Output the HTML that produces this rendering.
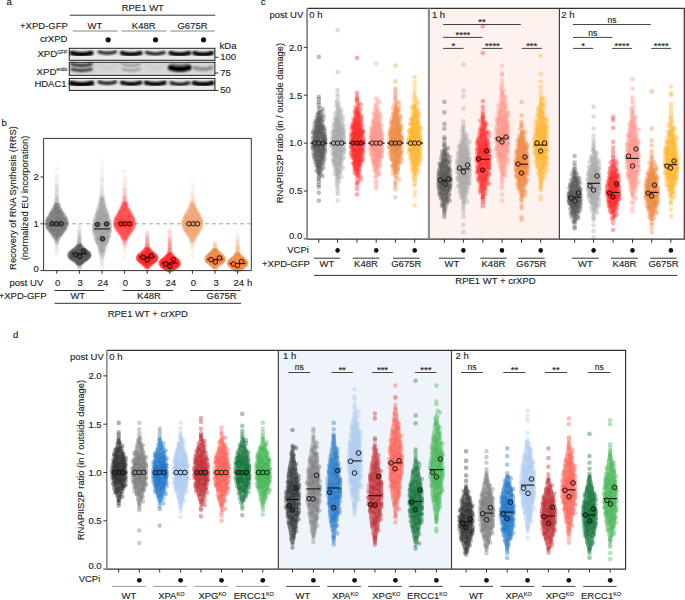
<!DOCTYPE html><html><head><meta charset="utf-8"><style>html,body{margin:0;padding:0;background:#fff}svg{display:block}text{font-family:"Liberation Sans",sans-serif;stroke:#333;stroke-width:0.15px}</style></head><body>
<svg width="685" height="600" viewBox="0 0 685 600">
<defs><filter id="bl" x="-20%" y="-50%" width="140%" height="200%"><feGaussianBlur stdDeviation="0.9"/></filter><filter id="bl2" x="-20%" y="-50%" width="140%" height="200%"><feGaussianBlur stdDeviation="0.6"/></filter></defs>
<text x="6.5" y="4.8" font-size="9.5" text-anchor="start" fill="#111" >a</text>
<text x="142.8" y="11.4" font-size="9.5" text-anchor="middle" fill="#222" >RPE1 WT</text>
<line x1="69.8" y1="15.2" x2="215.3" y2="15.2" stroke="#333" stroke-width="1"/>
<text x="67.8" y="28.5" font-size="9.5" text-anchor="end" fill="#222" >+XPD-GFP</text>
<text x="94.9" y="28.5" font-size="9.5" text-anchor="middle" fill="#222" >WT</text>
<line x1="72.7" y1="31.0" x2="117.7" y2="31.0" stroke="#888" stroke-width="1.2"/>
<text x="143.7" y="28.5" font-size="9.5" text-anchor="middle" fill="#222" >K48R</text>
<line x1="121.5" y1="31.0" x2="166.5" y2="31.0" stroke="#888" stroke-width="1.2"/>
<text x="192.5" y="28.5" font-size="9.5" text-anchor="middle" fill="#222" >G675R</text>
<line x1="170.3" y1="31.0" x2="214.9" y2="31.0" stroke="#888" stroke-width="1.2"/>
<text x="67.4" y="41.8" font-size="9.5" text-anchor="end" fill="#222" >crXPD</text>
<circle cx="108.2" cy="39.8" r="2.6" fill="#111"/>
<circle cx="155.5" cy="39.8" r="2.6" fill="#111"/>
<circle cx="203.5" cy="39.8" r="2.6" fill="#111"/>
<text x="67.2" y="57" font-size="9.7" text-anchor="end" fill="#222">XPD<tspan font-size="4.8" dy="-3.3">GFP</tspan></text>
<text x="67.2" y="74.6" font-size="9.7" text-anchor="end" fill="#222">XPD<tspan font-size="4.8" dy="-3.3">endo</tspan></text>
<text x="66.6" y="86.7" font-size="9.5" text-anchor="end" fill="#222" >HDAC1</text>
<rect x="69.3" y="48.3" width="145.6" height="12.0" fill="#e8e8e8" stroke="#222" stroke-width="1"/>
<g filter="url(#bl)">
<path d="M71.8 53.0 Q81.6 55.8 91.4 53.0" stroke="#000" stroke-width="4.6" fill="none" stroke-linecap="round"/>
<path d="M99.1 51.8 Q107.3 54.6 115.5 51.8" stroke="#111" stroke-width="3.0" fill="none" stroke-linecap="round"/>
<path d="M121.9 53.0 Q131.2 55.8 140.5 53.0" stroke="#000" stroke-width="4.2" fill="none" stroke-linecap="round"/>
<path d="M146.5 52.6 Q155.3 55.4 164.1 52.6" stroke="#111" stroke-width="3.2" fill="none" stroke-linecap="round"/>
<path d="M170.5 53.0 Q179.8 55.8 189.1 53.0" stroke="#000" stroke-width="4.3" fill="none" stroke-linecap="round"/>
<path d="M194.3 53.0 Q203.1 55.8 211.9 53.0" stroke="#000" stroke-width="4.2" fill="none" stroke-linecap="round"/>
</g>
<rect x="69.3" y="62.3" width="145.6" height="13.100000000000009" fill="#d6d6d6" stroke="#222" stroke-width="1"/>
<g filter="url(#bl)">
<path d="M71.8 64.1 Q81.6 66.9 91.4 64.1" stroke="#222" stroke-width="2.8" fill="none" stroke-linecap="round"/>
<path d="M71.8 69.1 Q81.6 71.9 91.4 69.1" stroke="#333" stroke-width="2.8" fill="none" stroke-linecap="round"/>
<path d="M99.3 66.3 Q107.3 69.1 115.3 66.3" stroke="#c8c8c8" stroke-width="2.0" fill="none" stroke-linecap="round"/>
<path d="M122.7 64.2 Q131.2 67.0 139.7 64.2" stroke="#8a8a8a" stroke-width="2.0" fill="none" stroke-linecap="round"/>
<path d="M122.7 69.1 Q131.2 71.9 139.7 69.1" stroke="#8a8a8a" stroke-width="2.0" fill="none" stroke-linecap="round"/>
<path d="M147.3 66.3 Q155.3 69.1 163.3 66.3" stroke="#c8c8c8" stroke-width="2.0" fill="none" stroke-linecap="round"/>
<path d="M170.8 67.6 Q179.8 70.4 188.8 67.6" stroke="#000" stroke-width="5.8" fill="none" stroke-linecap="round"/>
<path d="M171.8 63.6 Q179.8 66.4 187.8 63.6" stroke="#777" stroke-width="2.0" fill="none" stroke-linecap="round"/>
<path d="M194.8 67.7 Q203.1 70.5 211.4 67.7" stroke="#8a8a8a" stroke-width="3.8" fill="none" stroke-linecap="round"/>
</g>
<rect x="69.3" y="78.4" width="145.6" height="12.0" fill="#e8e8e8" stroke="#222" stroke-width="1"/>
<g filter="url(#bl)">
<path d="M71.4 83.1 Q81.6 85.9 91.8 83.1" stroke="#000" stroke-width="5.0" fill="none" stroke-linecap="round"/>
<path d="M99.1 82.0 Q107.3 84.8 115.5 82.0" stroke="#111" stroke-width="3.2" fill="none" stroke-linecap="round"/>
<path d="M121.9 82.7 Q131.2 85.5 140.5 82.7" stroke="#000" stroke-width="4.0" fill="none" stroke-linecap="round"/>
<path d="M146.0 82.7 Q155.3 85.5 164.6 82.7" stroke="#000" stroke-width="4.2" fill="none" stroke-linecap="round"/>
<path d="M170.8 82.9 Q179.8 85.7 188.8 82.9" stroke="#111" stroke-width="3.2" fill="none" stroke-linecap="round"/>
<path d="M193.8 82.9 Q203.1 85.7 212.4 82.9" stroke="#000" stroke-width="4.4" fill="none" stroke-linecap="round"/>
</g>
<text x="219.6" y="48.9" font-size="9.5" text-anchor="start" fill="#222" >kDa</text>
<line x1="215.0" y1="57.3" x2="218.5" y2="57.3" stroke="#333" stroke-width="1"/>
<text x="220.3" y="59.9" font-size="9.5" text-anchor="start" fill="#222" >100</text>
<line x1="215.0" y1="73.0" x2="218.5" y2="73.0" stroke="#333" stroke-width="1"/>
<text x="220.3" y="75.6" font-size="9.5" text-anchor="start" fill="#222" >75</text>
<line x1="215.0" y1="90.4" x2="218.5" y2="90.4" stroke="#333" stroke-width="1"/>
<text x="220.3" y="93.4" font-size="9.5" text-anchor="start" fill="#222" >50</text>
<text x="1.6" y="126.0" font-size="9.5" text-anchor="start" fill="#111" >b</text>
<text transform="translate(15.8,198) rotate(-90)" font-size="9.4" text-anchor="middle" fill="#222">Recovery of RNA Synthesis (RRS)</text>
<text transform="translate(27.8,198) rotate(-90)" font-size="9.4" text-anchor="middle" fill="#222">(normalized EU incorporation)</text>
<line x1="44" y1="223.8" x2="251" y2="223.8" stroke="#999" stroke-width="0.9" stroke-dasharray="4 3"/>
<path d="M57.3 205.4h0m.4 1.6h0m1.9 .9h0m-5.4 .4h0m4.1 1.4h0m-4.8 .9h0m5.4 1h0m-2.4 .1h0m3.1 .5h0m1.7 1h0m-2.8 .2h0m-7.1 .5h0m5.6 .5h0m2 .1h0m-1.2 .3h0m5.4 0h0m-13.5 .5h0m9.9 .3h0m-8.7 .4h0m11.9 .1h0m-13.4 .1h0m12.1 .1h0m-1.4 .2h0m2.4 .1h0m-3.8 .1h0m-1.5 .2h0m7.5 .4h0m-13.8 .4h0m3.5 .4h0m.3 .8h0m8.3 .3h0m-10.8 .3h0m-1.7 .2h0m-1.8 .2h0m2.8 .1h0m15 0h0m-6.4 .3h0m-4.7 0h0m8.8 .3h0m-9.1 .8h0m6 .2h0m-11.6 .3h0m-1.9 .1h0m15.8 .1h0m-16.6 .3h0m3.5 .8h0m-1.9 .1h0m7.3 .4h0m-5.7 .5h0m9.2 .3h0m-.8 .4h0m-1.8 .1h0m.8 1.3h0m.4 .7h0m-7.9 .4h0m-1.2 1.4h0m11.6 .3h0m-4 .1h0m-3.9 .1h0m11.1 .3h0m-11.9 1.4h0m-.1 .7h0m8.4 1.7h0m.3 .7h0m-2.8 1.4h0" stroke="#5a5a5a" stroke-opacity="0.14" stroke-width="4.6" stroke-linecap="round" fill="none"/>
<path d="M55.7 205.3h0m2.3 .8h0m-.7 1.7h0m2.3 2.2h0m1.3 .3h0m-6.2 .5h0m1.3 .3h0m-4.5 .9h0m1.9 .8h0m4 .8h0m.8 .5h0m5.1 .1h0m-8.8 .7h0m-2.8 .5h0m2.1 .1h0m.8 .4h0m.2 .9h0m-5.5 .3h0m2.4 .1h0m-1.6 .2h0m-1.7 .2h0m10.7 1.2h0m-2.3 .7h0m-2.1 1.3h0m-1.8 .1h0m7.7 0h0m-9.6 .2h0m10.7 .1h0m-9.6 .1h0m7.8 0h0m4.2 .4h0m1.2 .2h0m-13.1 1.1h0m9.1 .3h0m1.2 .2h0m-8.3 1h0m6.1 .2h0m1.2 .2h0m-3.8 .4h0m7.3 1.1h0m-1.8 .1h0m-2.6 .6h0m-11.9 .1h0m6.7 .4h0m7.3 .8h0m-7.9 1h0m1.4 1.2h0m-2.5 .6h0m4.1 3h0m-2.8 .7h0m-.6 .4h0m1.2 .4h0m3.7 .5h0m-4.5 .8h0m3 .7h0" stroke="#5a5a5a" stroke-opacity="0.14" stroke-width="4.6" stroke-linecap="round" fill="none"/>
<path d="M55.3 204.6h0m3.6 4.6h0m-1.8 .2h0m-2.7 .7h0m-.7 1.2h0m3.7 0h0m3.8 .1h0m-6.1 .1h0m-1 .4h0m-2.3 .7h0m8.7 .1h0m-2.7 .2h0m-5.1 .7h0m10.3 1.9h0m-9.8 .6h0m2.2 .2h0m8.5 .1h0m1.1 .4h0m-1.4 .2h0m-6 .8h0m-8.3 .1h0m.8 .3h0m5.3 .3h0m-6.1 .2h0m2.7 .1h0m12.6 .2h0m-7.2 0h0m3.9 .4h0m-3.4 .3h0m7.4 .1h0m-7 .6h0m-11.3 .3h0m2.9 .1h0m-.7 .4h0m-2.7 .6h0m15.1 .5h0m-.7 .4h0m-.7 .3h0m-13 .1h0m9.2 .2h0m-6.9 .3h0m15.3 .4h0m-9.9 .1h0m-5.1 1.1h0m4.9 0h0m1.2 .2h0m2.9 .1h0m1.2 .2h0m-10.2 .6h0m-1.7 .1h0m7.5 .1h0m-6.4 .2h0m12.2 0h0m2.8 .1h0m-13.8 .2h0m5.7 .2h0m7.4 .7h0m-12.9 .2h0m-2.7 0h0m1.5 2.1h0m5.5 .7h0m4.1 .3h0m-8.6 .1h0m11.5 .9h0m-2.9 .2h0m-2.9 .1h0m-1 .3h0m1.4 1.2h0m4.9 .3h0m-4.2 4.3h0" stroke="#5a5a5a" stroke-opacity="0.14" stroke-width="4.6" stroke-linecap="round" fill="none"/>
<path d="M54.3 207.1h0m-.9 1.8h0m2.7 .2h0m.3 .8h0m.5 .8h0m-6.6 4.9h0m7.9 .2h0m1 .4h0m1.5 1.2h0m4.8 .7h0m-3.2 .4h0m-1.6 1.3h0m2.2 1.6h0m-.8 1.5h0m-8 0h0m10 1.5h0m-17.3 .7h0m16.1 .7h0m-6.6 .3h0m-9.4 .1h0m12.7 .7h0m-.4 1.1h0m1.9 1.4h0m-8.1 .8h0m5.4 1.7h0m1.8 .2h0m-8.7 .4h0m6.7 2.4h0m-4.2 1h0m2.2 .8h0" stroke="#5a5a5a" stroke-opacity="0.14" stroke-width="4.6" stroke-linecap="round" fill="none"/>
<path d="M52.5 211.0h0m5.6 1h0m.7 .5h0m3.5 1.2h0m-6.5 .9h0m6.2 .5h0m-3.3 .1h0m1.8 .8h0m1.6 1.2h0m-.8 1h0m1.1 1.5h0m-1.2 .8h0m2.4 .5h0m-7.8 0h0m-8.5 .4h0m5.2 .6h0m-1.9 .1h0m9.1 .3h0m-.7 .4h0m-6.4 .8h0m14.1 .3h0m-18.6 .4h0m5 0h0m2.3 .5h0m9.1 .2h0m-1.9 .2h0m-5.6 .5h0m-2.5 .5h0m4 .4h0m-6.4 .2h0m9.5 .6h0m2.8 .1h0m-11.1 .8h0m6.1 .5h0m-9.6 .3h0m7.4 .4h0m2.4 .1h0m-1.5 .3h0m-7.4 .1h0m11.1 .7h0m-4.8 .4h0m-3.5 .7h0m4.9 1.4h0m2.9 .5h0m-7.1 .4h0m4.2 1.7h0" stroke="#5a5a5a" stroke-opacity="0.14" stroke-width="4.6" stroke-linecap="round" fill="none"/>
<path d="M56.7 204.9h0m.2 1.5h0m-.2 2h0m3 2.8h0m-4.1 .9h0m-4.6 1.3h0m13.1 2.5h0m-12.4 .5h0m.9 1.1h0m.9 .3h0m10.8 0h0m-12.5 .2h0m4.2 0h0m3.6 1.6h0m-2.4 .6h0m-8.3 .4h0m2.5 1.1h0m6 .2h0m-4.5 .7h0m-1.9 .2h0m2.3 .4h0m5.4 .6h0m5 0h0m-9.9 .1h0m9.1 .3h0m-13.6 .4h0m16.3 .7h0m-1.9 .1h0m-12.7 .1h0m1.2 .2h0m3 .1h0m2.9 .1h0m-6.5 .2h0m10.5 .2h0m-6.2 2.1h0m1 .3h0m.9 .3h0m-5.1 1.7h0m-2.2 1.3h0m2 .1h0m8.2 .4h0m-1.2 .4h0m-7.8 .4h0m5.7 .3h0m-2.4 .2h0" stroke="#5a5a5a" stroke-opacity="0.14" stroke-width="4.6" stroke-linecap="round" fill="none"/>
<path d="M57.5 204.3h0m.7 .8h0m.4 2.4h0m-3.5 1.2h0m5 .8h0m-7.1 2.7h0m9.3 .7h0m-2.8 .2h0m-6.3 1h0m7 .2h0m-7.7 .4h0m.6 .4h0m-.4 3.2h0m-4.3 .1h0m11.3 0h0m-8.7 .1h0m2 .6h0m7.2 0h0m-4.5 .1h0m-2.1 1.3h0m-.4 1.1h0m3.5 .7h0m10.3 .5h0m-16.5 2h0m-1.8 .2h0m16.1 .7h0m-3.7 .3h0m-1.9 .2h0m-8.2 .4h0m14.2 .4h0m-12.5 .5h0m12.6 .3h0m-3.5 .3h0m-10.1 .4h0m10.2 .4h0m-9.9 .9h0m6.3 1h0m-.6 .6h0m-5.2 0h0m9 .4h0m-3.6 .9h0m-5.4 .2h0m7.8 1.9h0m-6.6 1.8h0m4.8 .3h0m-1.9 1.1h0m1.8 .2h0m-2.8 .2h0m3.1 .5h0m-1 .5h0" stroke="#5a5a5a" stroke-opacity="0.14" stroke-width="4.6" stroke-linecap="round" fill="none"/>
<path d="M59.0 205.7h0m-2.6 1.6h0m-.3 5.3h0m-1.1 .4h0m4.3 .8h0m-3 .1h0m-1.2 .3h0m1.2 2.4h0m3.9 1.3h0m3.4 2h0m-7.1 .7h0m1.1 .2h0m-3.6 .4h0m-5.6 .4h0m7.8 .1h0m-1.8 .1h0m6 .2h0m-1.9 .2h0m-6.8 .2h0m13.4 .6h0m-5.6 .4h0m4.9 0h0m-7.6 .6h0m-.7 .4h0m-3.7 .3h0m-4.9 0h0m12.8 1.7h0m2.1 .5h0m-14.9 0h0m5.8 .2h0m-2.3 .6h0m9.9 .1h0m-8.7 .2h0m2.7 .1h0m2.6 .1h0m6.1 .5h0m-10.2 .9h0m-3.8 .1h0m7.1 .4h0m.8 .3h0m-5.8 0h0m2.3 .1h0m9.3 0h0m-3.6 .1h0m-4.3 1.4h0m6.9 .8h0m-9.6 1.1h0m4.3 .7h0m-3.4 0h0m2.6 .6h0m3.1 .1h0m-3.5 2.1h0m-1.1 .5h0" stroke="#5a5a5a" stroke-opacity="0.14" stroke-width="4.6" stroke-linecap="round" fill="none"/>
<path d="M55.0 207.6h0m-1.6 2.2h0m4.2 .4h0m-2 .2h0m-2.9 1.2h0m4.4 .7h0m4.2 .1h0m-9.1 .7h0m4.5 .1h0m-2.8 .1h0m.6 .5h0m7.3 1.9h0m-5.8 0h0m1.8 .7h0m-6.9 .5h0m3.2 .4h0m5.1 .3h0m-4.1 0h0m2.9 .9h0m2.7 .2h0m-10.4 .3h0m.9 .2h0m2.8 .2h0m1 .2h0m-7.3 0h0m17 .6h0m0 1.1h0m-.1 1h0m-1.8 .2h0m3 .1h0m-8 0h0m-1.9 .1h0m-9.4 .8h0m14.1 .2h0m-9.9 .1h0m-1.9 .2h0m18.3 .5h0m-1.9 .1h0m-7.9 0h0m9.1 .3h0m-6.8 .2h0m1.1 .2h0m1.1 .3h0m4 .3h0m-12.4 .1h0m-4.8 0h0m4.1 .4h0m1.2 .2h0m12.1 0h0m-14.4 .6h0m8.3 .4h0m-1.7 .1h0m-1.7 .2h0m2 .6h0m-4.2 .1h0m1 .3h0m9.8 .4h0m-14.2 .2h0m11 .3h0m-7.5 .1h0m8.2 .2h0m-3.7 .1h0m4.9 .6h0m-3.4 .2h0m.6 2.1h0m-7.9 1.9h0m3.6 1.1h0m.3 1h0" stroke="#5a5a5a" stroke-opacity="0.14" stroke-width="4.6" stroke-linecap="round" fill="none"/>
<path d="M56.2 205.8h0m-1.1 .4h0m.7 1.8h0m1.9 .8h0m2.8 3h0m-4.9 1.7h0m4.8 .1h0m1.8 .8h0m-8.4 .1h0m-3.3 .1h0m10.6 .1h0m-5.9 .6h0m1.7 .7h0m-6.8 .6h0m11 .2h0m-7.8 .2h0m6.4 .1h0m2 .6h0m-4.7 .6h0m6.5 .5h0m-5 .5h0m-9 .1h0m14.6 .1h0m-5.1 .5h0m-4.7 .1h0m7.5 0h0m-12.1 0h0m2.8 .1h0m10.5 .2h0m-3.6 .3h0m-11.3 .3h0m10.7 .1h0m-8.6 .4h0m7.9 0h0m7.8 0h0m-10.4 .6h0m-1.9 .1h0m12.9 0h0m-17.8 .1h0m-.7 .4h0m9.1 .2h0m-10.2 1.2h0m11.1 .1h0m4.2 .4h0m-8.7 .3h0m-5.5 .5h0m16 .7h0m-1.4 1.6h0m-8.8 .1h0m6.3 .5h0m-11.1 .1h0m12 .2h0m3.3 .4h0m-1.6 .2h0m1.5 .7h0m-3.8 .1h0m-9.9 .6h0m11.9 .5h0m-5.9 .6h0m-2.2 .6h0m-.1 .9h0m1.6 .2h0m-.7 2.9h0" stroke="#5a5a5a" stroke-opacity="0.14" stroke-width="4.6" stroke-linecap="round" fill="none"/>
<path d="M55.7 206.8h0m2.5 1.4h0m-2.9 1.4h0m3.6 .9h0m1.4 .2h0m1 3.3h0m-9.4 .3h0m4.6 .7h0m4.3 .3h0m-8.4 .5h0m3.3 1.3h0m.9 .4h0m6.2 .5h0m1.1 .3h0m-10.2 .3h0m2.7 .1h0m-7.9 .5h0m4.8 .6h0m2.8 .1h0m-8.3 .4h0m18.1 .1h0m-14.1 .3h0m5.1 .5h0m2.3 .5h0m-4 1.4h0m11.1 .1h0m-8 0h0m-3.8 .3h0m-6.9 .2h0m14.2 .2h0m-9.9 .1h0m8 .1h0m1.2 .2h0m2.2 .5h0m-11.6 .3h0m15 .4h0m-17.5 .1h0m4.8 0h0m1 1.3h0m3.9 .4h0m-9.5 .6h0m15 .3h0m-11.6 .6h0m1 .3h0m4.9 .2h0m-3.4 1h0m5.7 1h0m-6.4 .3h0m2.6 .6h0m-3.8 .4h0m0 .9h0m6.9 2.1h0m-2.6 .9h0m1.5 .8h0m-2.9 1.7h0" stroke="#5a5a5a" stroke-opacity="0.14" stroke-width="4.6" stroke-linecap="round" fill="none"/>
<path d="M58.9 206.7h0m.4 1.9h0m-5 .7h0m3.9 1.6h0m-3.7 1.6h0m5.4 2.4h0m-8.8 .1h0m6.3 .4h0m-3.4 1.1h0m-1.6 .2h0m5.8 .6h0m5 .2h0m-4.6 .6h0m6.5 .5h0m-3.3 .3h0m-14.2 0h0m18.2 .4h0m-15.1 1.1h0m11.7 .4h0m2.9 .1h0m1.2 .2h0m-4.2 .7h0m-7.5 .7h0m-4.9 0h0m14 .2h0m-14.8 .2h0m14.1 .2h0m-11.8 .3h0m6.2 .2h0m8 0h0m.4 .7h0m-14.8 .1h0m1.7 .9h0m-5.5 .5h0m3 .1h0m6.3 .9h0m6.7 .4h0m-9 .1h0m11.7 0h0m-9 .1h0m-8.8 .2h0m17 .9h0m-15.1 .1h0m1.1 .3h0m4.5 .8h0m5.3 .6h0m-5.4 1h0m7.2 .2h0m-3.2 .1h0m-2.9 1.4h0m2 .8h0m-3.1 .6h0m3.4 .1h0" stroke="#5a5a5a" stroke-opacity="0.14" stroke-width="4.6" stroke-linecap="round" fill="none"/>
<path d="M56.7 188.7h0m-.2 8.1h0m-.2 4.5h0m1.9 2.5h0m-1.3 40.2h0" stroke="#5a5a5a" stroke-opacity="0.07" stroke-width="4.6" stroke-linecap="round" fill="none"/>
<path d="M56.8 200.3h0m-.2 2.2h0m1.3 37.8h0" stroke="#5a5a5a" stroke-opacity="0.07" stroke-width="4.6" stroke-linecap="round" fill="none"/>
<path d="M56.8 187.6h0m.4 11.9h0m.4 1.5h0m-.6 2.4h0m-1.4 36.3h0m1.2 .3h0m-.2 1.9h0" stroke="#5a5a5a" stroke-opacity="0.07" stroke-width="4.6" stroke-linecap="round" fill="none"/>
<path d="M56.7 192.3h0m-.6 7.7h0m1.1 1.8h0m-1.4 1.3h0m.1 38.5h0" stroke="#5a5a5a" stroke-opacity="0.07" stroke-width="4.6" stroke-linecap="round" fill="none"/>
<path d="M56.8 169.0h0m0 10h0m-1.2 23.1h0m2 .8h0" stroke="#5a5a5a" stroke-opacity="0.07" stroke-width="4.6" stroke-linecap="round" fill="none"/>
<path d="M56.8 190.2h0m-.3 4.5h0m.6 1.3h0m-.2 1.4h0m.4 45h0" stroke="#5a5a5a" stroke-opacity="0.07" stroke-width="4.6" stroke-linecap="round" fill="none"/>
<path d="M56.8 186.0h0m0 9.4h0m-.2 3.7h0m-.4 41.6h0m.6 13.4h0" stroke="#5a5a5a" stroke-opacity="0.07" stroke-width="4.6" stroke-linecap="round" fill="none"/>
<path d="M56.8 184.4h0m0 63.9h0" stroke="#5a5a5a" stroke-opacity="0.07" stroke-width="4.6" stroke-linecap="round" fill="none"/>
<path d="M56.8 181.2h0m.4 59.7h0m-.4 9.5h0" stroke="#5a5a5a" stroke-opacity="0.07" stroke-width="4.6" stroke-linecap="round" fill="none"/>
<path d="M56.4 243.1h0" stroke="#5a5a5a" stroke-opacity="0.07" stroke-width="4.6" stroke-linecap="round" fill="none"/>
<path d="M56.8 175.2h0m.6 23h0m-1.2 5.8h0m.9 40.7h0m-.3 2.1h0" stroke="#5a5a5a" stroke-opacity="0.07" stroke-width="4.6" stroke-linecap="round" fill="none"/>
<path d="M57.0 191.8h0m-.1 1.6h0" stroke="#5a5a5a" stroke-opacity="0.07" stroke-width="4.6" stroke-linecap="round" fill="none"/>
<path d="M80.4 246.0h0m-3.3 .8h0m1.9 .1h0m2.8 .8h0m-4.2 .1h0m5.1 .5h0m-3.8 .2h0m2.7 .4h0m1.4 .1h0m.2 .6h0m-2.6 .1h0m-3.2 .5h0m-3 .1h0m1.8 0h0m5.7 .3h0m-8.3 .1h0m7.2 .1h0m-2.6 .2h0m-3.5 .6h0m7 .2h0m-7.8 .5h0m.9 .1h0m2.6 .1h0m-4.1 .4h0m14.4 0h0m-6.1 .2h0m-1.3 .4h0m-1.8 .1h0m7.6 0h0m-12.3 0h0m12.9 .3h0m-12.2 .4h0m.4 .3h0m10.3 .2h0m-3.1 0h0m-4.9 0h0m9.9 0h0m-8.7 .1h0m4.2 .2h0m-5.2 .5h0m1.1 .1h0m4.2 .2h0m6 .1h0m-12.7 0h0m3 .1h0m8.9 .1h0m-16.2 .2h0m11.8 .1h0m4.1 .6h0m1 .1h0m-15.2 .2h0m14.4 0h0m-6.9 .4h0m-3.7 .4h0m6.5 .5h0m-11 .1h0m5.1 .7h0m3.9 .2h0m3.6 .2h0m-3.3 .8h0m-3.4 .3h0m1.4 .2h0m3.6 0h0m-3 2.6h0m-2.4 .1h0" stroke="#3a3a3a" stroke-opacity="0.14" stroke-width="4.6" stroke-linecap="round" fill="none"/>
<path d="M81.0 247.0h0m-1.7 .7h0m-3.4 .3h0m2.2 .8h0m3.4 .7h0m-7.5 .5h0m4.6 0h0m5.5 .3h0m-6.6 .5h0m5.3 .1h0m-7.4 .4h0m10.4 .1h0m-7.4 .1h0m4.7 .2h0m2.1 .3h0m-6.1 .4h0m-8.5 .1h0m3.5 .2h0m6.9 .6h0m-6.4 .1h0m1 .1h0m7.6 0h0m-8.3 .2h0m1.8 0h0m-7.4 .3h0m4.1 .1h0m-1.9 .9h0m5 0h0m4.9 0h0m-6.8 .1h0m3.5 .3h0m-5 .1h0m-3.7 .1h0m15.2 .2h0m-13.5 .2h0m1.8 0h0m7.2 .2h0m8.9 .1h0m-19.1 .1h0m16.5 .2h0m-7.7 0h0m.5 .3h0m4.6 0h0m-1.2 .8h0m-2.9 .6h0m5.6 .3h0m.7 .2h0m-10 .3h0m-.3 .4h0m5.4 .6h0m1.4 1.4h0m-3.5 .7h0m2.3 .9h0m-4 .3h0m2.3 .7h0" stroke="#3a3a3a" stroke-opacity="0.14" stroke-width="4.6" stroke-linecap="round" fill="none"/>
<path d="M78.6 248.0h0m2.3 .4h0m-4 .3h0m3.9 .4h0m-5.8 .4h0m4.6 .4h0m.7 .2h0m2.9 0h0m1.9 .1h0m1 .6h0m-1.1 .1h0m-4.7 .2h0m1.9 .4h0m-1 .6h0m-1.5 .1h0m-6.5 .3h0m9 .3h0m-2.7 0h0m4.3 0h0m-3 1h0m-8.5 .2h0m12.6 0h0m-6.3 .4h0m-7.9 0h0m17.7 0h0m1.2 .1h0m-18.5 .2h0m13.4 .3h0m5.4 .3h0m-8 0h0m-5 0h0m-1.9 .1h0m11.5 .4h0m-14.2 .4h0m7.1 .2h0m5.9 .1h0m-7.7 0h0m-1.9 .6h0m9.4 .3h0m1.8 .3h0m-12.8 .1h0m6.2 .2h0m-8.5 .4h0m12.7 .5h0m-4.8 .7h0m-6.2 .1h0m1.1 .7h0m6.7 .9h0m-1.3 1.2h0m-1.8 .7h0" stroke="#3a3a3a" stroke-opacity="0.14" stroke-width="4.6" stroke-linecap="round" fill="none"/>
<path d="M81.2 245.7h0m0 .7h0m-3.4 2h0m4.4 .2h0m-2.8 .4h0m-4.6 .1h0m2.3 0h0m-.7 .5h0m-1.1 .2h0m7 0h0m-7.4 .7h0m9.1 .2h0m-4.5 .2h0m-5.6 .5h0m0 .5h0m8.3 .3h0m.5 .4h0m-2.2 .3h0m2.2 .3h0m-12 0h0m11.4 .2h0m-4.7 0h0m-6.5 .2h0m17 .4h0m-15.3 .3h0m.4 .3h0m4.9 0h0m11 .1h0m-3.2 .4h0m-5 .1h0m-1 .7h0m5.3 .2h0m-9.7 .1h0m-1.3 .4h0m3.4 .4h0m6.7 .2h0m-10.1 0h0m12.8 .1h0m-6.2 .1h0m-1.9 .7h0m-4 .1h0m13 0h0m-14.5 .1h0m1.1 .1h0m12.6 .1h0m-14 0h0m6.2 .1h0m.9 .1h0m-2.3 0h0m-.3 1.2h0m.8 .3h0m6.2 .1h0m-6.4 .4h0m2.7 1.4h0m.9 .2h0m-2.6 1.4h0" stroke="#3a3a3a" stroke-opacity="0.14" stroke-width="4.6" stroke-linecap="round" fill="none"/>
<path d="M75.9 248.9h0m2.6 .3h0m3.7 1h0m-9.1 .2h0m5.6 .3h0m5.1 .4h0m-4.8 .1h0m-7.2 .1h0m15.1 .3h0m-9.1 .2h0m-4.7 .3h0m11.7 .2h0m-12.5 .1h0m9.4 .1h0m2.6 0h0m-12.9 .1h0m6.7 .6h0m7.4 .6h0m-12.5 0h0m5.9 .1h0m1.2 .1h0m-4.9 .1h0m-3.7 .1h0m12 .2h0m-1.8 .1h0m1.1 .1h0m-3.7 .1h0m10.3 .3h0m-1.9 .1h0m-.7 .1h0m-8 0h0m4.2 .2h0m6.1 .1h0m-1.9 .1h0m-5.9 .7h0m-7.8 0h0m8.9 .1h0m6.9 .2h0m-8.4 .2h0m-4.7 .6h0m2.7 .1h0m-7.1 0h0m3.9 .8h0m1 .2h0m3.9 0h0m-6.6 .2h0m12.6 .3h0m-11.9 .2h0m5.6 .1h0m-6.7 .1h0m7.4 .1h0m2 .1h0m-3.7 .4h0m-.1 1.4h0m-2 .1h0m.3 .9h0m3.2 .4h0" stroke="#3a3a3a" stroke-opacity="0.14" stroke-width="4.6" stroke-linecap="round" fill="none"/>
<path d="M84.9 249.7h0m-.1 1.6h0m-1.3 .1h0m-2.7 .2h0m-4.5 .3h0m6.4 .1h0m1 .1h0m-12.3 .1h0m5.1 .1h0m4.2 0h0m-2.6 0h0m8.5 .5h0m-10.2 .5h0m12.7 .3h0m-4.8 .1h0m-8.3 .2h0m3.8 .6h0m1.2 .2h0m-7.6 .3h0m-2.1 .5h0m-.7 .2h0m1.2 .1h0m3.4 .9h0m9.3 0h0m3.9 .1h0m-16.7 .1h0m2.9 .1h0m7.7 .3h0m-2.7 0h0m-6.6 .3h0m4.3 0h0m-5.9 .1h0m16.4 .1h0m-10.1 .2h0m-6.7 0h0m11.8 .1h0m2.9 1.2h0m-.8 .3h0m-8.3 .1h0m-1.1 .1h0m0 .4h0m6.1 .2h0m-5.3 .1h0m4.1 1.1h0m-3.7 .2h0m5.5 .8h0m-3.7 .1h0m.9 .3h0" stroke="#3a3a3a" stroke-opacity="0.14" stroke-width="4.6" stroke-linecap="round" fill="none"/>
<path d="M80.2 246.7h0m-.4 .5h0m.9 .3h0m-.5 1.2h0m-7.5 2.3h0m11.8 .6h0m1 .1h0m-10.8 .3h0m3.7 .6h0m-2.6 0h0m3 .4h0m4.5 0h0m-9 0h0m12.4 .4h0m-16.8 0h0m9.7 .3h0m-1.8 .1h0m6.4 .4h0m-8.9 .7h0m-5 0h0m9.2 .1h0m-6.8 .2h0m3 0h0m13 0h0m-17.9 0h0m5.4 .3h0m9.1 .1h0m3.1 .1h0m-14.8 .1h0m4.2 .1h0m9 .2h0m-17.5 0h0m11.2 .4h0m-9.4 .1h0m5.8 .1h0m8.7 .1h0m-2.9 0h0m-2.5 .2h0m-9.5 .3h0m13.6 .3h0m-9.1 .3h0m3 .5h0m4.8 .1h0m0 .5h0m-3.5 .1h0m-7 .1h0m6.5 .2h0m7.2 .1h0m-3.1 1h0m-4.2 0h0m-2.5 .6h0m-.6 .3h0m6.7 .6h0" stroke="#3a3a3a" stroke-opacity="0.14" stroke-width="4.6" stroke-linecap="round" fill="none"/>
<path d="M77.9 246.1h0m-.4 3.3h0m.5 .3h0m-1.1 .2h0m2.3 .4h0m1.9 .1h0m2 .1h0m2 .1h0m-11 .3h0m11.9 .2h0m-3.5 .1h0m-6.3 .3h0m11.6 .6h0m-12.2 .1h0m4.5 .4h0m5.3 .1h0m2.8 0h0m-10.4 .2h0m-5.3 .2h0m14.8 .6h0m1.2 .1h0m-17.3 .1h0m2.9 0h0m3.4 .4h0m8.4 .3h0m2.4 .3h0m-.3 .5h0m-3.8 .1h0m-3.1 0h0m1.2 .1h0m-6.8 .1h0m8.4 .3h0m-13.4 .2h0m12.6 0h0m-6.6 .1h0m10.7 .1h0m-5.6 .2h0m5.8 .1h0m-11.1 .2h0m-3.5 .1h0m5.7 .1h0m4.6 0h0m-5.2 .3h0m-3.3 .1h0m11.4 0h0m-9.3 .3h0m9.4 .1h0m-12.5 .1h0m-1.5 .1h0m6.5 .8h0m-1.3 .1h0m7 .4h0m-9.8 .6h0m5.4 .3h0m-2.7 .1h0m7.4 .2h0m-1.2 .2h0m-2.4 .1h0m-1.3 1h0" stroke="#3a3a3a" stroke-opacity="0.14" stroke-width="4.6" stroke-linecap="round" fill="none"/>
<path d="M79.5 246.3h0m-1.1 .2h0m-.8 .6h0m3.8 1h0m-1.7 .2h0m3.9 .5h0m.5 1.1h0m-2.7 .1h0m-3.4 .5h0m3.6 .5h0m2.6 .8h0m-8.8 0h0m11.2 .1h0m-6.4 0h0m7.2 .4h0m-4.1 .1h0m-8.3 .4h0m9.9 .1h0m-11.4 .4h0m11.5 .2h0m-3.1 .5h0m-5.5 .2h0m4.8 0h0m4.2 .1h0m-8.6 .2h0m3.4 .4h0m-2.6 .2h0m-3.8 .2h0m5.5 .2h0m-6.9 .2h0m2.4 .2h0m2.3 .2h0m11.1 .4h0m-8.4 .2h0m5 .3h0m-8 .2h0m-1.7 .1h0m-4.9 .3h0m15 .2h0m-9 .3h0m8.3 .3h0m-3 .2h0m-6.2 0h0m7 .2h0m-1.5 .1h0m-7.1 .1h0m10 .2h0m-6.8 .1h0m7.1 .7h0m-7.6 .1h0m5.9 1h0m-3.8 .6h0" stroke="#3a3a3a" stroke-opacity="0.14" stroke-width="4.6" stroke-linecap="round" fill="none"/>
<path d="M82.1 247.3h0m-3.7 .1h0m-2.6 1.1h0m6.5 .8h0m-3.3 .3h0m1 .9h0m-3.9 .4h0m.7 .3h0m4.4 .1h0m-8.1 .4h0m-1.6 .1h0m.8 .2h0m14 .2h0m-.2 .8h0m-1.7 .1h0m4.5 0h0m-13.6 .1h0m8.5 .1h0m4.6 0h0m-9.2 .1h0m-6.5 .1h0m8.7 .1h0m-11.3 .2h0m7 .2h0m-6.7 .1h0m7.8 0h0m4.2 .2h0m2.3 .2h0m-11 0h0m14.1 .1h0m-3.8 .1h0m-8 0h0m-6.8 .1h0m16.9 .6h0m-16 0h0m13.4 .3h0m6 .1h0m-3.8 .1h0m-12.9 .6h0m-2.8 .5h0m12 0h0m-10.9 .1h0m4.6 .6h0m2.6 0h0m8.6 .4h0m-5.7 .1h0m2.5 .1h0m2.4 0h0m-14.5 .4h0m6.5 .5h0m-3.5 .4h0m8.9 .2h0m-9.9 .3h0m6.9 .5h0m-5.6 .4h0m6.6 .8h0m-3.6 .2h0m-.6 .9h0" stroke="#3a3a3a" stroke-opacity="0.14" stroke-width="4.6" stroke-linecap="round" fill="none"/>
<path d="M79.8 245.6h0m-3 2h0m3.5 .3h0m-3.5 .3h0m-.7 1.1h0m-.4 .8h0m-2.4 1.1h0m4.3 .2h0m-.6 .2h0m2.3 .1h0m-2.1 .4h0m-5.7 .9h0m4.5 0h0m9.5 .2h0m1.7 0h0m-15.5 .2h0m10.9 .4h0m3.5 .3h0m-3 0h0m-3.7 .1h0m9.7 0h0m-13.5 .2h0m4.9 0h0m-8.7 .1h0m.4 .3h0m1.9 0h0m-4.5 .3h0m14.2 .1h0m1.1 .1h0m-10.6 .3h0m6.1 .1h0m1.2 .1h0m-11.7 .1h0m12.1 .2h0m-3.7 .1h0m-3.7 .2h0m1.2 .1h0m-3.6 .2h0m5.9 .1h0m-4.7 0h0m7.9 .4h0m-9 0h0m7.7 .4h0m1.9 .3h0m-2.6 0h0m5.1 .1h0m-9.4 .9h0m6.6 .2h0m-3 .7h0m1.8 .1h0m-4.9 .8h0m4 .1h0m-1.6 .5h0m-2.5 .3h0m.9 .6h0m3.8 1.1h0" stroke="#3a3a3a" stroke-opacity="0.14" stroke-width="4.6" stroke-linecap="round" fill="none"/>
<path d="M78.9 245.8h0m1.1 3.5h0m3.9 .1h0m-7.1 1.2h0m-1.3 .1h0m-.8 .4h0m5.2 .3h0m-7.5 .1h0m6.3 .5h0m7.2 .4h0m1.1 .2h0m-5.9 .1h0m-4.3 0h0m-4.4 .1h0m-1.8 .1h0m6.5 .2h0m2.8 .1h0m8 .3h0m-15.9 .2h0m11.7 .2h0m3.5 .3h0m-17.6 .1h0m17 .1h0m-16.7 .2h0m13.4 .3h0m3.1 0h0m-14.4 .4h0m8 .1h0m-3.3 .4h0m10.9 .1h0m-6.8 .1h0m-6.7 .1h0m10.1 .2h0m1.9 0h0m-15.6 .5h0m16.1 .1h0m-.8 .2h0m-2.5 .4h0m-1.7 .1h0m1.9 .2h0m-11 .1h0m12.8 .3h0m-3.2 .2h0m-5.8 .4h0m8.8 .3h0m-2.8 .2h0m0 .6h0m.5 .3h0m-5.7 .7h0" stroke="#3a3a3a" stroke-opacity="0.14" stroke-width="4.6" stroke-linecap="round" fill="none"/>
<path d="M79.3 238.0h0m0 7h0m-.8 .4h0" stroke="#3a3a3a" stroke-opacity="0.07" stroke-width="4.6" stroke-linecap="round" fill="none"/>
<path d="M79.4 226.2h0m.3 12.9h0m-.3 2.1h0m.5 24.7h0" stroke="#3a3a3a" stroke-opacity="0.07" stroke-width="4.6" stroke-linecap="round" fill="none"/>
<path d="M79.4 232.1h0m.5 11.1h0m.4 .8h0" stroke="#3a3a3a" stroke-opacity="0.07" stroke-width="4.6" stroke-linecap="round" fill="none"/>
<path d="M79.4 238.7h0m.2 1.5h0m-.6 .4h0m-.3 1.9h0" stroke="#3a3a3a" stroke-opacity="0.07" stroke-width="4.6" stroke-linecap="round" fill="none"/>
<path d="M79.4 229.4h0m.4 12h0m-.6 1.5h0m-.2 1.4h0m1.8 20.1h0" stroke="#3a3a3a" stroke-opacity="0.07" stroke-width="4.6" stroke-linecap="round" fill="none"/>
<path d="M79.3 265.3h0" stroke="#3a3a3a" stroke-opacity="0.07" stroke-width="4.6" stroke-linecap="round" fill="none"/>
<path d="M79.4 234.6h0" stroke="#3a3a3a" stroke-opacity="0.07" stroke-width="4.6" stroke-linecap="round" fill="none"/>
<path d="M79.1 241.8h0m.8 2.7h0m-1.6 .2h0" stroke="#3a3a3a" stroke-opacity="0.07" stroke-width="4.6" stroke-linecap="round" fill="none"/>
<path d="M79.3 236.4h0m.1 .6h0m.1 .6h0m-.1 31.2h0" stroke="#3a3a3a" stroke-opacity="0.07" stroke-width="4.6" stroke-linecap="round" fill="none"/>
<path d="M79.4 235.5h0m1 9.6h0m-.5 19.7h0m-.8 1.4h0" stroke="#3a3a3a" stroke-opacity="0.07" stroke-width="4.6" stroke-linecap="round" fill="none"/>
<path d="M79.4 231.1h0m0 2.3h0m-.1 6.2h0m.3 2.5h0m-.1 1.6h0m-.6 20.8h0m.5 3.4h0" stroke="#3a3a3a" stroke-opacity="0.07" stroke-width="4.6" stroke-linecap="round" fill="none"/>
<path d="M78.8 243.5h0m-.4 21.5h0m1.1 1.8h0" stroke="#3a3a3a" stroke-opacity="0.07" stroke-width="4.6" stroke-linecap="round" fill="none"/>
<path d="M104.3 205.9h0m-5.4 .6h0m6.1 .7h0m-5 .9h0m5.7 .3h0m-.6 .6h0m-7.3 2.7h0m4.8 1.6h0m-3.6 .6h0m-.5 1.1h0m1.6 .2h0m6.3 .3h0m-10.3 .3h0m1.7 .2h0m3.6 .4h0m-1.1 .3h0m-3.8 1.1h0m-.6 .8h0m5.3 .1h0m1.6 1h0m4.2 .3h0m-7.5 1h0m1.7 .9h0m3.2 .6h0m-1.4 .3h0m7 .4h0m-8.4 2.6h0m-3.9 .1h0m-4 .1h0m12.8 .1h0m-10 1.2h0m3.4 .5h0m-3.1 .5h0m13.3 1.1h0m-3 .5h0m.9 .4h0m-4 .1h0m-9.9 1.1h0m4.8 .3h0m4.8 .3h0m-5.8 1.1h0m5.5 .7h0m-.5 .7h0m-7.5 1h0m-.3 .8h0m6.3 .5h0m-5.4 0h0m10 2.4h0m-8.6 .4h0m4.2 1.1h0m-.3 1.1h0m-3.3 .7h0m.8 .8h0m1.4 .3h0m3.5 .1h0m-.5 1.5h0m-1.4 1.4h0m-2.3 2h0m4.3 .4h0m-2.9 2h0m2.6 1.9h0" stroke="#8c8c8c" stroke-opacity="0.14" stroke-width="4.6" stroke-linecap="round" fill="none"/>
<path d="M100.9 199.3h0m1.9 1.3h0m-1.1 7.2h0m.4 1.1h0m2.4 .7h0m-6.3 2.9h0m9.1 3.6h0m-3.7 1.9h0m-4.4 .5h0m2.5 2.7h0m-3.6 .1h0m4.5 .3h0m-2 1h0m6.1 .1h0m-9.6 1.1h0m5.7 .7h0m.9 .5h0m5.3 1.3h0m-15 .8h0m13.9 .5h0m2.5 .1h0m-7.1 .6h0m5.9 .7h0m-.7 3.4h0m-6.2 0h0m4.7 .3h0m-1.5 .2h0m2.5 1.3h0m-2.1 1h0m-5.8 2h0m7.2 .3h0m-3.2 .1h0m-8.3 .1h0m2.8 .7h0m-1.1 .4h0m6.8 1.9h0m-2.1 .8h0m3 .5h0m-6.4 .1h0m4.7 4.3h0m-2.7 1.9h0" stroke="#8c8c8c" stroke-opacity="0.14" stroke-width="4.6" stroke-linecap="round" fill="none"/>
<path d="M100.9 203.7h0m3 3h0m-1.3 3.2h0m1.3 .3h0m.6 .9h0m-2.2 .2h0m2.8 1.8h0m1.6 .3h0m-5.1 .3h0m4.2 .1h0m-1.4 2.5h0m-1.1 .3h0m-1.6 1.2h0m5.1 .1h0m-4.4 .5h0m-.5 .8h0m6.4 .5h0m-4.7 .4h0m2.6 3.2h0m-10.6 .8h0m12.5 .1h0m-9.8 1.1h0m.9 .4h0m-3.1 .5h0m12.4 .7h0m-2.1 .9h0m-12.1 .3h0m4.4 .9h0m-3 .5h0m3.4 .6h0m7.3 .4h0m3.4 .6h0m-1.2 2.4h0m-6.6 .7h0m-1.8 1h0m7.8 .2h0m-8.7 1.3h0m7.4 .3h0m2 .2h0m-9.3 1.8h0m.5 1.6h0m6 .3h0m-1.1 .4h0m-7.5 .6h0m3.1 .5h0m5.2 .4h0m-4.6 .4h0m5.1 1.3h0m-3.6 1.4h0m-2.9 0h0m1.6 3.9h0" stroke="#8c8c8c" stroke-opacity="0.14" stroke-width="4.6" stroke-linecap="round" fill="none"/>
<path d="M100.6 198.4h0m2.9 3.2h0m-2.6 .2h0m3.1 1.7h0m.7 1.6h0m-2.4 2h0m-1.7 3h0m1.2 .3h0m4.9 1.8h0m-.8 .5h0m-3.6 1.7h0m.6 .6h0m-3.3 1.2h0m-1.8 1.2h0m.7 .6h0m9.2 .4h0m-1.2 .4h0m-1.2 .3h0m-7.3 1h0m10.9 .9h0m-13.6 .8h0m4.5 .4h0m9.2 .6h0m-1.8 1h0m-.5 .6h0m-6 1h0m1.9 .8h0m2.2 1.9h0m-6.7 1.6h0m-4 .1h0m9 .2h0m-5.5 .3h0m11.3 .4h0m-7 .6h0m-5.9 1h0m2.4 .2h0m8.8 1.3h0m-2.9 .5h0m-5 .4h0m-3.6 .2h0m2.7 1.3h0m9.6 .5h0m-3.3 .1h0m.1 2.8h0m-6.6 .8h0m5 .7h0m3.1 .5h0m-6.8 1.3h0m-1.4 1.1h0m2.7 .6h0m-2.5 .8h0m3 .2h0m-2.2 .9h0m2.5 5.4h0" stroke="#8c8c8c" stroke-opacity="0.14" stroke-width="4.6" stroke-linecap="round" fill="none"/>
<path d="M100.4 201.0h0m2.1 3.9h0m-1.8 2.4h0m.3 1.2h0m4.2 2h0m-5.1 1h0m1.4 .3h0m-2.9 1.4h0m1 1.4h0m6 .3h0m1.5 2.1h0m-6.2 .3h0m-2.3 2h0m1.5 .9h0m-1.4 .3h0m5.3 .8h0m3.1 .7h0m-11 .3h0m3.1 .6h0m8.4 .2h0m-3.7 .1h0m-2.9 .5h0m-.6 .7h0m-3.9 .1h0m2.4 .1h0m-1.5 .3h0m2.4 .1h0m-.3 1.7h0m4 0h0m-8 .1h0m6.5 .1h0m2.5 .2h0m4.3 .9h0m-8 .2h0m5 .3h0m-11.1 .7h0m7.4 .4h0m-6 1h0m10.6 1h0m-7.4 1.3h0m2.4 .2h0m-6.6 .6h0m13.6 1h0m-12.1 .6h0m4.3 2.5h0m-1.1 .3h0m-3.1 .1h0m5 .1h0m5 .1h0m-3.1 .1h0m.6 4h0m.9 2.6h0m.2 2.2h0m-3.1 .7h0m2.3 .1h0m-2.1 1.4h0" stroke="#8c8c8c" stroke-opacity="0.14" stroke-width="4.6" stroke-linecap="round" fill="none"/>
<path d="M101.4 200.3h0m1.5 3.6h0m-1.2 .3h0m-1.4 .5h0m2.5 3.5h0m3 1.8h0m-7 1.2h0m1.8 3h0m.6 .6h0m-3.9 .6h0m8.9 1h0m-9 .5h0m4.9 .1h0m2.8 2.8h0m-3.5 .2h0m-4.7 1.5h0m2.2 .2h0m-4.3 .8h0m7.8 1h0m6.2 0h0m-10.6 .7h0m8.1 .9h0m-1.5 .2h0m-1.5 .3h0m-3 .5h0m-1.5 .2h0m-4 .2h0m12.9 .1h0m-5.2 1.3h0m-1.7 1.9h0m-.2 1.7h0m-5.3 .4h0m14.9 .3h0m-3.9 .1h0m1.7 .8h0m-7.5 .2h0m6.2 1.2h0m-1.4 .3h0m-6.3 .7h0m6.5 .5h0m.7 .5h0m-7.9 .5h0m5 2.5h0m4.6 0h0m-4 .5h0m1.7 .3h0m-2.8 .1h0m-.2 3.1h0m2.5 .6h0m-4.8 1.1h0m4.2 .5h0m-.6 2h0m-3.9 .1h0m2.8 3.5h0" stroke="#8c8c8c" stroke-opacity="0.14" stroke-width="4.6" stroke-linecap="round" fill="none"/>
<path d="M101.7 198.8h0m-2 5.3h0m.8 2h0m2.8 3.2h0m2.1 6.6h0m-7 .6h0m6.7 .3h0m-6 .3h0m6.9 .3h0m1.9 .2h0m.7 1.3h0m-8.7 .1h0m-4 .9h0m11.7 1.3h0m-1.8 1h0m-11.5 3.2h0m2.5 .2h0m12.7 .1h0m-8.5 .8h0m-3.6 1.1h0m1.9 .8h0m-3.1 .5h0m9.9 .6h0m-1.5 .2h0m-8 .3h0m-2 .9h0m4.9 .2h0m6.3 .1h0m2.4 .1h0m-10.7 .7h0m3.3 .6h0m2.3 .2h0m.9 .4h0m-4.2 .8h0m.8 .5h0m8.1 1.4h0m-5.3 1.2h0m-5.6 .8h0m4.6 .9h0m-2.2 .8h0m6.8 .9h0m-7.3 1.2h0m4.9 1.6h0m-4.4 3.6h0" stroke="#8c8c8c" stroke-opacity="0.14" stroke-width="4.6" stroke-linecap="round" fill="none"/>
<path d="M102.2 199.8h0m-.3 1.4h0m-.4 1.4h0m-.5 8.4h0m4.2 .9h0m-5.6 .9h0m4.3 1.9h0m.8 .6h0m-2.8 .1h0m-2.2 2.2h0m.7 .6h0m-3.2 .1h0m-.7 .8h0m-1.3 .3h0m7.1 1h0m7.2 1.7h0m-8 .9h0m4.2 1h0m-3.8 .1h0m6.7 1.1h0m-13.4 .6h0m12.8 .1h0m2 .8h0m-14.1 1.2h0m-.6 .6h0m13 .1h0m-10.5 .1h0m3.4 .5h0m7.4 .5h0m-1.3 1.2h0m-10.8 .7h0m9.2 2.5h0m-4.2 .8h0m5.8 .1h0m-3.6 .1h0m.8 .5h0m-1.3 .2h0m-1.4 .3h0m-2.9 1.5h0m4 .3h0m4.3 1h0m-8.8 .5h0m2.5 .8h0m-.3 1.1h0m6 1h0m-4.8 .4h0m1 4.4h0m-1.2 1.7h0m1.5 1.3h0m-.9 2.5h0m-1.5 1.4h0" stroke="#8c8c8c" stroke-opacity="0.14" stroke-width="4.6" stroke-linecap="round" fill="none"/>
<path d="M103.2 202.8h0m-1.1 .4h0m.8 3.1h0m-1.5 .3h0m-2.4 1h0m.2 1.1h0m.5 2h0m2.3 1.9h0m1.5 .2h0m-2.4 .3h0m3.8 1.2h0m-6.9 .1h0m9.4 .7h0m-11.5 2.1h0m7 .3h0m1.9 .2h0m-9.6 .4h0m12.2 1.1h0m-3.4 .2h0m5.2 .8h0m-12.6 .2h0m3.8 1h0m5.8 .1h0m-1.3 .3h0m-1.4 .2h0m-6.6 .7h0m7.9 .9h0m-10 .1h0m9.4 .6h0m-2.9 .5h0m5.8 .7h0m-1.1 1.3h0m-3.1 .5h0m-8 .2h0m12.4 .7h0m2.5 .2h0m-16.1 .4h0m13 .1h0m1 .4h0m-4 0h0m-4 .1h0m1.8 .8h0m-7.9 .3h0m6.4 0h0m-1.5 .2h0m4.9 .3h0m-6.4 0h0m5.8 .7h0m-1.5 .2h0m6.3 .1h0m-1.3 1.4h0m-1.4 .2h0m-5.2 2.3h0m7.7 .3h0m-2 1.1h0m-.6 .9h0m-5.6 1.8h0m-1.9 .8h0m10.1 .4h0m-3.7 .6h0m-.4 1.2h0m.7 1.7h0m-5.1 .1h0m6.4 1.3h0m-4.6 .2h0m3.7 .6h0m-3.2 .6h0m1.8 1h0m.7 2.3h0m-2.9 1.7h0m1.8 1.3h0m-.7 .6h0" stroke="#8c8c8c" stroke-opacity="0.14" stroke-width="4.6" stroke-linecap="round" fill="none"/>
<path d="M101.4 197.5h0m2.2 2.7h0m.6 2.2h0m-.5 2.1h0m-2.6 .8h0m.9 .4h0m2.5 2.3h0m-.6 .6h0m-4.5 1.1h0m6.5 1.7h0m-5.3 .9h0m3.8 .1h0m-4.3 1.1h0m-3.3 1.2h0m6.8 1h0m-1.1 .3h0m-4.6 2.8h0m10 1.7h0m-7 .2h0m5.7 .1h0m-9.3 0h0m-1.4 .3h0m-1.4 .3h0m14 .3h0m-10.8 1.4h0m2.4 .2h0m-.6 .7h0m8.1 .8h0m-5.4 .4h0m2.8 1.2h0m-4.5 .7h0m-2.2 .9h0m5.9 .7h0m-4 .1h0m5.3 1.3h0m-4.5 .8h0m3.3 .5h0m-4.4 .8h0m-3.4 1.2h0m4.7 .3h0m-3.7 .2h0m.9 .4h0m8.2 1.4h0m-5.6 0h0m-4.7 .4h0m7.6 .2h0m-6.7 .3h0m-.3 .8h0m5.2 .1h0m-1.6 1.1h0m-4.9 0h0m5.7 .6h0m-4 3.9h0m8.6 .5h0m-4.3 .5h0m.4 .9h0m-1.6 4.3h0m4 .3h0m-4.4 1.9h0" stroke="#8c8c8c" stroke-opacity="0.14" stroke-width="4.6" stroke-linecap="round" fill="none"/>
<path d="M102.5 198.0h0m0 4.1h0m.9 3.4h0m-3.7 .2h0m.1 1.2h0m-2.2 4h0m5.3 1.2h0m1.3 1.5h0m-6.7 .1h0m9.1 .8h0m-7.6 1.1h0m1.8 .2h0m7.3 .9h0m-4.1 .5h0m1.6 1h0m-8.4 1.4h0m9 0h0m-6.9 .2h0m5.1 .8h0m-9.2 .1h0m2.3 1.3h0m4.6 .3h0m6 .1h0m-12.7 .6h0m.8 .4h0m2.4 .2h0m11 .3h0m-6.3 0h0m-9.2 .4h0m15 .3h0m-3.9 .1h0m4.8 .3h0m-14.1 .2h0m9.7 .5h0m-1.5 .3h0m2.8 1.2h0m2.5 .1h0m-10.5 .1h0m10.6 2.7h0m-14.4 .1h0m7.4 .5h0m2.4 .1h0m-9.3 .5h0m1.4 1.4h0m5.6 .8h0m-3.7 .1h0m-4.1 .8h0m2.2 .2h0m.6 1.2h0m10.3 2.2h0m-2.5 .7h0m-8.9 .4h0m2.5 1.9h0m-.9 .4h0m4.7 .9h0m-3.3 2h0m3.3 .1h0m.3 7.7h0" stroke="#8c8c8c" stroke-opacity="0.14" stroke-width="4.6" stroke-linecap="round" fill="none"/>
<path d="M103.0 199.2h0m-2.7 3.7h0m3.1 4.6h0m-3.2 1.6h0m-1.9 .3h0m3.1 .1h0m-2.9 .9h0m4.6 .4h0m.6 .8h0m-4.5 .4h0m-2.1 1h0m6.1 1h0m4.3 .1h0m-10.9 2.2h0m7.8 2.2h0m-1.2 .4h0m-2.6 .6h0m5.2 .8h0m-2.7 .6h0m2.2 .2h0m-7 1.4h0m7 .4h0m-10.3 1.8h0m2.1 1.9h0m.9 .4h0m7.4 .4h0m-4 .1h0m2.5 .2h0m-2.1 .9h0m.9 .4h0m2.5 .1h0m-8 .2h0m.8 2.1h0m11.1 .3h0m-3.9 .1h0m-.6 .7h0m-10 .1h0m14.7 .2h0m-13.7 .2h0m-1.4 .3h0m15.2 .6h0m-13.3 .2h0m1.9 .9h0m11.5 .1h0m-7.1 .3h0m-1.8 1h0m2 .2h0m3.4 1.2h0m-1.8 1.3h0m-2.2 .7h0m4.5 .1h0m-10.1 .2h0m3.7 10.2h0m1.9 .2h0m-.6 2.9h0m1.5 1.4h0" stroke="#8c8c8c" stroke-opacity="0.14" stroke-width="4.6" stroke-linecap="round" fill="none"/>
<path d="M101.9 177.2h0m0 15.2h0m-.6 63h0m.5 5.3h0" stroke="#8c8c8c" stroke-opacity="0.07" stroke-width="4.6" stroke-linecap="round" fill="none"/>
<path d="M102.0 164.0h0m-.3 26.2h0m.3 79.5h0" stroke="#8c8c8c" stroke-opacity="0.07" stroke-width="4.6" stroke-linecap="round" fill="none"/>
<path d="M102.6 189.7h0m-.3 1.5h0m.3 1.9h0m-1.2 .5h0" stroke="#8c8c8c" stroke-opacity="0.07" stroke-width="4.6" stroke-linecap="round" fill="none"/>
<path d="M102.0 179.0h0m-.1 6.4h0m-.2 71.7h0m.8 .5h0m-.5 6.6h0" stroke="#8c8c8c" stroke-opacity="0.07" stroke-width="4.6" stroke-linecap="round" fill="none"/>
<path d="M102.3 186.9h0m-.7 .7h0" stroke="#8c8c8c" stroke-opacity="0.07" stroke-width="4.6" stroke-linecap="round" fill="none"/>
<path d="M102.2 194.3h0m.9 .5h0m-.6 64.7h0m-.4 2.1h0" stroke="#8c8c8c" stroke-opacity="0.07" stroke-width="4.6" stroke-linecap="round" fill="none"/>
<path d="M102.2 179.9h0m-1.1 16.4h0m.3 61.7h0" stroke="#8c8c8c" stroke-opacity="0.07" stroke-width="4.6" stroke-linecap="round" fill="none"/>
<path d="M101.9 181.5h0m.1 6.9h0m1 8.7h0m-.8 58.7h0" stroke="#8c8c8c" stroke-opacity="0.07" stroke-width="4.6" stroke-linecap="round" fill="none"/>
<path d="M102.0 168.0h0m0 6h0m-.3 21.2h0" stroke="#8c8c8c" stroke-opacity="0.07" stroke-width="4.6" stroke-linecap="round" fill="none"/>
<path d="M102.0 171.0h0m0 87.9h0m0 7.4h0" stroke="#8c8c8c" stroke-opacity="0.07" stroke-width="4.6" stroke-linecap="round" fill="none"/>
<path d="M102.6 195.9h0m-.6 .9h0m1.1 59.6h0m-1.4 6.8h0" stroke="#8c8c8c" stroke-opacity="0.07" stroke-width="4.6" stroke-linecap="round" fill="none"/>
<path d="M102.0 160.4h0m.1 23h0m-.5 1.1h0m-.3 7.4h0" stroke="#8c8c8c" stroke-opacity="0.07" stroke-width="4.6" stroke-linecap="round" fill="none"/>
<path d="M122.6 205.0h0m4.2 .9h0m-3.1 .2h0m-2.1 2.1h0m5.3 .3h0m.6 .8h0m-1.8 .2h0m-5 .1h0m7 1.9h0m.8 1.4h0m-2.8 .1h0m-5.7 .3h0m.5 .5h0m6 1.5h0m4.4 .3h0m-.6 1.1h0m-13.7 1.8h0m13 .5h0m-10 1h0m13.9 .5h0m-11.8 .1h0m1 .2h0m3.9 .4h0m6.9 .4h0m-6.4 .2h0m-7.6 0h0m-.7 .4h0m4.7 0h0m10.5 .1h0m.5 .7h0m-1.4 .8h0m-17.1 .1h0m12.4 1.7h0m-6.9 .6h0m-4.5 .1h0m7.7 .7h0m3.6 .4h0m1.1 1.9h0m-8.8 .4h0m5.9 0h0m-7.2 .2h0m8 .2h0m-7 .1h0m6.3 .5h0m-1.8 .9h0m-2.1 .6h0m4.5 .1h0m-2.2 .6h0m1.9 .8h0m-2.2 .2h0m2.5 .5h0m-2.1 .2h0m-3.2 1.9h0m4.5 .3h0" stroke="#ff2020" stroke-opacity="0.14" stroke-width="4.6" stroke-linecap="round" fill="none"/>
<path d="M126.2 204.4h0m-3.7 4.1h0m3.1 2.2h0m-3.2 .5h0m1.4 .3h0m.6 .5h0m-5.2 .3h0m9.8 2.5h0m-.3 .6h0m1.9 .7h0m-9.3 1h0m-1.6 .2h0m4.9 .2h0m-.6 .5h0m1.9 .6h0m-5.3 1.7h0m3.9 .4h0m-8.1 .3h0m12 0h0m-.7 .4h0m4.6 0h0m-10.6 .9h0m7.6 .1h0m2.2 .5h0m-14.8 .6h0m7.6 0h0m-4.7 .1h0m10.6 .1h0m4 .3h0m-12.3 0h0m-3.6 .4h0m-.7 .4h0m8.7 .3h0m-9.3 .1h0m16 .3h0m-10.9 .3h0m6.7 .4h0m-9.6 .6h0m1.1 .3h0m5.7 .9h0m-6.7 0h0m6.1 .5h0m.3 .9h0m2.9 1.4h0m.2 1.7h0m-8.7 .7h0m3.1 1.5h0m1.2 .4h0m2.9 1h0" stroke="#ff2020" stroke-opacity="0.14" stroke-width="4.6" stroke-linecap="round" fill="none"/>
<path d="M123.2 203.9h0m2.5 2.4h0m-4.1 .9h0m2.6 3.2h0m4.3 1.7h0m-6.7 0h0m7.6 .5h0m-2.7 .2h0m-2.1 .6h0m3.7 .3h0m-4.1 .4h0m3.9 .3h0m-3.2 .1h0m-5.1 0h0m2.6 .5h0m8.7 0h0m-6.7 .2h0m-1.3 .2h0m-4.9 .3h0m11.4 .1h0m-7.1 .2h0m-2.6 2.1h0m-1.6 .2h0m.1 .7h0m1.9 .6h0m5.4 .2h0m-8.6 .8h0m2.8 .1h0m-1.8 .2h0m4.7 1.7h0m-.7 .4h0m7.6 0h0m-8.3 .4h0m1.1 .3h0m5.9 .1h0m-9.5 .1h0m5.2 .7h0m8.6 .2h0m-17.4 .5h0m10.7 .8h0m-6.2 1.4h0m2.6 .1h0m2.6 .1h0m4.2 0h0m-9.6 1.6h0m11.2 .7h0m-1.6 1.2h0m-5.1 0h0m1.9 .1h0m.6 1.8h0m-4.1 0h0m-.8 .3h0m3.8 2h0" stroke="#ff2020" stroke-opacity="0.14" stroke-width="4.6" stroke-linecap="round" fill="none"/>
<path d="M125.5 203.7h0m-.3 5h0m1.8 1.1h0m-7 1.6h0m11.6 5.1h0m.8 .9h0m-10.3 0h0m6.4 0h0m2.5 .1h0m-13.6 .5h0m5.3 1h0m5.3 .2h0m-.6 .4h0m-3.3 .4h0m7.1 1.1h0m-6.3 .3h0m-4.6 1.7h0m2.9 .1h0m-4.7 .1h0m7.6 0h0m-10.7 1h0m.5 .6h0m4 .4h0m-1.8 .1h0m2.8 1.2h0m6.4 .5h0m.3 .8h0m-3.2 .3h0m-4 .1h0m6.5 0h0m4.1 0h0m-3.1 1.2h0m-4.1 .7h0m7.2 1.2h0m-11 .2h0m-1 .2h0m6.5 .3h0m-3.6 2.4h0m6.4 .2h0m-7 .3h0m3.5 1h0m-2 2.9h0m1.5 .2h0" stroke="#ff2020" stroke-opacity="0.14" stroke-width="4.6" stroke-linecap="round" fill="none"/>
<path d="M126.0 205.4h0m-2.9 1.5h0m3.1 .6h0m-4.4 2.4h0m3.2 .1h0m-2 .2h0m3.9 1.7h0m.6 1.4h0m-2.2 .5h0m-2.3 .5h0m2.7 .6h0m-5.3 .9h0m3 .5h0m-6.8 .5h0m.8 .3h0m.8 .4h0m.8 .3h0m8.5 .6h0m-10 .4h0m14.8 .3h0m-11 .8h0m1 .2h0m3.9 .4h0m-2.4 .6h0m-4.6 .1h0m11.4 .3h0m-12.1 .1h0m14.2 1.5h0m-1.4 .8h0m-1.1 1.5h0m-9.8 .6h0m12.9 .2h0m-3.3 1h0m2.6 .1h0m-11.2 .1h0m12.1 .2h0m-16.8 .3h0m1.2 .3h0m13.9 .4h0m-14.3 .1h0m3.5 .4h0m7 1.3h0m-9 .7h0m2 .2h0m9.1 .8h0m-6.7 .6h0m5.7 .3h0m-3.5 6.4h0" stroke="#ff2020" stroke-opacity="0.14" stroke-width="4.6" stroke-linecap="round" fill="none"/>
<path d="M124.1 203.4h0m1.2 3.6h0m-2.6 2.4h0m5 1.1h0m-3 .6h0m3.8 0h0m-9 1.7h0m10.8 .3h0m-.1 .8h0m-7.9 0h0m6.9 .2h0m2.7 1.8h0m-13 .2h0m6.7 .3h0m-1.4 .3h0m5.7 .5h0m-9.3 .4h0m5.9 .5h0m-3.2 .4h0m3.6 .4h0m-6.8 0h0m.9 .2h0m-4.3 .1h0m12.3 .3h0m-2.2 .6h0m-1.7 .1h0m-4.1 .8h0m3.2 .8h0m-3.6 .3h0m6.9 .4h0m4.7 0h0m-14.1 .2h0m1.1 .2h0m-4.3 .7h0m10.6 .1h0m-1.8 .2h0m-.7 .4h0m-1.4 .8h0m5.8 .2h0m-3.6 .3h0m-7.4 0h0m6.8 .4h0m7.3 .1h0m1 .2h0m-4.5 .1h0m2.8 .1h0m.9 .3h0m-13.1 .2h0m9.1 .6h0m-3.8 .8h0m7.3 .4h0m-8.3 .6h0m2.3 .2h0m-.9 1.2h0m7.2 .2h0m-3.8 .8h0m1.7 .1h0m-7.5 .1h0m3.2 1.3h0m-.2 1h0m3.4 .8h0m-.9 .7h0m-2.6 1.6h0m1.9 .2h0" stroke="#ff2020" stroke-opacity="0.14" stroke-width="4.6" stroke-linecap="round" fill="none"/>
<path d="M126.2 203.2h0m-3.1 2.4h0m2.7 2.5h0m-3.7 2.5h0m1.3 .2h0m-2.3 .2h0m.3 .6h0m7.9 .2h0m-7.6 1.7h0m-3 .1h0m7.4 .6h0m-5 0h0m2.6 .5h0m-3.3 .1h0m1.5 1.7h0m6.1 .1h0m-7.6 .2h0m4.7 .2h0m1.9 .6h0m-1.5 .2h0m6.1 .6h0m-1.5 .1h0m-8.4 .2h0m10.1 .9h0m2.2 .5h0m-10.6 .3h0m7.3 0h0m-11.8 .1h0m12.9 .2h0m-16.5 .1h0m1.4 .9h0m-1.8 .2h0m13.7 .9h0m-8.5 1.4h0m11.6 .4h0m-9.4 .1h0m8.6 .3h0m-6.6 1.3h0m-6.2 .2h0m13.6 .5h0m-7.7 .5h0m-3.1 .3h0m11.7 .3h0m-8.7 .6h0m2.4 .1h0m-6.3 0h0m2.4 .1h0m2.4 .1h0m6.2 .1h0m-.8 .5h0m-13.2 .1h0m8.1 .2h0m4.3 .3h0m-9.3 .7h0m2.9 .6h0m-1.1 .2h0m6.1 1.7h0m-2.4 .1h0m-3.1 .5h0m.4 3h0m3.3 1.2h0" stroke="#ff2020" stroke-opacity="0.14" stroke-width="4.6" stroke-linecap="round" fill="none"/>
<path d="M122.4 207.6h0m5.6 1.2h0m-1.7 .2h0m-2.5 .7h0m2.2 2.5h0m-5.3 .3h0m4.3 .1h0m-2.7 .1h0m4.1 .8h0m3.7 1.1h0m-2.3 .4h0m-8.1 .5h0m7.7 .2h0m-10 .6h0m13.9 .7h0m-3.8 .1h0m2 .6h0m-8 .2h0m9 .1h0m-11.3 .6h0m12 .2h0m-4.8 .6h0m-4.4 0h0m-4.3 .1h0m-1.8 .1h0m12.6 .3h0m2.7 .1h0m-1.1 .9h0m2.7 1.1h0m-2.4 .6h0m-13 .4h0m11.7 .4h0m-1.8 .2h0m-10.1 .5h0m2.2 .5h0m10.5 .1h0m-9.4 .2h0m.5 .6h0m10.2 .2h0m-7.6 1h0m-7.1 0h0m11.5 0h0m-6 .2h0m-6 .3h0m2.3 .5h0m3.6 .4h0m-3 .4h0m2.5 .1h0m-2.8 .4h0m-.5 1.1h0m8 2.5h0m2.1 1.4h0m-7.8 .2h0m1.8 1.7h0m4.9 1.4h0" stroke="#ff2020" stroke-opacity="0.14" stroke-width="4.6" stroke-linecap="round" fill="none"/>
<path d="M124.6 204.1h0m-1.1 4.8h0m-1.9 .2h0m6.7 1h0m-7.5 .3h0m4.5 1.3h0m2.3 .7h0m-4.1 1.3h0m-4.3 .3h0m10.7 1.2h0m-6 .5h0m-4.2 .7h0m3.3 1.3h0m9 .2h0m-11.2 .5h0m3.5 .4h0m-.6 .4h0m-.7 .5h0m7.1 0h0m2.2 .6h0m-14.9 1h0m-1.5 .8h0m12.3 0h0m5.1 .6h0m-2.7 1.6h0m-4.7 .1h0m2.9 .1h0m-10 .5h0m15 .1h0m-1.8 .1h0m-6.4 .3h0m1.1 .2h0m-7.4 0h0m10.2 .1h0m4.5 0h0m-1.7 .1h0m-13.6 .2h0m-3.4 .3h0m11 .4h0m2.7 .1h0m-12.6 1.5h0m13 .1h0m-2.3 .7h0m-1.2 1.1h0m-1.3 .2h0m-5.5 0h0m8.2 .6h0m2.3 .6h0m-7.8 .8h0m-.8 1.3h0m3.6 4.2h0" stroke="#ff2020" stroke-opacity="0.14" stroke-width="4.6" stroke-linecap="round" fill="none"/>
<path d="M123.7 204.5h0m1.5 .2h0m-2.8 1.7h0m.8 1.6h0m1.4 1.2h0m-5.6 5.9h0m7.1 .8h0m.9 .3h0m2.3 .2h0m-.4 .5h0m-5.3 .3h0m4.4 .7h0m-5.6 .3h0m6.1 .5h0m-3.2 .4h0m-5.9 .2h0m-2.5 .6h0m1 .3h0m-1.8 .2h0m9.4 .5h0m7.4 .1h0m-3.4 .3h0m-3.5 .3h0m-3.6 .3h0m8.7 .3h0m-14.1 .2h0m4 .3h0m4 .4h0m5.9 .2h0m2.9 .1h0m-1.8 .1h0m-14.2 .2h0m2.9 .1h0m2 1.6h0m2.2 .5h0m-9 .1h0m16.6 .6h0m.9 .3h0m-10.4 .3h0m-4.3 0h0m13.1 .6h0m-3.3 .4h0m-11.3 1h0m6.1 .1h0m-5 .2h0m10.4 .4h0m-5 2h0m.7 .5h0m-1.2 1.3h0m-.6 1.6h0" stroke="#ff2020" stroke-opacity="0.14" stroke-width="4.6" stroke-linecap="round" fill="none"/>
<path d="M124.2 205.1h0m.7 .7h0m-1 1.5h0m.9 .4h0m-.6 .7h0m4.9 2.3h0m-8.8 1.3h0m2.6 1.2h0m4.3 .8h0m4 .3h0m-9.5 .3h0m-.7 .6h0m4.3 .3h0m-.5 .6h0m1.8 .7h0m-3.8 .1h0m-3.9 .1h0m-2.3 .7h0m16.5 .5h0m-4.1 0h0m4.4 1.2h0m-8.7 .1h0m-6.1 .3h0m11 .4h0m-1.7 .1h0m-.6 .5h0m6.8 .4h0m-12.1 0h0m1.1 .3h0m-1.8 .2h0m4 .3h0m-7.6 0h0m12.3 0h0m-5.4 .4h0m-4.7 .1h0m5.8 .2h0m-10.1 .5h0m13.9 .9h0m-1.8 .1h0m5.8 .2h0m-17 .1h0m4.7 0h0m5.8 .1h0m-3.6 .4h0m5.7 .1h0m-11.5 .7h0m2.2 .6h0m2.8 .1h0m5.2 2.1h0m.8 .4h0m3.1 .4h0m-10.1 .6h0m-.3 .6h0m-.4 2.2h0m6.7 0h0m1.7 .8h0m-3.3 .5h0m-2.2 1.5h0m-.5 .6h0m2.4 .2h0m-1.5 .3h0m-1.5 1h0m2.5 .8h0" stroke="#ff2020" stroke-opacity="0.14" stroke-width="4.6" stroke-linecap="round" fill="none"/>
<path d="M124.5 206.5h0m2.1 .2h0m.7 1.1h0m-1 2.4h0m.7 .8h0m-.8 .3h0m-3.3 .5h0m.5 .6h0m.6 .5h0m-2.8 .1h0m8.1 .4h0m-10.9 1.3h0m8.5 0h0m-9.3 .6h0m4.2 .3h0m6.6 .4h0m-7.3 .2h0m-2.9 .4h0m7.8 .7h0m-1.1 1h0m7.8 .3h0m-16.9 .3h0m14.9 .4h0m2.2 .5h0m-3.9 .8h0m-8.8 .8h0m-4.6 .1h0m13.2 .2h0m2.9 .1h0m-5.3 .5h0m-11.2 .2h0m8.7 .3h0m-7.6 0h0m10.5 .1h0m1.1 .3h0m-1.3 .8h0m-1.8 .1h0m7.6 .1h0m-17.7 .5h0m10.5 .1h0m2.9 .1h0m-3.6 .3h0m3.2 .8h0m-2.4 .6h0m.4 .7h0m-8.5 .1h0m13.7 .1h0m-7.4 .4h0m6.6 .1h0m2.4 .9h0m-9.6 .9h0m8.5 .5h0m-8.9 .1h0m7.5 .2h0m-12 .1h0m7.3 .2h0m-3.2 .1h0m5.8 .5h0m-7.9 .8h0m-.8 .3h0m7.1 2.3h0m1.9 .6h0m-3.1 1.6h0m-1.5 1.2h0" stroke="#ff2020" stroke-opacity="0.14" stroke-width="4.6" stroke-linecap="round" fill="none"/>
<path d="M124.6 171.6h0m-.1 20.9h0m0 49.4h0" stroke="#ff2020" stroke-opacity="0.07" stroke-width="4.6" stroke-linecap="round" fill="none"/>
<path d="M124.7 199.9h0m1.1 40.4h0" stroke="#ff2020" stroke-opacity="0.07" stroke-width="4.6" stroke-linecap="round" fill="none"/>
<path d="M124.6 186.0h0m0 2h0m-.2 10.5h0m.5 4.3h0m-.8 37.8h0" stroke="#ff2020" stroke-opacity="0.07" stroke-width="4.6" stroke-linecap="round" fill="none"/>
<path d="M125.0 196.2h0m-1.5 43.5h0m.8 3.6h0m.3 5.2h0" stroke="#ff2020" stroke-opacity="0.07" stroke-width="4.6" stroke-linecap="round" fill="none"/>
<path d="M124.0 199.4h0" stroke="#ff2020" stroke-opacity="0.07" stroke-width="4.6" stroke-linecap="round" fill="none"/>
<path d="M124.5 189.0h0m.3 4.5h0m-.9 4.3h0m.3 3h0m.8 .4h0m-.4 44.7h0m0 11.1h0" stroke="#ff2020" stroke-opacity="0.07" stroke-width="4.6" stroke-linecap="round" fill="none"/>
<path d="M124.3 196.5h0m.2 5.3h0m.5 39.2h0m-.3 3.3h0" stroke="#ff2020" stroke-opacity="0.07" stroke-width="4.6" stroke-linecap="round" fill="none"/>
<path d="M124.3 194.2h0m.3 .8h0m1 7.3h0m-.8 37.5h0m-1.1 1.7h0" stroke="#ff2020" stroke-opacity="0.07" stroke-width="4.6" stroke-linecap="round" fill="none"/>
<path d="M124.6 190.7h0m-.8 11.8h0" stroke="#ff2020" stroke-opacity="0.07" stroke-width="4.6" stroke-linecap="round" fill="none"/>
<path d="M124.6 176.8h0m0 2h0m0 3h0m.2 9.4h0m0 5.9h0m.3 45.4h0m-.5 8.9h0" stroke="#ff2020" stroke-opacity="0.07" stroke-width="4.6" stroke-linecap="round" fill="none"/>
<path d="M124.6 184.4h0m.9 16.1h0m-2 1.2h0m1.4 43h0" stroke="#ff2020" stroke-opacity="0.07" stroke-width="4.6" stroke-linecap="round" fill="none"/>
<path d="M125.1 198.9h0" stroke="#ff2020" stroke-opacity="0.07" stroke-width="4.6" stroke-linecap="round" fill="none"/>
<path d="M146.3 248.7h0m1.4 .2h0m-2 .5h0m4 1.4h0m.4 1.4h0m-5.8 0h0m2.7 .3h0m-.9 .1h0m-2.5 .1h0m4.7 .3h0m-6.7 .3h0m9.2 .1h0m-5.8 .1h0m-3.2 .6h0m10.3 .3h0m.7 .5h0m-1.8 .3h0m-11.5 .1h0m14.5 .4h0m-1.4 0h0m-5.6 .2h0m-1.6 0h0m7.7 .2h0m2.1 .3h0m-.5 .2h0m-3.2 .1h0m-7.7 .2h0m-1.7 .1h0m6.5 .2h0m-7.9 .2h0m6.6 .2h0m3.5 .6h0m5.6 .1h0m-12.4 .2h0m6.5 .2h0m-6.1 .1h0m5.5 .1h0m5.4 .1h0m-2.7 0h0m-8.8 0h0m-1.6 .1h0m7 0h0m2.7 .1h0m1.2 .4h0m-11 0h0m8.4 0h0m-7.9 .4h0m9.1 .1h0m1 .5h0m-8.1 .3h0m-3.6 0h0m6.2 .5h0m-1.3 .1h0m-4.5 .2h0m8 .3h0m3.7 .1h0m-3.1 .1h0m-.6 .4h0m-2.7 0h0m1.6 .1h0m-2.2 .8h0m-1.4 .5h0m5.4 .4h0m-1.9 .1h0m.2 .5h0m-1.8 .7h0m-.3 .6h0" stroke="#ff0000" stroke-opacity="0.14" stroke-width="4.6" stroke-linecap="round" fill="none"/>
<path d="M146.7 249.2h0m-1.1 1h0m.7 .3h0m-.7 .4h0m3.7 .2h0m-4.5 .1h0m5.6 .1h0m-4.6 0h0m2.7 1.3h0m-5.7 .6h0m7.8 .5h0m-4.8 .5h0m-1.3 .1h0m-1.4 .1h0m5.6 .1h0m-1.3 .1h0m.9 .1h0m-1.4 .1h0m-1.2 .5h0m-5.4 .2h0m15.2 .1h0m-13.5 .2h0m9 0h0m-6.2 .4h0m6.7 0h0m-12.6 .1h0m8.2 .4h0m8.7 0h0m-15.7 0h0m2.7 .1h0m12.4 .1h0m-6 .1h0m-4.4 0h0m10.3 .4h0m-5.1 .2h0m-10 0h0m2.8 0h0m-1.7 .1h0m12.8 .1h0m-10.7 .1h0m3.8 .2h0m-4.5 0h0m11.8 0h0m-5.2 .2h0m.4 .3h0m4.5 0h0m-16.1 0h0m14.3 .1h0m-12.2 .2h0m15.5 .4h0m-3.3 .2h0m-8.5 .1h0m2.6 0h0m2.6 .1h0m6 .2h0m-11.3 .2h0m1.5 .6h0m4.6 .1h0m.9 .1h0m2.9 .2h0m-4.2 .4h0m-5.8 .3h0m9.1 .1h0m-7.9 1h0m7.1 .3h0m-4.8 .1h0m-3 .3h0m6 1.3h0m-1.8 2h0" stroke="#ff0000" stroke-opacity="0.14" stroke-width="4.6" stroke-linecap="round" fill="none"/>
<path d="M150.0 250.4h0m0 1.2h0m-7.9 1h0m.3 .3h0m7.4 .6h0m-.3 .4h0m-8.2 0h0m1.9 .1h0m-2.1 .4h0m5.5 0h0m4.3 .1h0m.9 .2h0m-9.3 0h0m8.9 .3h0m-3.7 0h0m-1.4 .1h0m3.3 .2h0m-1.5 .1h0m-3.9 0h0m-3.8 .4h0m2.5 .1h0m-2.3 .3h0m7.1 .3h0m-4.3 .1h0m9.1 .2h0m3.8 .2h0m-10.5 .1h0m-6.8 .3h0m7.2 .1h0m3.2 .3h0m-3.4 .2h0m-2.4 .2h0m10 .1h0m-.7 .2h0m-5.1 .2h0m-4.4 0h0m3.8 .2h0m-8.8 0h0m17.8 .2h0m-17.3 .2h0m8 .1h0m-2.7 .5h0m2.5 .1h0m.4 .3h0m-1.5 .1h0m4.8 .1h0m-3.9 .1h0m8.6 0h0m-15.1 .2h0m6 0h0m.9 .2h0m4.4 .1h0m-7.1 .1h0m-2.5 .2h0m-1.2 .1h0m9.5 .2h0m-3.7 .3h0m5 .1h0m-4.2 .1h0m2.9 .6h0m-6.9 .5h0m7.6 .1h0m-6 0h0m5 .2h0m-2.2 .1h0m-2.8 1.5h0m3.1 1.2h0" stroke="#ff0000" stroke-opacity="0.14" stroke-width="4.6" stroke-linecap="round" fill="none"/>
<path d="M147.1 248.4h0m1.2 .9h0m-3.5 1.3h0m3.8 0h0m-4.7 .9h0m1.1 .1h0m4.4 .2h0m-.7 .3h0m-5.4 1.3h0m-.7 .3h0m11 0h0m-8.5 .3h0m5.2 .1h0m-7.8 .2h0m.7 .6h0m11.6 .3h0m-4.2 .3h0m-3 .1h0m-1.2 .5h0m-1.3 .4h0m5.3 .1h0m3.8 .2h0m-7.7 .1h0m-3.4 .2h0m6.5 .2h0m6.6 .2h0m-7.2 0h0m-10.7 .1h0m16.6 .3h0m-13.4 .1h0m-1.7 .1h0m15.5 .1h0m-2.8 0h0m-2.3 .2h0m-10 0h0m11.7 0h0m-11.3 .8h0m1 .1h0m11.3 0h0m2.8 .4h0m-5.8 .1h0m2.5 0h0m-10.8 .1h0m.6 .3h0m3.9 0h0m-6.8 .2h0m2.4 .1h0m-1.4 .1h0m8 .3h0m4.4 .5h0m1.2 .4h0m-3.2 0h0m-7.6 1h0m5.3 .6h0m.4 .4h0m-1.8 1.4h0m2.1 .1h0m-3.5 1.3h0" stroke="#ff0000" stroke-opacity="0.14" stroke-width="4.6" stroke-linecap="round" fill="none"/>
<path d="M145.0 249.9h0m-1.1 1.1h0m3 .5h0m4.9 1.7h0m-5 .4h0m-.5 .3h0m5.2 0h0m-7.6 .7h0m-2.2 0h0m8.4 .5h0m-6.7 .2h0m9.6 .2h0m-8.5 .3h0m5 .1h0m-8.2 .1h0m.5 .7h0m6.1 .7h0m-4.1 .3h0m4.5 0h0m-3.4 .1h0m.2 .8h0m6.5 .3h0m-1.4 .4h0m3.6 .1h0m-14.8 .4h0m11.8 .1h0m-3.1 .2h0m0 1h0m-2.6 .2h0m2.9 .3h0m4 .1h0m-3.3 .1h0m-4.3 .1h0m-2 0h0m9.9 .6h0m-6.3 1.7h0m-1.8 .1h0m1.5 1.1h0m2.1 .1h0" stroke="#ff0000" stroke-opacity="0.14" stroke-width="4.6" stroke-linecap="round" fill="none"/>
<path d="M148.1 249.8h0m.6 1.6h0m-.8 .9h0m-1.7 1h0m2.8 0h0m-4.6 .5h0m8.9 .5h0m-2.1 0h0m1.9 .3h0m-12.8 .1h0m4.3 .1h0m9.5 0h0m-15.3 1.1h0m8.5 .3h0m4.7 .3h0m-13.8 0h0m.9 .1h0m7 0h0m4.1 .5h0m-8.8 .1h0m11 .1h0m2.1 .3h0m-1.7 .1h0m-5.1 .2h0m3.8 .1h0m-13.5 .1h0m2.8 .1h0m10.4 .3h0m4.5 0h0m-7.2 0h0m-8.9 .1h0m15.4 .1h0m-13.3 .1h0m12.6 .1h0m-8.8 .1h0m-7.1 .5h0m11.2 0h0m6.2 .5h0m-6.3 .4h0m4.8 .5h0m-1.5 .1h0m-.7 .3h0m-7.4 .3h0m-1.4 .5h0m1.9 .1h0m-4 .2h0m9.9 .2h0m-.2 1.1h0m-7.1 .8h0m2.7 .1h0" stroke="#ff0000" stroke-opacity="0.14" stroke-width="4.6" stroke-linecap="round" fill="none"/>
<path d="M149.1 249.6h0m-3.9 2.4h0m-2.2 .1h0m7.9 .4h0m-6.3 .1h0m.5 .2h0m-3 .7h0m1.7 .1h0m3.7 .2h0m6 .2h0m-5.2 0h0m4.1 .1h0m-8.6 .1h0m6.7 .6h0m-10.3 .3h0m4.9 .5h0m4.9 .1h0m-1.1 .4h0m-7.4 .2h0m-.7 .2h0m12.3 .1h0m-3.3 .2h0m4.8 .3h0m-10.5 .1h0m11.6 0h0m-16 0h0m2.7 .1h0m8.3 .1h0m-4.1 .4h0m-7.2 0h0m17.2 0h0m-17.9 .1h0m11.7 0h0m-1.7 .1h0m4.6 .8h0m-5.1 .2h0m-3.5 .7h0m2.6 0h0m-1.6 .1h0m-6.1 .4h0m3.1 .4h0m-1.4 .1h0m1 .1h0m-1.6 .4h0m2.2 .1h0m.9 .2h0m3.9 1h0m-2.8 0h0m-1 .2h0m2.4 .3h0m-4 0h0m.2 .5h0m5.4 .6h0m3.1 0h0m-1.8 .6h0m.5 .9h0m-1.3 .2h0m-2.9 .1h0" stroke="#ff0000" stroke-opacity="0.14" stroke-width="4.6" stroke-linecap="round" fill="none"/>
<path d="M148.4 248.6h0m-.7 1.7h0m-.5 .4h0m-.7 1.4h0m2.9 .3h0m2.3 .4h0m-2.5 .1h0m-2.6 0h0m4.3 .1h0m-6.9 0h0m4.7 .6h0m0 1.6h0m-1.5 .1h0m4.8 .1h0m-10.9 .2h0m7.4 .2h0m-4.7 .2h0m4.1 0h0m2.6 0h0m2.1 .3h0m-4.3 0h0m-4.2 .1h0m4.7 .3h0m4.8 .3h0m-1.7 0h0m-13.2 .1h0m13 .4h0m-9.6 .3h0m2.1 .2h0m-2.3 .3h0m4.9 .3h0m9.2 .2h0m-13.2 .1h0m-1.7 .1h0m12.5 .1h0m1 .1h0m-13.5 .3h0m4.2 0h0m9.5 .1h0m-.8 .2h0m-4.8 .2h0m-4 0h0m8.1 0h0m1.7 .3h0m-11.3 .5h0m-4 .3h0m13.7 .5h0m-7.4 .8h0m-3.8 .2h0m10.5 .1h0m-1.2 .2h0m-4.2 0h0m1.6 .1h0m-5 .1h0m-.5 .8h0m2 .5h0m.6 .6h0" stroke="#ff0000" stroke-opacity="0.14" stroke-width="4.6" stroke-linecap="round" fill="none"/>
<path d="M146.2 249.7h0m.7 .4h0m-.4 .9h0m1.6 .7h0m2.6 .2h0m-5.1 .4h0m6 0h0m-7.1 .9h0m9.8 1.3h0m-11.6 1h0m-3.2 .2h0m15.6 .1h0m.6 .3h0m-10 .2h0m-1.3 .4h0m1 .1h0m5.5 .1h0m2.1 .3h0m-6.1 .1h0m-3.4 .1h0m8.6 .4h0m-2.3 .3h0m-1.7 .1h0m-6.8 .3h0m4.8 .3h0m.4 .3h0m-7 0h0m8.8 .8h0m-7.2 .2h0m10.8 .3h0m2.4 .1h0m-6.3 0h0m-4.7 .5h0m3.1 .2h0m3.5 0h0m-3.2 .5h0m1.5 .4h0m2.2 1h0m-5 .7h0m3.6 .4h0m-1.7 1.8h0m1.6 .1h0" stroke="#ff0000" stroke-opacity="0.14" stroke-width="4.6" stroke-linecap="round" fill="none"/>
<path d="M145.3 249.0h0m7.3 4.1h0m-4.7 .3h0m4.7 .4h0m-5.5 .3h0m-6.6 .1h0m9.5 .2h0m-.4 .2h0m-3.6 .1h0m-5 .1h0m-1.5 .1h0m9.6 0h0m-5.1 .2h0m-2.2 .3h0m7.3 .1h0m-2.5 0h0m-3 .2h0m10 .2h0m-11.4 .2h0m.9 .1h0m6.9 .1h0m1 .1h0m-1.6 .1h0m-1.3 .4h0m-7 0h0m-.7 .1h0m10.9 .2h0m-9.6 .3h0m11.7 0h0m-2.3 .2h0m4.9 .3h0m-2.8 0h0m1.4 .4h0m-14 .3h0m8.3 .1h0m2 .3h0m-6 .1h0m2.7 0h0m-4.9 .2h0m8.8 .3h0m-1.3 .4h0m-1.6 .1h0m4 0h0m-9.4 .2h0m.9 .1h0m4.4 .8h0m-1 .6h0m1.4 .4h0m2.9 0h0m-7.7 0h0m2.6 1.6h0m3.2 .1h0m-2.7 .3h0m.3 .5h0" stroke="#ff0000" stroke-opacity="0.14" stroke-width="4.6" stroke-linecap="round" fill="none"/>
<path d="M147.6 251.2h0m-.2 .7h0m-3.4 0h0m-.8 .5h0m6.9 .3h0m-2.5 .1h0m2.4 .3h0m-2.7 .1h0m5.4 .3h0m-1 .1h0m-2.6 .6h0m4.7 .8h0m-.4 .3h0m-1.9 .3h0m-5.5 .1h0m6.1 .3h0m2.1 .2h0m-7.5 .2h0m-4.2 0h0m-2.7 0h0m-1.4 .4h0m9.1 .3h0m-9.5 .2h0m7.2 0h0m-.7 .2h0m-4.1 .4h0m4.9 .2h0m-.6 .2h0m1 .2h0m-3.4 .1h0m.9 .6h0m2.7 .1h0m5.3 .1h0m-6.9 0h0m3.6 .1h0m-8.4 .1h0m5.1 .7h0m8.9 0h0m-12.8 0h0m10.4 0h0m-2.2 .3h0m-6.9 .5h0m3.5 0h0m-4.2 .9h0m9.3 .4h0m-4.9 .4h0m3.6 .5h0" stroke="#ff0000" stroke-opacity="0.14" stroke-width="4.6" stroke-linecap="round" fill="none"/>
<path d="M147.3 249.6h0m1.6 .5h0m-.7 .8h0m3.1 .8h0m-5.2 .1h0m-.5 1.3h0m.1 .6h0m2.2 .6h0m-2.7 .2h0m.3 .5h0m-3.8 0h0m10.7 .1h0m-9.9 0h0m2.3 .1h0m-3.8 0h0m13.4 .2h0m.2 .6h0m-15 .1h0m14 .3h0m-14.2 .5h0m14.6 .4h0m-8.4 .3h0m10 .1h0m-16.5 .5h0m7.3 .1h0m1 .1h0m-4.4 0h0m-4.5 0h0m.5 .3h0m9.6 .6h0m-8.6 .1h0m.6 .3h0m2.6 .1h0m-3.1 .1h0m14.1 .2h0m-.7 .6h0m-6.1 0h0m3.8 0h0m.8 .1h0m-2.9 .2h0m5.1 .3h0m-3.5 .1h0m.7 .1h0m-8.8 .1h0m2.9 .2h0m-3.3 .4h0m.9 .2h0m2.4 .8h0m2.4 0h0m-2.9 1.5h0m2 2h0" stroke="#ff0000" stroke-opacity="0.14" stroke-width="4.6" stroke-linecap="round" fill="none"/>
<path d="M147.2 235.3h0m0 4.2h0m.3 5.2h0m-.7 .1h0m1 2.2h0" stroke="#ff0000" stroke-opacity="0.07" stroke-width="4.6" stroke-linecap="round" fill="none"/>
<path d="M147.2 237.7h0m.1 3.4h0m-.1 .9h0m.1 1.4h0" stroke="#ff0000" stroke-opacity="0.07" stroke-width="4.6" stroke-linecap="round" fill="none"/>
<path d="M147.0 243.0h0m-.2 2.9h0m1.6 1.9h0m-1 19.5h0m-.5 .7h0m.6 .4h0" stroke="#ff0000" stroke-opacity="0.07" stroke-width="4.6" stroke-linecap="round" fill="none"/>
<path d="M147.1 238.7h0" stroke="#ff0000" stroke-opacity="0.07" stroke-width="4.6" stroke-linecap="round" fill="none"/>
<path d="M147.7 243.9h0m.1 4.2h0m-1.5 19.1h0m1.9 .4h0" stroke="#ff0000" stroke-opacity="0.07" stroke-width="4.6" stroke-linecap="round" fill="none"/>
<path d="M147.4 239.9h0m.4 5.6h0m-.4 1.9h0" stroke="#ff0000" stroke-opacity="0.07" stroke-width="4.6" stroke-linecap="round" fill="none"/>
<path d="M147.1 240.6h0m.1 4.6h0m-.7 2h0m.7 22h0" stroke="#ff0000" stroke-opacity="0.07" stroke-width="4.6" stroke-linecap="round" fill="none"/>
<path d="M147.2 233.4h0m-.8 13h0m.3 1.5h0m.6 22h0" stroke="#ff0000" stroke-opacity="0.07" stroke-width="4.6" stroke-linecap="round" fill="none"/>
<path d="M147.2 232.0h0m0 4.4h0m-.3 5.4h0m.6 .8h0m0 3.7h0m-.5 .5h0m-1 1.4h0m.8 20.6h0" stroke="#ff0000" stroke-opacity="0.07" stroke-width="4.6" stroke-linecap="round" fill="none"/>
<path d="M147.2 237.3h0m-.1 6.8h0" stroke="#ff0000" stroke-opacity="0.07" stroke-width="4.6" stroke-linecap="round" fill="none"/>
<path d="M169.0 255.0h0m1.8 1.3h0m-3.6 1.3h0m7 .1h0m-8.8 .6h0m9 .3h0m.9 .3h0m-2 .2h0m-4.1 .2h0m.7 .2h0m5.9 .5h0m.8 .4h0m-7.4 .1h0m-5.9 0h0m10.6 .1h0m-5.9 .4h0m-4.6 .2h0m4.9 .1h0m-6.5 0h0m11.1 .3h0m.9 .6h0m4.3 0h0m-3.9 .3h0m4.4 0h0m-5 .2h0m-10.2 .4h0m1.7 0h0m-3.4 .1h0m17.2 .1h0m-13.4 .1h0m4.9 .2h0m2.1 .2h0m-4.5 .1h0m10 0h0m-1.7 .1h0m-15 .1h0m16 0h0m-10.1 .4h0m1 .1h0m9.6 .1h0m-6.9 0h0m6.2 .2h0m-12.1 .4h0m2.9 .4h0m2.4 .1h0m1.8 .2h0m-5.1 .2h0m-1.3 .1h0m-2.6 .2h0m11.8 .6h0m-5 0h0m-2.6 1.1h0" stroke="#ff0000" stroke-opacity="0.14" stroke-width="4.6" stroke-linecap="round" fill="none"/>
<path d="M169.1 255.8h0m.8 .3h0m-1 1.1h0m-2 .1h0m6.5 .1h0m-2 .1h0m-2.9 .2h0m1.3 .2h0m-1.4 .6h0m.6 .2h0m-4 .2h0m9.4 .1h0m1.8 .4h0m-8.8 .3h0m-.6 .3h0m-3.5 0h0m11.3 .1h0m-8.4 .2h0m.8 .1h0m-3 .2h0m.1 .4h0m2.4 0h0m-1.5 .1h0m6.4 0h0m-2.7 .5h0m5.2 .1h0m1 .2h0m-11.1 0h0m5.2 .1h0m-4.2 0h0m10 .4h0m-13.8 .2h0m2.7 .1h0m1 .1h0m5.5 .1h0m-.2 .4h0m-.7 .2h0m-5.1 .2h0m10 .1h0m1.4 .4h0m-13.2 .1h0m9.8 0h0m1 .1h0m-7.6 .2h0m6.9 0h0m2.7 .1h0m-3.3 .1h0m-8.5 .1h0m3.7 .1h0m-5.7 .1h0m11.7 .2h0m-1.9 .6h0m3.1 .2h0m-2.8 .2h0m.8 .1h0m-4.8 .2h0m-1.3 .1h0m2.1 0h0m6 .2h0m-7.5 .3h0m5 0h0m3 .8h0m-6.6 0h0m1.1 1.2h0m-1.6 .2h0" stroke="#ff0000" stroke-opacity="0.14" stroke-width="4.6" stroke-linecap="round" fill="none"/>
<path d="M171.0 253.8h0m-2 .2h0m1.9 .5h0m-2.5 1.1h0m5.1 3.2h0m-6.7 .2h0m8.5 .2h0m-9.2 .2h0m4.6 .3h0m1.7 .3h0m1.9 .4h0m-8.8 .1h0m4.6 .1h0m-1.4 .1h0m2.3 .1h0m-8.5 .3h0m6.5 0h0m7 .4h0m-5.7 .1h0m-2.3 .2h0m6.4 .2h0m-13 .1h0m8 .2h0m-3.3 .1h0m2.7 .1h0m8.2 .1h0m-1.7 .1h0m-7.8 .1h0m8.9 0h0m-15.1 .1h0m10 .1h0m-9.2 .5h0m16.2 0h0m-5.2 .2h0m3.8 .1h0m-10.1 .4h0m-2.8 0h0m6.5 .2h0m5.4 .1h0m1 .1h0m-.8 .2h0m-.5 .5h0m-13.6 .2h0m1.1 .1h0m14.2 0h0m-4.4 .6h0m1.5 .3h0m1.2 .3h0m-10.8 .6h0m7.8 .9h0m.1 1.2h0" stroke="#ff0000" stroke-opacity="0.14" stroke-width="4.6" stroke-linecap="round" fill="none"/>
<path d="M172.2 256.2h0m-5.4 .6h0m4 .3h0m-5.7 .9h0m5.3 .2h0m-3.5 .2h0m4.9 .3h0m-4.4 0h0m2.3 .3h0m3.1 .8h0m-3.9 .3h0m6.7 .2h0m.6 .3h0m-3.3 .5h0m1 .1h0m.5 .3h0m4.1 0h0m-16.6 .1h0m15.1 0h0m-12.5 .1h0m2.9 .3h0m8.6 0h0m-10.3 .1h0m4.4 0h0m-7 0h0m12.3 .1h0m-10.3 .1h0m-1.7 .1h0m-1.4 .3h0m10.7 .7h0m-9.6 .2h0m15.6 .1h0m-12.8 0h0m12.4 .5h0m-1.7 .1h0m-8.8 0h0m1.7 0h0m-6.6 .3h0m5.7 .4h0m-4.7 .2h0m7 .3h0m-1.5 .1h0m.4 .4h0m-.5 .2h0m-5.4 1h0m7.9 .6h0m-5.3 .1h0m7.4 .5h0m-2.9 .7h0m1 .2h0" stroke="#ff0000" stroke-opacity="0.14" stroke-width="4.6" stroke-linecap="round" fill="none"/>
<path d="M170.0 254.8h0m1.7 .2h0m-.2 .5h0m-1.1 .1h0m2 .1h0m-5.5 .6h0m.8 .3h0m3.7 .2h0m.6 .4h0m-3.9 .2h0m-2.1 .1h0m.2 .3h0m3.3 .5h0m3.2 .2h0m-2.6 .1h0m.6 .2h0m-6.4 .5h0m9.7 .3h0m.9 .2h0m-12.2 .1h0m2.7 .2h0m9.4 .6h0m-7.6 .1h0m-3.9 .1h0m12.1 .2h0m-7.7 .4h0m7.8 .2h0m-3.8 .3h0m1 .1h0m3.8 .2h0m-12.1 .2h0m-1.7 .1h0m3.7 .1h0m-4.1 .3h0m11.1 .2h0m1.1 .1h0m-10.1 0h0m1.3 .8h0m5.5 .1h0m-6.1 .1h0m6.4 .2h0m-5.5 .4h0m9.4 .1h0m-6.4 .3h0m1 .1h0m-5.5 .1h0m12.1 .3h0m-9.2 .1h0m7.7 0h0m.7 .1h0m.8 .1h0m-6.5 .3h0m-5.7 0h0m5.2 .2h0m2.1 .1h0m-8.8 0h0m9.5 .7h0m-1.7 .5h0m2.6 0h0m-3.6 .2h0m-4 0h0m.9 .2h0m1.5 .2h0m4.7 .1h0m-4.7 .5h0m3.7 .8h0m-1.4 .2h0m-1.1 .1h0" stroke="#ff0000" stroke-opacity="0.14" stroke-width="4.6" stroke-linecap="round" fill="none"/>
<path d="M165.9 257.1h0m3 1h0m2.2 .3h0m-6.5 .3h0m1.6 .1h0m1.8 .6h0m-2.6 .3h0m-1.4 .5h0m11.2 .3h0m2.3 .9h0m-4.1 0h0m-9.8 .1h0m2.5 .1h0m5.2 .1h0m-1.6 .1h0m7.9 .1h0m-11.2 0h0m-2.3 .3h0m-3.4 .1h0m8.5 .5h0m6.5 .2h0m-11.7 0h0m2.1 .2h0m7.7 .3h0m-.3 .5h0m-12.8 .3h0m16.9 .1h0m-11.5 0h0m-1.1 .4h0m2.6 0h0m-5.8 .1h0m1.1 .2h0m3.6 .1h0m8.2 0h0m1.8 .2h0m-13 0h0m9 .1h0m3.3 .1h0m-6.9 .2h0m4.6 .1h0m-8.4 0h0m-2.7 .1h0m8.2 .1h0m-2.7 .2h0m-1.3 .1h0m5.8 .5h0m-5.3 0h0m.6 .5h0m-1.1 .1h0m-2.7 .1h0m9.7 .5h0m-4.7 .2h0m2.7 .2h0m-2.2 .1h0m.5 .4h0m-3.4 .2h0m1.8 1.2h0" stroke="#ff0000" stroke-opacity="0.14" stroke-width="4.6" stroke-linecap="round" fill="none"/>
<path d="M169.6 255.4h0m-1.9 .6h0m1.6 1.5h0m-1.4 1.4h0m3.6 .1h0m-6 .2h0m7.6 .2h0m2 .1h0m-3.6 .4h0m-9 .4h0m9.5 0h0m-9.5 .4h0m10.9 .1h0m3.8 0h0m-7.9 .6h0m3 .4h0m-6.9 0h0m5.1 .6h0m7.1 0h0m-15.9 0h0m6.4 .2h0m-2.7 0h0m4.4 0h0m8.2 .1h0m-.6 .2h0m-10.6 .1h0m8.3 .1h0m-7.2 0h0m8.7 .4h0m-11.3 .3h0m9.2 .3h0m-10 .4h0m5.4 .1h0m2.3 .5h0m-2.6 0h0m8.5 .2h0m-9.6 .2h0m4.9 .1h0m.8 .1h0m-10.1 0h0m1.4 0h0m-2.8 .1h0m5.7 .3h0m2.5 .4h0m5.5 .1h0m-12.5 .3h0m4.8 .3h0m1.9 .1h0m-4.8 0h0m5.4 .2h0m-6.4 .3h0m7.4 .2h0m-1.2 2.4h0m-1.1 .1h0" stroke="#ff0000" stroke-opacity="0.14" stroke-width="4.6" stroke-linecap="round" fill="none"/>
<path d="M168.1 254.3h0m2.6 .8h0m-2.9 .2h0m1.5 1.1h0m1.4 1.3h0m2.8 .2h0m1.8 .6h0m-1.6 1.4h0m3.1 .3h0m-4.8 .7h0m.4 .4h0m-1.5 .1h0m-8.2 0h0m4.4 .3h0m-5 .2h0m10 .4h0m1.1 .1h0m-1.7 .1h0m-4.4 0h0m-6.5 .6h0m15.6 .1h0m-4.5 .1h0m3.8 .1h0m-10.7 .1h0m6.6 .2h0m-8.9 .1h0m4.5 0h0m-.7 .1h0m4.5 0h0m-1.7 .1h0m-.7 .2h0m5.5 0h0m-7.3 .5h0m2.6 .1h0m1.1 .1h0m-5.8 .1h0m11.9 .1h0m.8 .1h0m-6.6 0h0m-8.2 .1h0m12.5 .2h0m-2.2 .3h0m2.4 .4h0m-4.7 .6h0m.7 .2h0m1.9 .1h0m-4.6 .5h0m1.7 .1h0m-4.1 .9h0m1.4 .1h0m-.6 .2h0m5.1 0h0m-3.5 1h0" stroke="#ff0000" stroke-opacity="0.14" stroke-width="4.6" stroke-linecap="round" fill="none"/>
<path d="M168.5 254.7h0m4.3 2.9h0m-.8 .7h0m-6.2 .2h0m4.6 .7h0m5.7 .5h0m-10 .1h0m4.2 .2h0m-2.7 .2h0m5.3 .2h0m-8.2 0h0m12.9 .2h0m-11.3 .1h0m-1.5 .1h0m.9 .1h0m11.2 .1h0m-.5 .2h0m-10.5 .1h0m5.9 .2h0m1.5 .4h0m-1.4 .9h0m-8.9 .1h0m2.8 0h0m7.2 0h0m-.7 .2h0m-5.1 .2h0m1.1 .1h0m3.5 .6h0m-9.9 0h0m2.7 0h0m13.9 .5h0m-14.6 .2h0m14.8 .1h0m-4.2 .1h0m-8.5 .5h0m-4.4 .3h0m4.9 .1h0m7.2 .5h0m2.1 .1h0m-2.1 .4h0m2.5 .2h0m-2.1 .5h0m-1.2 .1h0m-7.8 .6h0m3.6 .6h0m5.2 0h0m-5.2 .8h0" stroke="#ff0000" stroke-opacity="0.14" stroke-width="4.6" stroke-linecap="round" fill="none"/>
<path d="M169.4 254.5h0m3.6 2.2h0m-3.3 .2h0m2.9 0h0m-4.8 .1h0m3.5 1h0m1.5 .1h0m-6.3 0h0m1.4 .1h0m5.7 .2h0m-6.3 .8h0m3.8 .2h0m.8 .2h0m-2.4 .2h0m-4.8 .2h0m8.6 .2h0m-2.7 .2h0m.9 .1h0m-3.7 .1h0m1.7 .3h0m4.9 .1h0m-3.9 0h0m7.4 .2h0m-10.5 0h0m-3.1 .1h0m13.8 .4h0m-16.9 .1h0m9.5 .1h0m8 .1h0m-16.3 .2h0m8.7 0h0m-3.4 .1h0m8.2 .2h0m-3.4 .1h0m-1.6 .1h0m3.8 .1h0m4.4 0h0m-10.6 .1h0m5.5 .1h0m4.5 0h0m-8.9 0h0m-6.9 .3h0m8.3 .1h0m-4.5 .1h0m8.4 .1h0m2.7 0h0m-10 0h0m1.1 .1h0m-7.3 0h0m13.8 .2h0m-14.4 0h0m12 .2h0m-4 .4h0m5.4 0h0m3.8 .5h0m-4.2 0h0m-9.1 1.1h0m.6 .4h0m3.5 0h0m-4.7 .1h0m5 .3h0m6.2 .4h0m-9.6 .3h0m5.5 .6h0m1.7 .8h0m-3.2 .8h0" stroke="#ff0000" stroke-opacity="0.14" stroke-width="4.6" stroke-linecap="round" fill="none"/>
<path d="M170.3 254.1h0m1.6 2.4h0m-1.6 .1h0m1.8 1.2h0m-4.6 .1h0m6.9 .3h0m-1.9 .7h0m-4 .2h0m3.8 .1h0m1.9 .1h0m-9.4 .2h0m3.9 .1h0m1.1 .6h0m6 .7h0m-9 .5h0m-1.6 .1h0m-2.4 .2h0m5.6 .5h0m8.4 .9h0m-7.9 .1h0m1.7 0h0m-6.8 .2h0m13.4 0h0m-7.5 .4h0m-6.1 .1h0m15.4 .1h0m-15.6 .4h0m11.5 0h0m-12.6 .3h0m3.2 .4h0m6.1 .2h0m2.4 .1h0m-6.5 0h0m-1.4 .6h0m-2.4 0h0m-.3 .2h0m13.9 .1h0m-4.3 .3h0m2 .1h0m-9.9 .1h0m4.4 .6h0m-2.1 .3h0m1.7 .1h0m1.2 .6h0" stroke="#ff0000" stroke-opacity="0.14" stroke-width="4.6" stroke-linecap="round" fill="none"/>
<path d="M171.2 255.9h0m-2.8 .3h0m.2 .5h0m1.5 .6h0m-6.3 1.8h0m-.3 .5h0m3.2 0h0m-2.6 .2h0m4.1 .1h0m2.9 .2h0m-2.7 .2h0m4 .4h0m-10.7 .2h0m8.2 .3h0m5 .1h0m1.6 .5h0m.5 .3h0m-10.3 .1h0m11.2 1h0m-16.9 .2h0m11.1 .2h0m-11.7 0h0m15.5 .1h0m-5.8 .4h0m-7.1 0h0m4.4 0h0m-5.6 .3h0m-.5 .2h0m12.2 .1h0m-.6 .2h0m-1.7 .1h0m-3.1 .2h0m-1.1 .4h0m4.8 .1h0m5.6 .2h0m-9.4 1.1h0m-2 0h0m-1.1 .1h0m8.7 .2h0m.9 .4h0m-3.8 1h0m-.4 .7h0m.8 .2h0m-3.7 .1h0m0 .4h0" stroke="#ff0000" stroke-opacity="0.14" stroke-width="4.6" stroke-linecap="round" fill="none"/>
<path d="M169.8 237.3h0m0 8.8h0m.4 .6h0m-.4 4h0m0 3h0" stroke="#ff0000" stroke-opacity="0.07" stroke-width="4.6" stroke-linecap="round" fill="none"/>
<path d="M169.8 222.5h0m0 9.6h0m-.5 18.2h0m.1 2.7h0" stroke="#ff0000" stroke-opacity="0.07" stroke-width="4.6" stroke-linecap="round" fill="none"/>
<path d="M170.0 247.3h0" stroke="#ff0000" stroke-opacity="0.07" stroke-width="4.6" stroke-linecap="round" fill="none"/>
<path d="M169.7 249.8h0m.3 2.9h0" stroke="#ff0000" stroke-opacity="0.07" stroke-width="4.6" stroke-linecap="round" fill="none"/>
<path d="M169.8 232.7h0m0 7.7h0m-.1 3.1h0m0 3.6h0m-.3 .7h0m1 4.4h0m-1.2 .2h0" stroke="#ff0000" stroke-opacity="0.07" stroke-width="4.6" stroke-linecap="round" fill="none"/>
<path d="M169.9 240.9h0m-.1 1.6h0m-.3 1.9h0m.2 .5h0m.7 6h0" stroke="#ff0000" stroke-opacity="0.07" stroke-width="4.6" stroke-linecap="round" fill="none"/>
<path d="M169.8 234.9h0m0 1h0m.1 8h0m-.7 5.6h0" stroke="#ff0000" stroke-opacity="0.07" stroke-width="4.6" stroke-linecap="round" fill="none"/>
<path d="M169.8 229.7h0m-1.1 23.8h0" stroke="#ff0000" stroke-opacity="0.07" stroke-width="4.6" stroke-linecap="round" fill="none"/>
<path d="M169.8 239.9h0m.2 5.5h0m.1 4.6h0m-1.1 1.7h0m1.9 1.3h0m-.5 .3h0" stroke="#ff0000" stroke-opacity="0.07" stroke-width="4.6" stroke-linecap="round" fill="none"/>
<path d="M169.8 238.0h0m0 .8h0m.2 4h0" stroke="#ff0000" stroke-opacity="0.07" stroke-width="4.6" stroke-linecap="round" fill="none"/>
<path d="M169.6 245.6h0m.2 2.5h0m.1 1h0m-.4 2.1h0m.6 .4h0" stroke="#ff0000" stroke-opacity="0.07" stroke-width="4.6" stroke-linecap="round" fill="none"/>
<path d="M169.7 241.8h0m.5 6.6h0m-.7 .3h0m.2 3.3h0" stroke="#ff0000" stroke-opacity="0.07" stroke-width="4.6" stroke-linecap="round" fill="none"/>
<path d="M191.3 206.7h0m.8 .5h0m-1.1 2.2h0m.3 .8h0m2.5 .5h0m-5.2 .7h0m3.8 1.5h0m-5.3 .3h0m1.5 .2h0m2.3 .6h0m.6 .4h0m-1 1.3h0m-5.5 .9h0m2.1 .1h0m11.3 .7h0m-7.5 .1h0m-5.9 1.6h0m3.4 .4h0m-.7 .4h0m5.2 .2h0m7.4 .8h0m-5 .5h0m2.8 .1h0m-14.9 .3h0m13.6 .5h0m-11.6 .1h0m9.9 .1h0m.5 .6h0m-7.3 0h0m2.8 .1h0m-5.2 .5h0m14.6 0h0m-1.1 1.5h0m-14.3 0h0m13.6 .5h0m-3 1h0m-5.9 1.5h0m-2.3 1.1h0m3.7 0h0m4.5 .2h0m-8.8 1h0m8.8 .9h0m-3.8 1.6h0m-4.2 .8h0m7.9 .8h0m-4.2 3.3h0m2 1.7h0" stroke="#f0955c" stroke-opacity="0.14" stroke-width="4.6" stroke-linecap="round" fill="none"/>
<path d="M191.3 205.2h0m2.3 .9h0m-1.1 .2h0m-1 1.5h0m.2 1.1h0m4.6 1.2h0m-7.9 .6h0m2.5 .5h0m3.5 .1h0m-2.2 .2h0m-2.3 .1h0m-.6 1h0m8.2 .1h0m-8.3 1.1h0m-.7 .7h0m8.8 .4h0m-8.8 .7h0m5.3 0h0m2.1 .2h0m-6 .5h0m1.6 .7h0m4.5 .2h0m-.4 .6h0m-3.8 0h0m2.4 .2h0m-6.9 .4h0m3.6 1.2h0m-5.8 .2h0m5.2 .2h0m-5.9 .3h0m5.2 .2h0m-1.6 .1h0m7.9 .3h0m-10 1h0m13.7 .5h0m-3 1h0m-.6 .4h0m-5.2 .5h0m9.3 .5h0m-4.4 .1h0m-8.9 .1h0m9.9 .1h0m-7.1 0h0m10.8 .4h0m1 .3h0m-4.3 0h0m-8.7 .2h0m-1.7 .1h0m8.3 1h0m3.5 .4h0m-6.6 0h0m9.1 .1h0m-10.7 .1h0m2.5 .1h0m-8 .1h0m2.5 .1h0m10.4 0h0m-3.1 .4h0m3.2 .4h0m-12.6 .4h0m11.8 2h0m.6 .4h0m-9 .3h0m4.3 .8h0m-4.4 0h0m6 .2h0m1.5 .2h0m-2.6 .1h0m3.3 1.7h0m-2.6 2.4h0m-.3 2.9h0m-2.1 .3h0" stroke="#f0955c" stroke-opacity="0.14" stroke-width="4.6" stroke-linecap="round" fill="none"/>
<path d="M194.2 207.3h0m-4.3 .9h0m5.6 1h0m-6.3 .4h0m-.3 2.4h0m-1 .3h0m9.6 1.2h0m-5.5 .2h0m-5.3 .7h0m11.7 .2h0m-2.2 .6h0m.2 1.5h0m-1.3 .2h0m-7.3 .2h0m1.7 .6h0m-5.3 1.8h0m14.4 .4h0m2.7 .1h0m-15.3 .1h0m9.5 .1h0m-2.2 .6h0m1 .3h0m2.1 .5h0m-7.8 .4h0m-4.1 .8h0m2.8 .1h0m12.7 .2h0m-16.4 1.2h0m3.8 .3h0m4.9 .6h0m-8.8 .1h0m14.2 .1h0m-12 .5h0m14.2 .7h0m-1.6 .2h0m-4.2 .1h0m-2.4 1.9h0m-5.2 .2h0m8.6 2h0m-5.7 1.3h0m1.4 2h0m-1.4 2.7h0" stroke="#f0955c" stroke-opacity="0.14" stroke-width="4.6" stroke-linecap="round" fill="none"/>
<path d="M192.6 203.6h0m.5 .8h0m.7 3.6h0m-.6 2h0m1.3 .2h0m2.1 1h0m-9 .6h0m6.7 .5h0m4.1 1.6h0m-2.8 .1h0m-1.4 1h0m-1.2 .2h0m2 .2h0m-8.6 1h0m2.1 .1h0m5.2 .6h0m3.3 .5h0m.5 .8h0m-4.4 .5h0m6.5 .1h0m-1.5 .1h0m-5.6 .3h0m5.1 .2h0m3.2 .8h0m-4.3 .1h0m-10.2 .3h0m5.7 .9h0m2.7 .1h0m5.5 .2h0m1.5 .9h0m-8.5 .8h0m8.3 .3h0m-15.1 .3h0m12 .7h0m2.8 .1h0m-6.2 .2h0m-5.6 .9h0m2.7 .1h0m-7 0h0m14.2 1.5h0m-3 1.2h0m-1.4 .2h0m-8.7 .3h0m3.6 0h0m8.1 .1h0m-9.4 .1h0m-3.6 .1h0m4.5 .2h0m9.1 0h0m-6.3 2.2h0m-.6 1.7h0m1 1.3h0m1.2 .3h0m-4.9 .1h0m4 5.2h0" stroke="#f0955c" stroke-opacity="0.14" stroke-width="4.6" stroke-linecap="round" fill="none"/>
<path d="M190.8 208.5h0m2 .6h0m-3.5 1.2h0m.3 .7h0m5.5 .9h0m-3.3 .5h0m1.3 1h0m3.5 .4h0m.9 .4h0m-9.7 1h0m-.7 .6h0m7.1 .8h0m-7.1 1h0m3.2 .4h0m-.6 .5h0m4.9 .3h0m1 .2h0m5.1 .3h0m-5.7 .2h0m5.2 .2h0m-3.2 1.5h0m-5.7 .9h0m-1.7 .2h0m11.7 0h0m-10.6 .2h0m-5.8 .9h0m2.1 .5h0m5.5 .2h0m-7.2 0h0m12.8 .2h0m-3.4 .3h0m-6.2 .3h0m2.5 1.2h0m-.6 .4h0m2.7 .1h0m-5.9 .2h0m1.1 .3h0m2.6 .1h0m-6.8 0h0m1.7 1h0m9.2 1.9h0m-9.1 0h0m5.2 .6h0m-4.3 .4h0m12.1 .2h0m-11.2 .2h0m1.6 2.6h0m2.6 5.2h0" stroke="#f0955c" stroke-opacity="0.14" stroke-width="4.6" stroke-linecap="round" fill="none"/>
<path d="M192.3 204.9h0m.6 .5h0m3 6.1h0m-2.3 .2h0m1.7 3h0m-4.3 .4h0m6.7 1.4h0m2 .6h0m-13.3 .2h0m8.3 .1h0m-1.5 .2h0m-7.5 1h0m-1.6 .2h0m4.9 .2h0m2.5 .1h0m-5.7 .3h0m2.8 .8h0m2 .5h0m8 .3h0m-8.7 .2h0m-6 .2h0m2.7 .1h0m10.9 .4h0m.4 .7h0m2.8 .1h0m-2.4 .5h0m-11.7 .1h0m12.8 .2h0m-5.1 .5h0m-.3 1h0m-2.3 .6h0m8 .3h0m-6 .2h0m5.5 1h0m-1.6 .1h0m-10.9 .1h0m1.6 1h0m-1.4 .2h0m1 .3h0m6.1 .1h0m-1.4 .2h0m1.7 .6h0m3.5 .9h0m-7.9 .4h0m-3.2 .7h0m4.2 1.7h0m3 .4h0m2.7 .4h0m-2 .9h0m-5.2 0h0m.8 .8h0m-.5 .5h0m2.7 .2h0m-1.6 .2h0m3.2 1.7h0m-3 1.3h0" stroke="#f0955c" stroke-opacity="0.14" stroke-width="4.6" stroke-linecap="round" fill="none"/>
<path d="M193.8 205.1h0m-1.9 .8h0m3.3 1.8h0m-1.3 1.7h0m-1.4 1h0m.3 1.7h0m2.2 .7h0m-1.2 1.1h0m-4.1 .4h0m.7 .4h0m1.8 .2h0m5.8 1h0m-5.5 0h0m-6.8 .1h0m13 .8h0m-12.1 2.1h0m5.3 .9h0m6.2 .5h0m1.1 .3h0m-11.9 .5h0m5.3 .2h0m7.1 0h0m-9.4 .6h0m2.7 .1h0m-4 .7h0m8.3 .3h0m-13.5 .2h0m4.9 .6h0m5.7 1.9h0m-7.1 0h0m5.4 .2h0m-4.9 .5h0m-3.2 .3h0m5.3 .2h0m3.5 .4h0m-4.1 .1h0m10.8 0h0m-4.1 0h0m.9 .3h0m1.7 .6h0m-14.2 .1h0m12.7 .9h0m-5.1 .3h0m-4.8 .3h0m9.9 .3h0m.9 1.8h0m-2.9 .1h0m-3.9 .4h0m-1.1 1.2h0m5.2 .3h0m-6.7 .4h0m1.5 .3h0m1.3 .2h0m2.6 1.4h0m-.7 .6h0m1.5 .8h0" stroke="#f0955c" stroke-opacity="0.14" stroke-width="4.6" stroke-linecap="round" fill="none"/>
<path d="M194.4 209.0h0m-4.2 .9h0m1.5 .9h0m2.4 2.3h0m-2.7 .1h0m-2.3 1.7h0m9.1 .4h0m-11.7 .1h0m10.6 .1h0m2.1 .2h0m-4.6 .3h0m-3.4 .1h0m6.2 .9h0m-7.3 .2h0m2.2 .1h0m-3.7 .1h0m.2 .8h0m11.2 .3h0m-3.4 .8h0m-9.9 .4h0m7.2 .7h0m3.7 .4h0m3.7 .3h0m-2.2 .6h0m-3.3 .3h0m3.2 .8h0m-7.3 0h0m2.8 .1h0m-6.8 .6h0m2.7 .1h0m4.5 0h0m-11.7 0h0m1 .2h0m14.5 .1h0m-3.4 .3h0m-3.4 .3h0m-6.1 .3h0m3.1 .7h0m4.4 0h0m2.1 .5h0m5.3 .2h0m-3.4 .3h0m-8.5 .1h0m-1 .9h0m7.5 .4h0m.9 .3h0m.8 .3h0m-7.7 .1h0m7.1 1.2h0m-3.5 .1h0m.8 .4h0m2 .1h0m2.6 .5h0m-9.5 .3h0m3.8 .3h0m-3 .1h0m-.3 1.5h0m7.1 .5h0m-4.3 .9h0m-.8 1.7h0m-.8 1.3h0m2.9 .6h0" stroke="#f0955c" stroke-opacity="0.14" stroke-width="4.6" stroke-linecap="round" fill="none"/>
<path d="M190.9 204.6h0m-.2 1.6h0m3.8 .3h0m-3.8 .9h0m4.1 1h0m1 2.1h0m.9 1.6h0m-6.4 .1h0m.5 .5h0m-2.6 .2h0m2.1 .6h0m-2.8 .2h0m-.3 1.1h0m4.6 .7h0m5 .6h0m-9 .1h0m7.7 .2h0m3.5 1.8h0m-3.9 .1h0m-4.5 .5h0m6.5 .1h0m-9.7 .3h0m2.6 .1h0m9.1 .1h0m-13.8 1.1h0m-.7 .5h0m1 .2h0m3.7 .4h0m11.5 0h0m-13.2 .2h0m10.9 .4h0m-10.6 .2h0m-4.4 .1h0m9.9 .1h0m-7.2 0h0m10 .1h0m-6.2 .3h0m-.6 .4h0m.4 .6h0m-1.7 .2h0m11.7 0h0m-10.7 .2h0m7.3 .1h0m-13.4 .2h0m.5 1.8h0m2.7 .1h0m5.3 .2h0m1 .2h0m4.1 0h0m-2.2 .6h0m-8.1 .1h0m6.8 .8h0m-2.9 .4h0m3.2 .5h0m-1 1.1h0m-6.6 .2h0m10.6 .1h0m-.1 1h0m.5 .5h0m-2.9 .1h0m-3.7 .4h0m-1.7 .7h0m4 .1h0m.5 .6h0m1.3 .2h0m.5 1.4h0m-3 1.3h0m.9 .5h0m-.5 .8h0m2.3 .8h0" stroke="#f0955c" stroke-opacity="0.14" stroke-width="4.6" stroke-linecap="round" fill="none"/>
<path d="M193.9 203.8h0m-3.7 1.9h0m2.2 2.5h0m-2.4 .8h0m2.1 .7h0m3 .1h0m.8 2.7h0m-.1 .8h0m-3.1 .8h0m.7 .5h0m5.6 1.7h0m-8.3 .3h0m-5.1 .3h0m3.7 0h0m-2.9 1.2h0m10.2 0h0m-7.3 1.6h0m4.2 0h0m1 .3h0m5.2 .2h0m-7.5 .4h0m-3.9 .7h0m-3.4 .4h0m9.2 .5h0m-1.7 .2h0m-.3 1.1h0m-.6 .4h0m2.1 .5h0m-8.9 .1h0m-.1 1.1h0m11.4 0h0m-12 .4h0m1.7 1h0m3.1 .9h0m4.9 .2h0m-3 .3h0m-5.2 .3h0m13.1 .4h0m-7.9 .7h0m.9 .3h0m2.8 .6h0m-1.1 1.3h0m-5.7 .2h0m9.6 .6h0m-9.6 .1h0m8.1 2.4h0m-3.8 .4h0m3.9 .4h0" stroke="#f0955c" stroke-opacity="0.14" stroke-width="4.6" stroke-linecap="round" fill="none"/>
<path d="M190.0 207.0h0m3.3 1.6h0m-4.1 .1h0m1.3 1.9h0m6.2 2.4h0m-6.9 0h0m2.2 3.4h0m.9 .4h0m-7.3 1h0m2.4 .1h0m3.2 .4h0m-6.3 0h0m3.2 .4h0m10.5 0h0m-1.5 1.4h0m-2.2 .6h0m-11.3 0h0m5.3 .2h0m2.7 .1h0m2.1 .5h0m-.9 1.5h0m8.3 .3h0m-3.4 .4h0m-.7 .4h0m3.8 .3h0m-1.7 .2h0m-1.7 .1h0m-13.3 .2h0m3.8 .4h0m-1.7 .1h0m4.4 0h0m7.4 .7h0m-3.3 .3h0m4.3 0h0m-13.8 1h0m6.1 .5h0m.9 .3h0m3.3 .5h0m4.6 .2h0m-11.2 .2h0m10.4 .3h0m-11.2 .8h0m11.1 .1h0m-10.2 .3h0m4.1 .3h0m1.4 .8h0m1.1 .9h0m1.9 .7h0m-4.5 2.7h0m-2.8 2.2h0m.9 .6h0m1.8 .2h0m-.4 1h0" stroke="#f0955c" stroke-opacity="0.14" stroke-width="4.6" stroke-linecap="round" fill="none"/>
<path d="M191.8 204.2h0m1.5 2.6h0m-.4 .8h0m2.2 3.3h0m-2.1 .2h0m-1.7 .8h0m2.1 .7h0m1.4 1h0m-6.8 .5h0m6.5 .2h0m1.9 .2h0m-10.5 .6h0m3.9 .2h0m-.6 .6h0m4.2 .3h0m-8.5 1.3h0m14.5 .2h0m-1.4 .2h0m2.4 .1h0m-7.7 .1h0m.9 .3h0m2.5 .1h0m-4 .1h0m1.9 .6h0m2 .6h0m-4.8 .5h0m-4.2 .1h0m4 1h0m-6.8 .7h0m2.7 .1h0m-1.3 .8h0m8.3 .3h0m-3.7 1.4h0m2.7 .1h0m-1.6 .2h0m-1.3 .8h0m6.4 .5h0m4.5 .6h0m-.7 1.2h0m-.8 .5h0m-9.1 1.8h0m-2.4 .4h0m4 .3h0m1.9 .2h0m-3.1 .1h0m.8 .4h0m-1.1 .3h0m-3.7 .4h0m8.2 .9h0m-1.5 1.4h0m-2.7 .6h0m4.2 1.3h0" stroke="#f0955c" stroke-opacity="0.14" stroke-width="4.6" stroke-linecap="round" fill="none"/>
<path d="M192.2 194.0h0m1 7.1h0m-1.7 2.1h0" stroke="#f0955c" stroke-opacity="0.07" stroke-width="4.6" stroke-linecap="round" fill="none"/>
<path d="M192.4 245.6h0m.2 1.1h0m-.2 4.7h0" stroke="#f0955c" stroke-opacity="0.07" stroke-width="4.6" stroke-linecap="round" fill="none"/>
<path d="M192.4 187.5h0m.1 5.7h0m-.7 7h0m.5 46.9h0" stroke="#f0955c" stroke-opacity="0.07" stroke-width="4.6" stroke-linecap="round" fill="none"/>
<path d="M192.4 200.8h0m-.5 .7h0m-.8 39.7h0m1.3 7.8h0" stroke="#f0955c" stroke-opacity="0.07" stroke-width="4.6" stroke-linecap="round" fill="none"/>
<path d="M192.1 197.0h0m.4 .9h0m.3 2h0m0 2.2h0m-.6 39.4h0m.2 15.1h0" stroke="#f0955c" stroke-opacity="0.07" stroke-width="4.6" stroke-linecap="round" fill="none"/>
<path d="M192.4 191.9h0m-.2 10.8h0m.5 41.5h0" stroke="#f0955c" stroke-opacity="0.07" stroke-width="4.6" stroke-linecap="round" fill="none"/>
<path d="M193.0 198.6h0m.1 43.3h0m-.7 13h0" stroke="#f0955c" stroke-opacity="0.07" stroke-width="4.6" stroke-linecap="round" fill="none"/>
<path d="M192.4 189.2h0m-1.2 13.2h0" stroke="#f0955c" stroke-opacity="0.07" stroke-width="4.6" stroke-linecap="round" fill="none"/>
<path d="M192.4 180.8h0m0 3.9h0m0 10.7h0m.3 1.2h0m-.5 2.7h0m-.3 45.6h0" stroke="#f0955c" stroke-opacity="0.07" stroke-width="4.6" stroke-linecap="round" fill="none"/>
<path d="M193.3 203.0h0m-.8 39.7h0m-.4 1h0" stroke="#f0955c" stroke-opacity="0.07" stroke-width="4.6" stroke-linecap="round" fill="none"/>
<path d="M191.7 242.0h0m1.6 1h0" stroke="#f0955c" stroke-opacity="0.07" stroke-width="4.6" stroke-linecap="round" fill="none"/>
<path d="M216.0 251.7h0m.6 1.3h0m1.4 .7h0m.7 .3h0m-8.5 .1h0m10.1 .7h0m-.9 .2h0m-5.7 .1h0m5.5 .2h0m-9.1 .1h0m9.7 .3h0m-1.2 .1h0m-5.3 0h0m5.9 .4h0m-5.7 0h0m8.8 .2h0m-13 .1h0m3.1 .2h0m10.2 .3h0m-3.8 .1h0m1 .1h0m-10.2 0h0m3.9 0h0m-3 .1h0m7.3 .2h0m-3.1 .1h0m-.5 .2h0m5 .1h0m4.1 0h0m-2.1 .2h0m-5.7 .1h0m-6.1 .6h0m1 .1h0m2.6 0h0m-4.2 .1h0m6.2 .2h0m-3.8 .3h0m12.1 .1h0m-14.9 .3h0m15.2 0h0m-5.8 0h0m-5.8 .1h0m8.3 0h0m-4.1 0h0m2.5 .1h0m-1.6 0h0m-5.7 .1h0m2.6 .1h0m.9 .1h0m6.7 0h0m-12.3 .1h0m9.1 0h0m-8.1 .1h0m-1 .4h0m3.4 .1h0m-3.6 .6h0m5.3 .3h0m-2.6 .2h0m-.3 .2h0m-2.3 .2h0m7 .1h0m-6.1 .1h0m3 0h0m2.6 .2h0m-.5 .4h0m1.7 .1h0m-1.5 .5h0m1.7 .4h0m-5.8 .3h0m3 .1h0" stroke="#f07a2a" stroke-opacity="0.14" stroke-width="4.6" stroke-linecap="round" fill="none"/>
<path d="M213.5 250.6h0m3.5 1.4h0m1.4 .9h0m-.5 .2h0m-7.4 1.2h0m5.7 .1h0m3.3 .2h0m-7 0h0m4.1 .4h0m-2.8 .6h0m4.1 .7h0m-5.7 0h0m-1.3 .5h0m10.7 .1h0m-12.8 .2h0m13.9 .5h0m-7 .1h0m-5.3 .4h0m9.7 .4h0m-8.4 0h0m-1.7 .1h0m2.7 .1h0m-5.9 0h0m16.3 .1h0m-16.9 .1h0m13.5 .5h0m-7.5 .2h0m6.2 .2h0m2.9 .3h0m-11.4 .2h0m-1.6 .1h0m-.5 .2h0m6 .1h0m8 0h0m-14.5 0h0m11.4 .1h0m-1.3 .4h0m-3.8 .1h0m-4.2 .2h0m8.3 .1h0m4.4 .1h0m-4.2 .2h0m-7.9 0h0m9.3 .8h0m1.8 .1h0m-12 .1h0m10.7 0h0m-1.2 .1h0m-5.3 .7h0m4.5 .3h0m-4.7 .1h0m6 0h0m-4.5 .1h0m1.3 .1h0m3.4 .1h0m-5.6 .6h0m1.5 .7h0" stroke="#f07a2a" stroke-opacity="0.14" stroke-width="4.6" stroke-linecap="round" fill="none"/>
<path d="M214.1 249.9h0m2 2.7h0m-1.7 .1h0m1.1 .2h0m-3.5 .5h0m3 .5h0m2.9 .2h0m-.1 .4h0m-5.9 .5h0m3.1 .4h0m-6.2 .1h0m11.3 0h0m-7.5 .2h0m3.9 .7h0m3.2 .2h0m-3.3 .4h0m-2 .3h0m1.9 .2h0m4 0h0m-11.5 .7h0m.9 .1h0m11.4 .3h0m-2.6 0h0m-.6 .1h0m-5.9 .1h0m4.3 0h0m5.2 .1h0m-1.6 .1h0m-3.3 .1h0m3.7 .1h0m-9.5 0h0m2 .2h0m1.8 .7h0m-4.2 0h0m7.1 .3h0m-6.2 .3h0m9.8 .2h0m-14.2 0h0m8.7 .1h0m.1 .9h0m3.5 0h0m-1.8 .7h0m-2.4 .3h0m-.8 .6h0m4.2 .1h0m-6 .7h0m-.6 .2h0m.9 1.6h0" stroke="#f07a2a" stroke-opacity="0.14" stroke-width="4.6" stroke-linecap="round" fill="none"/>
<path d="M216.5 250.2h0m0 .6h0m-3.2 .6h0m1.4 .5h0m-2.1 .5h0m2.5 0h0m-.3 .7h0m-1.2 .7h0m.4 .3h0m1.5 .1h0m-1.4 .5h0m2.8 0h0m1.7 .1h0m-9.6 .2h0m7.2 .3h0m-4.9 0h0m4.5 .3h0m2 .1h0m-7 .7h0m2.2 .1h0m5.8 0h0m2.4 .6h0m-4.4 .2h0m-5.4 .1h0m7.9 0h0m-6.4 0h0m5.3 .4h0m-8.1 0h0m1.9 .3h0m6.6 0h0m2.1 .2h0m-3.8 .3h0m-9.1 .3h0m6.2 .1h0m8.5 0h0m-6.5 .3h0m-8.1 .3h0m1.1 .1h0m10.4 .2h0m-2.9 .4h0m6.2 .5h0m-8 .1h0m-4.4 .2h0m4.8 .1h0m.9 .1h0m2.3 .1h0m3 .2h0m-6.4 .2h0m-5.2 .3h0m.9 .2h0m9.7 .8h0m-5.7 .1h0m-2.9 .4h0" stroke="#f07a2a" stroke-opacity="0.14" stroke-width="4.6" stroke-linecap="round" fill="none"/>
<path d="M214.5 251.2h0m-1.9 .6h0m.7 .2h0m4.3 .5h0m-5.4 1.2h0m7.2 .1h0m-8.2 .1h0m1.4 .1h0m2.6 .6h0m.6 .2h0m4.4 .4h0m-9.5 .4h0m7.6 .5h0m2.7 .4h0m-5.8 0h0m-1.4 .1h0m3.6 0h0m2.8 .4h0m-5.2 .1h0m-7.8 0h0m2 .6h0m.2 .3h0m3.5 .2h0m2 .2h0m-2.6 0h0m10.4 .1h0m-.6 .2h0m-1.6 .1h0m-2.2 .2h0m2.6 .1h0m-14.4 .1h0m.4 .3h0m-.6 .2h0m3.7 .1h0m5.2 .1h0m-1.6 .1h0m7 .3h0m-13.8 .1h0m13.2 .1h0m-3.2 .1h0m3.4 .2h0m-7.9 0h0m-2.5 0h0m-1.9 .3h0m3.4 .7h0m5.8 0h0m-1.9 .3h0m2.1 .1h0m-3.8 .3h0m-1.2 .1h0m8.3 0h0m-7.8 .5h0m.7 .2h0m2.8 .6h0m-2.5 .5h0m2.5 .3h0m1.1 .6h0m-3.8 1h0" stroke="#f07a2a" stroke-opacity="0.14" stroke-width="4.6" stroke-linecap="round" fill="none"/>
<path d="M214.4 250.3h0m2.8 1.3h0m-4.3 1.6h0m4.3 .7h0m3.2 .6h0m-5.6 .4h0m-4.6 0h0m2.9 0h0m3.9 .6h0m-2.4 .2h0m1.6 .3h0m-2.1 0h0m-4.1 .3h0m4.6 .4h0m3.7 0h0m1 .1h0m-12.1 0h0m13.5 .5h0m-11.8 .1h0m12.8 0h0m-6.4 0h0m-1.5 .1h0m-5.5 .1h0m2.4 0h0m11 .3h0m-13.2 0h0m15.3 .3h0m-.1 .4h0m-9.1 .3h0m-6.4 .2h0m4.2 0h0m9.5 .1h0m-1.3 .3h0m-10 .1h0m4.2 0h0m5.2 .1h0m-6.8 0h0m2.6 0h0m-4.8 .2h0m2.4 .5h0m3.8 .5h0m3.4 .5h0m-5.2 .1h0m-4.5 .5h0m3 .2h0m-1.2 .1h0m6.6 0h0m-5.4 .7h0m2.4 .2h0m-.5 .4h0m-4.1 .4h0m1.4 .6h0m-.6 .3h0m3 0h0m.3 .5h0m-2.9 .2h0" stroke="#f07a2a" stroke-opacity="0.14" stroke-width="4.6" stroke-linecap="round" fill="none"/>
<path d="M214.9 250.7h0m1.4 .6h0m-4.6 1.4h0m2.3 .6h0m4.6 .2h0m-2 .1h0m-5.9 1.5h0m8.3 .5h0m1.4 .5h0m-9 .1h0m9.2 .6h0m-2.7 .1h0m-8.5 0h0m12.8 .3h0m-3.4 .4h0m-5.6 .1h0m-5.6 .1h0m8.9 .5h0m-2.6 0h0m-4.8 .2h0m8.2 .4h0m4 .4h0m-13.8 0h0m2.1 .2h0m12 .1h0m-2.6 0h0m3.6 .1h0m-15.2 .1h0m2 .2h0m-2.6 0h0m16 1.1h0m-1.5 .1h0m-9.1 .2h0m7.7 .2h0m-11.8 0h0m2.3 .1h0m3.1 .1h0m6.5 .2h0m-4 .3h0m5.3 0h0m-6.6 .1h0m5.2 0h0m-11.6 .1h0m2.6 1.2h0m6.4 0h0m1.5 .1h0m-2.3 1.3h0m-4.4 0h0m4.5 1.1h0m-1.2 .3h0m1.5 .1h0m-1.9 .6h0" stroke="#f07a2a" stroke-opacity="0.14" stroke-width="4.6" stroke-linecap="round" fill="none"/>
<path d="M213.9 250.9h0m-.5 1.6h0m3.8 .3h0m-3.5 .2h0m-1.9 .1h0m5.5 .3h0m-2.9 .3h0m2 .3h0m-5.5 .6h0m6.7 .3h0m-3.3 .4h0m-2.4 .2h0m-2.5 .2h0m-.8 .3h0m4.1 .1h0m-4.8 .1h0m.7 .2h0m13.4 .3h0m-5.1 .1h0m-3.7 0h0m2.9 1.2h0m1.4 .4h0m4.2 0h0m-2.2 .3h0m4 .4h0m-10.1 .1h0m9.5 .1h0m-7.5 .1h0m-5.2 0h0m10.8 .4h0m-9.2 .7h0m1 .1h0m2.5 .1h0m4.3 .3h0m-5.4 .1h0m2.3 0h0m2.4 .1h0m-10 0h0m-1.4 .1h0m14.6 0h0m-12.3 0h0m10.9 .5h0m-12 .2h0m13.3 .1h0m-1.3 .1h0m-12.2 0h0m9.5 .1h0m-7.7 .2h0m5.2 .1h0m2.5 .2h0m0 .5h0m-7 .9h0" stroke="#f07a2a" stroke-opacity="0.14" stroke-width="4.6" stroke-linecap="round" fill="none"/>
<path d="M214.0 251.7h0m.1 .5h0m2.5 .1h0m-3.9 .5h0m-1.7 .8h0m2.6 .9h0m8.3 1.3h0m-5.3 0h0m4.1 .1h0m-1.2 .1h0m-4.6 .1h0m6.5 .2h0m-5.7 0h0m4.4 .1h0m-12.2 .2h0m8.1 .1h0m-3.4 .3h0m4.8 .1h0m-6.3 0h0m4.8 .1h0m-6.1 .3h0m2.5 .1h0m4.9 .1h0m2.5 0h0m-13 0h0m14 .1h0m-9.1 0h0m8.6 .2h0m-4.3 .5h0m-.3 .5h0m3.1 .3h0m-9.5 0h0m7.6 .5h0m5.4 .4h0m-6.7 0h0m2.6 0h0m-7.3 .2h0m11.7 .1h0m-1.6 .1h0m2.5 0h0m-9.1 0h0m5 .1h0m-3.1 .1h0m1.8 .2h0m2.4 .1h0m-9.1 .1h0m8.5 .1h0m-3 .1h0m-3.7 .1h0m-3.7 .9h0m4.9 .3h0m-3.1 0h0m-.2 .3h0m3.9 .8h0m-4.8 .1h0m6.7 .2h0m-1.7 .4h0m1.5 1.1h0m.7 .2h0m-1.4 .2h0m-2.3 1h0m2.6 .3h0" stroke="#f07a2a" stroke-opacity="0.14" stroke-width="4.6" stroke-linecap="round" fill="none"/>
<path d="M215.9 249.8h0m-.3 2.3h0m.4 1.1h0m-.7 .2h0m.5 .3h0m-4.2 .5h0m.4 .2h0m-2.5 .8h0m11.6 .1h0m-9.8 .5h0m4 .1h0m-4.6 .1h0m.8 .6h0m-2.9 .1h0m3.1 .2h0m3.8 0h0m-1.4 .1h0m4.2 .3h0m4.9 .1h0m-.9 .3h0m-7.8 .4h0m8.3 0h0m-14.7 .3h0m2.6 0h0m8.4 0h0m-4.8 .2h0m-6.9 0h0m7.9 .1h0m-3.9 .3h0m6.3 .2h0m-.7 .2h0m6.9 0h0m-15.1 .8h0m10.2 .1h0m4.2 0h0m-7.3 .2h0m-7.1 .2h0m4.4 .2h0m-4.9 0h0m3.4 .1h0m2.8 .4h0m4 .3h0m2.9 .2h0m-4.6 1h0m.6 .2h0m-4.8 .3h0m7 0h0m-5.6 .5h0m4.1 .4h0m-3.3 .9h0m-3 .2h0m2.5 .1h0m1.6 1.4h0" stroke="#f07a2a" stroke-opacity="0.14" stroke-width="4.6" stroke-linecap="round" fill="none"/>
<path d="M215.2 250.0h0m.4 1h0m-2.8 .1h0m5.2 1.1h0m-7.2 1.1h0m2.4 .2h0m1.4 .9h0m3.8 .7h0m-1.1 .1h0m-4.1 .2h0m7.8 .2h0m-3.6 .3h0m-8.1 .2h0m7.7 .1h0m-2.7 .2h0m-4.2 .2h0m-2.2 .3h0m2.4 .1h0m-2.2 .3h0m-.7 .2h0m13.9 .1h0m-4.6 .2h0m-4.1 .1h0m.9 .1h0m-6.6 0h0m15.3 .2h0m-5.1 0h0m6.1 .1h0m-11.9 0h0m-4.8 .2h0m4.5 .2h0m-3.9 .3h0m2.7 .1h0m4.6 .2h0m-2.6 0h0m10.5 .2h0m-10.7 .3h0m11.3 .2h0m-16.6 .1h0m11.5 .6h0m4.2 .3h0m-9.4 .7h0m4.1 .7h0m-4.7 .5h0m8.7 .4h0m-8.3 .5h0m5 1h0m-3.5 1.1h0" stroke="#f07a2a" stroke-opacity="0.14" stroke-width="4.6" stroke-linecap="round" fill="none"/>
<path d="M215.8 250.4h0m-.6 1.1h0m4.3 2.7h0m-6.4 .1h0m4 0h0m1.6 .1h0m-8.9 .3h0m1.6 .1h0m4.1 .3h0m-3 .1h0m5.6 .2h0m-8.1 .5h0m2 0h0m9.7 .2h0m-9.7 1.1h0m3.1 .7h0m-4.1 0h0m6.7 .1h0m-9.9 .1h0m11.8 .1h0m-1.5 .1h0m-11 0h0m6.2 .2h0m-4.9 .2h0m5.2 .1h0m5.3 0h0m.4 .3h0m-10.8 .3h0m9.5 .1h0m-4.2 0h0m2.6 .1h0m1 .1h0m-3.2 .1h0m-1.6 .1h0m9.3 0h0m-14.1 .2h0m5.2 0h0m6.7 .1h0m-12.4 .1h0m5.1 0h0m-1.6 .6h0m-2.3 .5h0m2.3 0h0m12 .1h0m-3.7 0h0m-7.4 .1h0m2.3 0h0m2.3 .1h0m-8.5 .1h0m4.4 .1h0m4.3 .1h0m-3.4 .1h0m5.5 0h0m0 .4h0m-8.6 .6h0m9.1 .1h0m-7.3 0h0m-.9 .1h0m-.9 .2h0m9.9 .1h0m-1.6 1h0m0 .4h0m-5.1 .3h0m1.5 .9h0m-.3 .5h0" stroke="#f07a2a" stroke-opacity="0.14" stroke-width="4.6" stroke-linecap="round" fill="none"/>
<path d="M215.0 242.5h0m-.2 7.1h0" stroke="#f07a2a" stroke-opacity="0.07" stroke-width="4.6" stroke-linecap="round" fill="none"/>
<path d="M215.3 267.9h0" stroke="#f07a2a" stroke-opacity="0.07" stroke-width="4.6" stroke-linecap="round" fill="none"/>
<path d="M215.0 243.2h0m.3 3.1h0m-.6 .3h0m.7 1.4h0m0 20.8h0" stroke="#f07a2a" stroke-opacity="0.07" stroke-width="4.6" stroke-linecap="round" fill="none"/>
<path d="M214.8 245.3h0m1.1 3.5h0m-1.4 .3h0m-.2 18.5h0m.7 2.4h0" stroke="#f07a2a" stroke-opacity="0.07" stroke-width="4.6" stroke-linecap="round" fill="none"/>
<path d="M215.1 246.9h0m-.7 1.3h0m.6 .4h0m-.3 20.7h0" stroke="#f07a2a" stroke-opacity="0.07" stroke-width="4.6" stroke-linecap="round" fill="none"/>
<path d="M215.0 245.7h0m-.2 2h0" stroke="#f07a2a" stroke-opacity="0.07" stroke-width="4.6" stroke-linecap="round" fill="none"/>
<path d="M215.1 244.8h0m-1.2 4.6h0" stroke="#f07a2a" stroke-opacity="0.07" stroke-width="4.6" stroke-linecap="round" fill="none"/>
<path d="M215.6 247.4h0m-.2 1.8h0m-.6 19.1h0" stroke="#f07a2a" stroke-opacity="0.07" stroke-width="4.6" stroke-linecap="round" fill="none"/>
<path d="M215.0 244.1h0m-1 23.9h0" stroke="#f07a2a" stroke-opacity="0.07" stroke-width="4.6" stroke-linecap="round" fill="none"/>
<path d="M238.2 254.9h0m2.7 2.1h0m-2.3 .3h0m-5 0h0m.1 .4h0m8.3 .2h0m-8 .1h0m-.4 .7h0m3.2 .1h0m6.1 .2h0m-.1 .3h0m-10.6 .1h0m1.8 0h0m4.8 .1h0m-5.5 .2h0m10.3 .1h0m-10.9 .2h0m4.3 .5h0m4.4 .2h0m-9.4 0h0m.8 .1h0m2.2 .1h0m7.4 .5h0m3.5 .1h0m-4 .1h0m-2.2 .7h0m4.6 .3h0m2.1 .2h0m-4.2 .1h0m-10.8 .3h0m7.9 .1h0m-2.2 .2h0m-1.6 .1h0m6.2 .2h0m3.6 .1h0m-5.9 .1h0m-5.7 .1h0m-2.2 .3h0m8.3 .7h0m-8.8 0h0m11.2 .1h0m-8.3 .2h0m-1.8 .3h0m1 .2h0m.5 .3h0m-1.5 .4h0m8.5 0h0m-6.4 .1h0m8.9 .1h0m-7.3 .2h0m3 0h0m-4.1 .1h0m2.5 .3h0m3 .9h0m-5.5 .5h0m2.8 .8h0m-2.3 0h0" stroke="#f07a2a" stroke-opacity="0.14" stroke-width="4.6" stroke-linecap="round" fill="none"/>
<path d="M238.6 255.7h0m-.4 .4h0m-.8 1h0m.5 .4h0m-3 .3h0m6.4 .3h0m-4.1 .4h0m-2 .3h0m2.2 .3h0m.6 .9h0m3.3 0h0m1.8 .3h0m-11.8 .2h0m8.7 .8h0m2.9 .4h0m-5.5 .1h0m-5.3 .4h0m13.8 .3h0m-2.1 .3h0m-15 .3h0m17.4 .2h0m-14.6 .6h0m4.2 0h0m7.8 .1h0m-14.1 .2h0m10.3 .1h0m1.6 0h0m-5.9 .5h0m4 0h0m-1.5 .1h0m3.3 .1h0m-6.4 0h0m8 0h0m-9.4 .6h0m7.6 .3h0m3.6 0h0m-10.7 .1h0m7.2 .3h0m.6 .6h0m-.2 .5h0m-2.7 .1h0m-5.3 .1h0m3.3 .2h0m.6 .2h0m-2.3 .6h0m2.5 .3h0m-1.7 1.3h0" stroke="#f07a2a" stroke-opacity="0.14" stroke-width="4.6" stroke-linecap="round" fill="none"/>
<path d="M236.2 254.4h0m3.3 1.5h0m-.4 .4h0m-4.6 .4h0m5.6 3.4h0m-.5 .2h0m-3.2 .5h0m.3 .3h0m8.6 .1h0m-15.2 .5h0m1.7 .2h0m14.1 .1h0m-5 0h0m-5.3 .4h0m3.5 .1h0m-1.5 .1h0m.9 .1h0m-3.2 .1h0m4.2 0h0m.4 .3h0m-3.2 .1h0m5.2 .1h0m-9.1 .2h0m-2.6 0h0m12.1 .1h0m-2.6 0h0m6.5 .4h0m-8.4 .1h0m1 .1h0m-6.7 0h0m4 .4h0m5 .1h0m-2.5 0h0m.3 .3h0m-1.5 .1h0m-6.8 .2h0m7.1 .1h0m-6.9 .4h0m3.6 0h0m4 .3h0m2.1 .1h0m-3.5 0h0m-1.3 .1h0m-2.4 .2h0m6 .2h0m-6.3 .1h0m.7 .5h0m3.1 3.2h0" stroke="#f07a2a" stroke-opacity="0.14" stroke-width="4.6" stroke-linecap="round" fill="none"/>
<path d="M236.6 254.8h0m.6 .4h0m3.2 2h0m-1.2 .5h0m-2.1 0h0m.5 .3h0m4.5 .3h0m-8.8 .1h0m1.3 .7h0m-2.9 .1h0m8.2 .1h0m-6.5 0h0m8.2 .4h0m-3.2 .1h0m2.5 .5h0m.9 .1h0m-6.2 .2h0m-5 .5h0m9.8 .5h0m-3.9 .1h0m-6.3 .3h0m1 .1h0m-1.6 .1h0m4.4 .2h0m-4.2 .1h0m5.2 0h0m6.7 .1h0m3.7 .1h0m-14.9 .3h0m4.6 .3h0m-5.9 .1h0m2.6 0h0m6.3 .2h0m2.6 .1h0m1.3 .4h0m-5.8 .1h0m7.1 .3h0m-9.8 .1h0m6.9 .3h0m.3 .3h0m3.2 .2h0m-6.7 .2h0m-1.4 .1h0m3.1 .2h0m3.7 .3h0m-.7 .3h0m-6.6 .1h0m5.9 .1h0m-4.3 .2h0m-4.9 0h0m10.8 .4h0m-5.6 1.2h0m-1 1.3h0" stroke="#f07a2a" stroke-opacity="0.14" stroke-width="4.6" stroke-linecap="round" fill="none"/>
<path d="M236.0 255.3h0m3.7 .2h0m.8 .7h0m-5.1 .6h0m1.3 .6h0m1.7 .5h0m-4.1 .4h0m7.5 1.1h0m-6 .1h0m-3.7 .3h0m-1.4 .2h0m12.7 .1h0m-8.7 0h0m1.5 .3h0m-2 .3h0m6.8 .2h0m-8.1 .3h0m5.7 .2h0m6.2 0h0m-5.3 .1h0m-7.9 .1h0m12.3 .2h0m-5.5 .1h0m-1.6 .1h0m6.1 .2h0m-6.7 0h0m6.1 .2h0m1 .1h0m-9.9 .1h0m-2.3 .3h0m7.8 .1h0m4 .4h0m.4 .3h0m-10.1 .1h0m2 .3h0m2 .2h0m1 .1h0m1.9 .2h0m3.4 .2h0m-5.4 .9h0m-.6 .3h0m-.9 .5h0m.8 .1h0m-2.4 .2h0m-1.1 .1h0m2.3 .7h0m3.2 .1h0m-6.6 .1h0m3.2 .1h0m3.9 .1h0m-1 .1h0m-3.7 0h0m2.8 .2h0m-1 .8h0m3.5 .3h0m-5.4 .6h0m4.2 .4h0" stroke="#f07a2a" stroke-opacity="0.14" stroke-width="4.6" stroke-linecap="round" fill="none"/>
<path d="M237.7 256.4h0m-1.6 .2h0m3.6 .2h0m-3.5 1.1h0m5.8 1.2h0m-4.3 .5h0m2.7 .2h0m-3.7 .3h0m5.5 .1h0m-3.4 0h0m-4 .3h0m7.9 .1h0m1.9 .2h0m-12.5 .2h0m-2.2 0h0m14 .3h0m-6.3 0h0m-2.7 .4h0m6.5 .1h0m-6.1 .3h0m8.6 .2h0m-13.4 0h0m-1.6 0h0m11.8 .2h0m-6.4 .2h0m-1.6 .1h0m4.6 .3h0m-4.2 0h0m-3.3 .1h0m4.3 0h0m2 .2h0m4.2 0h0m4 .4h0m-7.5 .2h0m-6.8 0h0m14.6 .1h0m-11.5 .2h0m9.2 .1h0m-1.5 0h0m-6.7 0h0m5.1 .1h0m6.6 0h0m-16.2 .6h0m15.8 .2h0m-10 .1h0m4.7 .1h0m4.6 0h0m-12.2 0h0m-2.7 .2h0m1.7 .5h0m6.6 .6h0m-1.6 .4h0m2.9 0h0m.6 .2h0m.5 .2h0m1.9 .3h0m-4 0h0m-3.9 .4h0m4.4 1.2h0m-.6 .4h0" stroke="#f07a2a" stroke-opacity="0.14" stroke-width="4.6" stroke-linecap="round" fill="none"/>
<path d="M236.6 255.6h0m-.6 .4h0m-.7 .4h0m3.4 .2h0m4.2 2h0m-5.9 .8h0m-5.5 .3h0m7.7 .2h0m-5.1 .4h0m6 .4h0m-2.8 .2h0m7 .2h0m-3.3 .3h0m2.4 .1h0m1 .1h0m-15 .2h0m14 .2h0m-10.4 .3h0m11.9 .1h0m-8 .4h0m8.9 .2h0m-3.2 .1h0m1.3 .4h0m-12.7 .1h0m15.4 0h0m-17 .1h0m14.4 .6h0m-11.5 .2h0m4.1 0h0m-5.6 .1h0m1 .1h0m10 .1h0m-8.5 .3h0m9.6 .2h0m-1.5 .1h0m-10.4 .2h0m10.5 .1h0m.8 .2h0m-10.7 .1h0m12.2 .1h0m-11.3 0h0m11.2 .4h0m-5.3 0h0m1.4 .4h0m-8.1 .3h0m1.8 .8h0m7.9 .7h0" stroke="#f07a2a" stroke-opacity="0.14" stroke-width="4.6" stroke-linecap="round" fill="none"/>
<path d="M237.8 253.9h0m1.2 .1h0m0 .6h0m-1.9 2.1h0m-2.6 .4h0m5.3 .3h0m.7 .4h0m-.8 .6h0m1.6 .1h0m-3.5 .2h0m2.4 .3h0m-4.5 0h0m.6 .2h0m1.8 .1h0m-2.8 .5h0m1.9 .1h0m-1.2 .1h0m-4.7 .1h0m2.1 .1h0m-1.4 .1h0m12 .2h0m-4.8 .1h0m-5.8 0h0m9.9 .3h0m-12 0h0m10.6 .1h0m-6.3 .5h0m-1.6 .1h0m-1.5 .1h0m1.8 .2h0m10.6 0h0m-9 0h0m-5.1 .7h0m10.3 .1h0m3.5 .7h0m-11.2 0h0m11.5 .2h0m-12.7 .1h0m-1.6 .1h0m9.5 0h0m-11.1 .1h0m2.1 .2h0m4.5 .2h0m-5.6 .2h0m12.6 .2h0m.6 .9h0m-3.5 .4h0m-.6 .3h0m3.3 .8h0m-1.2 .1h0m-2.9 .1h0m-2.8 0h0m7.7 .2h0m-6.7 1.2h0m1.5 .6h0m-1.5 .2h0" stroke="#f07a2a" stroke-opacity="0.14" stroke-width="4.6" stroke-linecap="round" fill="none"/>
<path d="M237.1 254.2h0m.5 .3h0m-2.1 .5h0m1.9 .9h0m-2.7 1.6h0m5.7 1.2h0m.6 .5h0m-8.3 .4h0m1.9 0h0m5 0h0m-5.6 .3h0m3.5 .4h0m7.5 .3h0m-6.8 .4h0m1.4 0h0m-8.8 .5h0m8.5 .5h0m1 .1h0m-7.9 .4h0m-.7 .2h0m13.1 .2h0m.4 .3h0m-12.8 .1h0m-1.6 0h0m8.3 .4h0m-4.9 .2h0m6.2 .2h0m-5.7 .1h0m-4.2 .1h0m4.6 .2h0m-5.6 .1h0m14.7 0h0m-6.6 0h0m8.4 .2h0m-9 0h0m-5.5 .1h0m1 .1h0m5.8 .2h0m.9 .1h0m-.6 .2h0m-2.3 0h0m3.2 .2h0m4.5 .1h0m-3.7 0h0m3 .2h0m-7.1 .1h0m-1.7 .3h0m5.4 0h0m3.3 0h0m.4 .6h0m-10.7 .1h0m4.7 0h0m4.4 .6h0m-3.6 1h0m-2.5 .3h0m3.8 .2h0m-.1 .5h0m-.8 .4h0" stroke="#f07a2a" stroke-opacity="0.14" stroke-width="4.6" stroke-linecap="round" fill="none"/>
<path d="M238.4 254.3h0m-1.6 1.9h0m3.3 .3h0m-2 .4h0m1.1 .1h0m-2.8 0h0m4.8 .6h0m-4.5 .6h0m3.8 0h0m-2.3 .1h0m.6 .3h0m3.3 .1h0m-9.6 .1h0m6 .1h0m3.9 1h0m1.9 .3h0m-11.6 .2h0m7.8 .1h0m-2.7 .2h0m-3.4 .4h0m.3 .3h0m-1.6 .1h0m4.9 .1h0m7.4 .1h0m-12 .1h0m9 .1h0m-9.7 .1h0m1 .1h0m11.7 .1h0m-4.1 .1h0m-4.1 0h0m-5.8 .1h0m5.2 .1h0m3.5 .1h0m-10.9 0h0m8.7 .3h0m-8.4 0h0m13.7 .1h0m-1.6 0h0m-5.9 .1h0m9.9 .4h0m-11.1 0h0m-1.9 .5h0m13 .2h0m-.7 .2h0m.2 .3h0m-14.6 .1h0m3.5 .1h0m-4 0h0m6.4 .1h0m6 .5h0m-7.1 .4h0m-.4 .3h0m9.7 .1h0m-12.2 0h0m10.1 .3h0m-1.9 .4h0m-6.1 .5h0m3.4 .1h0m-2.6 .1h0m5.6 .1h0m-6.5 0h0m-1.4 .4h0m3.7 0h0m2.6 .3h0m1.3 .5h0m-6.3 .1h0m4.4 0h0m-1 1.3h0" stroke="#f07a2a" stroke-opacity="0.14" stroke-width="4.6" stroke-linecap="round" fill="none"/>
<path d="M238.9 255.2h0m-3.3 2h0m-2.7 1.8h0m6.3 .2h0m-4 .1h0m7.5 .3h0m-7.3 .6h0m8.3 .5h0m-5 .1h0m3.6 0h0m-8.7 .1h0m2.3 .1h0m4.6 .1h0m1 .1h0m-6.2 0h0m-5.4 .1h0m3.9 0h0m3.3 .2h0m2.8 .3h0m-2.1 .3h0m-3.2 .1h0m4.2 0h0m-2.5 .7h0m-1.6 .1h0m9.5 .1h0m-6.5 .2h0m3.6 .2h0m-4.8 .2h0m-2.7 0h0m3.7 .1h0m-2.7 0h0m-.3 .9h0m9.9 .2h0m-.7 .2h0m-9.3 .1h0m-1.4 .1h0m-2.8 .2h0m4.7 .1h0m7 .5h0m-10.7 .3h0m-.2 .3h0m10.3 1.4h0m.2 .3h0m-5.6 0h0m-2 .1h0m5.7 .3h0" stroke="#f07a2a" stroke-opacity="0.14" stroke-width="4.6" stroke-linecap="round" fill="none"/>
<path d="M237.8 255.4h0m-2.5 .4h0m.5 1.8h0m4 .4h0m-4.5 .1h0m3.7 0h0m-6.1 .1h0m2.8 .2h0m-1 .1h0m1.5 .1h0m3.3 .2h0m-5.4 .1h0m7.1 0h0m-.5 .6h0m3 0h0m-7.2 .2h0m-5.9 .7h0m7.7 .1h0m-7.7 .2h0m12.3 .4h0m-3.8 .1h0m-7.7 0h0m4.8 .1h0m-3.9 .1h0m6.6 .3h0m-8 .1h0m11 .3h0m2.5 0h0m-6.2 .3h0m4.5 .3h0m-6.8 0h0m-5.8 .1h0m3.6 .1h0m6.8 0h0m-8.4 .1h0m11.5 .2h0m-5.3 0h0m2.6 0h0m-2.2 .3h0m7.2 .3h0m-3.2 .1h0m-4.2 0h0m2.6 .1h0m1.9 .2h0m-14.1 .1h0m12.8 .2h0m-8.7 .3h0m12.3 .2h0m-9.4 .1h0m8.7 .1h0m-12.6 0h0m4.8 .1h0m-5.2 .1h0m9.3 .2h0m-4.2 .2h0m-6.2 .2h0m7.3 .4h0m-1.6 .3h0m-3.4 .7h0m7.7 1.2h0m-5 .7h0m1.6 .8h0" stroke="#f07a2a" stroke-opacity="0.14" stroke-width="4.6" stroke-linecap="round" fill="none"/>
<path d="M237.6 235.5h0m-.3 12.8h0" stroke="#f07a2a" stroke-opacity="0.07" stroke-width="4.6" stroke-linecap="round" fill="none"/>
<path d="M237.7 248.7h0m-.5 2.2h0m.5 1.5h0m-.6 .4h0" stroke="#f07a2a" stroke-opacity="0.07" stroke-width="4.6" stroke-linecap="round" fill="none"/>
<path d="M237.8 249.6h0m0 1.5h0m.3 .7h0m-.1 1.1h0m-.6 .4h0" stroke="#f07a2a" stroke-opacity="0.07" stroke-width="4.6" stroke-linecap="round" fill="none"/>
<path d="M237.4 251.6h0" stroke="#f07a2a" stroke-opacity="0.07" stroke-width="4.6" stroke-linecap="round" fill="none"/>
<path d="M237.6 238.1h0m.1 4.7h0m0 1.2h0m-.1 6.3h0" stroke="#f07a2a" stroke-opacity="0.07" stroke-width="4.6" stroke-linecap="round" fill="none"/>
<path d="M237.6 239.9h0m.2 7.8h0" stroke="#f07a2a" stroke-opacity="0.07" stroke-width="4.6" stroke-linecap="round" fill="none"/>
<path d="M237.6 239.1h0m0 4.4h0m.4 5.4h0m.4 2.5h0" stroke="#f07a2a" stroke-opacity="0.07" stroke-width="4.6" stroke-linecap="round" fill="none"/>
<path d="M237.8 245.7h0" stroke="#f07a2a" stroke-opacity="0.07" stroke-width="4.6" stroke-linecap="round" fill="none"/>
<path d="M237.6 231.9h0m0 13.2h0m-.1 1h0m-.2 .8h0m1.2 5.7h0" stroke="#f07a2a" stroke-opacity="0.07" stroke-width="4.6" stroke-linecap="round" fill="none"/>
<path d="M237.5 247.3h0m-.4 2.6h0m-.2 2.3h0" stroke="#f07a2a" stroke-opacity="0.07" stroke-width="4.6" stroke-linecap="round" fill="none"/>
<path d="M237.6 242.0h0m-.2 2.7h0m.3 1.8h0m.8 7h0" stroke="#f07a2a" stroke-opacity="0.07" stroke-width="4.6" stroke-linecap="round" fill="none"/>
<path d="M237.6 241.4h0m-.2 7.8h0m.7 1.3h0m-1.6 2.6h0m.2 .5h0" stroke="#f07a2a" stroke-opacity="0.07" stroke-width="4.6" stroke-linecap="round" fill="none"/>
<line x1="50.8" y1="223.8" x2="62.8" y2="223.8" stroke="#111" stroke-width="1.1"/>
<circle cx="52.0" cy="223.8" r="2.3" fill="#555" stroke="#111" stroke-width="0.9"/>
<circle cx="56.6" cy="223.8" r="2.3" fill="#555" stroke="#111" stroke-width="0.9"/>
<circle cx="61.0" cy="223.8" r="2.3" fill="#555" stroke="#111" stroke-width="0.9"/>
<line x1="71.4" y1="253.8" x2="87.4" y2="253.8" stroke="#111" stroke-width="1.1"/>
<circle cx="75.5" cy="254.5" r="2.3" fill="#444" stroke="#111" stroke-width="0.9"/>
<circle cx="79.7" cy="256.5" r="2.3" fill="#444" stroke="#111" stroke-width="0.9"/>
<circle cx="83.5" cy="251.0" r="2.3" fill="#444" stroke="#111" stroke-width="0.9"/>
<line x1="94.0" y1="228.9" x2="110.0" y2="228.9" stroke="#111" stroke-width="1.1"/>
<circle cx="97.5" cy="224.5" r="2.3" fill="#555" stroke="#111" stroke-width="0.9"/>
<circle cx="102.5" cy="238.8" r="2.3" fill="#555" stroke="#111" stroke-width="0.9"/>
<circle cx="106.5" cy="224.0" r="2.3" fill="#555" stroke="#111" stroke-width="0.9"/>
<line x1="118.6" y1="223.8" x2="130.6" y2="223.8" stroke="#111" stroke-width="1.1"/>
<circle cx="121.0" cy="223.8" r="2.3" fill="#ff1010" stroke="#111" stroke-width="0.9"/>
<circle cx="125.3" cy="223.8" r="2.3" fill="#ff1010" stroke="#111" stroke-width="0.9"/>
<circle cx="129.6" cy="223.8" r="2.3" fill="#ff1010" stroke="#111" stroke-width="0.9"/>
<line x1="139.2" y1="257.0" x2="155.2" y2="257.0" stroke="#111" stroke-width="1.1"/>
<circle cx="143.0" cy="257.3" r="2.3" fill="#ff1010" stroke="#111" stroke-width="0.9"/>
<circle cx="147.2" cy="260.0" r="2.3" fill="#ff1010" stroke="#111" stroke-width="0.9"/>
<circle cx="151.2" cy="256.0" r="2.3" fill="#ff1010" stroke="#111" stroke-width="0.9"/>
<line x1="161.8" y1="263.1" x2="177.8" y2="263.1" stroke="#111" stroke-width="1.1"/>
<circle cx="165.5" cy="264.0" r="2.3" fill="#ff1010" stroke="#111" stroke-width="0.9"/>
<circle cx="170.0" cy="266.5" r="2.3" fill="#ff1010" stroke="#111" stroke-width="0.9"/>
<circle cx="173.5" cy="259.5" r="2.3" fill="#ff1010" stroke="#111" stroke-width="0.9"/>
<line x1="186.4" y1="223.8" x2="198.4" y2="223.8" stroke="#111" stroke-width="1.1"/>
<circle cx="189.0" cy="223.8" r="2.3" fill="#f0935a" stroke="#111" stroke-width="0.9"/>
<circle cx="193.2" cy="223.8" r="2.3" fill="#f0935a" stroke="#111" stroke-width="0.9"/>
<circle cx="197.4" cy="223.8" r="2.3" fill="#f0935a" stroke="#111" stroke-width="0.9"/>
<line x1="207.0" y1="259.4" x2="223.0" y2="259.4" stroke="#111" stroke-width="1.1"/>
<circle cx="211.0" cy="259.5" r="2.3" fill="#f07a2a" stroke="#111" stroke-width="0.9"/>
<circle cx="215.4" cy="262.0" r="2.3" fill="#f07a2a" stroke="#111" stroke-width="0.9"/>
<circle cx="219.5" cy="258.0" r="2.3" fill="#f07a2a" stroke="#111" stroke-width="0.9"/>
<line x1="229.6" y1="263.6" x2="245.6" y2="263.6" stroke="#111" stroke-width="1.1"/>
<circle cx="233.5" cy="264.0" r="2.3" fill="#f07a2a" stroke="#111" stroke-width="0.9"/>
<circle cx="237.5" cy="265.5" r="2.3" fill="#f07a2a" stroke="#111" stroke-width="0.9"/>
<circle cx="241.5" cy="261.5" r="2.3" fill="#f07a2a" stroke="#111" stroke-width="0.9"/>
<path d="M43.6 138.4H251.3V270.6H43.6Z" fill="none" stroke="#333" stroke-width="1"/>
<line x1="40.5" y1="270.6" x2="43.6" y2="270.6" stroke="#333" stroke-width="1"/>
<text x="38.8" y="271.9" font-size="9.5" text-anchor="end" fill="#222" >0</text>
<line x1="40.5" y1="223.8" x2="43.6" y2="223.8" stroke="#333" stroke-width="1"/>
<text x="38.8" y="227.1" font-size="9.5" text-anchor="end" fill="#222" >1</text>
<line x1="40.5" y1="177.0" x2="43.6" y2="177.0" stroke="#333" stroke-width="1"/>
<text x="38.8" y="180.3" font-size="9.5" text-anchor="end" fill="#222" >2</text>
<line x1="56.8" y1="270.6" x2="56.8" y2="273.8" stroke="#333" stroke-width="1"/>
<line x1="79.4" y1="270.6" x2="79.4" y2="273.8" stroke="#333" stroke-width="1"/>
<line x1="102.0" y1="270.6" x2="102.0" y2="273.8" stroke="#333" stroke-width="1"/>
<line x1="124.6" y1="270.6" x2="124.6" y2="273.8" stroke="#333" stroke-width="1"/>
<line x1="147.2" y1="270.6" x2="147.2" y2="273.8" stroke="#333" stroke-width="1"/>
<line x1="169.8" y1="270.6" x2="169.8" y2="273.8" stroke="#333" stroke-width="1"/>
<line x1="192.4" y1="270.6" x2="192.4" y2="273.8" stroke="#333" stroke-width="1"/>
<line x1="215.0" y1="270.6" x2="215.0" y2="273.8" stroke="#333" stroke-width="1"/>
<line x1="237.6" y1="270.6" x2="237.6" y2="273.8" stroke="#333" stroke-width="1"/>
<text x="43.3" y="285.6" font-size="9.5" text-anchor="end" fill="#222" >post UV</text>
<text x="57.6" y="285.6" font-size="9.5" text-anchor="middle" fill="#222" >0</text>
<text x="80.2" y="285.6" font-size="9.5" text-anchor="middle" fill="#222" >3</text>
<text x="102.9" y="285.6" font-size="9.5" text-anchor="middle" fill="#222" >24</text>
<text x="125.5" y="285.6" font-size="9.5" text-anchor="middle" fill="#222" >0</text>
<text x="148.2" y="285.6" font-size="9.5" text-anchor="middle" fill="#222" >3</text>
<text x="170.8" y="285.6" font-size="9.5" text-anchor="middle" fill="#222" >24</text>
<text x="193.5" y="285.6" font-size="9.5" text-anchor="middle" fill="#222" >0</text>
<text x="216.1" y="285.6" font-size="9.5" text-anchor="middle" fill="#222" >3</text>
<text x="238.8" y="285.6" font-size="9.5" text-anchor="middle" fill="#222" >24</text>
<text x="247.0" y="285.6" font-size="9.5" text-anchor="start" fill="#222" >h</text>
<text x="46.5" y="298.9" font-size="9.5" text-anchor="end" fill="#222" >+XPD-GFP</text>
<line x1="54.5" y1="290.5" x2="104.4" y2="290.5" stroke="#333" stroke-width="1"/>
<text x="77.8" y="298.9" font-size="9.5" text-anchor="middle" fill="#222" >WT</text>
<line x1="122.5" y1="290.5" x2="173.1" y2="290.5" stroke="#333" stroke-width="1"/>
<text x="149.0" y="298.9" font-size="9.5" text-anchor="middle" fill="#222" >K48R</text>
<line x1="190.1" y1="290.5" x2="240.6" y2="290.5" stroke="#333" stroke-width="1"/>
<text x="221.6" y="298.9" font-size="9.5" text-anchor="middle" fill="#222" >G675R</text>
<line x1="54.5" y1="303.3" x2="241.0" y2="303.3" stroke="#333" stroke-width="1"/>
<text x="147.8" y="316.5" font-size="9.5" text-anchor="middle" fill="#222" >RPE1 WT + crXPD</text>
<text x="260.8" y="5.0" font-size="9.5" text-anchor="start" fill="#111" >c</text>
<rect x="429.2" y="8.6" width="130.1" height="230.5" fill="#fdf2ee"/>
<path d="M317.8 174.7L317.5 173.0L317.3 171.4L317.0 169.8L316.7 168.1L316.4 166.5L316.1 164.9L315.7 163.2L315.4 161.6L315.0 160.0L314.7 158.3L314.3 156.7L314.0 155.1L313.7 153.5L313.6 151.8L313.6 150.2L313.6 148.6L313.6 146.9L313.6 145.3L313.6 143.7L313.6 142.0L313.6 140.4L313.6 138.8L313.6 137.1L313.6 135.5L313.6 133.9L313.7 132.2L314.0 130.6L314.3 129.0L314.6 127.3L314.9 125.7L315.3 124.1L315.6 122.5L315.9 120.8L316.2 119.2L316.5 117.6L316.8 115.9L317.1 114.3L317.4 112.7L317.6 111.0L319.9 110.2L320.1 111.9L320.4 113.5L320.6 115.1L320.9 116.7L321.2 118.4L321.5 120.0L321.9 121.6L322.2 123.3L322.5 124.9L322.8 126.5L323.2 128.2L323.5 129.8L323.8 131.4L324.0 133.1L324.0 134.7L324.0 136.3L324.0 138.0L324.0 139.6L324.0 141.2L324.0 142.8L324.0 144.5L324.0 146.1L324.0 147.7L324.0 149.4L324.0 151.0L324.0 152.6L323.7 154.3L323.4 155.9L323.1 157.5L322.8 159.2L322.4 160.8L322.1 162.4L321.7 164.1L321.4 165.7L321.0 167.3L320.7 168.9L320.4 170.6L320.2 172.2L319.9 173.8Z" fill="#555555" fill-opacity="0.4"/>
<path d="M318.8 104.3h0m0 2h0m2.2 11h0m-5.7 4.1h0m1.8 3.2h0m1.7 7.2h0m-5.9 .3h0m9.7 2.7h0m2.6 4.7h0m-3.5 5.5h0m-1.4 2.6h0m-4.4 .7h0m1.4 1.5h0m5.3 1.3h0m-6.1 .3h0m-1.2 10.1h0m3.5 .2h0m4.7 1.4h0m-5.6 .3h0m1.8 2.1h0m-.9 7.3h0m0 27.8h0" stroke="#555555" stroke-opacity="0.38" stroke-width="4.7" stroke-linecap="round" fill="none"/>
<path d="M318.8 56.9h0m2.8 63.5h0m-2.8 2.6h0m.8 5h0m4.5 8.7h0m-9.7 .4h0m2.9 1.3h0m6.5 .7h0m-6.5 2.3h0m2.2 3.2h0m3.7 4.8h0m-4.4 1h0m-1.7 12.1h0m.8 4.4h0" stroke="#555555" stroke-opacity="0.38" stroke-width="4.7" stroke-linecap="round" fill="none"/>
<path d="M318.8 96.9h0m1.2 11.1h0m2.4 .8h0m-3.6 1.2h0m-1.2 4.2h0m2.1 2h0m.8 4.7h0m0 3.1h0m-3.3 4.9h0m-3.1 .1h0m4.7 1.3h0m-4.4 2h0m-.9 .9h0m2.4 3.7h0m7.3 .6h0m-8 2.2h0m-1.4 3.7h0m1.4 1h0m-2.3 1h0m5.9 3h0m2.9 .3h0m-1.4 1.8h0m1.4 .3h0m3.5 .9h0m-1.1 .8h0m-6.1 5.4h0m3.2 1.3h0m-1.6 1.4h0m2 8.1h0m-2.8 10.3h0m0 8h0" stroke="#555555" stroke-opacity="0.38" stroke-width="4.7" stroke-linecap="round" fill="none"/>
<path d="M320.0 112.3h0m1.2 16.2h0m-3.2 6.1h0m.1 4.3h0m-4.3 1.5h0m.6 .8h0m6.6 1.9h0m-5.1 2.6h0m7.3 .1h0m-4.4 .5h0m-4.4 .4h0m-1.5 2.5h0m6.7 2h0m-4.6 .8h0m0 1.4h0m6.2 4.2h0m-5.2 7.3h0m2.8 12.5h0" stroke="#555555" stroke-opacity="0.38" stroke-width="4.7" stroke-linecap="round" fill="none"/>
<path d="M318.8 118.5h0m-1.7 3.4h0m2.5 4.1h0m-3.2 1h0m3.9 5.8h0m-3.8 2.7h0m8.2 1.8h0m-8 3.2h0m8.5 3.1h0m-9.3 5.4h0m4.1 25.9h0" stroke="#555555" stroke-opacity="0.38" stroke-width="4.7" stroke-linecap="round" fill="none"/>
<path d="M318.8 99.0h0m-.9 15.9h0m5.6 .6h0m-3.8 3.9h0m2.6 3h0m0 1.9h0m-4.3 3h0m3.9 2.7h0m-6 1.4h0m5.8 .2h0m-2.9 7h0m5.9 2.3h0m-.9 2.8h0m.9 1.5h0m-8.2 9.3h0m3.1 .4h0m-2.4 .4h0m-3.1 1.4h0m8.8 .2h0m-3.3 1.7h0m-1.6 .9h0m-.1 6.2h0m3.7 .6h0m1.9 1.3h0m-1.1 8.4h0m-3.6 8.8h0m0 7.9h0" stroke="#555555" stroke-opacity="0.38" stroke-width="4.7" stroke-linecap="round" fill="none"/>
<path d="M315.3 123.4h0m-.6 1.5h0m8.2 2.7h0m.6 1.9h0m-7.8 1h0m7.5 2.1h0m-3.6 .8h0m1.5 2.5h0m-3.1 .5h0m3.7 1.7h0m-.7 1.8h0m1.4 .2h0m-2.9 .6h0m3.7 .9h0m-1.5 .7h0m-1.4 .2h0m-3.6 1.6h0m-3.8 2.9h0m4.4 .3h0m7.4 2.8h0m-6.7 2.1h0m3.1 .8h0m-3.1 .2h0m6.1 1h0m-9.4 4h0m6.9 6h0m-5 6.9h0m2.2 10.6h0" stroke="#555555" stroke-opacity="0.38" stroke-width="4.7" stroke-linecap="round" fill="none"/>
<path d="M317.9 119.9h0m5 5.9h0m-2.5 4h0m-3.9 3.7h0m-1.5 .9h0m4.6 1.4h0m-4.6 .4h0m-2.1 1.5h0m7.4 .3h0m-7.4 4.1h0m5.2 1.8h0m-.8 2.6h0m5.9 1.6h0m-9.7 5.6h0m6.9 2.1h0m1.9 5.2h0m-2.6 2.7h0m0 4.6h0m-.9 5.7h0" stroke="#555555" stroke-opacity="0.38" stroke-width="4.7" stroke-linecap="round" fill="none"/>
<path d="M318.8 102.3h0m3.6 9.1h0m-.8 5.2h0m1.9 2.5h0m-2.3 7.7h0m3.5 4.1h0m.5 4.3h0m-9.3 6.7h0m2.9 .8h0m6.4 .2h0m-2.8 1.9h0m-2.1 1.3h0m4.4 1.7h0m-2.1 6.1h0m-6.9 1.7h0m.7 1.8h0m8.1 1.5h0m-8.1 1h0m3.6 10.5h0" stroke="#555555" stroke-opacity="0.38" stroke-width="4.7" stroke-linecap="round" fill="none"/>
<path d="M320.0 113.1h0m-3.4 4.9h0m2.2 4.8h0m-.8 2.4h0m-1.6 1.2h0m8.1 1.8h0m-7.2 2.8h0m6.8 2.8h0m-3 .2h0m1.5 1h0m2.6 4.3h0m-10.8 7.9h0m0 2.4h0m6.7 3h0m-2.3 2.4h0m3.1 1.2h0m1.6 .2h0m-.6 3.8h0m-2.4 2.1h0m-2.9 6.9h0m3.4 2.6h0" stroke="#555555" stroke-opacity="0.38" stroke-width="4.7" stroke-linecap="round" fill="none"/>
<path d="M336.6 179.9L336.4 178.2L336.2 176.4L335.9 174.7L335.7 173.0L335.4 171.3L335.1 169.6L334.8 167.9L334.5 166.2L334.2 164.5L333.9 162.8L333.6 161.1L333.3 159.4L333.0 157.7L332.7 155.9L332.6 154.2L332.6 152.5L332.6 150.8L332.6 149.1L332.6 147.4L332.6 145.7L332.6 144.0L332.6 142.3L332.6 140.6L332.6 138.9L332.6 137.2L332.6 135.5L332.6 133.7L332.6 132.0L332.7 130.3L333.0 128.6L333.3 126.9L333.6 125.2L333.9 123.5L334.2 121.8L334.5 120.1L334.8 118.4L335.1 116.7L335.4 115.0L335.7 113.2L335.9 111.5L336.2 109.8L336.4 108.1L336.6 106.4L338.8 107.8L339.0 109.5L339.2 111.3L339.5 113.0L339.7 114.7L340.0 116.4L340.3 118.1L340.6 119.8L341.0 121.5L341.3 123.2L341.6 124.9L341.9 126.6L342.2 128.3L342.4 130.0L342.6 131.8L342.6 133.5L342.6 135.2L342.6 136.9L342.6 138.6L342.6 140.3L342.6 142.0L342.6 143.7L342.6 145.4L342.6 147.1L342.6 148.8L342.6 150.5L342.6 152.2L342.6 154.0L342.5 155.7L342.2 157.4L342.0 159.1L341.7 160.8L341.4 162.5L341.0 164.2L340.7 165.9L340.4 167.6L340.1 169.3L339.9 171.0L339.6 172.7L339.3 174.5L339.1 176.2L338.9 177.9L338.6 179.6Z" fill="#a6a6a6" fill-opacity="0.4"/>
<path d="M337.6 72.2h0m-1.2 29.9h0m0 4h0m2.1 20h0m1.7 2.4h0m1.8 .9h0m-9.4 6.3h0m9 4.6h0m-4.8 2.1h0m4.8 1.1h0m-.8 1.4h0m-2.4 1.7h0m-5.8 4.3h0m10 .8h0m.7 .5h0m-8.1 .8h0m5 4.6h0m-2.6 3.9h0m-3.7 .2h0m6 10h0m-2.3 9.4h0" stroke="#a6a6a6" stroke-opacity="0.38" stroke-width="4.7" stroke-linecap="round" fill="none"/>
<path d="M336.6 117.8h0m5.4 6.5h0m-7 .3h0m8.7 5.1h0m-6.1 4.5h0m.8 5.2h0m5.5 4.8h0m-1.6 .1h0m-11 .9h0m10.3 .9h0m-7.7 16.4h0m4.9 12.1h0m2.4 2.3h0m-4.8 2.5h0" stroke="#a6a6a6" stroke-opacity="0.38" stroke-width="4.7" stroke-linecap="round" fill="none"/>
<path d="M338.8 103.8h0m-3.5 10.2h0m2.3 1.3h0m-.9 9.9h0m-.8 5.1h0m.9 5.7h0m3.2 .9h0m-4.8 .2h0m8.1 2.5h0m-9.7 2.4h0m9.7 .7h0m-1.7 10.1h0m-4.8 .8h0m4.1 1.1h0m-1.6 .5h0m-4.3 1.6h0m6.3 6.1h0m-1.4 3.5h0m-2.3 .6h0m3 2.6h0m-1.8 12.6h0m-1.2 3.5h0" stroke="#a6a6a6" stroke-opacity="0.38" stroke-width="4.7" stroke-linecap="round" fill="none"/>
<path d="M337.6 30.1h0m5.1 86.5h0m-6.1 3.2h0m6 10.2h0m-3.3 1.5h0m-6.7 .4h0m11.3 1.3h0m-5.5 3.3h0m5.5 .9h0m-10.3 .2h0m8 .2h0m1.7 2.3h0m-11.4 3.1h0m6.5 .5h0m-.8 1h0m-2.4 3.6h0m4.8 .3h0m3.3 .4h0m-1.7 .8h0m-3.2 2.7h0m1.6 1.2h0m-4.1 .7h0m6.7 4.2h0m-10 1.3h0" stroke="#a6a6a6" stroke-opacity="0.38" stroke-width="4.7" stroke-linecap="round" fill="none"/>
<path d="M337.6 96.7h0m0 3.8h0m-3 17.8h0m6 2.8h0m.7 1.3h0m-1.1 3.3h0m-3.5 .8h0m5.3 .8h0m-5.3 1.5h0m4.2 2.5h0m2.4 1.4h0m-8.1 5.5h0m4.8 3.2h0m-4 4h0m7.9 4.1h0m-9.6 1h0m-1.7 4.5h0m3.1 10.4h0m.9 3.5h0m3.3 3.8h0m-4.6 1.2h0m3.5 2.3h0" stroke="#a6a6a6" stroke-opacity="0.38" stroke-width="4.7" stroke-linecap="round" fill="none"/>
<path d="M338.8 107.5h0m1.1 7.2h0m-1.3 5.9h0m-.1 3.5h0m-.9 6.8h0m4 2.7h0m-4.8 7.9h0m1.6 .3h0m-3.9 3.9h0m-1.6 .1h0m-1 .6h0m1.7 1.1h0m3.2 .3h0m2.5 3.3h0m0 7.8h0m-5 .8h0m3.3 5.1h0m1 3.8h0m.2 9.4h0m-1.2 22.6h0" stroke="#a6a6a6" stroke-opacity="0.38" stroke-width="4.7" stroke-linecap="round" fill="none"/>
<path d="M337.6 90.2h0m0 3.7h0m3.6 18.5h0m-.6 6.1h0m-2 .7h0m-2.9 4h0m3.8 .5h0m-5.9 8.7h0m1.6 1h0m.7 1.4h0m6.7 .7h0m-9 2.9h0m8 1.4h0m-6.4 .7h0m-1.6 .3h0m6.4 2.2h0m-.8 1h0m-4.9 10.1h0m3.3 1.6h0m.9 .7h0m-2.8 7h0m-1.8 1.6h0m3.7 5.3h0m-1.2 5h0m1.2 13h0m0 5.7h0" stroke="#a6a6a6" stroke-opacity="0.38" stroke-width="4.7" stroke-linecap="round" fill="none"/>
<path d="M338.8 113.1h0m1.8 2.8h0m-2 1h0m4.1 3.3h0m-5.1 1.8h0m6.1 3.4h0m-5.2 3.7h0m-4.2 1.6h0m5.7 3.2h0m.9 .7h0m2.4 1.7h0m-3.3 2.3h0m-4.8 3.7h0m8.1 4.6h0m-3.3 .1h0m-1.6 2.4h0m-2.5 1.9h0m8 .7h0m-1.3 3.6h0m-5.9 .6h0m5.3 .8h0m1.7 .4h0m-4.2 2.9h0m-3.8 .5h0m1.9 1.4h0m5.1 5.9h0m-5.1 4.2h0m0 18.9h0" stroke="#a6a6a6" stroke-opacity="0.38" stroke-width="4.7" stroke-linecap="round" fill="none"/>
<path d="M337.6 105.4h0m1.2 3.5h0m2.4 .7h0m-4.6 12h0m-2.7 1.1h0m4.5 10.3h0m.9 2h0m-7.4 3.8h0m9 11.2h0m-3.3 .4h0m-4 2.9h0m7.7 7.7h0m-1.8 2.9h0m1.8 1.9h0m-6 5.2h0m1.1 12.6h0" stroke="#a6a6a6" stroke-opacity="0.38" stroke-width="4.7" stroke-linecap="round" fill="none"/>
<path d="M338.8 110.5h0m-2.4 .8h0m-3.2 15.5h0m7 .8h0m-5.2 .2h0m0 .4h0m1.8 3.9h0m-2.5 3.2h0m2.5 3.8h0m7.1 2h0m-8.7 6.2h0m-1.6 .8h0m3.2 .7h0m-.9 9.2h0m1.7 .4h0m3.3 .9h0m-1.4 4.8h0m-4.2 3.3h0" stroke="#a6a6a6" stroke-opacity="0.38" stroke-width="4.7" stroke-linecap="round" fill="none"/>
<path d="M356.0 176.4L355.7 174.7L355.5 173.0L355.2 171.4L354.9 169.7L354.6 168.1L354.3 166.4L354.0 164.7L353.6 163.1L353.3 161.4L353.0 159.8L352.7 158.1L352.3 156.4L352.1 154.8L351.8 153.1L351.8 151.5L351.8 149.8L351.8 148.1L351.8 146.5L351.8 144.8L351.8 143.2L351.8 141.5L351.8 139.8L351.8 138.2L351.8 136.5L351.8 134.9L351.8 133.2L351.8 131.5L352.1 129.9L352.3 128.2L352.6 126.6L352.9 124.9L353.2 123.2L353.5 121.6L353.8 119.9L354.1 118.3L354.4 116.6L354.7 114.9L355.0 113.3L355.3 111.6L355.5 110.0L355.8 108.3L356.0 106.6L358.1 107.5L358.4 109.1L358.6 110.8L358.9 112.5L359.1 114.1L359.4 115.8L359.7 117.4L360.0 119.1L360.3 120.8L360.6 122.4L360.9 124.1L361.2 125.7L361.5 127.4L361.8 129.1L362.1 130.7L362.2 132.4L362.2 134.0L362.2 135.7L362.2 137.4L362.2 139.0L362.2 140.7L362.2 142.3L362.2 144.0L362.2 145.7L362.2 147.3L362.2 149.0L362.2 150.6L362.2 152.3L362.1 154.0L361.8 155.6L361.5 157.3L361.2 158.9L360.9 160.6L360.5 162.3L360.2 163.9L359.8 165.6L359.5 167.2L359.2 168.9L358.9 170.6L358.6 172.2L358.4 173.9L358.1 175.5Z" fill="#ff2626" fill-opacity="0.4"/>
<path d="M357.0 96.0h0m-2.2 18.4h0m4.4 .5h0m2.5 4.9h0m-6.3 8.5h0m1.6 .3h0m6.4 3h0m-11.4 8.9h0m.6 2.7h0m7.3 4.6h0m-5.8 1.4h0m-1.8 8.1h0m4.7 .3h0m.8 1.8h0m2.7 2.6h0m-7 1.4h0m1.3 6.4h0m5.8 6.6h0m-3.6 12.5h0" stroke="#ff2626" stroke-opacity="0.38" stroke-width="4.7" stroke-linecap="round" fill="none"/>
<path d="M357.0 99.6h0m2.4 22.1h0m1.7 .7h0m-7.6 2.1h0m3.5 2.3h0m-3.8 8.1h0m.9 2.2h0m7.9 6.7h0m-9.4 4.3h0m10.3 .9h0m-11.2 .9h0m4.5 .6h0m-1.6 6.4h0m4.8 3.4h0m-.2 7.6h0m-2.2 26.7h0" stroke="#ff2626" stroke-opacity="0.38" stroke-width="4.7" stroke-linecap="round" fill="none"/>
<path d="M355.8 110.1h0m3.4 2.8h0m-.5 5.6h0m1.1 2.2h0m.7 3.6h0m-3.5 .6h0m3.8 6h0m-7.6 2h0m9.1 1.3h0m-3 .8h0m-6.7 3.6h0m10.3 .5h0m.5 .9h0m-1.4 .9h0m-10.9 1h0m0 5.7h0m11.2 2.8h0m-9.7 2.6h0m9.7 .5h0m-9.1 .5h0m7.9 6.9h0m-7.6 2h0m5.2 1.3h0m-1.7 7.1h0m-2.2 1.3h0" stroke="#ff2626" stroke-opacity="0.38" stroke-width="4.7" stroke-linecap="round" fill="none"/>
<path d="M357.0 57.8h0m0 40.9h0m1.7 24.8h0m-4.8 1.8h0m8.4 5.9h0m-1.5 .3h0m-4.6 2.9h0m3.7 1.5h0m3 .7h0m-4.4 1.4h0m-3.7 2.2h0m-1.4 .2h0m9.5 1h0m-7.4 .8h0m3.7 2.7h0m2.2 2.3h0m-6.7 2.9h0m6.7 1.6h0m-2.9 1h0m.8 .9h0m-7.6 1.6h0m3.7 3.3h0m5.1 6.1h0m-2.6 1.8h0m-1.8 .7h0m-.3 6.6h0m1.2 9h0" stroke="#ff2626" stroke-opacity="0.38" stroke-width="4.7" stroke-linecap="round" fill="none"/>
<path d="M357.0 92.8h0m0 8.6h0m-1.2 5.4h0m4.8 2.3h0m-3.6 4.4h0m-3.5 5.4h0m2.7 4.1h0m2.4 3.3h0m-4.7 2.5h0m6.2 .2h0m2.2 2.9h0m-7.6 .5h0m6.7 2.9h0m-5.9 .4h0m2.2 3.8h0m3.7 2.2h0m-.8 2.3h0m-4.3 .3h0m7.1 .3h0m-10 .5h0m.7 1.5h0m1.4 .2h0m1.5 2h0m3.8 2.3h0m-6.7 .4h0m5.8 1h0m-3.7 3.5h0m0 4.7h0m-2 5.2h0m2.8 3.5h0m1.2 4.9h0m-1.2 10.5h0" stroke="#ff2626" stroke-opacity="0.38" stroke-width="4.7" stroke-linecap="round" fill="none"/>
<path d="M358.2 105.9h0m-1.2 6.6h0m-4.1 10.7h0m2.5 2.8h0m3.2 2h0m-5.4 1.3h0m-1.5 .3h0m7.6 2.6h0m-4.6 1.7h0m-3.6 1.6h0m10.3 2.1h0m-10.3 1.3h0m8.1 .4h0m-2.2 6.1h0m1.5 .5h0m-3 5.4h0m-4.4 1.9h0m6.7 2.4h0m.8 3.6h0m-3.3 6h0m1.7 2.2h0m2.2 3.1h0m1.4 8.9h0" stroke="#ff2626" stroke-opacity="0.38" stroke-width="4.7" stroke-linecap="round" fill="none"/>
<path d="M360.6 104.7h0m-2.4 6.3h0m-.3 4.4h0m-3.2 15h0m-2.1 5.7h0m1.5 2.1h0m4.4 4.5h0m-.8 2.5h0m.8 2.2h0m-3 .9h0m2.3 1.3h0m2.3 8.3h0m1.6 .9h0m-7.1 1h0m2.4 3.9h0m0 14.1h0m1.2 3.4h0" stroke="#ff2626" stroke-opacity="0.38" stroke-width="4.7" stroke-linecap="round" fill="none"/>
<path d="M356.1 117.1h0m4.4 .4h0m-3.5 .4h0m-2.4 3.5h0m.7 2.6h0m-3 3.4h0m7 3.2h0m-3.1 2.6h0m4.6 .3h0m-9.1 .1h0m5.3 2.9h0m2.9 1.3h0m-4.4 .6h0m5.1 2.8h0m-.7 1.3h0m3.5 .9h0m-10.8 2.9h0m.6 3.1h0m3.8 2.9h0m4.1 4.3h0m-7.2 1.5h0m1.4 3.4h0m3.4 .9h0m.5 9.5h0m-1 3.9h0" stroke="#ff2626" stroke-opacity="0.38" stroke-width="4.7" stroke-linecap="round" fill="none"/>
<path d="M358.2 103.3h0m0 5.2h0m-3.4 2.8h0m5 4.5h0m1.9 .5h0m-5.6 4h0m5.6 7.4h0m-3.9 2.1h0m0 2.9h0m-.8 4.6h0m-.7 2.4h0m-2.2 2.3h0m2.9 1h0m5.9 3.2h0m-3 .7h0m1.5 1.6h0m-2.1 2.3h0m-1.5 4.2h0m1.6 1.4h0m-2.4 5.5h0m-2.2 6.7h0" stroke="#ff2626" stroke-opacity="0.38" stroke-width="4.7" stroke-linecap="round" fill="none"/>
<path d="M355.3 119.2h0m2.6 1.8h0m-.1 1.1h0m3.9 3.4h0m-9.4 1h0m7.8 .7h0m-3.9 2.9h0m1.6 4.4h0m.7 2.4h0m4.9 4.1h0m-8.6 2.5h0m-2.8 .7h0m-.9 1.5h0m11.8 6.3h0m-8.2 2.3h0m1.5 .2h0m4.6 .3h0m1.9 1.1h0m0 4.1h0m-2.9 5.5h0" stroke="#ff2626" stroke-opacity="0.38" stroke-width="4.7" stroke-linecap="round" fill="none"/>
<path d="M375.2 174.3L374.9 172.7L374.7 171.2L374.4 169.6L374.1 168.1L373.9 166.6L373.5 165.0L373.2 163.5L372.9 161.9L372.6 160.4L372.3 158.8L371.9 157.3L371.6 155.7L371.4 154.2L371.2 152.6L371.2 151.1L371.2 149.6L371.2 148.0L371.2 146.5L371.2 144.9L371.2 143.4L371.2 141.8L371.2 140.3L371.2 138.7L371.2 137.2L371.2 135.7L371.2 134.1L371.2 132.6L371.3 131.0L371.5 129.5L371.8 127.9L372.1 126.4L372.4 124.8L372.7 123.3L373.0 121.7L373.3 120.2L373.6 118.7L373.9 117.1L374.1 115.6L374.4 114.0L374.6 112.5L374.8 110.9L375.0 109.4L377.2 108.1L377.4 109.6L377.6 111.2L377.8 112.7L378.1 114.3L378.3 115.8L378.6 117.4L378.9 118.9L379.2 120.5L379.5 122.0L379.8 123.6L380.1 125.1L380.4 126.6L380.6 128.2L380.9 129.7L381.2 131.3L381.2 132.8L381.2 134.4L381.2 135.9L381.2 137.5L381.2 139.0L381.2 140.5L381.2 142.1L381.2 143.6L381.2 145.2L381.2 146.7L381.2 148.3L381.2 149.8L381.2 151.4L381.2 152.9L381.0 154.5L380.7 156.0L380.4 157.5L380.1 159.1L379.8 160.6L379.4 162.2L379.1 163.7L378.8 165.3L378.5 166.8L378.2 168.4L377.9 169.9L377.7 171.4L377.4 173.0Z" fill="#ff928a" fill-opacity="0.4"/>
<path d="M376.2 104.5h0m1.2 8.3h0m-4 1.8h0m4.5 9.5h0m-4.1 2.3h0m7 4.1h0m-9.8 4.9h0m3 .6h0m3.6 3.3h0m4.3 6.2h0m-8.6 .7h0m7.2 .5h0m-.6 2.2h0m-3 1.1h0m-1.4 4.6h0m-1.5 2h0m1.4 1.5h0m-.1 7.7h0m3.7 .8h0m-.7 2.1h0" stroke="#ff928a" stroke-opacity="0.38" stroke-width="4.7" stroke-linecap="round" fill="none"/>
<path d="M377.4 100.8h0m-2.1 14.2h0m3.7 2.9h0m-1.9 .7h0m-3.7 .9h0m3.7 1h0m2.5 .4h0m.6 4.2h0m-2.5 2.9h0m-3.7 4.5h0m-1.5 1.4h0m4.4 1.8h0m4.5 .5h0m-8.1 1.9h0m6.4 5.8h0m-9.2 1.9h0m7.1 2.5h0m-2.1 1.4h0m2.2 3.5h0m4.1 3.8h0m-4.7 6h0m1.9 1.4h0m1.8 .3h0" stroke="#ff928a" stroke-opacity="0.38" stroke-width="4.7" stroke-linecap="round" fill="none"/>
<path d="M376.2 98.7h0m2.8 21.1h0m.2 7.3h0m-6 1.5h0m4.5 1.3h0m-3 .3h0m-3.7 2.1h0m6.6 5.5h0m1.5 1.1h0m-5.8 1h0m7.8 3.5h0m-2 1.8h0m1.4 5.6h0m-3.6 5.1h0m-1.5 3.6h0m1.7 5.7h0" stroke="#ff928a" stroke-opacity="0.38" stroke-width="4.7" stroke-linecap="round" fill="none"/>
<path d="M376.2 105.4h0m5.6 20.7h0m-1 1.5h0m-4.6 1.2h0m3 .4h0m-6.7 2.3h0m4.4 .3h0m1.5 3.2h0m-7.9 1.6h0m4.3 3.6h0m7.1 .9h0m-7.1 .4h0m-.7 2.9h0m6.4 1.6h0m1.4 1.2h0m-8.6 .1h0m2.9 .7h0m-3.7 .8h0m.8 1.8h0m5.9 2.5h0m-3 17.4h0m-1.2 .8h0m2.4 .4h0" stroke="#ff928a" stroke-opacity="0.38" stroke-width="4.7" stroke-linecap="round" fill="none"/>
<path d="M376.2 109.6h0m0 1h0m2.8 4.9h0m-3.7 3.4h0m.9 7.9h0m-4.6 2.6h0m8.3 3.9h0m-8 7.5h0m5.7 1.1h0m-.7 1.2h0m-1.4 1h0m5.9 11.3h0m-1.8 6.8h0m-3.4 23.3h0" stroke="#ff928a" stroke-opacity="0.38" stroke-width="4.7" stroke-linecap="round" fill="none"/>
<path d="M379.8 102.2h0m-7 20.8h0m6.8 .2h0m-8 4.2h0m9.8 3.6h0m-5.9 .2h0m-3 5.2h0m9.4 1.5h0m-11.4 2.5h0m2.8 .3h0m-2.8 1.7h0m7.1 2.6h0m-2.8 6.1h0m4.3 1.3h0m-4.4 1.2h0m5.5 3.8h0m0 2.4h0m-6.4 .3h0m-.4 3.7h0m4 11.2h0" stroke="#ff928a" stroke-opacity="0.38" stroke-width="4.7" stroke-linecap="round" fill="none"/>
<path d="M375.0 107.6h0m2.4 .4h0m-.3 8.1h0m-4.3 6h0m1.9 6.2h0m-1.5 1.4h0m.8 3.2h0m5.1 5.6h0m1.4 1h0m2 3.1h0m-12.6 1h0m6.3 1.2h0m5.2 5.5h0m-10.9 1h0m6.5 7.3h0m-4.2 2.3h0m7 13.1h0m-3.6 8.8h0" stroke="#ff928a" stroke-opacity="0.38" stroke-width="4.7" stroke-linecap="round" fill="none"/>
<path d="M378.3 111.1h0m-3.8 13.3h0m.9 .3h0m3.2 .8h0m-3.1 7.6h0m5.9 1.2h0m-5.9 .4h0m4.4 .5h0m.6 2.2h0m-8.6 1.2h0m7.2 3.5h0m-7.2 4.4h0m2.1 2.7h0m4.4 .1h0m-.8 2.3h0m3.2 2.3h0m-.9 2.4h0m-6.1 1.6h0m-1.6 .9h0m4 2.7h0m-.9 1.8h0m3 3.7h0m-4.2 .4h0m0 2h0m3.3 3.4h0m-1.2 5.4h0m0 2h0m0 8.3h0" stroke="#ff928a" stroke-opacity="0.38" stroke-width="4.7" stroke-linecap="round" fill="none"/>
<path d="M376.2 63.6h0m3.6 49.9h0m-1.9 7.9h0m-3.4 .4h0m1.7 .7h0m-1.4 14.6h0m1.4 .5h0m5.7 2.2h0m-10.6 3.5h0m7 1.2h0m-3.5 .9h0m4.3 2.4h0m-8.6 .7h0m12 1.4h0m-10.9 4.4h0m.9 .6h0m5.9 .8h0m-1.4 3.4h0m.9 2.5h0m-3.4 1h0m1.7 5.7h0m-1.2 7.8h0" stroke="#ff928a" stroke-opacity="0.38" stroke-width="4.7" stroke-linecap="round" fill="none"/>
<path d="M374.1 111.9h0m6.7 5.1h0m-5.5 .5h0m.9 6.3h0m.8 1.9h0m2.9 5h0m-1.5 1.3h0m-1.5 1.6h0m1.5 .4h0m4.1 .5h0m-10.6 2.3h0m4.3 2.3h0m0 2.1h0m4.3 .5h0m-7.8 1.1h0m2.1 4h0m-2.9 .8h0m0 4.1h0m10 .3h0m-5.7 .5h0m-3 .3h0m3 1.4h0m-5.2 .9h0m7.6 2h0m0 3.4h0" stroke="#ff928a" stroke-opacity="0.38" stroke-width="4.7" stroke-linecap="round" fill="none"/>
<path d="M394.4 176.3L394.1 174.5L393.9 172.7L393.6 170.8L393.2 169.0L392.9 167.2L392.5 165.3L392.2 163.5L391.8 161.7L391.4 159.8L391.1 158.0L390.7 156.2L390.4 154.3L390.2 152.5L390.2 150.7L390.2 148.8L390.2 147.0L390.2 145.2L390.2 143.3L390.2 141.5L390.2 139.7L390.2 137.8L390.2 136.0L390.2 134.2L390.2 132.3L390.2 130.5L390.5 128.7L390.7 126.8L391.0 125.0L391.3 123.2L391.6 121.3L391.9 119.5L392.3 117.7L392.6 115.9L392.8 114.0L393.1 112.2L393.4 110.4L393.7 108.5L393.9 106.7L394.2 104.9L396.4 103.3L396.7 105.2L396.9 107.0L397.2 108.8L397.4 110.7L397.7 112.5L398.0 114.3L398.3 116.2L398.6 118.0L398.9 119.8L399.2 121.7L399.5 123.5L399.8 125.3L400.1 127.2L400.4 129.0L400.6 130.8L400.6 132.7L400.6 134.5L400.6 136.3L400.6 138.2L400.6 140.0L400.6 141.8L400.6 143.6L400.6 145.5L400.6 147.3L400.6 149.1L400.6 151.0L400.6 152.8L400.4 154.6L400.0 156.5L399.7 158.3L399.3 160.1L398.9 162.0L398.6 163.8L398.2 165.6L397.8 167.5L397.5 169.3L397.2 171.1L396.9 173.0L396.6 174.8Z" fill="#f0853c" fill-opacity="0.4"/>
<path d="M394.2 104.5h0m2.2 10h0m-1 5.6h0m0 2.1h0m.9 1.8h0m-6 4.4h0m8.5 4.9h0m-3.4 .7h0m-.8 4.7h0m-5.6 2.1h0m4.8 .3h0m6.4 5.4h0m-8.2 1.3h0m-1.7 .4h0m3.4 .2h0m6.2 10.1h0m-4.5 7.3h0m-2.4 .7h0m4.8 3.2h0m-2.4 4.8h0m0 1.8h0" stroke="#f0853c" stroke-opacity="0.38" stroke-width="4.7" stroke-linecap="round" fill="none"/>
<path d="M393.0 108.4h0m2.4 4.2h0m-1 3.5h0m-3.5 7.7h0m9 2.4h0m-4.5 7.3h0m-5.1 1.1h0m9.2 2.3h0m2.3 1.4h0m-4.7 10.5h0m-6.8 6.2h0m2.4 1.5h0m3.6 1.6h0m-3.6 .8h0m1.8 .6h0m.9 10.9h0m1.2 7.5h0m2.4 1.5h0m-3.6 4.2h0" stroke="#f0853c" stroke-opacity="0.38" stroke-width="4.7" stroke-linecap="round" fill="none"/>
<path d="M396.6 102.8h0m2.4 7.6h0m-.5 6.1h0m.7 4.3h0m-.4 9.7h0m-5.1 .8h0m-1.7 1.1h0m1.7 2.5h0m2.5 1.5h0m-4.9 1h0m8.2 .4h0m2.3 2.5h0m-4.8 .9h0m-4.1 8.5h0m.8 3.2h0m-2.8 4.7h0m2.6 2.8h0m2.9 2h0m2.1 .5h0m-3.1 18.7h0m0 15.7h0" stroke="#f0853c" stroke-opacity="0.38" stroke-width="4.7" stroke-linecap="round" fill="none"/>
<path d="M395.4 93.6h0m-1.9 28h0m1 2.8h0m3.6 .5h0m1.8 .3h0m-5.4 .7h0m-.8 3.7h0m6.8 .5h0m-10.2 2.5h0m5.9 5.5h0m-5.6 1.7h0m5.6 2.3h0m-2.4 3.6h0m3.2 1.9h0m3.5 1.6h0m1.3 1.4h0m-9.8 1.5h0m-.4 7.9h0m.7 5.3h0m3.1 2.4h0" stroke="#f0853c" stroke-opacity="0.38" stroke-width="4.7" stroke-linecap="round" fill="none"/>
<path d="M395.4 98.2h0m1.2 12.9h0m-3.1 12.2h0m4.6 3.3h0m3.6 .5h0m-2.9 2.3h0m-3.4 1.3h0m-5.8 5h0m3.3 1.3h0m0 5.7h0m1.7 .6h0m.8 3.8h0m0 2.3h0m1.7 6.1h0m-2.7 9.2h0" stroke="#f0853c" stroke-opacity="0.38" stroke-width="4.7" stroke-linecap="round" fill="none"/>
<path d="M395.4 81.4h0m0 7.1h0m0 7.7h0m0 4.2h0m1.2 5.2h0m2.4 1.1h0m-.5 8.3h0m2.1 .6h0m-3.3 7.5h0m-.2 5h0m0 1.7h0m-5.1 1.3h0m.2 8.5h0m9 2.2h0m-3.3 .4h0m-1.7 2.2h0m-4.9 .4h0m3.3 .6h0m-2.4 .8h0m6.4 1.1h0m-8.3 5.1h0m3.4 1.4h0m-1.7 1.4h0m2.5 1.9h0m-.1 6.1h0m3.4 3.7h0m-4.8 1.3h0m2.4 4h0" stroke="#f0853c" stroke-opacity="0.38" stroke-width="4.7" stroke-linecap="round" fill="none"/>
<path d="M395.4 109.3h0m2.4 2.7h0m-4.8 1.4h0m-.7 3.8h0m4.1 .4h0m-4.8 2.3h0m7.6 2.9h0m-7.2 4.9h0m8.5 4.1h0m0 3.3h0m-1 9.8h0m-1.6 .3h0m-3.3 5h0m.8 2.4h0m.9 3.2h0m3.6 .4h0m-1.8 .6h0m1.1 4.7h0m-2.8 2.7h0m1.4 4.8h0m-2.4 16.8h0" stroke="#f0853c" stroke-opacity="0.38" stroke-width="4.7" stroke-linecap="round" fill="none"/>
<path d="M395.4 65.5h0m5.2 52.9h0m-4.2 1h0m-.1 8.1h0m4.2 1.5h0m-10.2 2.6h0m3.4 1.3h0m3.4 .9h0m-5.1 1.6h0m9.2 2.3h0m-9.9 1.4h0m1.6 .3h0m-3.3 4.6h0m3.3 .2h0m5.9 4.4h0m-2.6 1.9h0m3.3 .8h0m-2.4 .5h0m-1.7 2.2h0m5.1 .6h0m-5.1 6h0" stroke="#f0853c" stroke-opacity="0.38" stroke-width="4.7" stroke-linecap="round" fill="none"/>
<path d="M395.4 91.1h0m3.6 11.1h0m-1.2 7.4h0m-6.2 12.4h0m1.1 3.4h0m0 1.4h0m2.7 2h0m1.7 3.4h0m4.1 3.9h0m-6.6 .4h0m5.6 4h0m-8.9 3h0m-2.3 3.2h0m8.9 3.3h0m-6.6 .9h0m9.2 2.6h0m-1.7 .9h0m-.7 3.5h0m-.8 3.3h0m1.2 2.6h0" stroke="#f0853c" stroke-opacity="0.38" stroke-width="4.7" stroke-linecap="round" fill="none"/>
<path d="M396.6 107.5h0m-2.2 6.2h0m0 4.2h0m4.1 1h0m-1.2 2.1h0m1.5 13.2h0m-.9 1.6h0m0 3h0m-2.5 1.4h0m3.2 1.4h0m.9 .9h0m2.3 .5h0m-.6 .7h0m.6 2.2h0m-11.2 .9h0m10.6 4.7h0m-2.4 1.7h0m2.9 6h0m-1.1 2.8h0m-7.6 9.3h0m4.8 1.6h0m-4.8 .7h0m2.4 15.6h0" stroke="#f0853c" stroke-opacity="0.38" stroke-width="4.7" stroke-linecap="round" fill="none"/>
<path d="M413.7 175.8L413.4 173.9L413.1 172.1L412.8 170.2L412.5 168.3L412.1 166.5L411.7 164.6L411.4 162.7L411.0 160.9L410.7 159.0L410.3 157.2L410.0 155.3L409.7 153.4L409.7 151.6L409.7 149.7L409.7 147.9L409.7 146.0L409.7 144.1L409.7 142.3L409.7 140.4L409.7 138.5L409.7 136.7L409.7 134.8L409.7 133.0L409.7 131.1L409.8 129.2L410.1 127.4L410.3 125.5L410.6 123.7L411.0 121.8L411.3 119.9L411.6 118.1L411.9 116.2L412.2 114.3L412.5 112.5L412.7 110.6L413.0 108.8L413.2 106.9L413.4 105.0L413.7 103.2L415.8 104.1L416.1 106.0L416.3 107.8L416.5 109.7L416.8 111.6L417.1 113.4L417.4 115.3L417.7 117.1L418.0 119.0L418.3 120.9L418.6 122.7L418.9 124.6L419.2 126.4L419.5 128.3L419.7 130.2L419.7 132.0L419.7 133.9L419.7 135.8L419.7 137.6L419.7 139.5L419.7 141.3L419.7 143.2L419.7 145.1L419.7 146.9L419.7 148.8L419.7 150.6L419.7 152.5L419.6 154.4L419.3 156.2L418.9 158.1L418.6 160.0L418.2 161.8L417.8 163.7L417.5 165.5L417.1 167.4L416.8 169.3L416.4 171.1L416.1 173.0L415.9 174.8Z" fill="#ffb428" fill-opacity="0.4"/>
<path d="M414.7 105.3h0m0 7.9h0m-1.9 10.2h0m-2.5 1.1h0m7 .4h0m-.9 8.1h0m3.3 1.3h0m0 1.8h0m-1 .3h0m-6.4 .7h0m3.2 3.8h0m4.9 2.6h0m-1 1.7h0m-2.3 3.7h0m-7.4 2.7h0m9 .8h0m-9.7 .5h0m7.6 9.4h0m-1.9 7.1h0m0 16h0" stroke="#ffb428" stroke-opacity="0.38" stroke-width="4.7" stroke-linecap="round" fill="none"/>
<path d="M414.7 106.4h0m3 9.5h0m-1.1 2.6h0m-1.9 1.4h0m-1.9 1.1h0m3.8 1.6h0m-2.8 4.6h0m1.7 2.4h0m-2.5 1.4h0m5 .3h0m1.7 .2h0m-10 3.5h0m8.1 3.4h0m-1.5 .7h0m4.7 .5h0m-12 1.7h0m9.7 .4h0m-8 .9h0m8 .2h0m-4 18.9h0m-1 1.5h0m6.1 .5h0m-8.1 1.1h0m4 .5h0m.2 8.2h0" stroke="#ffb428" stroke-opacity="0.38" stroke-width="4.7" stroke-linecap="round" fill="none"/>
<path d="M414.7 82.6h0m0 4.3h0m-1.2 9.9h0m4.8 14.9h0m.1 7.6h0m-4.6 5.8h0m1.8 1.4h0m-1.7 1.9h0m-4.9 1.9h0m5.7 3.2h0m-3.3 .2h0m3.3 4.9h0m2.4 3.7h0m-8.7 3h0m7.9 .3h0m.1 1h0m1.6 .7h0m1.7 .6h0m0 2.9h0m-3.3 1.2h0m-2.5 2.2h0m-.1 .9h0m-1.7 1.3h0m2.6 11.3h0m-1.2 4.9h0m1.2 19h0" stroke="#ffb428" stroke-opacity="0.38" stroke-width="4.7" stroke-linecap="round" fill="none"/>
<path d="M412.4 106.9h0m-.3 18.5h0m3.5 .4h0m3.5 1.6h0m-7 .4h0m8.3 1.2h0m-9 3.3h0m5.7 10.7h0m-5.7 4.6h0m-.7 2h0m10.1 6.4h0m-10.5 1.8h0m5.3 .5h0m2.1 6h0m-4 1.7h0m-1.3 2.2h0" stroke="#ffb428" stroke-opacity="0.38" stroke-width="4.7" stroke-linecap="round" fill="none"/>
<path d="M417.0 108.0h0m-1.3 9.5h0m-4 .6h0m1.1 2.1h0m3.8 1.7h0m.7 5h0m-6.6 3.2h0m-1 .5h0m3.3 2.7h0m2.5 4.1h0m-4.8 .8h0m-.7 .6h0m-1.6 1.1h0m12 1.1h0m-11.4 9h0m6.6 4.6h0m2.8 6.6h0m-5.6 .8h0" stroke="#ffb428" stroke-opacity="0.38" stroke-width="4.7" stroke-linecap="round" fill="none"/>
<path d="M414.7 77.0h0m1.2 23.4h0m0 10.7h0m3.9 3.4h0m-8.8 4.4h0m8.1 7.3h0m-.4 3.6h0m-9 2.8h0m3.3 2h0m1.7 .1h0m-4 5.9h0m3.2 3.1h0m1.6 .3h0m-3.2 .1h0m.7 3h0m-.9 9.1h0m3.5 2.3h0m-3.5 .4h0m-1.1 2h0m6 7.8h0m-2.3 6.3h0m0 30.4h0" stroke="#ffb428" stroke-opacity="0.38" stroke-width="4.7" stroke-linecap="round" fill="none"/>
<path d="M415.9 104.2h0m-3.5 4.5h0m4.6 1.5h0m-1.3 4.8h0m2 1.7h0m3.1 11.4h0m-3.7 .4h0m-2.4 3.5h0m-1.6 7.4h0m6.3 .7h0m-5.5 1.5h0m3.9 4.3h0m-6.4 5h0m6.6 .4h0m1.1 3.7h0m-1.8 2.3h0m3.5 1.9h0m-5.1 3.7h0m-1 16.6h0m0 15.9h0" stroke="#ffb428" stroke-opacity="0.38" stroke-width="4.7" stroke-linecap="round" fill="none"/>
<path d="M414.7 94.5h0m3.6 8.4h0m-4.6 12.7h0m-2.7 5.8h0m3.7 2.3h0m3.3 11.8h0m-4.1 1.4h0m-2.3 3.4h0m.7 1.8h0m8.7 1.1h0m-6.3 1.8h0m0 1.9h0m0 3.5h0m-1.7 1.3h0m6.1 5.2h0m-1.8 3h0m.4 6.3h0m-.7 .7h0" stroke="#ffb428" stroke-opacity="0.38" stroke-width="4.7" stroke-linecap="round" fill="none"/>
<path d="M415.9 98.1h0m-2.4 2.9h0m3.5 12.8h0m-2.3 6.9h0m3.7 1.5h0m-6.1 7.1h0m4.1 2.6h0m-5 3.4h0m9 2.3h0m-11.4 .3h0m4.9 11.6h0m6.5 .7h0m0 3h0m-8.1 .3h0m-1.6 .5h0m3.1 3.4h0m0 2.2h0m4.5 12.3h0m-3.6 9.2h0m0 2.7h0" stroke="#ffb428" stroke-opacity="0.38" stroke-width="4.7" stroke-linecap="round" fill="none"/>
<path d="M414.7 91.5h0m0 18.3h0m-2.3 2.6h0m1.3 4.4h0m4.7 6.3h0m-7.4 .9h0m7 10h0m-1.6 1.8h0m.7 .8h0m3.9 7.9h0m-9.4 .2h0m-1.6 1.4h0m3.1 .3h0m-3.4 1.8h0m9 .3h0m-3.2 .1h0m-3.2 .5h0m4.8 3.5h0m-1.6 1.2h0m1.8 1.7h0m1.8 4.8h0m-6.7 9.8h0m3.5 1h0m0 5.4h0m-2.4 1h0" stroke="#ffb428" stroke-opacity="0.38" stroke-width="4.7" stroke-linecap="round" fill="none"/>
<path d="M443.4 209.8L443.1 208.3L442.9 206.8L442.6 205.2L442.3 203.7L442.0 202.2L441.7 200.6L441.4 199.1L441.0 197.6L440.7 196.0L440.4 194.5L440.1 193.0L439.9 191.4L439.7 189.9L439.6 188.3L439.6 186.8L439.6 185.3L439.6 183.7L439.6 182.2L439.6 180.7L439.6 179.1L439.6 177.6L439.6 176.1L439.6 174.5L439.6 173.0L439.6 171.5L439.8 169.9L440.0 168.4L440.2 166.9L440.5 165.3L440.7 163.8L441.0 162.2L441.2 160.7L441.5 159.2L441.8 157.6L442.0 156.1L442.3 154.6L442.5 153.0L442.8 151.5L443.0 150.0L443.2 148.4L445.5 147.7L445.7 149.2L445.9 150.7L446.2 152.3L446.4 153.8L446.7 155.3L446.9 156.9L447.2 158.4L447.4 159.9L447.7 161.5L447.9 163.0L448.2 164.5L448.4 166.1L448.7 167.6L448.9 169.2L449.1 170.7L449.2 172.2L449.2 173.8L449.2 175.3L449.2 176.8L449.2 178.4L449.2 179.9L449.2 181.4L449.2 183.0L449.2 184.5L449.2 186.0L449.2 187.6L449.2 189.1L449.0 190.6L448.8 192.2L448.5 193.7L448.2 195.3L447.9 196.8L447.6 198.3L447.3 199.9L447.0 201.4L446.7 202.9L446.4 204.5L446.1 206.0L445.8 207.5L445.5 209.1Z" fill="#555555" fill-opacity="0.4"/>
<path d="M444.4 143.2h0m0 9.3h0m3.2 4.1h0m0 2.1h0m-4.3 1.8h0m-2 7.3h0m6.2 1.7h0m-1.7 4h0m-5.6 2.3h0m.9 2.3h0m0 3.3h0m-1.4 1.7h0m7.5 2.6h0m-7 .1h0m9.5 14.9h0m-6.5 5.8h0" stroke="#555555" stroke-opacity="0.38" stroke-width="4.7" stroke-linecap="round" fill="none"/>
<path d="M444.4 128.5h0m-2.4 23.2h0m4.8 3.1h0m2.9 2.2h0m-4.2 3.1h0m4.2 1h0m-5.3 .9h0m.8 5h0m3.9 1.5h0m-.5 4.7h0m-9.8 .6h0m8.4 .9h0m-5.6 .9h0m6.1 3.3h0m2.7 .8h0m-1.3 2.1h0m-8 .9h0m9.3 .9h0m-10.2 .8h0m-1.4 .2h0m8.4 .2h0m1.4 2.9h0m-7 1.8h0m-.9 1.2h0m5.9 .6h0m-3.8 .8h0m1.6 .2h0m-3.1 .3h0m3.1 1.5h0m-1.1 6.3h0m1.1 1.9h0m1.2 5.2h0m-1.2 1.7h0" stroke="#555555" stroke-opacity="0.38" stroke-width="4.7" stroke-linecap="round" fill="none"/>
<path d="M444.4 154.1h0m3.7 8.3h0m-3.7 1.3h0m1.6 1.4h0m4 6.6h0m-6.3 7h0m5.4 2.2h0m-6.1 2.9h0m5.6 1.7h0m-4.9 5h0m-.9 3.3h0m6.3 1.8h0m-3.6 2.9h0m-2.2 .8h0" stroke="#555555" stroke-opacity="0.38" stroke-width="4.7" stroke-linecap="round" fill="none"/>
<path d="M444.4 123.9h0m0 13.5h0m-3.7 25.5h0m-.5 9.1h0m2.8 .9h0m1.4 1.6h0m4.2 2.6h0m.5 .8h0m-1.4 2.7h0m-1.3 2h0m3.6 3.5h0m-11.2 2.2h0m7 .2h0m1.4 .4h0m-5 2.1h0m3.8 1.9h0m-6.3 .4h0m7.1 8.4h0m-2.4 10.3h0m0 4.8h0" stroke="#555555" stroke-opacity="0.38" stroke-width="4.7" stroke-linecap="round" fill="none"/>
<path d="M445.6 149.5h0m1.2 3.7h0m-4.8 2h0m3.5 4.4h0m-4.2 5.7h0m2.3 .8h0m5.9 3.8h0m-7.3 1.4h0m-.6 1.2h0m5.6 .2h0m-8.4 3.2h0m5.6 .2h0m-2.8 1.4h0m-1.4 10.4h0m8.9 5.6h0m-1.6 1h0m.6 1.5h0m-.5 1.9h0m-5.6 5.4h0m2.4 6.7h0" stroke="#555555" stroke-opacity="0.38" stroke-width="4.7" stroke-linecap="round" fill="none"/>
<path d="M445.5 157.6h0m-5.8 11.4h0m5.4 2h0m-4.9 3.1h0m8.4 .8h0m1.4 .4h0m-7 1.6h0m2.1 .8h0m5.3 1.4h0m-6.7 1.6h0m2.7 .9h0m-4.8 2.5h0m-2.8 2.9h0m4.2 .4h0m-1.7 7.9h0m-.1 3.4h0" stroke="#555555" stroke-opacity="0.38" stroke-width="4.7" stroke-linecap="round" fill="none"/>
<path d="M444.4 101.9h0m0 37.2h0m-4.7 25h0m8.9 3.5h0m-2.8 6.6h0m-.7 5.7h0m-2.7 2.2h0m2 2.2h0m5.6 3.8h0m-7 .6h0m1.4 25.1h0" stroke="#555555" stroke-opacity="0.38" stroke-width="4.7" stroke-linecap="round" fill="none"/>
<path d="M444.4 145.2h0m3.6 3h0m1.1 16.3h0m-6.3 .2h0m4.7 .9h0m-7.3 .8h0m6.7 .2h0m-4.1 2h0m1.6 .5h0m-5.1 1.4h0m1.4 .2h0m-1.9 1.4h0m4.2 3h0m2.8 1.4h0m1.4 .7h0m-4.8 3h0m8 .1h0m-6.7 3.1h0m2.1 1.8h0m-4.2 1.1h0m2.8 .2h0m0 2.8h0m5.1 .7h0m-10.2 1.6h0m8.3 8.1h0m-5.6 5.9h0" stroke="#555555" stroke-opacity="0.38" stroke-width="4.7" stroke-linecap="round" fill="none"/>
<path d="M444.4 112.4h0m0 38.1h0m-3.2 7.8h0m6.4 3.3h0m-5 1h0m3.6 .7h0m-.2 4.8h0m2.1 1.6h0m-1.5 .6h0m-2.9 1.1h0m.7 2h0m-2 6.2h0m-4 3.6h0m7.4 4.1h0m2.3 2.5h0m-3 .5h0m-.7 6.2h0m-1.8 1.1h0" stroke="#555555" stroke-opacity="0.38" stroke-width="4.7" stroke-linecap="round" fill="none"/>
<path d="M444.4 146.7h0m-1.1 9.1h0m0 3.3h0m-1.4 8.1h0m8.1 9.5h0m-11.6 1.6h0m1.3 .2h0m6.7 .8h0m-6.7 1.8h0m8 .9h0m-2.6 .4h0m4.9 2.7h0m-1.4 1.7h0m-1.1 4.9h0m-1.5 3.1h0m-6.3 .2h0m1 1.7h0m5.5 .6h0m-.7 3.9h0m1.3 2.6h0m-2.4 .7h0" stroke="#555555" stroke-opacity="0.38" stroke-width="4.7" stroke-linecap="round" fill="none"/>
<path d="M462.4 204.6L462.1 202.9L461.9 201.2L461.6 199.4L461.4 197.7L461.1 196.0L460.9 194.3L460.6 192.6L460.3 190.9L460.0 189.2L459.7 187.5L459.5 185.8L459.2 184.1L459.0 182.4L458.7 180.7L458.6 178.9L458.6 177.2L458.6 175.5L458.6 173.8L458.6 172.1L458.6 170.4L458.6 168.7L458.6 167.0L458.6 165.3L458.6 163.6L458.6 161.9L458.6 160.2L458.6 158.4L458.7 156.7L458.9 155.0L459.1 153.3L459.3 151.6L459.5 149.9L459.8 148.2L460.0 146.5L460.3 144.8L460.5 143.1L460.8 141.4L461.0 139.7L461.3 138.0L461.5 136.2L461.7 134.5L462.0 132.8L462.2 131.1L462.4 129.4L464.6 130.8L464.8 132.5L465.0 134.3L465.2 136.0L465.5 137.7L465.7 139.4L466.0 141.1L466.2 142.8L466.5 144.5L466.7 146.2L467.0 147.9L467.2 149.6L467.5 151.3L467.7 153.0L467.9 154.7L468.1 156.5L468.2 158.2L468.2 159.9L468.2 161.6L468.2 163.3L468.2 165.0L468.2 166.7L468.2 168.4L468.2 170.1L468.2 171.8L468.2 173.5L468.2 175.2L468.2 177.0L468.2 178.7L468.1 180.4L467.9 182.1L467.6 183.8L467.4 185.5L467.1 187.2L466.8 188.9L466.5 190.6L466.3 192.3L466.0 194.0L465.7 195.7L465.5 197.5L465.2 199.2L465.0 200.9L464.7 202.6L464.5 204.3Z" fill="#a6a6a6" fill-opacity="0.4"/>
<path d="M464.6 137.4h0m-1.2 11.6h0m-2.2 3.2h0m.4 2h0m-1.8 1.1h0m1.8 3.5h0m1.8 4.5h0m6 1.4h0m-5.1 3.8h0m-5.2 2.6h0m10.3 2h0m0 .5h0m-9.6 4.5h0m.7 4.6h0m-2 2.8h0m2.7 1.6h0m5.8 14.7h0m-2.4 1h0" stroke="#a6a6a6" stroke-opacity="0.38" stroke-width="4.7" stroke-linecap="round" fill="none"/>
<path d="M463.4 121.0h0m0 9.6h0m3.6 12.4h0m.7 2.7h0m0 5.1h0m0 2.4h0m-7.2 3.3h0m-.7 2h0m9.1 .6h0m-9.8 1.3h0m8.6 1.1h0m-2.5 1.3h0m2.5 2.9h0m-1.7 2.5h0m0 6.7h0m-8.1 2.5h0m0 2.4h0m5.5 1.6h0m-2.9 3.1h0m1.7 4.6h0m3.6 5.6h0m-2.4 22.3h0m0 15.2h0" stroke="#a6a6a6" stroke-opacity="0.38" stroke-width="4.7" stroke-linecap="round" fill="none"/>
<path d="M462.2 131.7h0m2.4 6.3h0m-1.2 2.1h0m1.8 14.7h0m-1.8 .7h0m0 2.1h0m-.9 2.6h0m-.9 1.6h0m-3.7 .8h0m6.4 3.3h0m-5.2 .3h0m6.9 .7h0m-1.7 7.8h0m4.6 2.3h0m0 3.2h0m-.6 3.5h0m-3.9 1h0m.2 3.5h0m-1.2 11.3h0m0 7.5h0m0 5.8h0" stroke="#a6a6a6" stroke-opacity="0.38" stroke-width="4.7" stroke-linecap="round" fill="none"/>
<path d="M462.2 136.1h0m3.6 3.5h0m1.9 9.8h0m-6.9 15.9h0m0 1.8h0m1.7 .2h0m-3.4 .3h0m7.9 12h0m-1.8 1.5h0m1.1 3h0m-1.7 8.9h0m-1.2 8h0" stroke="#a6a6a6" stroke-opacity="0.38" stroke-width="4.7" stroke-linecap="round" fill="none"/>
<path d="M463.4 90.4h0m6 51.2h0m-8.2 4.5h0m0 4.9h0m2.2 .9h0m-5.5 1.9h0m.6 3h0m-.6 1.3h0m11 4h0m-2.9 1.7h0m0 6.7h0m1.7 1.3h0m-3.4 1.6h0m5.1 1.8h0m-2.4 14.2h0" stroke="#a6a6a6" stroke-opacity="0.38" stroke-width="4.7" stroke-linecap="round" fill="none"/>
<path d="M463.4 96.2h0m0 31.8h0m1.2 5.3h0m0 1.1h0m2.4 4.6h0m-5.8 9.8h0m4.4 1.2h0m-6.5 2.9h0m3.3 3h0m3.9 1.5h0m-.3 2.2h0m-5.2 1.1h0m8.6 5.7h0m-1.7 3.7h0m-6.9 4.2h0m1.7 1.1h0m2.7 1h0m-3.6 2.9h0m0 1.3h0m.8 4.6h0m3.2 1.7h0m-5.8 1.5h0m6 1.6h0m-4.8 .4h0m1.2 1.5h0m-1.2 5.9h0m2.4 6.4h0" stroke="#a6a6a6" stroke-opacity="0.38" stroke-width="4.7" stroke-linecap="round" fill="none"/>
<path d="M463.4 108.6h0m0 16.3h0m3.6 10.1h0m-1.4 12h0m-2.2 .4h0m3.6 7.1h0m-2.6 1.7h0m2.6 6.1h0m-7.2 .9h0m-.7 1.2h0m8.6 .4h0m1.7 1.8h0m-8.6 1.2h0m8.6 1.6h0m-6.9 .2h0m6.9 .8h0m-5.1 .9h0m-5.2 2.5h0m7.9 2.5h0m1.9 2.5h0m-1.9 .1h0m2.4 4.2h0m-6 12.2h0" stroke="#a6a6a6" stroke-opacity="0.38" stroke-width="4.7" stroke-linecap="round" fill="none"/>
<path d="M461.0 141.2h0m1.2 2.1h0m-3.1 3.1h0m6.5 2h0m0 4.1h0m2.7 4.6h0m-4 4.1h0m-1.8 7.5h0m0 3h0m-5.1 .6h0m10.3 1.8h0m-2.5 3.8h0m-7.3 .6h0m1.9 2.4h0m6.5 .9h0m-3.9 .6h0m-.2 13.5h0m1.2 12.9h0m0 16h0" stroke="#a6a6a6" stroke-opacity="0.38" stroke-width="4.7" stroke-linecap="round" fill="none"/>
<path d="M464.6 142.4h0m1.2 2h0m-4.8 .6h0m-1.9 2.9h0m0 2.4h0m7.9 9h0m-9.6 1.6h0m0 3.3h0m0 4.7h0m3.4 2h0m-1.7 1.9h0m.7 2.9h0m1.8 1h0m1.8 .9h0m1 4.4h0m3.9 1.5h0m-9.2 2.4h0m4.3 .4h0m4.3 1.2h0m-7.9 4.1h0" stroke="#a6a6a6" stroke-opacity="0.38" stroke-width="4.7" stroke-linecap="round" fill="none"/>
<path d="M463.4 64.5h0m0 62.5h0m0 16.9h0m0 7.5h0m5.5 2.3h0m-3.7 4.2h0m4.2 2h0m-6.9 3.7h0m1.8 1.5h0m3.4 4h0m1.7 .8h0m-3.4 2.3h0m-5.2 .3h0m2.6 3.5h0m0 15h0m3.6 1.4h0m-6 1.3h0m3.6 3.1h0m1.2 1.6h0" stroke="#a6a6a6" stroke-opacity="0.38" stroke-width="4.7" stroke-linecap="round" fill="none"/>
<path d="M481.8 198.8L481.6 197.1L481.3 195.5L481.1 193.8L480.9 192.2L480.6 190.5L480.4 188.8L480.1 187.2L479.9 185.5L479.6 183.9L479.4 182.2L479.1 180.5L478.9 178.9L478.7 177.2L478.5 175.6L478.2 173.9L478.0 172.2L477.9 170.6L477.9 168.9L477.9 167.3L477.9 165.6L477.9 163.9L477.9 162.3L477.9 160.6L477.9 159.0L477.9 157.3L477.9 155.6L477.9 154.0L477.9 152.3L477.9 150.7L477.9 149.0L477.9 147.3L478.0 145.7L478.2 144.0L478.3 142.4L478.6 140.7L478.8 139.0L479.0 137.4L479.2 135.7L479.4 134.1L479.7 132.4L479.9 130.7L480.1 129.1L480.4 127.4L480.6 125.8L480.8 124.1L481.0 122.4L481.2 120.8L481.4 119.1L481.6 117.5L481.8 115.8L484.0 117.2L484.2 118.8L484.3 120.5L484.5 122.2L484.8 123.8L485.0 125.5L485.2 127.1L485.4 128.8L485.7 130.5L485.9 132.1L486.1 133.8L486.3 135.4L486.6 137.1L486.8 138.8L487.0 140.4L487.2 142.1L487.4 143.7L487.6 145.4L487.7 147.1L487.7 148.7L487.7 150.4L487.7 152.0L487.7 153.7L487.7 155.4L487.7 157.0L487.7 158.7L487.7 160.3L487.7 162.0L487.7 163.7L487.7 165.3L487.7 167.0L487.7 168.6L487.7 170.3L487.6 172.0L487.4 173.6L487.2 175.3L487.0 176.9L486.7 178.6L486.5 180.3L486.3 181.9L486.0 183.6L485.8 185.2L485.5 186.9L485.2 188.6L485.0 190.2L484.8 191.9L484.5 193.5L484.3 195.2L484.1 196.9L483.9 198.5Z" fill="#ff2626" fill-opacity="0.4"/>
<path d="M482.8 53.0h0m0 63.5h0m6 16h0m-7.2 2.5h0m-3.2 3.4h0m8.8 2.2h0m-10 2.3h0m4.6 3.5h0m6.6 2.1h0m-3.7 .8h0m4.3 1.8h0m-10.6 4.5h0m10.6 .6h0m-8.8 1.1h0m8.8 2.4h0m-8.8 2.8h0m8.8 5.7h0m-9.2 2h0m4.2 12.9h0m2.4 1.1h0" stroke="#ff2626" stroke-opacity="0.38" stroke-width="4.7" stroke-linecap="round" fill="none"/>
<path d="M480.4 120.8h0m8.6 30.1h0m-7.1 1.3h0m5.3 .6h0m-.7 1.8h0m2.5 1.8h0m0 3h0m-8.8 3.8h0m8.8 1.2h0m-4.3 .8h0m1.8 .4h0m-3.7 .7h0m4.4 .7h0m-3.5 .6h0m-5.9 1.8h0m6 6.2h0m-2 1.2h0m3.2 1.8h0m-4.4 1.7h0m-1.4 1.4h0m1.2 4h0m0 7.3h0m2.4 1.6h0m0 4.4h0" stroke="#ff2626" stroke-opacity="0.38" stroke-width="4.7" stroke-linecap="round" fill="none"/>
<path d="M482.8 106.8h0m0 10.6h0m2.4 9.7h0m1.2 6.1h0m-2.4 3.3h0m-3.4 1.1h0m-1.5 12.3h0m2.8 7h0m5.3 3h0m1.8 1.8h0m-3.6 5.2h0m-.7 4.7h0m-7.5 .4h0m9.3 .2h0m-4.7 1.9h0m7.2 .7h0m-8.4 2.3h0m2.2 .3h0m4.4 .8h0m-2 8.3h0m-2.4 .5h0" stroke="#ff2626" stroke-opacity="0.38" stroke-width="4.7" stroke-linecap="round" fill="none"/>
<path d="M482.8 101.2h0m0 13.4h0m1.2 9.1h0m0 7.8h0m-4.8 2.7h0m3.6 9.4h0m0 6.4h0m3.7 .4h0m-7.4 2.6h0m6.3 5.4h0m-3.5 9.4h0m3.9 6.1h0m-2 .6h0m-4 1.9h0m-1.4 3.3h0m2 11h0" stroke="#ff2626" stroke-opacity="0.38" stroke-width="4.7" stroke-linecap="round" fill="none"/>
<path d="M482.8 121.8h0m1.2 4.3h0m-1.2 1.7h0m-2.4 .7h0m2.4 8.3h0m2.2 .5h0m2.8 4.9h0m-1.3 2.6h0m-7.4 2.2h0m7.4 .3h0m-5.6 .2h0m-3.7 3.1h0m1.2 .8h0m10 2.2h0m.6 3.6h0m-10.6 3.4h0m8.8 1.6h0m-7 5.2h0m1.6 3.1h0m6.6 2h0m-5.6 7h0m2.4 10.3h0" stroke="#ff2626" stroke-opacity="0.38" stroke-width="4.7" stroke-linecap="round" fill="none"/>
<path d="M482.8 26.2h0m2.4 96.5h0m-3.6 8.3h0m0 3.6h0m.2 7.2h0m1 6.4h0m2.6 3.5h0m-5.2 .2h0m1.7 3.2h0m1.8 5.1h0m1.7 .1h0m-3.5 1.1h0m7.1 2.6h0m-8.1 .9h0m-1.8 .9h0m-1.9 .8h0m.6 6.3h0m7.2 6.1h0m1.4 3.7h0m-3.6 15.4h0m0 3.2h0" stroke="#ff2626" stroke-opacity="0.38" stroke-width="4.7" stroke-linecap="round" fill="none"/>
<path d="M482.8 118.8h0m-2.2 20.3h0m-2.2 .6h0m1.4 1.2h0m-2 4.6h0m8 .3h0m-3 7.5h0m4.4 1.6h0m-7 1.7h0m3.5 1.5h0m-3.5 1h0m-3.6 2h0m8.8 .8h0m1.8 2.3h0m1.8 4.2h0m-1.2 5.1h0m0 1.8h0m-.6 5.5h0m-5.6 1.4h0m7.2 1.5h0m-6 1.6h0m2.4 8.4h0" stroke="#ff2626" stroke-opacity="0.38" stroke-width="4.7" stroke-linecap="round" fill="none"/>
<path d="M482.8 139.3h0m1 3.2h0m-4.7 .8h0m5.6 1h0m-1 8.2h0m-6.5 1.6h0m7.5 .2h0m2.5 4.3h0m-3.5 5.1h0m-2.8 7.2h0m3.1 10.2h0m-2.4 3.4h0m1.2 19.4h0m0 2.4h0" stroke="#ff2626" stroke-opacity="0.38" stroke-width="4.7" stroke-linecap="round" fill="none"/>
<path d="M482.8 110.6h0m0 1.8h0m3.6 12h0m-4.8 1h0m1.2 3.7h0m1.2 4.6h0m1.8 7.6h0m-8 .2h0m3.1 3h0m2.9 .6h0m4 1h0m-6.9 3.5h0m-4.3 8.2h0m5.3 1.2h0m-3.5 3.7h0m0 2.1h0m10 1.2h0m-.6 3.1h0m-4 .5h0m2 .3h0m-6.7 1.4h0m.7 2h0m6 2.7h0m-7.4 1.9h0m6.8 10.1h0m-4.8 .5h0m2.4 3.2h0m0 4.9h0" stroke="#ff2626" stroke-opacity="0.38" stroke-width="4.7" stroke-linecap="round" fill="none"/>
<path d="M485.2 129.7h0m-4.8 .8h0m6 1.4h0m0 3.7h0m2.4 .6h0m-1.6 1.9h0m-2.2 2.1h0m3.4 3.7h0m-8.6 2.8h0m4.9 1.1h0m-7.5 1h0m11.2 .2h0m-7.5 4.9h0m4.5 1.5h0m-1.7 .5h0m-5.3 1.7h0m5.3 3.3h0m1.7 1.9h0m-3.5 .7h0m-3.5 5.2h0m4.4 2.4h0m0 18.1h0" stroke="#ff2626" stroke-opacity="0.38" stroke-width="4.7" stroke-linecap="round" fill="none"/>
<path d="M501.0 177.9L500.7 176.0L500.5 174.1L500.3 172.2L500.0 170.4L499.7 168.5L499.5 166.6L499.2 164.8L498.9 162.9L498.6 161.0L498.3 159.1L498.0 157.3L497.8 155.4L497.5 153.5L497.3 151.7L497.1 149.8L497.1 147.9L497.1 146.1L497.1 144.2L497.1 142.3L497.1 140.4L497.1 138.6L497.1 136.7L497.1 134.8L497.1 133.0L497.1 131.1L497.1 129.2L497.1 127.3L497.1 125.5L497.2 123.6L497.3 121.7L497.5 119.9L497.7 118.0L498.0 116.1L498.2 114.2L498.4 112.4L498.7 110.5L498.9 108.6L499.2 106.8L499.4 104.9L499.6 103.0L499.9 101.1L500.1 99.3L500.3 97.4L500.5 95.5L500.7 93.7L500.9 91.8L503.0 90.8L503.2 92.7L503.4 94.6L503.6 96.5L503.8 98.3L504.0 100.2L504.2 102.1L504.5 103.9L504.7 105.8L505.0 107.7L505.2 109.6L505.4 111.4L505.7 113.3L505.9 115.2L506.1 117.0L506.4 118.9L506.6 120.8L506.8 122.7L506.9 124.5L506.9 126.4L506.9 128.3L506.9 130.1L506.9 132.0L506.9 133.9L506.9 135.8L506.9 137.6L506.9 139.5L506.9 141.4L506.9 143.2L506.9 145.1L506.9 147.0L506.9 148.9L506.8 150.7L506.6 152.6L506.4 154.5L506.1 156.3L505.8 158.2L505.6 160.1L505.3 162.0L505.0 163.8L504.7 165.7L504.4 167.6L504.1 169.4L503.9 171.3L503.6 173.2L503.4 175.1L503.2 176.9Z" fill="#ff928a" fill-opacity="0.4"/>
<path d="M503.2 104.6h0m0 3.2h0m-2.4 2.5h0m5.6 9.7h0m-8.1 4.6h0m9.9 2.2h0m-7.2 1.2h0m2.9 .9h0m3.7 .2h0m-7.5 .3h0m6.3 1.7h0m-10 1.7h0m-.6 4.9h0m3.6 5h0m1.6 3.3h0m6.6 1.8h0m-1.2 8.1h0m-6.6 1.9h0m8.2 1.5h0m-9.6 1.6h0m1.2 5.6h0m2.4 7h0m0 20.9h0" stroke="#ff928a" stroke-opacity="0.38" stroke-width="4.7" stroke-linecap="round" fill="none"/>
<path d="M503.2 108.7h0m-4.8 1h0m4.8 2h0m-5.6 1.9h0m4.4 .5h0m1.2 1.6h0m3.8 1h0m-2 10.5h0m-3 2.9h0m.9 4.6h0m-3.5 .6h0m-1.1 3.7h0m8.1 5.1h0m1.8 8.3h0m-1.8 .6h0m-6.6 1.8h0m4.4 2.3h0m-1 17.9h0" stroke="#ff928a" stroke-opacity="0.38" stroke-width="4.7" stroke-linecap="round" fill="none"/>
<path d="M502.0 92.6h0m-3.6 12.7h0m8.6 16.1h0m-2 2.7h0m-8.6 1.6h0m3 12.8h0m-3 1.1h0m11.8 4.7h0m-4.3 2.9h0" stroke="#ff928a" stroke-opacity="0.38" stroke-width="4.7" stroke-linecap="round" fill="none"/>
<path d="M502.0 75.2h0m-1.2 13.5h0m2.4 6.3h0m2.4 4.4h0m-2.4 1.2h0m-2.4 .7h0m4.2 15.8h0m-2 3.7h0m-6.6 8.9h0m8.2 2.1h0m1.8 4.2h0m1.8 .6h0m-2.5 2.7h0m-3.7 .7h0m-1.9 2.2h0m6.9 3.4h0m-10 .8h0m8.7 .4h0m-.1 12.9h0" stroke="#ff928a" stroke-opacity="0.38" stroke-width="4.7" stroke-linecap="round" fill="none"/>
<path d="M502.0 65.5h0m1.2 24.7h0m2.4 13.2h0m0 3.8h0m-4.8 4.1h0m3.4 1.7h0m3.4 13.3h0m-5.6 .2h0m6.2 4.9h0m-8.8 .6h0m3.5 .3h0m4.7 .7h0m-6.5 2.8h0m-3.5 2.3h0m2.5 1.6h0m2.8 3.6h0m-3.9 2.5h0m3 .8h0m-5.6 1.8h0m5.6 2.1h0m3 1h0m-.8 2.1h0m-3.4 5.3h0" stroke="#ff928a" stroke-opacity="0.38" stroke-width="4.7" stroke-linecap="round" fill="none"/>
<path d="M502.0 86.6h0m3.6 19.4h0m-5.8 13h0m-.8 3.1h0m4 5.6h0m2.7 1h0m-1.8 5.7h0m-6.3 1.1h0m10.6 2.5h0m-7.1 .6h0m1.9 6.5h0m4 6.7h0m-8 .8h0m1.8 10.9h0m2.4 1.1h0m-1.2 .9h0m1.2 4.4h0m-1.2 7.4h0m0 4.8h0" stroke="#ff928a" stroke-opacity="0.38" stroke-width="4.7" stroke-linecap="round" fill="none"/>
<path d="M502.0 93.4h0m-1 24h0m-2 7.1h0m1.1 .5h0m3.8 1h0m-4.9 1.5h0m8 .8h0m1.2 8.1h0m-5.3 .4h0m-.9 4.3h0m1.9 .8h0m-2.8 2.7h0m3.9 .3h0m-5.2 9.6h0m2.2 3h0m-1.2 5h0m3.6 3.6h0m1.2 2.3h0m0 2.4h0m-3.6 8.9h0m0 8.5h0" stroke="#ff928a" stroke-opacity="0.38" stroke-width="4.7" stroke-linecap="round" fill="none"/>
<path d="M502.0 80.0h0m3.6 16.5h0m-2.4 7.2h0m4.8 8.5h0m-2.4 3.3h0m-8.6 3h0m5 .7h0m-1 3.3h0m2 .2h0m5.2 .3h0m-10.6 7.8h0m4.4 2.7h0m-3.7 .7h0m-.7 8.9h0m8.1 5.6h0m-1.8 .6h0m-1.9 4.7h0m2.2 2.2h0m-1 4h0m4.8 2.5h0m-2.4 1.2h0m-2.4 3.8h0m2.4 8h0m-3.6 24.9h0" stroke="#ff928a" stroke-opacity="0.38" stroke-width="4.7" stroke-linecap="round" fill="none"/>
<path d="M500.8 97.2h0m2.4 1.1h0m-2.4 8.3h0m-1 7.8h0m8.2 .5h0m-5 3h0m-4 .3h0m5.2 2.2h0m-7.2 .8h0m4 2.3h0m4.7 1.8h0m-7.4 5.1h0m9.9 2.2h0m-8.1 .8h0m4.5 1.6h0m1.8 2.1h0m-2.5 3.2h0m3.7 1.1h0m-9.3 1h0m0 5.1h0m1.8 .6h0m7.5 .9h0m-11.2 .9h0m1.2 3.3h0m3.2 16.1h0" stroke="#ff928a" stroke-opacity="0.38" stroke-width="4.7" stroke-linecap="round" fill="none"/>
<path d="M502.0 73.2h0m0 10.6h0m1.2 18.6h0m2.4 6.6h0m0 1.9h0m.8 1.9h0m-5.6 3.3h0m-3.2 3.6h0m7.4 2h0m2 2h0m-5.9 6.9h0m4.6 3.3h0m-1.1 3.5h0m3 3.2h0m-1.9 .2h0m-9.3 .9h0m8.2 1.8h0m3.6 .4h0m-9.9 5.7h0m1.8 .7h0m.9 .6h0m2 .4h0m-1 3.7h0m-4.4 .4h0m0 1.3h0m8.8 1.8h0m-3.2 2.6h0m2.4 .5h0m-2.4 10.9h0m-1.2 12.6h0" stroke="#ff928a" stroke-opacity="0.38" stroke-width="4.7" stroke-linecap="round" fill="none"/>
<path d="M520.5 197.9L520.2 196.3L520.0 194.6L519.7 193.0L519.5 191.4L519.2 189.8L518.9 188.1L518.6 186.5L518.4 184.9L518.1 183.2L517.8 181.6L517.5 180.0L517.3 178.3L517.0 176.7L516.8 175.1L516.7 173.4L516.7 171.8L516.7 170.2L516.7 168.5L516.7 166.9L516.7 165.3L516.7 163.7L516.7 162.0L516.7 160.4L516.7 158.8L516.7 157.1L516.7 155.5L516.7 153.9L516.9 152.2L517.1 150.6L517.3 149.0L517.6 147.3L517.8 145.7L518.1 144.1L518.3 142.4L518.6 140.8L518.9 139.2L519.2 137.6L519.4 135.9L519.7 134.3L519.9 132.7L520.1 131.0L520.3 129.4L522.5 128.0L522.7 129.7L522.9 131.3L523.1 132.9L523.4 134.6L523.6 136.2L523.9 137.8L524.2 139.5L524.4 141.1L524.7 142.7L525.0 144.3L525.2 146.0L525.5 147.6L525.7 149.2L526.0 150.9L526.2 152.5L526.3 154.1L526.3 155.8L526.3 157.4L526.3 159.0L526.3 160.7L526.3 162.3L526.3 163.9L526.3 165.6L526.3 167.2L526.3 168.8L526.3 170.4L526.3 172.1L526.3 173.7L526.1 175.3L525.9 177.0L525.7 178.6L525.4 180.2L525.1 181.9L524.9 183.5L524.6 185.1L524.3 186.8L524.0 188.4L523.8 190.0L523.5 191.7L523.2 193.3L523.0 194.9L522.7 196.5Z" fill="#f0853c" fill-opacity="0.4"/>
<path d="M519.1 138.8h0m6.4 4h0m-6 2.4h0m2 .7h0m-2.7 3.5h0m-2.3 2.7h0m1.6 1.7h0m3.4 .8h0m2.4 .6h0m1.5 .2h0m1.6 2.3h0m-9.4 .9h0m4.7 3.1h0m5.2 1.6h0m-4.5 3.2h0m-6 2.9h0m2.8 3.1h0m7.2 .9h0m-7.9 .6h0m-3.1 .7h0m7.5 8.6h0m1.4 1.6h0" stroke="#f0853c" stroke-opacity="0.38" stroke-width="4.7" stroke-linecap="round" fill="none"/>
<path d="M523.9 135.0h0m-3.5 8.5h0m1.9 12.4h0m-4.7 .4h0m-1.6 .7h0m1 2.3h0m-1 2.2h0m4 3.4h0m-1.5 .8h0m5.4 2.2h0m-8.4 2.1h0m9.9 3.1h0m-8.4 4.3h0m7.2 .3h0m-5.4 .6h0m6.7 4.6h0m-6 .6h0m4.4 3.7h0m-2.4 1.1h0m0 1.3h0m1.2 4.5h0m-1.2 14.2h0" stroke="#f0853c" stroke-opacity="0.38" stroke-width="4.7" stroke-linecap="round" fill="none"/>
<path d="M521.5 115.4h0m2 25.9h0m-6.5 9h0m1.5 8.9h0m-1.5 6.2h0m7.5 3.5h0m-1.5 1.9h0m-1.5 .7h0m-3.4 .3h0m8.4 .3h0m-10 4.3h0m2.3 3.9h0m1.6 5.2h0m4.7 10h0m-3.6 9.8h0m0 14.4h0" stroke="#f0853c" stroke-opacity="0.38" stroke-width="4.7" stroke-linecap="round" fill="none"/>
<path d="M521.5 122.2h0m0 11.6h0m0 3.5h0m-2.4 3.2h0m5.8 4.1h0m1.1 4.4h0m-1.1 2.8h0m-6.8 .6h0m9.4 2.5h0m-3.6 2.5h0m1.5 1h0m-.9 1.5h0m3 .4h0m-3 4.5h0m-3.8 3.5h0m-2.2 1.6h0m-2 1.2h0m8.6 20.8h0m-2.4 4.1h0" stroke="#f0853c" stroke-opacity="0.38" stroke-width="4.7" stroke-linecap="round" fill="none"/>
<path d="M521.5 127.6h0m-1.2 1.9h0m2.4 1.1h0m-1.2 8.8h0m-4 1.6h0m10 6h0m-5.1 1.1h0m-.1 9.8h0m-3.8 5h0m9 2.9h0m-8.4 2.8h0m5.8 3.8h0m-4.3 7.1h0m1.8 .1h0m5.1 .5h0m-4.9 5.9h0m-4.5 .5h0m1 2.5h0" stroke="#f0853c" stroke-opacity="0.38" stroke-width="4.7" stroke-linecap="round" fill="none"/>
<path d="M521.5 124.4h0m-2.4 11.5h0m.4 6.5h0m6 4.4h0m-4.9 3.8h0m2.6 .3h0m3.3 .3h0m-5.8 4.4h0m-1.6 .8h0m-1.5 5.6h0m2.4 1.8h0m1.5 1.4h0m-3.9 1.8h0m9.9 .7h0m-5.2 6h0m-4.7 .7h0m2.2 1.8h0m-1.7 .6h0m4.3 .3h0m1.8 1.9h0m-1.5 12.4h0m-1.2 6.1h0m0 3.5h0" stroke="#f0853c" stroke-opacity="0.38" stroke-width="4.7" stroke-linecap="round" fill="none"/>
<path d="M521.5 126.0h0m3.6 6.1h0m-3.6 4.3h0m5.7 7.9h0m-6.6 3h0m1.8 2.8h0m-.9 2.6h0m-.8 5.4h0m2.3 2h0m3 3h0m-10.5 .4h0m1.5 .4h0m6 .6h0m-7.5 1.9h0m10.5 .4h0m-4.5 2.4h0m6 1.1h0m-7.5 .3h0m3.2 .7h0m1.7 3.8h0m-6.8 6.3h0" stroke="#f0853c" stroke-opacity="0.38" stroke-width="4.7" stroke-linecap="round" fill="none"/>
<path d="M521.5 101.9h0m0 40h0m2.7 6.9h0m0 1h0m2.8 6.8h0m-7 3h0m-.9 1.4h0m6.3 .3h0m1.6 .8h0m-6.3 .5h0m.8 1.7h0m.8 3.2h0m3.1 .7h0m.6 1.5h0m.5 5.5h0m-.5 2.9h0m0 2.6h0m-3.4 .4h0m-2.2 .9h0m1.1 2.5h0m2.4 5.7h0m-3.6 2.7h0m1.2 24.1h0" stroke="#f0853c" stroke-opacity="0.38" stroke-width="4.7" stroke-linecap="round" fill="none"/>
<path d="M522.7 132.7h0m1.2 5.4h0m-1.3 5.8h0m-5.1 1.5h0m8.5 3.1h0m-9.5 4.8h0m8.4 1h0m1.1 4.6h0m-2.1 3.4h0m0 11.8h0m-.7 1.8h0m-2.6 2.9h0m4.3 3.4h0m-3.4 17.4h0" stroke="#f0853c" stroke-opacity="0.38" stroke-width="4.7" stroke-linecap="round" fill="none"/>
<path d="M523.9 139.8h0m-.4 6.5h0m-4.7 1.6h0m1 3.8h0m0 1.3h0m6.7 .7h0m-3.3 .4h0m-4.1 3.1h0m-3.6 3.4h0m6 .2h0m3 5.2h0m2.5 1.2h0m-6.3 5.7h0m.8 2.8h0m-4 8.4h0m1.6 3.8h0" stroke="#f0853c" stroke-opacity="0.38" stroke-width="4.7" stroke-linecap="round" fill="none"/>
<path d="M539.7 185.2L539.5 183.3L539.2 181.4L539.0 179.5L538.7 177.5L538.4 175.6L538.1 173.7L537.8 171.7L537.5 169.8L537.2 167.9L536.9 166.0L536.7 164.0L536.4 162.1L536.1 160.2L535.9 158.2L535.7 156.3L535.7 154.4L535.7 152.5L535.7 150.5L535.7 148.6L535.7 146.7L535.7 144.7L535.7 142.8L535.7 140.9L535.7 138.9L535.7 137.0L535.7 135.1L535.7 133.2L535.7 131.2L535.8 129.3L536.0 127.4L536.3 125.4L536.5 123.5L536.7 121.6L537.0 119.7L537.2 117.7L537.5 115.8L537.7 113.9L538.0 111.9L538.2 110.0L538.5 108.1L538.7 106.2L538.9 104.2L539.1 102.3L539.3 100.4L539.5 98.4L541.8 97.5L542.0 99.4L542.2 101.3L542.4 103.3L542.6 105.2L542.8 107.1L543.0 109.1L543.3 111.0L543.5 112.9L543.8 114.8L544.0 116.8L544.3 118.7L544.5 120.6L544.8 122.6L545.0 124.5L545.3 126.4L545.5 128.3L545.7 130.3L545.7 132.2L545.7 134.1L545.7 136.1L545.7 138.0L545.7 139.9L545.7 141.8L545.7 143.8L545.7 145.7L545.7 147.6L545.7 149.6L545.7 151.5L545.7 153.4L545.7 155.3L545.6 157.3L545.4 159.2L545.2 161.1L544.9 163.1L544.6 165.0L544.3 166.9L544.0 168.8L543.7 170.8L543.4 172.7L543.1 174.6L542.8 176.6L542.6 178.5L542.3 180.4L542.1 182.3L541.8 184.3Z" fill="#ffb428" fill-opacity="0.4"/>
<path d="M540.7 91.5h0m0 2.5h0m0 2h0m0 8.5h0m-2.4 3.2h0m2.4 11.9h0m1 6.6h0m5.3 .5h0m-11.5 1.2h0m8.3 .4h0m-6.9 7.1h0m-1.9 1.4h0m9.5 1.5h0m1.9 7.9h0m-6.6 1.4h0m-1.8 .5h0m7.2 1.3h0m-6.4 4.4h0" stroke="#ffb428" stroke-opacity="0.38" stroke-width="4.7" stroke-linecap="round" fill="none"/>
<path d="M536.2 120.4h0m2.2 .5h0m3.5 1.8h0m1.9 3.2h0m-2.1 4.8h0m.9 5.1h0m-1.9 3.3h0m-4.5 8.4h0m7.2 1h0m-8.4 4.1h0m8.8 4h0m0 4.8h0m-.8 3.2h0m-5.9 2.9h0m3.6 5h0m1.2 2.4h0m0 6.2h0m-1.2 9.1h0" stroke="#ffb428" stroke-opacity="0.38" stroke-width="4.7" stroke-linecap="round" fill="none"/>
<path d="M540.7 73.9h0m3.6 29.3h0m-6 6.9h0m2.4 4.6h0m1.2 1.9h0m2.4 .4h0m.9 4.3h0m1.5 .5h0m-3.7 2.9h0m-3.3 4h0m2 3.1h0m-5.5 9.2h0m1.8 3.2h0m-1.8 .6h0m10.8 .2h0m-6.3 .5h0m5.7 9.5h0m-4.5 7.8h0m-1.2 .6h0m-1.2 2.2h0m4.8 4.1h0m-6 3.6h0m6 .6h0m-2.4 5h0m-2.4 .7h0m1.2 17.2h0m0 2.4h0" stroke="#ffb428" stroke-opacity="0.38" stroke-width="4.7" stroke-linecap="round" fill="none"/>
<path d="M540.7 108.3h0m2.4 .8h0m0 2.3h0m-4.7 12.6h0m1.3 1.5h0m6.2 1.8h0m-6.2 2.7h0m6.2 .9h0m-7.1 2.6h0m5.7 2.6h0m1.9 .5h0m-5.7 .7h0m-5.7 4.6h0m5.7 .6h0m.9 1.3h0m1.8 .2h0m1.8 .5h0m-10.2 1.2h0m12 3.4h0m-12 1.9h0m5.7 3.8h0m-3.1 1.2h0m8.3 2.6h0m.8 12.1h0m-2.4 7.1h0" stroke="#ffb428" stroke-opacity="0.38" stroke-width="4.7" stroke-linecap="round" fill="none"/>
<path d="M543.1 113.6h0m-6 1.9h0m2.4 .4h0m3.5 4.1h0m3.4 15.1h0m-3 4.7h0m3.6 1.5h0m-10.1 5.1h0m5.7 .6h0m1.9 .2h0m-10.1 1h0m12 3.3h0m-4.7 8h0m4.2 .4h0m-6.2 .8h0m-4.2 .3h0m8.8 1.2h0m2.4 3.7h0m-2.4 2.7h0m-2.4 1.4h0m1.2 2.2h0m-2.4 10.4h0m0 3.5h0" stroke="#ffb428" stroke-opacity="0.38" stroke-width="4.7" stroke-linecap="round" fill="none"/>
<path d="M540.7 55.9h0m3.6 50.7h0m-2.4 5.8h0m0 6.1h0m2.4 4.7h0m-6.7 6.1h0m3.1 4.9h0m-1.9 2.1h0m1 3.7h0m-1 2.1h0m-1.9 .8h0m0 9.2h0m4.8 5.8h0m3.5 5.9h0m-3.3 4.2h0m-2.4 3.2h0" stroke="#ffb428" stroke-opacity="0.38" stroke-width="4.7" stroke-linecap="round" fill="none"/>
<path d="M544.3 99.0h0m-6 15.4h0m1.2 3.1h0m6.4 10.1h0m-2.1 5.5h0m-1.2 4.9h0m-3.8 .6h0m-4.4 1.8h0m3.6 .4h0m6.5 13.3h0m-1.9 .4h0m-.9 1.1h0m2.1 3.2h0m-6.2 .4h0m6.7 7.3h0" stroke="#ffb428" stroke-opacity="0.38" stroke-width="4.7" stroke-linecap="round" fill="none"/>
<path d="M541.9 98.0h0m0 7.4h0m-1.2 19.7h0m1 4h0m-4.1 1.3h0m9.4 .8h0m-4.4 2.5h0m2.6 6.5h0m-2.6 1.4h0m1.9 1.1h0m1.9 7.8h0m-5.7 2.4h0m-5.7 .6h0m.5 2.8h0m11.5 1.3h0m-9.4 2.6h0m1.9 1.5h0m-1.1 3.2h0m3.5 2h0m0 10h0" stroke="#ffb428" stroke-opacity="0.38" stroke-width="4.7" stroke-linecap="round" fill="none"/>
<path d="M540.7 81.5h0m0 19.2h0m1.2 1.6h0m-1.2 8.8h0m3.6 7h0m-8.1 5.5h0m9.7 9.3h0m-9 1h0m9.5 5h0m-6.6 4.6h0m-5.4 1.8h0m2.5 4.5h0m3.8 1h0m1.9 1.5h0m-2.9 4.5h0m6.2 .4h0m-6.2 1.1h0m-.2 10.7h0m0 7h0m1.2 11.8h0" stroke="#ffb428" stroke-opacity="0.38" stroke-width="4.7" stroke-linecap="round" fill="none"/>
<path d="M540.7 87.0h0m-1.2 25.8h0m7.2 6.3h0m-7.2 3.3h0m5.7 2h0m-7.6 2.5h0m6.2 2.6h0m-8.3 2.1h0m2.1 .5h0m2.1 .4h0m-4.7 2h0m9.5 .3h0m-7.6 2.6h0m-1.9 .3h0m6.6 1.7h0m4.8 3.7h0m-7.6 3.5h0m2.8 2.2h0m-2.8 .8h0m3.8 .5h0m1.9 1.2h0m0 .5h0m-5.7 1.4h0m-1.9 2.1h0m9.8 7.3h0m-10.5 1.5h0m4.5 20.7h0" stroke="#ffb428" stroke-opacity="0.38" stroke-width="4.7" stroke-linecap="round" fill="none"/>
<path d="M573.6 221.8L573.3 220.5L573.0 219.1L572.7 217.7L572.4 216.3L572.1 215.0L571.8 213.6L571.5 212.2L571.2 210.8L570.9 209.5L570.6 208.1L570.3 206.7L570.1 205.4L569.9 204.0L569.9 202.6L569.9 201.2L569.9 199.9L569.9 198.5L569.9 197.1L569.9 195.8L569.9 194.4L569.9 193.0L569.9 191.6L569.9 190.3L570.0 188.9L570.2 187.5L570.5 186.1L570.7 184.8L571.0 183.4L571.3 182.0L571.6 180.7L571.9 179.3L572.2 177.9L572.5 176.5L572.7 175.2L573.0 173.8L573.3 172.4L573.5 171.1L575.8 171.7L576.1 173.1L576.3 174.5L576.6 175.9L576.9 177.2L577.2 178.6L577.5 180.0L577.8 181.3L578.0 182.7L578.3 184.1L578.6 185.5L578.9 186.8L579.1 188.2L579.3 189.6L579.3 191.0L579.3 192.3L579.3 193.7L579.3 195.1L579.3 196.4L579.3 197.8L579.3 199.2L579.3 200.6L579.3 201.9L579.3 203.3L579.2 204.7L579.0 206.0L578.7 207.4L578.5 208.8L578.2 210.2L577.8 211.5L577.5 212.9L577.2 214.3L576.9 215.7L576.6 217.0L576.3 218.4L576.0 219.8L575.8 221.1Z" fill="#555555" fill-opacity="0.4"/>
<path d="M574.6 173.9h0m1.4 12.1h0m-1.4 .6h0m2.5 2.3h0m1.8 .7h0m-1.3 1h0m-7.3 1.5h0m6.6 1.7h0m-7 1.6h0m8.2 .3h0m-5.8 1.3h0m-1.2 .8h0m9.3 1.2h0m-7 .3h0m2.4 .9h0m-1.9 5.6h0m-1.3 1.4h0m-.3 5.4h0m3.3 2.9h0m-3.9 1.6h0" stroke="#555555" stroke-opacity="0.38" stroke-width="4.7" stroke-linecap="round" fill="none"/>
<path d="M575.4 181.7h0m-2.2 3.3h0m2.8 .2h0m2.4 3.9h0m-5.6 .9h0m1.2 .8h0m-3.7 .5h0m-1.2 1.6h0m3.2 1h0m8.1 .7h0m-4.6 2.2h0m3.5 .5h0m-3.5 .4h0m-4.7 2h0m7 .2h0m2.3 3.2h0m-8.3 2.1h0m4.5 .3h0m-.6 3.3h0m4 1.2h0m-4.6 2.1h0m-2 9h0m1.2 7.3h0" stroke="#555555" stroke-opacity="0.38" stroke-width="4.7" stroke-linecap="round" fill="none"/>
<path d="M574.6 169.1h0m-2.4 5.5h0m1.2 1.3h0m4.1 1.9h0m-1.2 2.4h0m-1.7 4.5h0m-4.3 .9h0m1.3 4.2h0m7.3 2.4h0m.4 2.1h0m0 1.2h0m-10.5 1.2h0m4.6 5.2h0m-.1 3h0m.5 4.7h0m.8 13.8h0m0 3.4h0" stroke="#555555" stroke-opacity="0.38" stroke-width="4.7" stroke-linecap="round" fill="none"/>
<path d="M574.6 162.7h0m0 16.7h0m-3.8 8.1h0m6.8 5h0m-1.2 .2h0m-3 1.8h0m2.4 .7h0m4.6 1.1h0m-3.5 4.9h0m-8.1 .1h0m2.3 .4h0m4.8 2.3h0m-4.1 3.7h0m.5 2.9h0m-.1 3.1h0m1.4 2.3h0" stroke="#555555" stroke-opacity="0.38" stroke-width="4.7" stroke-linecap="round" fill="none"/>
<path d="M574.6 166.0h0m1.2 6.6h0m-.2 6.1h0m2.8 3.4h0m-6.6 1.3h0m-1.5 .7h0m2.9 2.2h0m5.7 .7h0m-.8 7.2h0m-9.3 .6h0m5.8 1.3h0m-2.3 4h0m-2.4 .4h0m4.7 .3h0m4.7 .2h0m-4 5.6h0m1.6 2.8h0m-1.5 .9h0m3 2.5h0m-1.4 1.9h0m1.2 3.1h0" stroke="#555555" stroke-opacity="0.38" stroke-width="4.7" stroke-linecap="round" fill="none"/>
<path d="M574.6 156.2h0m5.8 33.2h0m-9.3 6.5h0m-2.3 3.2h0m0 .4h0m9.3 2.8h0m-8.6 1.2h0m7.6 1h0m-3.9 3.8h0m.6 3.3h0m2 8h0" stroke="#555555" stroke-opacity="0.38" stroke-width="4.7" stroke-linecap="round" fill="none"/>
<path d="M574.6 169.9h0m-4.7 23.6h0m7 2.9h0m-1.1 5.1h0m2.1 5.5h0m-1 4.4h0" stroke="#555555" stroke-opacity="0.38" stroke-width="4.7" stroke-linecap="round" fill="none"/>
<path d="M573.4 171.7h0m.2 5.7h0m-.7 3.7h0m4 1.3h0m-1 5.9h0m-.7 2h0m-2.4 1.1h0m-1.2 .4h0m-1.7 5.7h0m2.4 .8h0m4.6 .1h0m1.2 .2h0m-4.7 .2h0m-1.1 3.7h0m-1 3.7h0m8 .2h0m-4.7 2.1h0m-4.3 .6h0m.5 4.2h0" stroke="#555555" stroke-opacity="0.38" stroke-width="4.7" stroke-linecap="round" fill="none"/>
<path d="M577.0 175.0h0m-1.2 1.7h0m-4.6 3.1h0m6.8 .8h0m-4.2 .8h0m-1.5 1.5h0m5.1 3h0m-5.6 .9h0m1.5 .5h0m1.3 .5h0m-5.1 .2h0m10.2 .5h0m-7.6 .2h0m8 1.7h0m-3.7 .7h0m3.7 .6h0m-6.1 1.5h0m.6 4.9h0m5.8 2.5h0m-3.5 1.6h0m-7 .7h0m8.5 .8h0m-3.8 .6h0m5.1 .8h0m.7 .9h0m-5.8 8.4h0m2.9 2.3h0m-1.7 2.1h0m-1.2 3.1h0" stroke="#555555" stroke-opacity="0.38" stroke-width="4.7" stroke-linecap="round" fill="none"/>
<path d="M579.4 178.5h0m.6 4.7h0m-1.1 .5h0m-1.5 .7h0m-2.2 8.3h0m-4.1 .7h0m3.5 1.6h0m-1.2 2.2h0m5.9 5.6h0m-4.7 .5h0m-3.8 .8h0m6.6 3.3h0m1.5 .6h0m-.5 3.1h0" stroke="#555555" stroke-opacity="0.38" stroke-width="4.7" stroke-linecap="round" fill="none"/>
<path d="M592.6 215.3L592.3 213.6L592.1 211.9L591.8 210.2L591.5 208.5L591.2 206.8L590.9 205.1L590.6 203.4L590.3 201.7L590.0 200.0L589.7 198.3L589.5 196.5L589.2 194.8L589.0 193.1L588.9 191.4L588.9 189.7L588.9 188.0L588.9 186.3L588.9 184.6L588.9 182.9L588.9 181.2L588.9 179.5L588.9 177.8L588.9 176.0L588.9 174.3L588.9 172.6L589.1 170.9L589.4 169.2L589.6 167.5L589.9 165.8L590.1 164.1L590.4 162.4L590.7 160.7L590.9 159.0L591.2 157.3L591.5 155.6L591.7 153.8L592.0 152.1L592.2 150.4L592.5 148.7L594.7 148.4L594.9 150.1L595.2 151.9L595.4 153.6L595.7 155.3L595.9 157.0L596.2 158.7L596.5 160.4L596.8 162.1L597.0 163.8L597.3 165.5L597.6 167.2L597.8 168.9L598.0 170.6L598.2 172.3L598.3 174.1L598.3 175.8L598.3 177.5L598.3 179.2L598.3 180.9L598.3 182.6L598.3 184.3L598.3 186.0L598.3 187.7L598.3 189.4L598.3 191.1L598.3 192.8L598.0 194.6L597.8 196.3L597.5 198.0L597.2 199.7L596.9 201.4L596.6 203.1L596.3 204.8L596.0 206.5L595.7 208.2L595.4 209.9L595.2 211.6L594.9 213.3L594.7 215.1Z" fill="#a6a6a6" fill-opacity="0.4"/>
<path d="M593.6 146.9h0m0 12.4h0m1.1 .6h0m-5 2.1h0m2 .7h0m.3 9.5h0m-3.3 .5h0m4.1 3h0m3.1 .3h0m1.5 .4h0m-.9 4.5h0m-5.2 2.4h0m7.7 .3h0m-1 1.8h0m-6.7 1h0m6.1 2.2h0m-2.2 3.3h0m1.7 1.2h0m-8.2 3.7h0m1.6 5.3h0" stroke="#a6a6a6" stroke-opacity="0.38" stroke-width="4.7" stroke-linecap="round" fill="none"/>
<path d="M593.6 136.0h0m-1.1 24.4h0m5 1.8h0m-5.5 4.2h0m-1.7 1.4h0m.7 .5h0m7 1h0m-3.5 2h0m4.5 2.8h0m-9.2 2.5h0m3 .5h0m-3 2.1h0m2.3 1.8h0m1.5 .7h0m1.5 2.8h0m-5.3 4.8h0m3.8 2.9h0m0 5.5h0m1.9 2h0m1.4 1h0m-.9 5.4h0m-1.2 3h0m2.4 3.1h0m-3.6 5.7h0m0 19.1h0" stroke="#a6a6a6" stroke-opacity="0.38" stroke-width="4.7" stroke-linecap="round" fill="none"/>
<path d="M599.1 160.7h0m-8.1 9.4h0m1.7 .3h0m-2.4 1.6h0m7.1 2.6h0m-7.6 .3h0m9.6 2h0m-6.6 1.9h0m-3.6 1h0m-1.4 .2h0m10.2 .4h0m-2.9 1.1h0m-5.3 1.5h0m-.6 2.7h0m3.6 1.5h0m1.6 .2h0m1.5 .5h0m3.1 1.6h0m-3.1 .9h0m-7.2 3h0m9.8 .3h0m-1.6 3.5h0m-4.4 5.9h0m6.6 1.3h0m-5.5 15.5h0" stroke="#a6a6a6" stroke-opacity="0.38" stroke-width="4.7" stroke-linecap="round" fill="none"/>
<path d="M593.6 116.3h0m-2.4 42.4h0m1.3 6.7h0m.2 3.1h0m3.5 1.2h0m-7 1h0m9.3 2.3h0m-4.9 .6h0m2.3 4.5h0m3.5 2.5h0m-9.6 5.7h0m9.2 .4h0m-4.6 1.4h0m-6.2 1.8h0m9.2 .8h0m1.6 .7h0m-8.7 4.6h0m8.2 .4h0m-3.8 8.6h0m-1.1 1.8h0m1.2 3h0m-1.2 21.4h0" stroke="#a6a6a6" stroke-opacity="0.38" stroke-width="4.7" stroke-linecap="round" fill="none"/>
<path d="M593.6 106.7h0m0 36.1h0m3.6 10.5h0m-6 4.2h0m5.7 3.7h0m-1.7 5.9h0m-.8 9h0m-3.1 2.6h0m7.7 .7h0m-8.3 1.9h0m-2.5 6.4h0m3.8 8.1h0m3.2 1.6h0m-5.5 1.9h0m2.8 4.5h0m4.4 1.6h0m-5.7 2.1h0" stroke="#a6a6a6" stroke-opacity="0.38" stroke-width="4.7" stroke-linecap="round" fill="none"/>
<path d="M593.6 145.3h0m-1.2 4.6h0m2.4 1.8h0m-1.2 14.1h0m4.9 1.6h0m-2.3 3.7h0m-1 2.2h0m-3.9 1.9h0m0 14h0m.7 3.4h0m-1.7 .3h0m-1.1 2h0m2.5 3.2h0" stroke="#a6a6a6" stroke-opacity="0.38" stroke-width="4.7" stroke-linecap="round" fill="none"/>
<path d="M593.6 140.2h0m1.2 12h0m1.2 5.7h0m-7.3 8.9h0m10.7 2.1h0m-1.4 2.6h0m-2.1 3.9h0m-1.5 3h0m3 4.7h0m-3.8 .8h0m2.9 .8h0m.9 1.2h0m-6.1 5.2h0m2.3 7.3h0m1.1 2h0m0 2.2h0m-2.3 8.5h0m2.4 2.2h0m-1.2 .8h0" stroke="#a6a6a6" stroke-opacity="0.38" stroke-width="4.7" stroke-linecap="round" fill="none"/>
<path d="M593.6 128.5h0m1.9 35h0m-1.1 10.4h0m4.6 3.5h0m-1.6 2.2h0m-1.5 2.6h0m-3.1 .4h0m0 6.2h0m0 1.4h0m1.7 4h0m3 4.6h0m-3.9 17.6h0m0 8.9h0" stroke="#a6a6a6" stroke-opacity="0.38" stroke-width="4.7" stroke-linecap="round" fill="none"/>
<path d="M594.8 154.5h0m-2.4 .7h0m1.2 .7h0m0 7.3h0m1.1 .9h0m2.2 8.4h0m-8.7 1.8h0m3.1 3.3h0m3.1 4.4h0m-6.2 .5h0m3.9 1.5h0m-4.3 .3h0m8.1 2.6h0m3.5 1.4h0m-5 2.5h0m-4.6 .9h0m2.9 3.7h0m6.4 4.7h0m-6.6 1.2h0m4.4 .5h0m.3 6.2h0" stroke="#a6a6a6" stroke-opacity="0.38" stroke-width="4.7" stroke-linecap="round" fill="none"/>
<path d="M593.6 149.1h0m2.4 7.5h0m.9 7.9h0m2.2 .3h0m-2.2 1.3h0m-2.4 3.4h0m-6.3 8.4h0m11.2 7.1h0m-8.7 .3h0m7.3 8.5h0m-1.8 .7h0m-5.2 .5h0" stroke="#a6a6a6" stroke-opacity="0.38" stroke-width="4.7" stroke-linecap="round" fill="none"/>
<path d="M612.1 217.3L611.8 215.8L611.5 214.2L611.1 212.6L610.8 211.0L610.4 209.4L610.1 207.8L609.7 206.2L609.3 204.6L609.0 203.0L608.7 201.4L608.4 199.8L608.3 198.2L608.3 196.6L608.3 195.0L608.3 193.5L608.3 191.9L608.3 190.3L608.3 188.7L608.3 187.1L608.3 185.5L608.3 183.9L608.3 182.3L608.6 180.7L608.8 179.1L609.1 177.5L609.4 175.9L609.7 174.3L610.0 172.7L610.3 171.2L610.5 169.6L610.8 168.0L611.1 166.4L611.4 164.8L611.6 163.2L611.9 161.6L612.1 160.0L614.3 161.3L614.5 162.9L614.8 164.5L615.1 166.1L615.3 167.7L615.6 169.3L615.9 170.9L616.2 172.5L616.5 174.1L616.8 175.7L617.1 177.3L617.3 178.9L617.6 180.4L617.8 182.0L617.9 183.6L617.9 185.2L617.9 186.8L617.9 188.4L617.9 190.0L617.9 191.6L617.9 193.2L617.9 194.8L617.9 196.4L617.9 198.0L617.9 199.6L617.6 201.2L617.3 202.7L616.9 204.3L616.6 205.9L616.2 207.5L615.8 209.1L615.5 210.7L615.1 212.3L614.8 213.9L614.5 215.5L614.2 217.1Z" fill="#ff2626" fill-opacity="0.4"/>
<path d="M613.1 151.4h0m3.6 12.1h0m-4.3 15.9h0m-1.9 4.7h0m6.5 .1h0m-2.7 3.9h0m2.4 5.8h0m-5.5 6h0m5 .2h0m-2.4 1.1h0m-3.6 2.7h0m4.6 4.3h0m1.3 .5h0m-2 1.1h0m-1 10.4h0m0 2.9h0m0 6.9h0" stroke="#ff2626" stroke-opacity="0.38" stroke-width="4.7" stroke-linecap="round" fill="none"/>
<path d="M613.1 166.7h0m-2.4 1.1h0m1.4 .9h0m4.5 1.9h0m-7 1.8h0m1.8 .4h0m1.7 .3h0m3.9 3.8h0m-9.1 4.5h0m5.2 .2h0m-5.2 2.3h0m0 1.5h0m5.2 2.9h0m-4.8 3.2h0m6 1.4h0m-7.2 1.2h0m7.9 .9h0m3.7 .1h0m-2.5 .6h0m-6.2 3.3h0m1 2.5h0m4.2 .5h0m-.9 11.6h0m0 2.4h0" stroke="#ff2626" stroke-opacity="0.38" stroke-width="4.7" stroke-linecap="round" fill="none"/>
<path d="M618.3 182.7h0m-11.2 3.7h0m3.6 .9h0m-2.4 .4h0m1.2 .8h0m8.4 .5h0m-10.8 .6h0m8.4 .9h0m-2.4 .6h0m1.2 .2h0m-5.6 4.7h0m9.6 1.7h0m.8 1h0m-1.2 2.4h0m-1.9 1.4h0m1.5 1.8h0m-2 1.3h0" stroke="#ff2626" stroke-opacity="0.38" stroke-width="4.7" stroke-linecap="round" fill="none"/>
<path d="M613.1 127.8h0m-2.4 34.5h0m5.9 12h0m-1.1 .3h0m-1.6 1.5h0m2.6 2.3h0m1.4 .4h0m1.2 1.2h0m-7.3 .6h0m6.5 .6h0m-9.1 3.7h0m6.5 .2h0m-2.6 .4h0m-1.9 9.3h0m-2 3.4h0m-.5 2.1h0m2.7 6.6h0m-1.3 3.4h0m1.8 2.5h0" stroke="#ff2626" stroke-opacity="0.38" stroke-width="4.7" stroke-linecap="round" fill="none"/>
<path d="M613.1 155.4h0m-1.2 10.7h0m-2.3 7.6h0m7.4 12.2h0m.9 1h0m0 5.1h0m1.2 .2h0m-1.2 .4h0m1.2 .9h0m-3.6 .2h0m-4.8 .5h0m6.3 3.4h0m1.7 .8h0m-10.4 2.2h0m3.3 2.2h0m1.5 .3h0m1.5 .6h0m-5 3.6h0" stroke="#ff2626" stroke-opacity="0.38" stroke-width="4.7" stroke-linecap="round" fill="none"/>
<path d="M615.5 160.5h0m-6.3 16.8h0m6.3 .6h0m-5 3.1h0m6.5 .8h0m-3.9 11h0m-3.1 2.5h0m2.5 .3h0m5 .5h0m-3.8 2.5h0m-5 4.8h0m5.6 13.2h0" stroke="#ff2626" stroke-opacity="0.38" stroke-width="4.7" stroke-linecap="round" fill="none"/>
<path d="M613.1 120.1h0m0 21.8h0m1.2 22.4h0m0 1.1h0m-4.2 3.6h0m6 .5h0m-4.7 2h0m3.4 2.4h0m-.9 2.8h0m-2.9 2h0m-1.8 4.6h0m2.7 6.5h0m0 1h0m-1.2 1.6h0m-2.4 .8h0m1.2 1.2h0m1 2.7h0m2.6 .8h0m1.9 1.3h0m-2.5 .2h0m4 1.5h0m-4.1 1h0m-2.7 .3h0m-.5 3.6h0m2.7 12.3h0" stroke="#ff2626" stroke-opacity="0.38" stroke-width="4.7" stroke-linecap="round" fill="none"/>
<path d="M613.1 117.2h0m0 44.1h0m1 9h0m.7 .9h0m-2.5 4.1h0m6.3 .5h0m-6.3 1.7h0m-2.6 2.2h0m-.5 .8h0m5.2 1.7h0m-1.3 1.2h0m-1.3 .3h0m-1.3 .8h0m7.8 1.2h0m-3.9 .4h0m2.3 .5h0m-7.2 .9h0m-1.2 1.4h0m10.8 1.4h0m-2.4 .7h0m-7.2 .7h0m2.4 1.6h0m-.1 3.3h0m5.2 7.9h0m-3.1 .3h0m-1.6 .5h0m4.3 2.6h0" stroke="#ff2626" stroke-opacity="0.38" stroke-width="4.7" stroke-linecap="round" fill="none"/>
<path d="M613.1 147.3h0m-2.4 29h0m3.1 2.9h0m1.4 1h0m.5 2.1h0m-3.9 2.5h0m7.3 2h0m-3.6 .3h0m-4.8 1.6h0m4.8 .7h0m-2.4 17.1h0m0 4.5h0m2.4 .5h0" stroke="#ff2626" stroke-opacity="0.38" stroke-width="4.7" stroke-linecap="round" fill="none"/>
<path d="M613.1 157.6h0m0 1.3h0m2.4 8.4h0m-2.4 4.8h0m3.9 3h0m-6.3 3h0m3.7 4.5h0m1.3 .4h0m-3.8 4.9h0m4.8 1.4h0m-2.4 .6h0m-1.2 .3h0m-6 1.6h0m12 2.9h0m-5.4 1.6h0m-5.8 .5h0m7.8 .1h0m-1.3 .5h0m3.1 2.3h0m-6.8 6.5h0m1.4 3h0m-1.4 2.9h0m6 2.5h0" stroke="#ff2626" stroke-opacity="0.38" stroke-width="4.7" stroke-linecap="round" fill="none"/>
<path d="M631.5 198.2L631.3 196.4L631.0 194.5L630.8 192.7L630.6 190.9L630.3 189.1L630.0 187.3L629.8 185.5L629.5 183.7L629.2 181.9L628.9 180.1L628.7 178.3L628.4 176.5L628.2 174.7L627.9 172.9L627.7 171.1L627.6 169.3L627.6 167.5L627.6 165.7L627.6 163.9L627.6 162.1L627.6 160.3L627.6 158.5L627.6 156.7L627.6 154.9L627.6 153.1L627.6 151.3L627.6 149.4L627.6 147.6L627.6 145.8L627.6 144.0L627.7 142.2L627.9 140.4L628.1 138.6L628.3 136.8L628.5 135.0L628.7 133.2L629.0 131.4L629.2 129.6L629.4 127.8L629.6 126.0L629.8 124.2L630.1 122.4L630.3 120.6L630.5 118.8L630.7 117.0L630.9 115.2L631.1 113.4L631.3 111.6L631.5 109.8L633.6 110.7L633.8 112.5L634.0 114.3L634.2 116.1L634.4 117.9L634.6 119.7L634.8 121.5L635.1 123.3L635.3 125.1L635.5 126.9L635.7 128.7L635.9 130.5L636.2 132.3L636.4 134.1L636.6 135.9L636.8 137.7L637.0 139.5L637.2 141.3L637.3 143.1L637.4 144.9L637.4 146.7L637.4 148.5L637.4 150.3L637.4 152.2L637.4 154.0L637.4 155.8L637.4 157.6L637.4 159.4L637.4 161.2L637.4 163.0L637.4 164.8L637.4 166.6L637.4 168.4L637.4 170.2L637.2 172.0L636.9 173.8L636.7 175.6L636.4 177.4L636.2 179.2L635.9 181.0L635.7 182.8L635.4 184.6L635.1 186.4L634.8 188.2L634.6 190.0L634.3 191.8L634.1 193.6L633.8 195.4L633.6 197.3Z" fill="#ff928a" fill-opacity="0.4"/>
<path d="M632.5 78.9h0m0 34.4h0m-1.2 6.2h0m1.2 8.3h0m3.6 1.1h0m-3.6 10h0m-3 14.8h0m3 8.8h0m3 2.5h0m2 5.4h0m-9.4 3.3h0m8.8 2.5h0m-4.4 7.9h0m2.4 .5h0m-4.8 3.6h0m3.6 .9h0m2.4 1.6h0" stroke="#ff928a" stroke-opacity="0.38" stroke-width="4.7" stroke-linecap="round" fill="none"/>
<path d="M634.9 124.9h0m-6.8 9.8h0m3.2 1.1h0m5.6 4.6h0m-5.4 1.2h0m4 .3h0m3.1 .3h0m-7.1 4.9h0m-2.7 4.6h0m9.3 1h0m-8.2 3.7h0m4.5 5.4h0m-3.8 2.3h0m7.5 .7h0m-8.6 4.5h0m.8 4.7h0m2.2 1.4h0m-3.6 4.5h0m7.2 .8h0m-4.8 1.1h0m3.6 5.8h0m-2.4 7.8h0m0 7.9h0m0 4.5h0" stroke="#ff928a" stroke-opacity="0.38" stroke-width="4.7" stroke-linecap="round" fill="none"/>
<path d="M633.7 136.5h0m-5.6 .8h0m6.6 1.2h0m-6.6 1.2h0m9.4 7.8h0m-10 .6h0m2 .7h0m-2.6 .2h0m3.7 9.7h0m-1.8 1.8h0m9.3 .2h0m-3.7 6.5h0m-.9 1.8h0m2 1.8h0m-7.4 4.2h0m8.8 3.5h0m-3.2 2.8h0m-1.2 20h0" stroke="#ff928a" stroke-opacity="0.38" stroke-width="4.7" stroke-linecap="round" fill="none"/>
<path d="M632.5 112.3h0m-1.2 3.1h0m2.4 1.1h0m0 7.1h0m-3.4 10.7h0m0 2.5h0m0 2.6h0m7.2 3.5h0m-10.6 2.1h0m1.9 5.2h0m9.3 .3h0m-3.7 .2h0m-6.3 6.1h0m8.1 .5h0m-9.3 1.1h0m6.6 7h0m5.1 1.2h0m-8.3 4.5h0m3.4 8.5h0m2.4 3.1h0" stroke="#ff928a" stroke-opacity="0.38" stroke-width="4.7" stroke-linecap="round" fill="none"/>
<path d="M633.7 118.1h0m-2.4 6.2h0m7.2 5.5h0m-7.2 2.2h0m4.8 .6h0m.8 1.4h0m-1.4 10h0m-4 .2h0m-2.7 2.3h0m7.4 3.1h0m-3.7 2.5h0m5.6 6h0m-7.5 1.4h0m1.9 .4h0m2.2 13h0m-2.2 .4h0m2.2 1.5h0m-1 22.4h0" stroke="#ff928a" stroke-opacity="0.38" stroke-width="4.7" stroke-linecap="round" fill="none"/>
<path d="M634.9 121.1h0m-2.4 .7h0m-1.2 8.8h0m2.4 1h0m3.2 6.7h0m-2.2 1.9h0m-5.2 2.5h0m0 .6h0m4.9 2.5h0m-1.9 3.5h0m-1.9 .6h0m8 6.4h0m-2.4 2.9h0m-1.8 5.3h0m-7.5 2.9h0m4.6 2.7h0m-3.4 6.8h0m4.4 .9h0m2.2 .3h0" stroke="#ff928a" stroke-opacity="0.38" stroke-width="4.7" stroke-linecap="round" fill="none"/>
<path d="M633.7 120.3h0m1.2 6.5h0m-1.4 14.4h0m4.6 5.1h0m-7.5 .4h0m4.9 1.6h0m-2.1 7.5h0m1 4.4h0m-7.5 1.1h0m11.2 .2h0m-7.5 .5h0m5.6 1.6h0m-7.4 4.6h0m3.7 3.2h0m-4.4 .2h0m2.2 4.5h0m8.2 6.3h0m-6 11.3h0" stroke="#ff928a" stroke-opacity="0.38" stroke-width="4.7" stroke-linecap="round" fill="none"/>
<path d="M632.5 88.5h0m0 12.4h0m-1.2 7.6h0m-1.2 19.6h0m2.4 9.6h0m1 6.9h0m0 3.1h0m.9 3.3h0m1.8 1h0m-5.6 .5h0m2.9 .6h0m-1 9.9h0m-3.7 .2h0m2.7 2.4h0m6 .4h0m-8 .1h0m7.4 6.3h0m-5.6 6.5h0m2.4 6.3h0m2.4 13.2h0" stroke="#ff928a" stroke-opacity="0.38" stroke-width="4.7" stroke-linecap="round" fill="none"/>
<path d="M632.5 103.6h0m1.2 3.3h0m-1.2 3.3h0m3.6 6.8h0m-6 5.7h0m-1.2 8.2h0m5.8 2.1h0m-2.2 .4h0m-3.6 1.8h0m7.2 .8h0m1.4 4.9h0m-1.3 4.8h0m-9.3 5.6h0m4.6 2.1h0m4 .6h0m2 .3h0m1.1 .2h0m-7 .4h0m-2.8 2.1h0m3.7 .7h0m3.7 9.2h0m1.9 1.8h0m.5 1h0m-3.9 2.4h0m-2.2 14.8h0m-1.2 4.3h0m2.4 1.5h0m-1.2 18.7h0" stroke="#ff928a" stroke-opacity="0.38" stroke-width="4.7" stroke-linecap="round" fill="none"/>
<path d="M632.5 97.5h0m-2.4 28.1h0m2.4 .8h0m1.2 2.8h0m-6.2 14.4h0m5 1.7h0m2.6 9.8h0m-8.7 .4h0m10.5 .2h0m-2.5 2.2h0m-7.5 1.1h0m9.3 1.9h0m-7.4 1.8h0m-1.9 1.1h0m3.7 3.9h0m1.9 .8h0m4.4 5.7h0m-6.6 3h0m-.2 6.4h0m6 2.7h0" stroke="#ff928a" stroke-opacity="0.38" stroke-width="4.7" stroke-linecap="round" fill="none"/>
<path d="M650.7 220.7L650.4 219.0L650.1 217.3L649.8 215.6L649.4 213.9L649.1 212.2L648.7 210.5L648.4 208.8L648.0 207.1L647.7 205.4L647.4 203.7L647.1 202.0L646.9 200.2L646.9 198.5L646.9 196.8L646.9 195.1L646.9 193.4L646.9 191.7L646.9 190.0L646.9 188.3L646.9 186.6L646.9 184.9L646.9 183.2L647.1 181.5L647.4 179.8L647.6 178.0L647.9 176.3L648.2 174.6L648.5 172.9L648.8 171.2L649.2 169.5L649.5 167.8L649.8 166.1L650.0 164.4L650.3 162.7L650.6 161.0L652.9 161.2L653.1 163.0L653.4 164.7L653.7 166.4L654.0 168.1L654.3 169.8L654.6 171.5L654.9 173.2L655.2 174.9L655.5 176.6L655.8 178.3L656.1 180.0L656.3 181.7L656.5 183.5L656.5 185.2L656.5 186.9L656.5 188.6L656.5 190.3L656.5 192.0L656.5 193.7L656.5 195.4L656.5 197.1L656.5 198.8L656.5 200.5L656.3 202.2L656.0 203.9L655.7 205.7L655.3 207.4L655.0 209.1L654.6 210.8L654.3 212.5L653.9 214.2L653.6 215.9L653.3 217.6L653.0 219.3Z" fill="#f0853c" fill-opacity="0.4"/>
<path d="M651.7 155.0h0m1.1 14.5h0m-1.1 5.5h0m-3.7 3h0m6.8 2.7h0m-4.5 4.1h0m4.7 4.6h0m2.7 5h0m-6 2.2h0m1.4 .4h0m-.7 2.2h0m-4 .3h0m4 2h0m1.5 1.9h0m-3 4h0m.8 1.3h0m-1.2 6.4h0m1.2 .8h0m1.2 3.7h0" stroke="#f0853c" stroke-opacity="0.38" stroke-width="4.7" stroke-linecap="round" fill="none"/>
<path d="M651.7 91.4h0m-2.4 71.5h0m4.2 12.7h0m.7 .7h0m-4.1 3.9h0m-1.2 4.4h0m4.2 .9h0m-3.4 8.5h0m.6 3.2h0m7 .3h0m-6.3 1.3h0m6.7 .1h0m-.9 2.2h0m-5.9 4.2h0m4 5.2h0" stroke="#f0853c" stroke-opacity="0.38" stroke-width="4.7" stroke-linecap="round" fill="none"/>
<path d="M652.8 171.6h0m-1.9 5.1h0m-2.3 4.6h0m.3 6.3h0m2.1 .4h0m1.4 .8h0m2.6 2h0m-4 .4h0m-2.6 1.2h0m0 2.2h0m-2.7 3.5h0m8 .5h0m-4 1.3h0m-.2 2.1h0m4.7 5.5h0m1.2 .9h0m-3.7 12.4h0m0 2.5h0" stroke="#f0853c" stroke-opacity="0.38" stroke-width="4.7" stroke-linecap="round" fill="none"/>
<path d="M651.7 145.4h0m0 18.5h0m3.2 6.3h0m-1 8h0m-6.4 4h0m-1.4 3.5h0m9.8 1.7h0m-6.2 1.6h0m4 2h0m-1.3 .4h0m-2.7 .2h0m8 1.6h0m-10.7 1.8h0m8.9 1.8h0m.9 5.7h0m-6.9 7h0m2.9 3.1h0m4.2 .4h0m-7.7 3.7h0" stroke="#f0853c" stroke-opacity="0.38" stroke-width="4.7" stroke-linecap="round" fill="none"/>
<path d="M654.1 162.1h0m-1.2 3.6h0m0 .8h0m2 1.4h0m-5 5.5h0m5.5 1.8h0m-4.4 4.5h0m-4 1.8h0m-.9 .9h0m8.4 .3h0m-7 4.5h0m7.5 5.8h0m-1.3 1.2h0m-1.3 .6h0m-3.5 1.3h0m3.5 7.5h0m5.2 .5h0m-8.4 .7h0m6.7 1.4h0m-7.9 1.8h0" stroke="#f0853c" stroke-opacity="0.38" stroke-width="4.7" stroke-linecap="round" fill="none"/>
<path d="M651.7 140.4h0m-1.2 26.6h0m1.2 5.6h0m3.7 6.4h0m1.9 4.4h0m-4.2 .4h0m-1.4 .3h0m5.6 .9h0m-11.2 1.1h0m11.2 .1h0m-.9 2.4h0m1.3 4h0m-1.3 5.7h0m-1 1.8h0m-2.9 4.9h0m-5 1.5h0m3.1 7.2h0" stroke="#f0853c" stroke-opacity="0.38" stroke-width="4.7" stroke-linecap="round" fill="none"/>
<path d="M653.5 172.0h0m-4.3 5.5h0m-2.6 1.2h0m10.2 .6h0m-7.9 2.7h0m5.6 4.6h0m3.2 1.5h0m-5.3 4h0m4 3.3h0m-1.4 .2h0m-1.1 6.1h0m.3 2.8h0m-1.7 1.4h0m-4 5.4h0m5.6 5.9h0m-2.4 15.4h0" stroke="#f0853c" stroke-opacity="0.38" stroke-width="4.7" stroke-linecap="round" fill="none"/>
<path d="M655.3 165.1h0m-4.7 3.8h0m4.8 4h0m.5 4.3h0m-5.6 5.8h0m7.4 6.3h0m-12 .7h0m10.7 .6h0m0 2.2h0m-1.9 4.9h0m.5 .2h0m2.7 2.4h0m-1.8 5.3h0m-6.7 1.4h0m4.3 2.1h0m-2.9 .9h0m4.3 2.1h0" stroke="#f0853c" stroke-opacity="0.38" stroke-width="4.7" stroke-linecap="round" fill="none"/>
<path d="M651.7 158.7h0m5.3 9.8h0m-6.4 2.3h0m-2.1 .2h0m-.5 2.7h0m4.4 4.7h0m-2.1 9.4h0m-1.9 2.6h0m9.3 1.4h0m-4 .4h0m-2.7 1.5h0m-5.3 1.5h0m1.8 1.1h0m-.5 3.3h0m8.4 3.1h0m-7.4 .3h0m-1.4 .8h0m6.3 10.3h0m-2.4 4.6h0" stroke="#f0853c" stroke-opacity="0.38" stroke-width="4.7" stroke-linecap="round" fill="none"/>
<path d="M651.7 128.7h0m0 22.7h0m0 6.3h0m0 2.5h0m-3.7 13.9h0m1.9 .6h0m2.6 1.3h0m5.1 1.1h0m-8.1 2.8h0m3.8 .6h0m-1.6 .4h0m4.7 .8h0m-4.7 1.4h0m4.2 .5h0m0 .8h0m-1.4 .8h0m-7 .6h0m5.6 .9h0m-1.4 .2h0m-4.7 1.5h0m6.7 1.2h0m-5.3 .2h0m-1.4 .4h0m2.7 3.2h0m-2.7 .2h0m4 2.3h0m-4.9 .5h0m3.4 4.1h0m1.5 .3h0m-3 .5h0m3 .9h0m1.8 8.6h0m-1.1 13.9h0m0 3.8h0" stroke="#f0853c" stroke-opacity="0.38" stroke-width="4.7" stroke-linecap="round" fill="none"/>
<path d="M669.9 198.8L669.6 196.9L669.3 194.9L669.0 192.9L668.7 191.0L668.3 189.0L668.0 187.0L667.7 185.0L667.3 183.1L667.0 181.1L666.6 179.1L666.3 177.2L666.1 175.2L666.0 173.2L666.0 171.3L666.0 169.3L666.0 167.3L666.0 165.4L666.0 163.4L666.0 161.4L666.0 159.5L666.0 157.5L666.0 155.5L666.0 153.6L666.0 151.6L666.1 149.6L666.3 147.7L666.6 145.7L666.8 143.7L667.1 141.8L667.3 139.8L667.6 137.8L667.8 135.9L668.1 133.9L668.3 131.9L668.6 130.0L668.9 128.0L669.1 126.0L669.4 124.1L669.6 122.1L669.8 120.1L672.0 120.5L672.2 122.4L672.5 124.4L672.7 126.4L673.0 128.3L673.2 130.3L673.5 132.3L673.8 134.2L674.0 136.2L674.3 138.2L674.5 140.1L674.8 142.1L675.0 144.1L675.3 146.0L675.5 148.0L675.7 150.0L675.8 151.9L675.8 153.9L675.8 155.9L675.8 157.8L675.8 159.8L675.8 161.8L675.8 163.7L675.8 165.7L675.8 167.7L675.8 169.6L675.8 171.6L675.8 173.6L675.7 175.5L675.4 177.5L675.1 179.5L674.8 181.4L674.4 183.4L674.1 185.4L673.7 187.3L673.4 189.3L673.1 191.3L672.7 193.2L672.4 195.2L672.2 197.2Z" fill="#ffb428" fill-opacity="0.4"/>
<path d="M670.9 113.7h0m-2.4 12h0m4.8 4.3h0m-4.8 1h0m3.6 12h0m-1.2 1.8h0m5 1.6h0m.6 2h0m-7.5 4.2h0m1.9 .8h0m3.7 3.2h0m-1.1 1.9h0m-7 .4h0m7 1.1h0m-1.7 7.6h0m-3.9 8.4h0m8 1.1h0m-.6 6.6h0m-8.8 1.3h0m5.6 7.6h0m-2.4 2.3h0m1.2 8.8h0" stroke="#ffb428" stroke-opacity="0.38" stroke-width="4.7" stroke-linecap="round" fill="none"/>
<path d="M670.9 86.6h0m0 8.2h0m0 22.1h0m1.2 5.1h0m0 15h0m1 7.2h0m.8 2.4h0m-6.7 2.5h0m5.6 3.2h0m-7.5 1.6h0m1.9 3.4h0m8.1 .4h0m1.7 2h0m-4.2 4.8h0m-1 1.3h0m-1.8 1h0m7 1.5h0m-4.2 1.7h0m1.8 2.8h0m-3.7 .5h0m-5.6 .3h0m11.2 .6h0m-8.6 3.7h0m7.4 1.8h0m-2.2 5.8h0m-2.2 14h0" stroke="#ffb428" stroke-opacity="0.38" stroke-width="4.7" stroke-linecap="round" fill="none"/>
<path d="M670.9 107.0h0m3.6 29.4h0m0 7h0m-5.5 6.1h0m3.8 7.3h0m-1 4.5h0m5.2 .2h0m-5.2 .3h0m1.7 .3h0m1.8 .2h0m-4.4 1.6h0m6.1 3.2h0m-1.7 1.6h0m1.7 8.5h0m-3.1 .5h0m-7.4 3.8h0m.8 .3h0" stroke="#ffb428" stroke-opacity="0.38" stroke-width="4.7" stroke-linecap="round" fill="none"/>
<path d="M670.9 93.3h0m3.6 35.3h0m-3.6 5.6h0m2.4 1.3h0m-6 2.5h0m4.8 .6h0m-2.4 .8h0m-3.2 .5h0m8.8 .4h0m1.2 11.5h0m-5.6 3.4h0m5.6 2h0m-10 6.4h0m-1.7 2h0m8.7 .5h0m-8.2 4.5h0m0 2.4h0m9.3 1.6h0m1.3 4.4h0m-1.4 3.8h0m-6 3.2h0m3.6 8h0m2.4 2.5h0m-3.6 12.9h0" stroke="#ffb428" stroke-opacity="0.38" stroke-width="4.7" stroke-linecap="round" fill="none"/>
<path d="M669.7 135.9h0m-1 5.7h0m-1.4 .4h0m2.6 8h0m4 .5h0m.7 3.8h0m-3.7 1.4h0m-5.6 .6h0m6.5 1.6h0m-3.5 .2h0m8.7 5h0m-7 .2h0m-2.8 6.4h0m2.7 9.8h0m2.2 3.6h0m1.2 3.5h0m-4.8 2.8h0m3.6 1.9h0" stroke="#ffb428" stroke-opacity="0.38" stroke-width="4.7" stroke-linecap="round" fill="none"/>
<path d="M670.9 103.7h0m0 16h0m0 11.8h0m2.2 9.2h0m-7.8 8h0m1.9 5.5h0m9.3 1.3h0m.5 3.6h0m-8.7 1.1h0m7 .2h0m-7 2.4h0m-1.8 6.5h0m10 2.1h0m-7.5 .4h0m4.9 4.9h0m-3 7.2h0" stroke="#ffb428" stroke-opacity="0.38" stroke-width="4.7" stroke-linecap="round" fill="none"/>
<path d="M672.1 129.4h0m2.4 9.6h0m-4.8 3.5h0m4.9 5.6h0m-3.7 1.2h0m-3 .9h0m4 .6h0m.9 4.1h0m-3.8 1.2h0m1 2.5h0m-1 5.8h0m-1.8 .5h0m7.4 .2h0m-9.3 .2h0m3 1.3h0m0 1.4h0m5.2 .8h0m-.7 2.8h0m0 3.8h0m-.9 .3h0m.2 21.7h0m-1.2 18.9h0" stroke="#ffb428" stroke-opacity="0.38" stroke-width="4.7" stroke-linecap="round" fill="none"/>
<path d="M670.9 110.7h0m-1.2 12.7h0m1.2 .9h0m0 2.1h0m2.4 .6h0m3.6 10.4h0m-8.2 7.9h0m1.2 .7h0m-4 1h0m6 .3h0m-6.6 4.7h0m-.5 7.4h0m5.2 1.6h0m7 7.2h0m-7 1.3h0m4.6 1.3h0m-7.4 3h0m1.8 1h0m.9 1.5h0m1 4.2h0m0 6.7h0m-1.2 3.1h0" stroke="#ffb428" stroke-opacity="0.38" stroke-width="4.7" stroke-linecap="round" fill="none"/>
<path d="M670.9 117.8h0m-2.4 15h0m4.8 .6h0m-4.8 1.5h0m6.8 9.5h0m-2.5 3.2h0m3.1 3.9h0m-8.7 1.5h0m-.7 7.7h0m-1.7 1.8h0m6.1 7.7h0m1 8.4h0m-3.2 1.5h0m4.4 .9h0m-3.4 1.2h0m-1 2.6h0m4.6 3.3h0m1.2 3.8h0" stroke="#ffb428" stroke-opacity="0.38" stroke-width="4.7" stroke-linecap="round" fill="none"/>
<path d="M670.9 132.1h0m0 9.2h0m-4.4 2.3h0m1.4 2.1h0m-2 5.5h0m8.7 2.1h0m-5.6 1.4h0m7.5 9.3h0m-10 2.4h0m8.8 .9h0m-6.3 3.7h0m7.5 1.1h0m-9.3 .4h0m3.7 2.6h0m-5 3.2h0m5 10.4h0m0 13.7h0" stroke="#ffb428" stroke-opacity="0.38" stroke-width="4.7" stroke-linecap="round" fill="none"/>
<line x1="310.5" y1="143.1" x2="327.1" y2="143.1" stroke="#111" stroke-width="1.1"/>
<circle cx="314.8" cy="143.1" r="2.25" fill="#666" stroke="#111" stroke-width="0.9"/>
<circle cx="318.8" cy="143.1" r="2.25" fill="#666" stroke="#111" stroke-width="0.9"/>
<circle cx="322.8" cy="143.1" r="2.25" fill="#666" stroke="#111" stroke-width="0.9"/>
<line x1="329.3" y1="143.1" x2="345.9" y2="143.1" stroke="#111" stroke-width="1.1"/>
<circle cx="333.6" cy="143.1" r="2.25" fill="#aaa" stroke="#111" stroke-width="0.9"/>
<circle cx="337.6" cy="143.1" r="2.25" fill="#aaa" stroke="#111" stroke-width="0.9"/>
<circle cx="341.6" cy="143.1" r="2.25" fill="#aaa" stroke="#111" stroke-width="0.9"/>
<line x1="348.7" y1="143.1" x2="365.3" y2="143.1" stroke="#111" stroke-width="1.1"/>
<circle cx="353.0" cy="143.1" r="2.25" fill="#ff1010" stroke="#111" stroke-width="0.9"/>
<circle cx="357.0" cy="143.1" r="2.25" fill="#ff1010" stroke="#111" stroke-width="0.9"/>
<circle cx="361.0" cy="143.1" r="2.25" fill="#ff1010" stroke="#111" stroke-width="0.9"/>
<line x1="367.9" y1="143.1" x2="384.5" y2="143.1" stroke="#111" stroke-width="1.1"/>
<circle cx="372.2" cy="143.1" r="2.25" fill="#ff8a80" stroke="#111" stroke-width="0.9"/>
<circle cx="376.2" cy="143.1" r="2.25" fill="#ff8a80" stroke="#111" stroke-width="0.9"/>
<circle cx="380.2" cy="143.1" r="2.25" fill="#ff8a80" stroke="#111" stroke-width="0.9"/>
<line x1="387.1" y1="143.1" x2="403.7" y2="143.1" stroke="#111" stroke-width="1.1"/>
<circle cx="391.4" cy="143.1" r="2.25" fill="#ee7a36" stroke="#111" stroke-width="0.9"/>
<circle cx="395.4" cy="143.1" r="2.25" fill="#ee7a36" stroke="#111" stroke-width="0.9"/>
<circle cx="399.4" cy="143.1" r="2.25" fill="#ee7a36" stroke="#111" stroke-width="0.9"/>
<line x1="406.4" y1="143.1" x2="423.0" y2="143.1" stroke="#111" stroke-width="1.1"/>
<circle cx="410.7" cy="143.1" r="2.25" fill="#ffb020" stroke="#111" stroke-width="0.9"/>
<circle cx="414.7" cy="143.1" r="2.25" fill="#ffb020" stroke="#111" stroke-width="0.9"/>
<circle cx="418.7" cy="143.1" r="2.25" fill="#ffb020" stroke="#111" stroke-width="0.9"/>
<line x1="437.9" y1="180.5" x2="450.9" y2="180.5" stroke="#111" stroke-width="1.1"/>
<circle cx="440.0" cy="180.0" r="2.25" fill="#666" stroke="#111" stroke-width="0.9"/>
<circle cx="445.0" cy="184.0" r="2.25" fill="#666" stroke="#111" stroke-width="0.9"/>
<circle cx="448.5" cy="179.0" r="2.25" fill="#666" stroke="#111" stroke-width="0.9"/>
<line x1="456.9" y1="169.0" x2="469.9" y2="169.0" stroke="#111" stroke-width="1.1"/>
<circle cx="459.5" cy="168.0" r="2.25" fill="#aaa" stroke="#111" stroke-width="0.9"/>
<circle cx="463.4" cy="172.0" r="2.25" fill="#aaa" stroke="#111" stroke-width="0.9"/>
<circle cx="467.5" cy="165.0" r="2.25" fill="#aaa" stroke="#111" stroke-width="0.9"/>
<line x1="476.3" y1="159.4" x2="489.3" y2="159.4" stroke="#111" stroke-width="1.1"/>
<circle cx="478.5" cy="159.0" r="2.25" fill="#ff1010" stroke="#111" stroke-width="0.9"/>
<circle cx="482.8" cy="170.0" r="2.25" fill="#ff1010" stroke="#111" stroke-width="0.9"/>
<circle cx="486.5" cy="151.0" r="2.25" fill="#ff1010" stroke="#111" stroke-width="0.9"/>
<line x1="495.5" y1="138.3" x2="508.5" y2="138.3" stroke="#111" stroke-width="1.1"/>
<circle cx="498.5" cy="139.0" r="2.25" fill="#ff8a80" stroke="#111" stroke-width="0.9"/>
<circle cx="502.0" cy="142.0" r="2.25" fill="#ff8a80" stroke="#111" stroke-width="0.9"/>
<circle cx="506.0" cy="137.0" r="2.25" fill="#ff8a80" stroke="#111" stroke-width="0.9"/>
<line x1="515.0" y1="164.2" x2="528.0" y2="164.2" stroke="#111" stroke-width="1.1"/>
<circle cx="518.0" cy="164.0" r="2.25" fill="#ee7a36" stroke="#111" stroke-width="0.9"/>
<circle cx="521.5" cy="173.0" r="2.25" fill="#ee7a36" stroke="#111" stroke-width="0.9"/>
<circle cx="525.0" cy="157.0" r="2.25" fill="#ee7a36" stroke="#111" stroke-width="0.9"/>
<line x1="534.2" y1="145.0" x2="547.2" y2="145.0" stroke="#111" stroke-width="1.1"/>
<circle cx="537.0" cy="143.0" r="2.25" fill="#ffb020" stroke="#111" stroke-width="0.9"/>
<circle cx="540.7" cy="151.0" r="2.25" fill="#ffb020" stroke="#111" stroke-width="0.9"/>
<circle cx="544.5" cy="143.0" r="2.25" fill="#ffb020" stroke="#111" stroke-width="0.9"/>
<line x1="568.1" y1="197.2" x2="581.1" y2="197.2" stroke="#111" stroke-width="1.1"/>
<circle cx="571.0" cy="198.0" r="2.25" fill="#666" stroke="#111" stroke-width="0.9"/>
<circle cx="575.0" cy="201.0" r="2.25" fill="#666" stroke="#111" stroke-width="0.9"/>
<circle cx="578.5" cy="193.0" r="2.25" fill="#666" stroke="#111" stroke-width="0.9"/>
<line x1="587.1" y1="183.3" x2="600.1" y2="183.3" stroke="#111" stroke-width="1.1"/>
<circle cx="590.0" cy="186.0" r="2.25" fill="#aaa" stroke="#111" stroke-width="0.9"/>
<circle cx="593.6" cy="190.0" r="2.25" fill="#aaa" stroke="#111" stroke-width="0.9"/>
<circle cx="597.0" cy="176.0" r="2.25" fill="#aaa" stroke="#111" stroke-width="0.9"/>
<line x1="606.6" y1="192.4" x2="619.6" y2="192.4" stroke="#111" stroke-width="1.1"/>
<circle cx="609.5" cy="193.0" r="2.25" fill="#ff1010" stroke="#111" stroke-width="0.9"/>
<circle cx="613.0" cy="197.0" r="2.25" fill="#ff1010" stroke="#111" stroke-width="0.9"/>
<circle cx="616.5" cy="184.0" r="2.25" fill="#ff1010" stroke="#111" stroke-width="0.9"/>
<line x1="626.0" y1="158.4" x2="639.0" y2="158.4" stroke="#111" stroke-width="1.1"/>
<circle cx="628.5" cy="156.0" r="2.25" fill="#ff8a80" stroke="#111" stroke-width="0.9"/>
<circle cx="632.5" cy="166.0" r="2.25" fill="#ff8a80" stroke="#111" stroke-width="0.9"/>
<circle cx="636.0" cy="149.0" r="2.25" fill="#ff8a80" stroke="#111" stroke-width="0.9"/>
<line x1="645.2" y1="192.4" x2="658.2" y2="192.4" stroke="#111" stroke-width="1.1"/>
<circle cx="648.0" cy="193.0" r="2.25" fill="#ee7a36" stroke="#111" stroke-width="0.9"/>
<circle cx="651.7" cy="196.0" r="2.25" fill="#ee7a36" stroke="#111" stroke-width="0.9"/>
<circle cx="654.5" cy="185.0" r="2.25" fill="#ee7a36" stroke="#111" stroke-width="0.9"/>
<line x1="664.4" y1="164.7" x2="677.4" y2="164.7" stroke="#111" stroke-width="1.1"/>
<circle cx="667.0" cy="166.0" r="2.25" fill="#ffb020" stroke="#111" stroke-width="0.9"/>
<circle cx="670.5" cy="168.0" r="2.25" fill="#ffb020" stroke="#111" stroke-width="0.9"/>
<circle cx="674.0" cy="161.0" r="2.25" fill="#ffb020" stroke="#111" stroke-width="0.9"/>
<path d="M307.2 8.4H684.3V239.1H307.2" fill="none" stroke="#333" stroke-width="1.2"/>
<line x1="307.1" y1="8.4" x2="307.1" y2="239.1" stroke="#8a8a8a" stroke-width="1.8"/>
<line x1="428.9" y1="8.4" x2="428.9" y2="239.1" stroke="#8a8a8a" stroke-width="2.1"/>
<line x1="559.4" y1="8.4" x2="559.4" y2="239.1" stroke="#444" stroke-width="1.2"/>
<text x="303.3" y="17.5" font-size="9.5" text-anchor="end" fill="#222" >post UV</text>
<text x="309.3" y="17.5" font-size="9.5" text-anchor="start" fill="#222" >0 h</text>
<text x="431.9" y="17.5" font-size="9.5" text-anchor="start" fill="#222" >1 h</text>
<text x="561.3" y="17.5" font-size="9.5" text-anchor="start" fill="#222" >2 h</text>
<line x1="303.8" y1="238.9" x2="307.2" y2="238.9" stroke="#333" stroke-width="1"/>
<text x="302.3" y="239.1" font-size="9.5" text-anchor="end" fill="#222" >0.0</text>
<line x1="303.8" y1="191.0" x2="307.2" y2="191.0" stroke="#333" stroke-width="1"/>
<text x="302.3" y="194.3" font-size="9.5" text-anchor="end" fill="#222" >0.5</text>
<line x1="303.8" y1="143.1" x2="307.2" y2="143.1" stroke="#333" stroke-width="1"/>
<text x="302.3" y="146.4" font-size="9.5" text-anchor="end" fill="#222" >1.0</text>
<line x1="303.8" y1="95.2" x2="307.2" y2="95.2" stroke="#333" stroke-width="1"/>
<text x="302.3" y="98.5" font-size="9.5" text-anchor="end" fill="#222" >1.5</text>
<line x1="303.8" y1="47.3" x2="307.2" y2="47.3" stroke="#333" stroke-width="1"/>
<text x="302.3" y="50.6" font-size="9.5" text-anchor="end" fill="#222" >2.0</text>
<text transform="translate(283.3,123) rotate(-90)" font-size="9.4" text-anchor="middle" fill="#222">RNAPIIS2P ratio (in / outside damage)</text>
<line x1="318.8" y1="239.1" x2="318.8" y2="242.8" stroke="#333" stroke-width="1"/>
<line x1="337.6" y1="239.1" x2="337.6" y2="242.8" stroke="#333" stroke-width="1"/>
<circle cx="337.6" cy="250.4" r="2.3" fill="#111"/>
<line x1="357.0" y1="239.1" x2="357.0" y2="242.8" stroke="#333" stroke-width="1"/>
<line x1="376.2" y1="239.1" x2="376.2" y2="242.8" stroke="#333" stroke-width="1"/>
<circle cx="376.2" cy="250.4" r="2.3" fill="#111"/>
<line x1="395.4" y1="239.1" x2="395.4" y2="242.8" stroke="#333" stroke-width="1"/>
<line x1="414.7" y1="239.1" x2="414.7" y2="242.8" stroke="#333" stroke-width="1"/>
<circle cx="414.7" cy="250.4" r="2.3" fill="#111"/>
<line x1="444.4" y1="239.1" x2="444.4" y2="242.8" stroke="#333" stroke-width="1"/>
<line x1="463.4" y1="239.1" x2="463.4" y2="242.8" stroke="#333" stroke-width="1"/>
<circle cx="463.4" cy="250.4" r="2.3" fill="#111"/>
<line x1="482.8" y1="239.1" x2="482.8" y2="242.8" stroke="#333" stroke-width="1"/>
<line x1="502.0" y1="239.1" x2="502.0" y2="242.8" stroke="#333" stroke-width="1"/>
<circle cx="502.0" cy="250.4" r="2.3" fill="#111"/>
<line x1="521.5" y1="239.1" x2="521.5" y2="242.8" stroke="#333" stroke-width="1"/>
<line x1="540.7" y1="239.1" x2="540.7" y2="242.8" stroke="#333" stroke-width="1"/>
<circle cx="540.7" cy="250.4" r="2.3" fill="#111"/>
<line x1="574.6" y1="239.1" x2="574.6" y2="242.8" stroke="#333" stroke-width="1"/>
<line x1="593.6" y1="239.1" x2="593.6" y2="242.8" stroke="#333" stroke-width="1"/>
<circle cx="593.6" cy="250.4" r="2.3" fill="#111"/>
<line x1="613.1" y1="239.1" x2="613.1" y2="242.8" stroke="#333" stroke-width="1"/>
<line x1="632.5" y1="239.1" x2="632.5" y2="242.8" stroke="#333" stroke-width="1"/>
<circle cx="632.5" cy="250.4" r="2.3" fill="#111"/>
<line x1="651.7" y1="239.1" x2="651.7" y2="242.8" stroke="#333" stroke-width="1"/>
<line x1="670.9" y1="239.1" x2="670.9" y2="242.8" stroke="#333" stroke-width="1"/>
<circle cx="670.9" cy="250.4" r="2.3" fill="#111"/>
<text x="308.9" y="252.6" font-size="9.5" text-anchor="end" fill="#222" >VCPi</text>
<text x="309.8" y="266.6" font-size="9.5" text-anchor="end" fill="#222" >+XPD-GFP</text>
<line x1="313.9" y1="258.2" x2="339.9" y2="258.2" stroke="#333" stroke-width="1"/>
<text x="326.9" y="266.8" font-size="9.5" text-anchor="middle" fill="#222" >WT</text>
<line x1="352.7" y1="258.2" x2="379.3" y2="258.2" stroke="#333" stroke-width="1"/>
<text x="366.0" y="266.8" font-size="9.5" text-anchor="middle" fill="#222" >K48R</text>
<line x1="393.0" y1="258.2" x2="419.6" y2="258.2" stroke="#333" stroke-width="1"/>
<text x="406.3" y="266.8" font-size="9.5" text-anchor="middle" fill="#222" >G675R</text>
<line x1="438.9" y1="258.2" x2="464.9" y2="258.2" stroke="#333" stroke-width="1"/>
<text x="451.9" y="266.8" font-size="9.5" text-anchor="middle" fill="#222" >WT</text>
<line x1="480.2" y1="258.2" x2="506.7" y2="258.2" stroke="#333" stroke-width="1"/>
<text x="493.4" y="266.8" font-size="9.5" text-anchor="middle" fill="#222" >K48R</text>
<line x1="518.2" y1="258.2" x2="544.6" y2="258.2" stroke="#333" stroke-width="1"/>
<text x="531.4" y="266.8" font-size="9.5" text-anchor="middle" fill="#222" >G675R</text>
<line x1="572.2" y1="258.2" x2="598.8" y2="258.2" stroke="#333" stroke-width="1"/>
<text x="585.5" y="266.8" font-size="9.5" text-anchor="middle" fill="#222" >WT</text>
<line x1="611.0" y1="258.2" x2="638.0" y2="258.2" stroke="#333" stroke-width="1"/>
<text x="624.5" y="266.8" font-size="9.5" text-anchor="middle" fill="#222" >K48R</text>
<line x1="650.3" y1="258.2" x2="676.8" y2="258.2" stroke="#333" stroke-width="1"/>
<text x="663.5" y="266.8" font-size="9.5" text-anchor="middle" fill="#222" >G675R</text>
<line x1="313.9" y1="275.4" x2="677.4" y2="275.4" stroke="#333" stroke-width="1"/>
<text x="495.5" y="284.3" font-size="9.5" text-anchor="middle" fill="#222" >RPE1 WT + crXPD</text>
<line x1="443.1" y1="24.5" x2="520.8" y2="24.5" stroke="#444" stroke-width="1"/>
<text x="481.9" y="25.1" font-size="9.5" text-anchor="middle" fill="#222" >**</text>
<line x1="443.1" y1="37.4" x2="482.7" y2="37.4" stroke="#444" stroke-width="1"/>
<text x="462.9" y="38.0" font-size="9.5" text-anchor="middle" fill="#222" >****</text>
<line x1="443.1" y1="48.4" x2="463.5" y2="48.4" stroke="#444" stroke-width="1"/>
<text x="453.3" y="49.0" font-size="9.5" text-anchor="middle" fill="#222" >*</text>
<line x1="482.3" y1="48.4" x2="502.4" y2="48.4" stroke="#444" stroke-width="1"/>
<text x="492.4" y="49.0" font-size="9.5" text-anchor="middle" fill="#222" >****</text>
<line x1="521.6" y1="48.4" x2="541.8" y2="48.4" stroke="#444" stroke-width="1"/>
<text x="531.7" y="49.0" font-size="9.5" text-anchor="middle" fill="#222" >***</text>
<line x1="573.0" y1="24.5" x2="650.9" y2="24.5" stroke="#444" stroke-width="1"/>
<text x="612.0" y="23.0" font-size="8.5" text-anchor="middle" fill="#222" >ns</text>
<line x1="573.0" y1="37.4" x2="612.4" y2="37.4" stroke="#444" stroke-width="1"/>
<text x="592.7" y="35.9" font-size="8.5" text-anchor="middle" fill="#222" >ns</text>
<line x1="573.0" y1="48.4" x2="593.2" y2="48.4" stroke="#444" stroke-width="1"/>
<text x="583.1" y="49.0" font-size="9.5" text-anchor="middle" fill="#222" >*</text>
<line x1="612.0" y1="48.4" x2="631.9" y2="48.4" stroke="#444" stroke-width="1"/>
<text x="622.0" y="49.0" font-size="9.5" text-anchor="middle" fill="#222" >****</text>
<line x1="651.3" y1="48.4" x2="671.1" y2="48.4" stroke="#444" stroke-width="1"/>
<text x="661.2" y="49.0" font-size="9.5" text-anchor="middle" fill="#222" >****</text>
<text x="13.0" y="338.4" font-size="9.5" text-anchor="start" fill="#111" >d</text>
<rect x="278.3" y="350.4" width="173.3" height="218.7" fill="#eef4fa"/>
<path d="M117.6 502.5L117.2 501.0L116.8 499.5L116.4 498.0L116.0 496.5L115.6 495.0L115.2 493.5L114.8 492.0L114.3 490.5L114.0 489.0L113.6 487.5L113.2 486.0L112.8 484.5L112.5 483.0L112.5 481.5L112.5 480.0L112.5 478.5L112.5 477.0L112.5 475.5L112.5 474.0L112.5 472.5L112.5 471.0L112.5 469.5L112.5 468.0L112.5 466.5L112.5 465.0L112.5 463.5L112.5 462.0L112.5 460.5L112.8 459.0L113.1 457.5L113.4 456.0L113.8 454.5L114.1 453.0L114.5 451.5L114.8 450.0L115.2 448.5L115.5 447.0L115.9 445.5L116.3 444.0L116.6 442.5L116.9 441.0L117.3 439.5L117.6 438.0L120.0 438.7L120.3 440.2L120.6 441.7L121.0 443.2L121.3 444.7L121.7 446.2L122.0 447.7L122.4 449.2L122.8 450.7L123.1 452.2L123.5 453.7L123.8 455.2L124.1 456.7L124.5 458.2L124.8 459.7L124.9 461.2L124.9 462.7L124.9 464.2L124.9 465.7L124.9 467.2L124.9 468.7L124.9 470.2L124.9 471.7L124.9 473.2L124.9 474.7L124.9 476.2L124.9 477.7L124.9 479.2L124.9 480.7L124.9 482.2L124.7 483.7L124.4 485.2L124.0 486.7L123.6 488.2L123.3 489.7L122.9 491.2L122.4 492.7L122.0 494.2L121.6 495.7L121.2 497.2L120.8 498.7L120.4 500.2L120.0 501.7Z" fill="#2a2a2a" fill-opacity="0.4"/>
<path d="M118.7 422.9h0m2.4 25.5h0m2.1 6h0m-.4 7.8h0m-6.6 1h0m7.6 3h0m1.1 2.7h0m-.7 2.1h0m-1.4 .3h0m-1.9 3.2h0m4.3 .2h0m-11.6 1h0m7.3 1.2h0m4.3 .6h0m-1.4 .5h0m-1 2.7h0m-8.2 1.6h0m11 3h0m-6.9 8.1h0m1.2 1.4h0m-1.2 10.8h0" stroke="#2a2a2a" stroke-opacity="0.38" stroke-width="4.6" stroke-linecap="round" fill="none"/>
<path d="M119.9 447.2h0m-4.8 3.2h0m2.8 9.9h0m1.6 .8h0m-3 5.5h0m2.2 3.2h0m-4.1 1.6h0m9.2 2.3h0m1.8 3.7h0m-7.6 .8h0m5.3 1h0m-4.6 .4h0m.8 3h0m-6.6 1.2h0m8 5.4h0m-1 1.4h0" stroke="#2a2a2a" stroke-opacity="0.38" stroke-width="4.6" stroke-linecap="round" fill="none"/>
<path d="M118.7 449.7h0m3.6 1.5h0m-8.1 2.6h0m-.9 6.2h0m11.2 .8h0m-6.5 3.7h0m2.9 .1h0m4.7 .5h0m-9.1 .4h0m5.8 .3h0m-9.1 5.9h0m12.4 1.1h0m-1.8 2.1h0m-4.4 .5h0m-2.9 1.1h0m1.4 6.4h0m5.3 3.5h0m-4.5 1.1h0m-1.2 3.4h0" stroke="#2a2a2a" stroke-opacity="0.38" stroke-width="4.6" stroke-linecap="round" fill="none"/>
<path d="M117.5 447.8h0m-3.3 7.8h0m6.7 .5h0m3.2 3h0m-9.5 3.3h0m6.6 .5h0m1.1 4.3h0m-4.3 1h0m1.4 4.2h0m2.9 .7h0m-6.7 5.3h0m6.2 1.1h0m2.7 2.6h0m-1.7 1.6h0m1.7 .4h0" stroke="#2a2a2a" stroke-opacity="0.38" stroke-width="4.6" stroke-linecap="round" fill="none"/>
<path d="M118.7 432.3h0m1.2 10.4h0m3.3 11.4h0m-6.7 .9h0m1.4 8.6h0m6.6 .2h0m-5.1 4.1h0m3.9 1.8h0m-3.1 .4h0m5.4 2h0m-13.4 3.1h0m4.3 .9h0m2.9 1.6h0m-3.7 7h0m2 .3h0m2 .8h0m-4.6 6.4h0m3.6 7.3h0" stroke="#2a2a2a" stroke-opacity="0.38" stroke-width="4.6" stroke-linecap="round" fill="none"/>
<path d="M118.7 437.5h0m-1.2 6.3h0m2.4 1.2h0m2.4 1.1h0m-4.8 5.7h0m2.2 5.8h0m2.6 1h0m-6.1 2.8h0m-1.1 4.6h0m10.1 2.1h0m-13.4 3.5h0m8.3 .4h0m-5 1h0m1.4 .4h0m1.5 1.6h0m-2.9 .9h0m-1.5 1.3h0m3.6 2.9h0m2.3 1.7h0m1.7 1.3h0m-5 .2h0m-2 3.6h0m0 1.9h0m4.5 .7h0m3.6 1.9h0m-3.6 11.5h0" stroke="#2a2a2a" stroke-opacity="0.38" stroke-width="4.6" stroke-linecap="round" fill="none"/>
<path d="M116.3 449.1h0m2.4 3.2h0m0 3h0m4.9 2.1h0m-6.7 .8h0m-2.3 3.4h0m1 6.9h0m1.7 1.9h0m.7 3.5h0m-4.4 .2h0m8.7 2.2h0m-2.1 3.6h0m3.4 6.2h0" stroke="#2a2a2a" stroke-opacity="0.38" stroke-width="4.6" stroke-linecap="round" fill="none"/>
<path d="M118.7 434.8h0m-2.2 18.1h0m4.4 .5h0m.8 3.3h0m-6.6 2.3h0m-2.2 5h0m12.3 .2h0m-5.8 .7h0m-4.3 1.5h0m-1.5 .5h0m5.1 3.4h0m2.8 .3h0m.8 3.8h0m-7.2 2.3h0m9.8 1.9h0m-7 2.1h0m5.3 7.6h0m-6.7 1.7h0" stroke="#2a2a2a" stroke-opacity="0.38" stroke-width="4.6" stroke-linecap="round" fill="none"/>
<path d="M118.7 441.4h0m1.2 9.3h0m-4.2 5.6h0m4.8 3.3h0m-1.8 .2h0m2.2 7.6h0m-8.7 .3h0m.3 1.3h0m9.3 .2h0m-7.7 9.6h0m2.1 1.6h0m9.4 .7h0m-4.4 .3h0m-.3 6.4h0m-1 9.9h0" stroke="#2a2a2a" stroke-opacity="0.38" stroke-width="4.6" stroke-linecap="round" fill="none"/>
<path d="M118.7 439.7h0m-1 17.3h0m7.9 .9h0m0 2.7h0m-4.4 1.3h0m1.6 .7h0m-3.3 .8h0m-5.9 1.9h0m10.2 1.7h0m-9.7 1.7h0m3.1 .7h0m-1.3 1.4h0m9.3 1.7h0m-4.3 1h0m-8.4 5.6h0m2.1 2.5h0m7.1 2.8h0m-5.2 2.6h0m-.2 5.9h0m4.8 1.3h0m-3.6 1.6h0m4.8 .8h0m-3.6 4.5h0" stroke="#2a2a2a" stroke-opacity="0.38" stroke-width="4.6" stroke-linecap="round" fill="none"/>
<path d="M138.3 506.6L137.8 505.0L137.4 503.4L137.1 501.9L136.7 500.3L136.3 498.8L136.0 497.2L135.6 495.6L135.2 494.1L134.9 492.5L134.5 491.0L134.1 489.4L133.8 487.9L133.5 486.3L133.2 484.7L133.1 483.2L133.1 481.6L133.1 480.1L133.1 478.5L133.1 477.0L133.1 475.4L133.1 473.8L133.1 472.3L133.1 470.7L133.1 469.2L133.1 467.6L133.1 466.0L133.1 464.5L133.1 462.9L133.1 461.4L133.1 459.8L133.4 458.3L133.7 456.7L134.0 455.1L134.3 453.6L134.7 452.0L135.0 450.5L135.4 448.9L135.7 447.4L136.0 445.8L136.4 444.2L136.7 442.7L137.1 441.1L137.4 439.6L137.8 438.0L138.2 436.4L140.5 436.7L140.9 438.3L141.2 439.8L141.6 441.4L141.9 442.9L142.3 444.5L142.6 446.1L142.9 447.6L143.3 449.2L143.6 450.7L144.0 452.3L144.3 453.8L144.6 455.4L145.0 457.0L145.3 458.5L145.5 460.1L145.5 461.6L145.5 463.2L145.5 464.8L145.5 466.3L145.5 467.9L145.5 469.4L145.5 471.0L145.5 472.5L145.5 474.1L145.5 475.7L145.5 477.2L145.5 478.8L145.5 480.3L145.5 481.9L145.5 483.4L145.4 485.0L145.1 486.6L144.7 488.1L144.4 489.7L144.0 491.2L143.7 492.8L143.3 494.4L142.9 495.9L142.6 497.5L142.2 499.0L141.8 500.6L141.5 502.1L141.1 503.7L140.7 505.3Z" fill="#7a7a7a" fill-opacity="0.4"/>
<path d="M139.3 433.4h0m-1.2 6.6h0m5.9 13.3h0m-7 1.6h0m7 1.2h0m-7.3 8.4h0m9.1 1.8h0m-6.5 .7h0m-3.2 .3h0m6.4 .3h0m3.7 3.5h0m-11.8 2h0m11.4 4.8h0m-4.6 4.2h0m-8 .2h0m3.5 1.5h0m9.5 .8h0m-7.9 1.5h0m1 6.1h0m0 50.8h0" stroke="#7a7a7a" stroke-opacity="0.38" stroke-width="4.6" stroke-linecap="round" fill="none"/>
<path d="M141.6 455.4h0m-.4 4.3h0m-1.9 1.2h0m5.7 1.3h0m-6.6 .5h0m3.5 3.4h0m.6 2.5h0m-8.1 .7h0m3.3 .4h0m1.6 .4h0m2.3 .5h0m1.5 .1h0m-8.7 5.8h0m3.3 2.5h0m-3.6 7.7h0m7.5 3.8h0m-1.1 7.3h0m-1.2 9.8h0m0 22.9h0" stroke="#7a7a7a" stroke-opacity="0.38" stroke-width="4.6" stroke-linecap="round" fill="none"/>
<path d="M143.1 458.8h0m-1.9 1.8h0m-7.6 .5h0m3.1 2.1h0m4.2 4.3h0m-8.1 .6h0m3.3 7.2h0m-1.7 .1h0m3.3 2h0m6.5 2h0m-1.7 .3h0m-7.5 3.4h0m7.4 2.1h0m-6.2 1.1h0m4.1 1.1h0m-2 .3h0m4.6 13.7h0m-3.6 8.9h0" stroke="#7a7a7a" stroke-opacity="0.38" stroke-width="4.6" stroke-linecap="round" fill="none"/>
<path d="M145.8 468.4h0m-13 .3h0m4.2 2.9h0m8.8 3h0m-6.5 2.2h0m4.9 .4h0m-8.1 1.6h0m9.3 5.3h0" stroke="#7a7a7a" stroke-opacity="0.38" stroke-width="4.6" stroke-linecap="round" fill="none"/>
<path d="M142.9 445.0h0m-6 1.3h0m-2.3 8.4h0m1.6 2.8h0m5.7 6.2h0m-1 6.2h0m-.8 2.3h0m.8 1.7h0m4.9 4.7h0m-6.5 1.4h0m3.8 1.8h0m-1.2 1.8h0m-4.9 4.9h0" stroke="#7a7a7a" stroke-opacity="0.38" stroke-width="4.6" stroke-linecap="round" fill="none"/>
<path d="M138.1 443.4h0m1.2 9.1h0m0 3.2h0m-3.8 3.4h0m4.7 4.4h0m6 1.4h0m-10.1 4.1h0m-2.2 1.3h0m4.6 .6h0m.8 3.3h0m-6.5 .2h0m8.1 3.3h0m-5.4 3.3h0m9 6h0m-7.6 7.4h0m2.4 8.3h0" stroke="#7a7a7a" stroke-opacity="0.38" stroke-width="4.6" stroke-linecap="round" fill="none"/>
<path d="M141.7 446.9h0m-7.1 6h0m9.9 4.8h0m-5.2 .8h0m3.8 3.2h0m-8.1 3.5h0m3.4 .6h0m6.3 6.1h0m-7 .6h0m-4.9 1h0m.8 7.3h0m6.6 2h0m-5.6 6.8h0m9.4 1.4h0m-9.4 .5h0m7.1 4.6h0" stroke="#7a7a7a" stroke-opacity="0.38" stroke-width="4.6" stroke-linecap="round" fill="none"/>
<path d="M139.3 436.8h0m1.2 6.2h0m1.2 6.2h0m-6 2.8h0m1.3 1.6h0m1.3 4.5h0m7.1 5.8h0m-10.4 .3h0m10.4 .5h0m-5.2 .7h0m4 4h0m-11.8 2.6h0m13.4 1.3h0m-3.3 .4h0m0 2h0m1.7 .2h0m-1.7 2.2h0m-1.6 2.1h0m-1.6 .2h0m5.2 4.4h0m-.5 4.4h0m-4.7 4.8h0m3.6 2.7h0m-3.6 8.4h0" stroke="#7a7a7a" stroke-opacity="0.38" stroke-width="4.6" stroke-linecap="round" fill="none"/>
<path d="M139.3 441.4h0m0 6.6h0m0 .5h0m-2.4 1.2h0m3.6 .6h0m-2.4 1.2h0m3.5 2.5h0m4.6 3.2h0m-1.2 2.3h0m-7.6 .4h0m-1.9 2h0m8.1 1.1h0m0 2.6h0m.6 1.3h0m-8.7 4.4h0m.6 1.5h0m4.8 2h0m-1.6 .3h0m-1.6 1h0m-1.6 .2h0m-3.3 .8h0m0 1.3h0m1.6 .9h0m3 2.2h0m6.2 1h0m-5.2 .9h0m1.9 1.9h0m1.3 3.5h0m-4.6 3.1h0m-.1 1.1h0m1.2 6.7h0" stroke="#7a7a7a" stroke-opacity="0.38" stroke-width="4.6" stroke-linecap="round" fill="none"/>
<path d="M139.3 422.7h0m0 6.5h0m1.2 9.1h0m0 7.2h0m2.4 5.2h0m-.5 5.7h0m-2.1 .5h0m-6.7 3.3h0m3.8 1.1h0m-4.2 1h0m1.2 4.2h0m3.3 1.4h0m6.5 4.8h0m.8 8.5h0m-8.8 4.6h0m6.2 2.4h0m-3.1 2h0m2.4 3.2h0m-2.4 1.9h0m1.2 3.4h0m0 1.6h0" stroke="#7a7a7a" stroke-opacity="0.38" stroke-width="4.6" stroke-linecap="round" fill="none"/>
<path d="M158.7 504.8L158.2 503.3L157.9 501.9L157.5 500.4L157.1 498.9L156.8 497.5L156.4 496.0L156.1 494.5L155.7 493.0L155.3 491.6L155.0 490.1L154.6 488.6L154.3 487.2L153.9 485.7L153.6 484.2L153.5 482.7L153.5 481.3L153.5 479.8L153.5 478.3L153.5 476.9L153.5 475.4L153.5 473.9L153.5 472.5L153.5 471.0L153.5 469.5L153.5 468.0L153.5 466.6L153.5 465.1L153.5 463.6L153.5 462.2L153.5 460.7L153.8 459.2L154.1 457.7L154.4 456.3L154.7 454.8L155.1 453.3L155.4 451.9L155.7 450.4L156.1 448.9L156.4 447.4L156.8 446.0L157.1 444.5L157.5 443.0L157.8 441.6L158.1 440.1L158.5 438.6L160.9 438.9L161.3 440.3L161.7 441.8L162.0 443.3L162.3 444.8L162.7 446.2L163.0 447.7L163.4 449.2L163.7 450.6L164.1 452.1L164.4 453.6L164.7 455.0L165.1 456.5L165.4 458.0L165.7 459.5L165.9 460.9L165.9 462.4L165.9 463.9L165.9 465.3L165.9 466.8L165.9 468.3L165.9 469.8L165.9 471.2L165.9 472.7L165.9 474.2L165.9 475.6L165.9 477.1L165.9 478.6L165.9 480.0L165.9 481.5L165.9 483.0L165.7 484.5L165.4 485.9L165.1 487.4L164.7 488.9L164.4 490.3L164.0 491.8L163.7 493.3L163.3 494.8L162.9 496.2L162.6 497.7L162.2 499.2L161.8 500.6L161.5 502.1L161.1 503.6Z" fill="#1a72c4" fill-opacity="0.4"/>
<path d="M159.7 432.9h0m2.2 22.9h0m-3.2 2h0m5.9 1.8h0m-.8 .3h0m-9.9 1.6h0m-.4 .4h0m2.6 7h0m5.8 .5h0m4.7 2.2h0m-13.8 1.5h0m4.1 .2h0m2.8 .2h0m-3.6 3h0m3.6 2.9h0m4.1 3.3h0m-7.7 2.4h0m8.1 6h0" stroke="#1a72c4" stroke-opacity="0.38" stroke-width="4.6" stroke-linecap="round" fill="none"/>
<path d="M158.5 444.2h0m2.4 5.9h0m1 1.9h0m-6.7 2.7h0m10.3 5.3h0m-1.2 5.4h0m-3.9 3.5h0m-5.8 2.9h0m6.5 .5h0m1.4 .6h0m-8.3 .9h0m10.6 .6h0m-5.8 1.3h0m7.2 1.4h0m-9.5 9.8h0m5.2 1h0" stroke="#1a72c4" stroke-opacity="0.38" stroke-width="4.6" stroke-linecap="round" fill="none"/>
<path d="M159.7 436.9h0m-4.5 16.1h0m2.3 .4h0m2.2 .9h0m4.9 1.8h0m-2.4 4.8h0m-1.7 .2h0m-.8 1.3h0m5.1 4.9h0m-7.3 1.8h0m-4.3 .4h0m7.2 .7h0m-1.4 .5h0m7.2 .6h0m-5.8 2.7h0m-5.8 .7h0m8.7 1.6h0m-5.1 2.1h0m7.7 1.5h0m-3.7 3.7h0m-2.5 6.6h0m3.6 8h0m-3.6 10.7h0" stroke="#1a72c4" stroke-opacity="0.38" stroke-width="4.6" stroke-linecap="round" fill="none"/>
<path d="M160.9 445.8h0m-1.2 2.2h0m-.8 13.6h0m3 4.5h0m-4.4 1h0m-2.9 1.3h0m11.6 6.8h0m-7.2 2.4h0m3.8 1.5h0m1.5 1.2h0m-1.5 .7h0m-9.3 .7h0m5.4 .8h0m4.4 2.3h0m-9 .5h0m6.4 2.1h0m1.4 5.3h0m-4.8 .6h0m1.2 4h0" stroke="#1a72c4" stroke-opacity="0.38" stroke-width="4.6" stroke-linecap="round" fill="none"/>
<path d="M159.7 439.3h0m1.2 3.1h0m0 3.7h0m1.2 2.3h0m1.2 2.6h0m-4.8 .4h0m1.2 2.4h0m3 3.5h0m-6 .9h0m2 .7h0m-5.2 6.2h0m5.5 1.2h0m7.2 1.7h0m-10.6 4.6h0m5.6 7.1h0m-5.6 2.5h0m4.9 .7h0m-1.8 3.2h0m5.9 .2h0m2 .2h0m-6.9 1.8h0m-2.2 .4h0m-2.3 3h0" stroke="#1a72c4" stroke-opacity="0.38" stroke-width="4.6" stroke-linecap="round" fill="none"/>
<path d="M164.2 452.5h0m-6.7 2.6h0m-.8 1.7h0m4 .4h0m2.1 5.9h0m-8.2 3.6h0m10.2 1.9h0m-1 3.9h0m2.8 10.6h0m-8.7 2.5h0m4.8 1.9h0m3 6.4h0m-7.2 1.4h0m1.2 10.6h0" stroke="#1a72c4" stroke-opacity="0.38" stroke-width="4.6" stroke-linecap="round" fill="none"/>
<path d="M163.3 447.2h0m-8.5 9.4h0m.8 3.8h0m1.6 .3h0m1 2.8h0m7.7 .3h0m-6.2 .2h0m-1.5 .2h0m2.2 2.3h0m2.9 1.3h0m1.5 3.3h0m1.8 2.6h0m-4.7 .5h0m1.4 .4h0m-5.8 .3h0m4.4 2h0m-1.5 .5h0m5.5 .6h0m-9.3 2.6h0m-1.5 .9h0m2.1 2h0m7.9 1h0m-.9 4.9h0m-2.3 .5h0" stroke="#1a72c4" stroke-opacity="0.38" stroke-width="4.6" stroke-linecap="round" fill="none"/>
<path d="M159.7 440.6h0m4.5 14.7h0m-7.6 6.9h0m10 3.7h0m-.4 1.6h0m-2.9 .6h0m0 2.3h0m-7.2 .2h0m1.4 .3h0m.8 1.2h0m8.3 3.5h0m-9.1 .3h0m-2.9 1.8h0m6.9 6.2h0m-1.8 .4h0m0 7.9h0m1.2 4.2h0m0 3.2h0" stroke="#1a72c4" stroke-opacity="0.38" stroke-width="4.6" stroke-linecap="round" fill="none"/>
<path d="M159.7 429.0h0m3.6 14.6h0m2.4 6.9h0m-5 8.2h0m2 .6h0m1.6 4h0m1.6 1.3h0m-4.7 .3h0m-4.6 .7h0m2.4 4.2h0m2.9 .1h0m3.3 2h0m-.4 4.2h0m-9.7 2h0m-1.6 .5h0m4.7 2.7h0m-3 7.8h0m8.1 5.1h0m-3.6 6.8h0m1.2 1.1h0m2.4 1.1h0m-3.6 22.4h0" stroke="#1a72c4" stroke-opacity="0.38" stroke-width="4.6" stroke-linecap="round" fill="none"/>
<path d="M157.3 449.3h0m9.3 9.1h0m-11.5 4.1h0m6.1 .3h0m-6.1 1.6h0m7.7 1.4h0m-6.7 1.6h0m0 7.9h0m-2.9 1.4h0m11.1 2h0m-7.7 .6h0m4.6 .8h0m-1.5 .6h0m5.8 1.3h0m-8 8.6h0m3.4 4.9h0" stroke="#1a72c4" stroke-opacity="0.38" stroke-width="4.6" stroke-linecap="round" fill="none"/>
<path d="M179.6 508.8L179.2 507.2L178.8 505.6L178.4 504.0L178.1 502.3L177.7 500.7L177.3 499.1L177.0 497.5L176.6 495.8L176.3 494.2L175.9 492.6L175.5 491.0L175.2 489.3L174.9 487.7L174.6 486.1L174.4 484.5L174.4 482.8L174.4 481.2L174.4 479.6L174.4 477.9L174.4 476.3L174.4 474.7L174.4 473.1L174.4 471.4L174.4 469.8L174.4 468.2L174.4 466.6L174.4 464.9L174.4 463.3L174.4 461.7L174.4 460.1L174.5 458.4L174.8 456.8L175.1 455.2L175.4 453.6L175.8 451.9L176.1 450.3L176.4 448.7L176.8 447.1L177.1 445.4L177.5 443.8L177.8 442.2L178.1 440.6L178.4 438.9L178.7 437.3L179.1 435.7L179.5 434.1L181.8 434.3L182.2 436.0L182.5 437.6L182.8 439.2L183.1 440.8L183.5 442.5L183.8 444.1L184.1 445.7L184.5 447.3L184.8 449.0L185.2 450.6L185.5 452.2L185.8 453.8L186.1 455.5L186.4 457.1L186.7 458.7L186.8 460.3L186.8 462.0L186.8 463.6L186.8 465.2L186.8 466.8L186.8 468.5L186.8 470.1L186.8 471.7L186.8 473.3L186.8 475.0L186.8 476.6L186.8 478.2L186.8 479.8L186.8 481.5L186.8 483.1L186.8 484.7L186.6 486.3L186.3 488.0L185.9 489.6L185.6 491.2L185.2 492.8L184.9 494.5L184.5 496.1L184.2 497.7L183.8 499.4L183.4 501.0L183.1 502.6L182.7 504.2L182.4 505.9L182.0 507.5Z" fill="#a8c8ee" fill-opacity="0.4"/>
<path d="M178.2 444.4h0m4.8 8.8h0m-4.8 3h0m8.4 1.5h0m-2 2.6h0m-4 2.4h0m-5.2 5h0m3.5 1.9h0m-5.2 9.1h0m12.9 1.2h0m-12 1.1h0m10 .8h0m-4 2.1h0m6 .5h0m-4.9 2.5h0m-5.9 1.3h0m3.6 4.4h0m-1.2 2h0" stroke="#a8c8ee" stroke-opacity="0.38" stroke-width="4.6" stroke-linecap="round" fill="none"/>
<path d="M180.6 449.2h0m-3.6 .5h0m6 5h0m1.6 7.1h0m-10 .7h0m9.4 9.4h0m-1.7 3h0m-3.4 .4h0m6.9 .3h0m-2.4 .2h0m2.4 2.1h0m-5.2 4.7h0m0 5.3h0m-2.4 .8h0m-2.4 2.8h0m6 7.5h0" stroke="#a8c8ee" stroke-opacity="0.38" stroke-width="4.6" stroke-linecap="round" fill="none"/>
<path d="M180.6 438.1h0m1.2 1.6h0m-3.6 8.8h0m9.3 17.1h0m-2.3 .5h0m-5.5 1.4h0m-3.7 2.8h0m7.4 .5h0m2.4 1.5h0m-12.1 1.4h0m2.3 2.6h0m2.9 1.4h0m-4.3 5.4h0m4 2.4h0m6.8 4.3h0m-4.8 .9h0m1.2 9.3h0" stroke="#a8c8ee" stroke-opacity="0.38" stroke-width="4.6" stroke-linecap="round" fill="none"/>
<path d="M180.6 428.0h0m0 17.5h0m0 8.6h0m-2.4 1.4h0m2.4 .4h0m4 2h0m-6 4.4h0m-2.6 3h0m5.5 .5h0m4.3 3.7h0m1.2 1.9h0m-9.8 1.6h0m6.8 2h0m-4.3 2.2h0m-1.1 4.9h0" stroke="#a8c8ee" stroke-opacity="0.38" stroke-width="4.6" stroke-linecap="round" fill="none"/>
<path d="M180.6 422.5h0m0 10.1h0m0 4.4h0m4.8 18.1h0m0 2.3h0m-10.8 3.7h0m8 2.2h0m-4.8 .4h0m0 2.9h0m-4.1 2.4h0m6.9 3.8h0m1.7 .5h0m-3.4 .2h0m-1.7 .9h0m10.3 3h0m-6.9 .7h0m1.7 .2h0m-5.1 1h0m7.4 1.9h0m-2 1.1h0m-3.1 3.4h0m5.9 3.3h0m-2.4 .5h0m-4.8 .8h0m8.4 1.9h0m-2.4 .6h0m-1.2 2.3h0m-4.8 2.4h0" stroke="#a8c8ee" stroke-opacity="0.38" stroke-width="4.6" stroke-linecap="round" fill="none"/>
<path d="M183.0 444.9h0m-1.2 2.2h0m-2.4 3.2h0m2.4 .5h0m3.6 2.8h0m-10.8 4.7h0m8 .8h0m-4 .3h0m2 .2h0m-6.4 7.7h0m0 2.5h0m3.6 .3h0m3.7 1.1h0m-6.1 .6h0m-1.7 .3h0m11.5 4.4h0m-3.7 .2h0m2.5 2.9h0m-7.4 1.1h0m0 2.6h0m8 1.8h0m1.5 1h0m-4.3 7.5h0m-2.4 4.6h0m1.2 9.8h0m0 8.8h0" stroke="#a8c8ee" stroke-opacity="0.38" stroke-width="4.6" stroke-linecap="round" fill="none"/>
<path d="M180.6 434.5h0m2.4 13.6h0m-2.4 3.6h0m2.4 5.3h0m-2.4 2.9h0m-2 .6h0m2.9 4.3h0m5.5 .3h0m.5 7.5h0m-6.9 2.1h0m6.4 1.4h0m-9.2 .9h0m-2.4 2h0m5.2 1.5h0m0 13.7h0m0 1.7h0m-1.2 6.1h0" stroke="#a8c8ee" stroke-opacity="0.38" stroke-width="4.6" stroke-linecap="round" fill="none"/>
<path d="M181.8 441.9h0m-2.4 4.7h0m-3.6 10.1h0m.8 2h0m0 3h0m3.1 2.8h0m4.3 3.5h0m-6.8 .3h0m2.5 2.2h0m5.5 .5h0m2.3 8.2h0m-4.9 .9h0m-8 4.5h0m9.3 2.5h0m-8.8 .4h0m7.9 8.9h0m-2.4 7.9h0" stroke="#a8c8ee" stroke-opacity="0.38" stroke-width="4.6" stroke-linecap="round" fill="none"/>
<path d="M184.2 451.2h0m-8.4 1.5h0m6.8 8h0m4 .7h0m-1.4 2.6h0m-1.8 .3h0m-7.4 2.8h0m11.5 2.1h0m0 4.8h0m-12.1 .2h0m7.2 9.5h0m-2 27.9h0" stroke="#a8c8ee" stroke-opacity="0.38" stroke-width="4.6" stroke-linecap="round" fill="none"/>
<path d="M184.2 440.9h0m-4.8 2.2h0m-1.2 9.1h0m-2.4 2.3h0m10.8 8.6h0m-10 .4h0m10.4 2.7h0m-3.6 .6h0m-1.1 1.6h0m-1.7 .2h0m-2 12.9h0m8 1.4h0m-10 1.9h0m.7 1.6h0m5.7 4.7h0m1.2 9.5h0m-2.4 3h0m-1.2 3.1h0" stroke="#a8c8ee" stroke-opacity="0.38" stroke-width="4.6" stroke-linecap="round" fill="none"/>
<path d="M199.9 507.1L199.5 505.3L199.1 503.6L198.7 501.8L198.3 500.0L197.9 498.2L197.5 496.4L197.1 494.7L196.7 492.9L196.2 491.1L195.8 489.3L195.4 487.5L195.1 485.8L194.8 484.0L194.8 482.2L194.8 480.4L194.8 478.6L194.8 476.9L194.8 475.1L194.8 473.3L194.8 471.5L194.8 469.7L194.8 468.0L194.8 466.2L194.8 464.4L194.8 462.6L194.8 460.8L194.8 459.1L195.1 457.3L195.4 455.5L195.8 453.7L196.1 451.9L196.5 450.2L196.9 448.4L197.3 446.6L197.6 444.8L198.0 443.0L198.4 441.3L198.7 439.5L199.1 437.7L199.5 435.9L199.9 434.1L202.4 435.6L202.8 437.4L203.2 439.2L203.6 441.0L203.9 442.7L204.3 444.5L204.7 446.3L205.0 448.1L205.4 449.9L205.8 451.6L206.2 453.4L206.5 455.2L206.8 457.0L207.1 458.8L207.2 460.5L207.2 462.3L207.2 464.1L207.2 465.9L207.2 467.7L207.2 469.4L207.2 471.2L207.2 473.0L207.2 474.8L207.2 476.6L207.2 478.3L207.2 480.1L207.2 481.9L207.2 483.7L207.0 485.5L206.6 487.2L206.2 489.0L205.8 490.8L205.4 492.6L205.0 494.4L204.6 496.1L204.2 497.9L203.8 499.7L203.4 501.5L203.0 503.3L202.6 505.0L202.2 506.8Z" fill="#c0262c" fill-opacity="0.4"/>
<path d="M204.6 445.5h0m-4.8 4.8h0m-3.1 9.4h0m10 .8h0m-5.7 .4h0m4.3 1.8h0m-10.8 4.4h0m9.7 .6h0m-6.4 1h0m8.1 .7h0m-8.1 5.1h0m-3.3 3.8h0m3.3 .6h0m5.8 1.4h0m1.7 .3h0m-2.4 4h0m-1.9 6.2h0m3.6 6.3h0m-2.4 6.8h0" stroke="#c0262c" stroke-opacity="0.38" stroke-width="4.6" stroke-linecap="round" fill="none"/>
<path d="M205.7 453.1h0m-1.6 1.1h0m2.1 .8h0m-5.2 1h0m4.3 2.3h0m-3.4 5.5h0m-5.2 .4h0m-.6 2.8h0m8.1 2.1h0m-9.7 .5h0m1.6 1.7h0m6.5 6.1h0m0 .6h0m-1.6 .7h0m6.5 .9h0m-10.3 5.6h0m-1.9 .4h0m5.7 22.4h0m0 8.4h0" stroke="#c0262c" stroke-opacity="0.38" stroke-width="4.6" stroke-linecap="round" fill="none"/>
<path d="M201.0 418.3h0m0 17.9h0m1.2 3.7h0m0 11.4h0m-3.8 6.6h0m3.5 1h0m5.2 .3h0m-12.2 4h0m5.2 2.4h0m.9 3.3h0m-1.6 .9h0m-3.8 2.5h0m12.3 .5h0m-13.4 1.1h0m11.4 1h0m1.6 1.7h0m-7.4 4.3h0m7 .7h0m-.4 1.3h0m-5.7 2h0m3.1 1h0m-.8 2h0m1.3 13.2h0" stroke="#c0262c" stroke-opacity="0.38" stroke-width="4.6" stroke-linecap="round" fill="none"/>
<path d="M201.0 433.2h0m-3.1 21.3h0m.8 1.9h0m-2.4 .3h0m7.3 2.8h0m1.2 .6h0m-9.5 1.3h0m4.1 6.9h0m1.6 1.7h0m3.2 .4h0m3.3 .2h0m-9.7 .2h0m8.1 .8h0m-8.7 .1h0m9.2 1.7h0m-.5 2.8h0m-9.8 1.6h0m3.3 1.4h0m-2.2 3.4h0m9.5 1.7h0m-2.1 8.9h0m0 12.1h0" stroke="#c0262c" stroke-opacity="0.38" stroke-width="4.6" stroke-linecap="round" fill="none"/>
<path d="M201.0 441.9h0m-2.4 1.8h0m0 3.3h0m4.8 .4h0m-3.4 8.2h0m1.9 6.7h0m-.9 3.8h0m6.5 1.8h0m-5.7 4h0m.8 2.3h0m-6.5 3.3h0m2.3 3.5h0m.7 .9h0m5.7 .3h0m1.4 5.4h0m.8 4.9h0" stroke="#c0262c" stroke-opacity="0.38" stroke-width="4.6" stroke-linecap="round" fill="none"/>
<path d="M201.0 435.4h0m0 10.9h0m-2.4 1.7h0m3.4 5.8h0m-1.9 8.3h0m3.5 .8h0m3.5 .8h0m0 .9h0m-1.8 .8h0m-2.7 5.7h0m.7 1.4h0m4.6 .6h0m-13.4 2.7h0m9.7 1.1h0m1.7 2.5h0m-6.8 4.4h0m-.4 4.9h0m0 1.4h0m2.3 11.7h0" stroke="#c0262c" stroke-opacity="0.38" stroke-width="4.6" stroke-linecap="round" fill="none"/>
<path d="M201.0 421.9h0m-3.6 28h0m7.2 .7h0m-1.7 10.6h0m-4.5 2.3h0m9.5 1.3h0m-9.2 8.8h0m2.3 1.2h0m6.5 .7h0m-9.7 1h0m1.6 .6h0m8.5 2.8h0m-5.9 6.5h0m-2 .6h0m3.3 4.2h0m-4.7 3.9h0m2.4 15h0" stroke="#c0262c" stroke-opacity="0.38" stroke-width="4.6" stroke-linecap="round" fill="none"/>
<path d="M201.0 428.7h0m3.6 12.4h0m-2.4 3.6h0m1.2 4.1h0m-2.4 .5h0m-4.7 2.5h0m-.5 3.4h0m7.5 1.8h0m2.4 .3h0m-8.5 4.4h0m-.5 .2h0m1.7 3.1h0m7.5 .7h0m-3.3 1h0m4.9 .6h0m-6.5 8.8h0m.9 4h0m-.9 2.3h0m1.9 1.1h0m-5 2.7h0m3.1 2.8h0m-4.7 2.5h0m3.5 2.2h0m2.4 6.4h0" stroke="#c0262c" stroke-opacity="0.38" stroke-width="4.6" stroke-linecap="round" fill="none"/>
<path d="M201.0 438.5h0m-6.1 20.2h0m4.5 7.6h0m-1.6 .2h0m-1.7 1.5h0m-1.6 2.1h0m5.7 2.9h0m4 2.1h0m0 3.4h0m-7.5 2.9h0m-1.4 1.9h0m.5 3.4h0m9.9 1.6h0m-3.5 3.8h0m-1.2 2.1h0" stroke="#c0262c" stroke-opacity="0.38" stroke-width="4.6" stroke-linecap="round" fill="none"/>
<path d="M203.4 442.9h0m-4.7 9.3h0m4.6 .5h0m-2.3 .7h0m-.9 4.3h0m-1 2.7h0m4.5 3.9h0m-1 4.1h0m2.2 3.8h0m-8.7 1.8h0m3.3 1.4h0m5.4 8.7h0m-8.5 5.3h0m9.4 .3h0m-2.3 5.9h0m-1.2 .9h0m0 1.6h0m-2.4 .7h0" stroke="#c0262c" stroke-opacity="0.38" stroke-width="4.6" stroke-linecap="round" fill="none"/>
<path d="M220.5 511.4L220.1 509.8L219.8 508.2L219.5 506.6L219.1 505.0L218.8 503.4L218.5 501.8L218.1 500.2L217.8 498.6L217.5 497.0L217.2 495.4L216.8 493.8L216.5 492.2L216.2 490.6L215.9 489.1L215.6 487.5L215.3 485.9L215.3 484.3L215.3 482.7L215.3 481.1L215.3 479.5L215.3 477.9L215.3 476.3L215.3 474.7L215.3 473.1L215.3 471.5L215.3 469.9L215.3 468.3L215.3 466.7L215.3 465.1L215.3 463.5L215.3 461.9L215.3 460.3L215.4 458.7L215.7 457.1L215.9 455.5L216.3 453.9L216.6 452.3L216.9 450.7L217.2 449.1L217.6 447.5L217.9 445.9L218.3 444.3L218.6 442.8L218.9 441.2L219.3 439.6L219.6 438.0L219.9 436.4L220.3 434.8L222.6 434.5L223.0 436.1L223.3 437.7L223.7 439.3L224.0 440.9L224.3 442.5L224.7 444.1L225.0 445.7L225.4 447.3L225.7 448.9L226.1 450.5L226.4 452.1L226.7 453.7L227.0 455.3L227.3 456.9L227.6 458.5L227.7 460.0L227.7 461.6L227.7 463.2L227.7 464.8L227.7 466.4L227.7 468.0L227.7 469.6L227.7 471.2L227.7 472.8L227.7 474.4L227.7 476.0L227.7 477.6L227.7 479.2L227.7 480.8L227.7 482.4L227.7 484.0L227.7 485.6L227.5 487.2L227.2 488.8L226.9 490.4L226.6 492.0L226.2 493.6L225.9 495.2L225.6 496.8L225.2 498.4L224.9 500.0L224.6 501.6L224.2 503.2L223.9 504.8L223.6 506.3L223.2 507.9L222.9 509.5L222.6 511.1Z" fill="#ff5a50" fill-opacity="0.4"/>
<path d="M222.7 444.9h0m0 6.6h0m-4.8 .5h0m2.5 3.8h0m5.9 1h0m-7.6 6h0m9.2 .5h0m-9.2 2.6h0m2.8 2h0m-2.8 .5h0m3.7 .3h0m-1.8 .4h0m-6 3.4h0m8.6 5.2h0m1.1 3.7h0m-.8 1h0m-2 .6h0m4 .9h0m-4 2h0m6.9 2.7h0m-3.3 4.8h0m-2.4 .4h0m2.4 .9h0m-6 3.2h0m1.2 5.1h0m1.2 3.3h0" stroke="#ff5a50" stroke-opacity="0.38" stroke-width="4.6" stroke-linecap="round" fill="none"/>
<path d="M227.5 452.9h0m-10 6h0m4 3h0m6.4 2.4h0m-5.5 .5h0m2.5 12.3h0m1.2 1.3h0m-3.7 2.7h0m2.4 8.1h0m-3.3 8.1h0m0 7.4h0" stroke="#ff5a50" stroke-opacity="0.38" stroke-width="4.6" stroke-linecap="round" fill="none"/>
<path d="M222.7 453.6h0m4.3 1.5h0m-4.4 1h0m-7.1 2.4h0m8 1.9h0m4 .2h0m-12.4 2.4h0m11 .6h0m2.3 2.4h0m-.5 3.3h0m-1.8 .2h0m-6.3 1.5h0m6.9 1h0m1.7 1.6h0m-10.3 .3h0m6.8 .4h0m1.8 .9h0m-5.2 2.3h0m-.9 1.2h0m-1.9 .7h0m7.4 2.7h0m-8.6 2h0m4 31.6h0" stroke="#ff5a50" stroke-opacity="0.38" stroke-width="4.6" stroke-linecap="round" fill="none"/>
<path d="M221.5 439.7h0m2.4 7.5h0m3.6 1.8h0m-7.2 .6h0m1.2 8.6h0m4 1.5h0m-1.2 2.6h0m-1.1 4.1h0m-3.4 .9h0m-3.5 .1h0m-1.7 .3h0m5.2 8.2h0m-2.9 3.7h0m0 1h0m.6 4.4h0m2 .2h0m.8 5.9h0m0 1.4h0m-2.4 3h0m7.2 5.2h0m-3.6 12.1h0" stroke="#ff5a50" stroke-opacity="0.38" stroke-width="4.6" stroke-linecap="round" fill="none"/>
<path d="M219.1 448.0h0m-2.4 9.9h0m.8 3.2h0m10.9 7.1h0m0 2.1h0m-6.9 3.7h0m-5.2 1.7h0m1.8 2.4h0m9.8 1.1h0m-5.5 1h0m5.5 .2h0m-12.4 2.3h0m12 .6h0m-4 1.4h0m3.5 4.2h0m-6.6 1.3h0m-2.5 .5h0m9.6 2.1h0m-3.6 3.7h0m0 2.2h0m-2.4 1.4h0m0 20.7h0" stroke="#ff5a50" stroke-opacity="0.38" stroke-width="4.6" stroke-linecap="round" fill="none"/>
<path d="M221.5 440.9h0m3.6 9.6h0m-4.8 .7h0m-2.1 3.4h0m.9 1.9h0m-2.2 6h0m1.2 8.2h0m-1.8 1.6h0m10.4 .4h0m-1.8 .5h0m-1.7 .2h0m0 1.5h0m-6.9 1.8h0m10.4 .6h0m1.7 4.3h0m-3.3 9.9h0m-2.4 2.8h0m-3.6 5h0" stroke="#ff5a50" stroke-opacity="0.38" stroke-width="4.6" stroke-linecap="round" fill="none"/>
<path d="M221.5 427.7h0m3.6 10.4h0m-1.2 6h0m1.2 4.1h0m-4.8 4.4h0m4.5 1.6h0m-8.8 1.1h0m5.5 1.8h0m.9 6.8h0m-1.8 1.7h0m4.3 1.4h0m-3.4 3.5h0m-6.9 4.2h0m13.8 1.6h0m-13.8 1.6h0m4.1 3.1h0m-.5 6.4h0m4.5 4.4h0m2.4 16.9h0" stroke="#ff5a50" stroke-opacity="0.38" stroke-width="4.6" stroke-linecap="round" fill="none"/>
<path d="M221.5 431.9h0m-2.4 10.5h0m2.4 .9h0m3.6 2.4h0m-3.6 .9h0m2.4 10.9h0m3.6 1.6h0m-2 1.7h0m-6 .6h0m4.8 3.1h0m1.8 .5h0m-9.2 4.7h0m1.2 5.7h0m1.7 1.1h0m4.5 2.4h0m-8.8 5.6h0m12 1.6h0m-.5 .8h0m-6.6 .2h0m4.4 1h0m-6.6 1.4h0m4.5 12h0" stroke="#ff5a50" stroke-opacity="0.38" stroke-width="4.6" stroke-linecap="round" fill="none"/>
<path d="M219.5 459.3h0m-4 2.4h0m5.1 2.4h0m-3.7 1.3h0m1.2 1.1h0m8.6 .4h0m-2.4 3.1h0m-1.1 1.2h0m-8.6 .3h0m6.9 3h0m-.9 7.3h0m-4.6 4.6h0" stroke="#ff5a50" stroke-opacity="0.38" stroke-width="4.6" stroke-linecap="round" fill="none"/>
<path d="M221.5 433.9h0m1.2 3h0m0 13.3h0m2.4 3.5h0m-1.6 6.4h0m4.9 8.7h0m-3.5 2.5h0m-8.6 .4h0m3.5 1.3h0m8.6 3h0m-13.3 3.8h0m4.4 3.7h0m6 2h0m-2.9 2.2h0m0 2.3h0m-2.3 5.8h0m2.4 8h0m0 6.2h0" stroke="#ff5a50" stroke-opacity="0.38" stroke-width="4.6" stroke-linecap="round" fill="none"/>
<path d="M241.2 504.3L240.7 502.6L240.3 500.9L239.8 499.2L239.4 497.4L238.9 495.7L238.5 494.0L238.1 492.2L237.7 490.5L237.2 488.8L236.8 487.0L236.5 485.3L236.1 483.6L236.1 481.8L236.1 480.1L236.1 478.4L236.1 476.6L236.1 474.9L236.1 473.2L236.1 471.4L236.1 469.7L236.1 468.0L236.1 466.2L236.1 464.5L236.1 462.8L236.1 461.0L236.2 459.3L236.5 457.6L236.8 455.9L237.2 454.1L237.6 452.4L238.0 450.7L238.3 448.9L238.7 447.2L239.1 445.5L239.5 443.7L239.9 442.0L240.3 440.3L240.7 438.5L241.1 436.8L243.6 437.1L244.0 438.8L244.4 440.6L244.8 442.3L245.1 444.0L245.5 445.7L245.9 447.5L246.3 449.2L246.7 450.9L247.1 452.7L247.5 454.4L247.8 456.1L248.2 457.9L248.5 459.6L248.5 461.3L248.5 463.1L248.5 464.8L248.5 466.5L248.5 468.3L248.5 470.0L248.5 471.7L248.5 473.5L248.5 475.2L248.5 476.9L248.5 478.7L248.5 480.4L248.5 482.1L248.4 483.9L248.1 485.6L247.7 487.3L247.3 489.0L246.9 490.8L246.4 492.5L246.0 494.2L245.6 496.0L245.2 497.7L244.7 499.4L244.3 501.2L243.8 502.9Z" fill="#0a6e32" fill-opacity="0.4"/>
<path d="M243.5 439.1h0m-1.2 19.3h0m0 4.8h0m3.2 .4h0m-8.1 2.1h0m11.4 .1h0m-8.8 2h0m6.1 1.3h0m-2.9 10.6h0m-3.5 2.5h0m2.6 23.5h0" stroke="#0a6e32" stroke-opacity="0.38" stroke-width="4.6" stroke-linecap="round" fill="none"/>
<path d="M243.5 452.1h0m-3.5 3.9h0m4.2 4.1h0m-4.5 1.7h0m1 2.1h0m-1.6 1.1h0m-3.3 .4h0m8.8 1.6h0m-7.7 1.2h0m0 1.2h0m1.6 .6h0m2.2 1.7h0m3.9 2.1h0m-7.7 .5h0m0 .6h0m3.1 2.6h0m-.3 2h0m9.5 4h0m0 3.7h0m-10 1.1h0" stroke="#0a6e32" stroke-opacity="0.38" stroke-width="4.6" stroke-linecap="round" fill="none"/>
<path d="M242.3 413.9h0m0 23h0m-2.4 8h0m-2.3 7.9h0m.9 4.8h0m-.5 3.4h0m8.6 .5h0m-2.7 3.3h0m1.6 1.3h0m-4.8 .4h0m8.5 .6h0m-1.5 .9h0m1.1 2.8h0m-13.4 2.1h0m13 6h0m-12.2 2.7h0m11.3 3.8h0m-6.4 5.8h0m7.2 1h0m-6 7.4h0m-1.2 2.9h0" stroke="#0a6e32" stroke-opacity="0.38" stroke-width="4.6" stroke-linecap="round" fill="none"/>
<path d="M242.3 431.0h0m0 14.6h0m4.7 9.9h0m-2.8 1.3h0m4.6 7.5h0m-8.8 6.3h0m-.9 1.2h0m3.2 .5h0m5.4 .8h0m1.5 2.2h0m-9.2 .4h0m-1.5 .4h0m-1.6 .8h0m12.3 .8h0m-11.2 3.4h0m8.6 1.3h0m-3.4 .8h0m.1 1.8h0m-2 2.4h0m2.2 3.4h0m2.4 5.1h0m-3.6 1.2h0" stroke="#0a6e32" stroke-opacity="0.38" stroke-width="4.6" stroke-linecap="round" fill="none"/>
<path d="M242.3 425.9h0m0 15.7h0m3.6 1.8h0m-3.6 3.7h0m1.2 1.7h0m-2.4 .8h0m1.2 4.1h0m-2.3 .9h0m-3.4 3.5h0m9.5 1h0m-1.2 2.1h0m-1.7 1.2h0m-5.8 .3h0m11.8 7.8h0m-4.3 9.4h0m-3.5 .9h0m3.5 .7h0m3.5 2.2h0m-1.8 .5h0m-7.9 4.6h0" stroke="#0a6e32" stroke-opacity="0.38" stroke-width="4.6" stroke-linecap="round" fill="none"/>
<path d="M242.3 434.2h0m2.4 12h0m1.2 5.4h0m2.1 5.1h0m-8.9 6.1h0m4.8 1.8h0m-1.6 .6h0m4.9 1.1h0m-11.4 4.9h0m2.7 7.4h0m8.1 1.6h0m-8.6 2.5h0m6.9 1.8h0m1 5.8h0" stroke="#0a6e32" stroke-opacity="0.38" stroke-width="4.6" stroke-linecap="round" fill="none"/>
<path d="M248.3 452.4h0m.1 8.3h0m-12.2 1.3h0m-.8 6.8h0m12.3 .8h0m-2.2 1.4h0m1.7 1.1h0m-4.1 2.4h0m6.1 1.7h0m-4.6 .3h0m-1.5 .2h0m3 .7h0m-10.7 .8h0m4.3 4.8h0m1.7 1h0m-.1 1.2h0m-4.2 .5h0m8.3 .8h0m-1.9 3.3h0m-4.8 3.6h0m7.2 .9h0m-1.2 3.7h0" stroke="#0a6e32" stroke-opacity="0.38" stroke-width="4.6" stroke-linecap="round" fill="none"/>
<path d="M245.9 440.4h0m-1.2 7.8h0m-2.4 11.7h0m-1.9 .4h0m4.2 9h0m-.7 2.1h0m3.8 4.1h0m0 2.5h0m-8.5 8h0m6.2 .7h0m-1.9 6h0m-2.4 1.2h0m2.4 1.4h0" stroke="#0a6e32" stroke-opacity="0.38" stroke-width="4.6" stroke-linecap="round" fill="none"/>
<path d="M243.5 442.8h0m2.4 7.4h0m-7.2 .2h0m2.4 .5h0m-3.5 4h0m4.7 .2h0m2.3 1.1h0m-4.2 1.5h0m1 4.6h0m-5.6 1h0m11.4 .8h0m-8.7 2.7h0m7.6 .5h0m-4.6 .3h0m7.7 .8h0m-6.1 .2h0m0 1.2h0m-1.6 .4h0m0 3.3h0m4.6 .1h0m-3 1.1h0m-1.6 1.1h0m3.1 1.3h0m-6.6 2h0m3.4 1.3h0m7 .3h0m-5.1 7.2h0m4.2 .6h0m-6.4 .9h0m4.8 2.3h0m-6 6.7h0m3.6 2.4h0m-1.2 7.8h0" stroke="#0a6e32" stroke-opacity="0.38" stroke-width="4.6" stroke-linecap="round" fill="none"/>
<path d="M239.9 447.8h0m7.1 5.6h0m-2.4 .7h0m1.5 3h0m-9.5 1.7h0m11.4 .4h0m-9.5 .4h0m-1.1 12.9h0m2.6 .2h0m-1.5 .6h0m10.7 .8h0m-3.1 1h0m-4.6 3.3h0m7.7 .8h0m-6 2.6h0m-.9 33.4h0" stroke="#0a6e32" stroke-opacity="0.38" stroke-width="4.6" stroke-linecap="round" fill="none"/>
<path d="M261.8 507.2L261.4 505.6L261.0 503.9L260.6 502.3L260.3 500.7L259.9 499.1L259.5 497.5L259.2 495.9L258.8 494.3L258.4 492.7L258.0 491.1L257.7 489.5L257.3 487.9L257.0 486.3L256.7 484.7L256.6 483.1L256.6 481.5L256.6 479.9L256.6 478.2L256.6 476.6L256.6 475.0L256.6 473.4L256.6 471.8L256.6 470.2L256.6 468.6L256.6 467.0L256.6 465.4L256.6 463.8L256.6 462.2L256.6 460.6L256.8 459.0L257.1 457.4L257.4 455.8L257.7 454.2L258.0 452.5L258.4 450.9L258.8 449.3L259.1 447.7L259.5 446.1L259.9 444.5L260.3 442.9L260.6 441.3L261.0 439.7L261.3 438.1L261.7 436.5L264.1 437.3L264.5 438.9L264.8 440.5L265.2 442.1L265.5 443.7L265.9 445.3L266.3 446.9L266.6 448.5L267.0 450.1L267.4 451.7L267.7 453.3L268.1 455.0L268.4 456.6L268.7 458.2L269.0 459.8L269.0 461.4L269.0 463.0L269.0 464.6L269.0 466.2L269.0 467.8L269.0 469.4L269.0 471.0L269.0 472.6L269.0 474.2L269.0 475.8L269.0 477.4L269.0 479.0L269.0 480.7L269.0 482.3L269.0 483.9L268.8 485.5L268.5 487.1L268.1 488.7L267.8 490.3L267.4 491.9L267.0 493.5L266.6 495.1L266.2 496.7L265.9 498.3L265.5 499.9L265.1 501.5L264.8 503.1L264.4 504.7L264.0 506.4Z" fill="#3cb44b" fill-opacity="0.4"/>
<path d="M264.0 441.4h0m2.4 .6h0m-2.4 3.6h0m-3.6 1.4h0m.5 10.7h0m-.7 4.9h0m3.5 1.4h0m2.3 2.5h0m-9.7 .8h0m6.5 8.6h0m-.8 .2h0m-4.6 .8h0m8 5h0m-3.6 6.6h0m7 4.2h0m-6 1.5h0m-2.4 1.4h0m0 3.9h0" stroke="#3cb44b" stroke-opacity="0.38" stroke-width="4.6" stroke-linecap="round" fill="none"/>
<path d="M262.8 432.8h0m3.8 24.5h0m-2.9 3.4h0m3.4 .3h0m-1.7 2.1h0m1.7 .4h0m-9.2 4h0m3.3 .4h0m4.8 3.2h0m1.7 3.9h0m-1.7 .6h0m1.7 3h0m-9.8 1.3h0m2.6 7.2h0m4.7 8.1h0m1.2 1.8h0" stroke="#3cb44b" stroke-opacity="0.38" stroke-width="4.6" stroke-linecap="round" fill="none"/>
<path d="M262.8 422.8h0m0 15.2h0m2.4 8.3h0m0 3.2h0m-.5 7.6h0m1.2 1.3h0m-8.3 .5h0m4.3 2.3h0m4.1 3.7h0m.6 5.1h0m-2.2 .7h0m-8.1 .2h0m7.3 7.1h0m-2.4 1.4h0m-.3 5.9h0m3.1 6.8h0m-2.4 1.1h0m2.4 2.9h0" stroke="#3cb44b" stroke-opacity="0.38" stroke-width="4.6" stroke-linecap="round" fill="none"/>
<path d="M262.8 439.5h0m0 8.3h0m3.6 3.2h0m-4.8 .6h0m-1.1 2.9h0m9.2 5.8h0m-10.1 4.8h0m1.6 .7h0m6.5 .9h0m.5 2.7h0m-9.2 .3h0m3.8 1.6h0m3.8 2.2h0m1.6 3.2h0m-8 4.1h0m5.2 1.5h0m1.2 3.2h0m1.4 3.2h0m-6.4 15h0m1.2 .9h0m0 9.9h0" stroke="#3cb44b" stroke-opacity="0.38" stroke-width="4.6" stroke-linecap="round" fill="none"/>
<path d="M260.4 448.3h0m8.5 13.1h0m-12.2 1.5h0m8.4 5.4h0m-1.5 .4h0m-6.2 1.2h0m11.9 .6h0m-1.6 1.1h0m-9.8 .2h0m3.3 .1h0m8.5 .2h0m-12.3 .5h0m3.1 .8h0m-1.5 4h0m6.1 .4h0m.9 .5h0m3.7 2.9h0m-5 3.7h0m-6.6 2.8h0m8.3 2.7h0m-2.4 12h0" stroke="#3cb44b" stroke-opacity="0.38" stroke-width="4.6" stroke-linecap="round" fill="none"/>
<path d="M262.8 443.6h0m4.7 9.1h0m-5.7 6.8h0m-5.5 5.7h0m6.5 2.6h0m-4.9 6.5h0m1.7 5.3h0m3.2 .4h0m.9 1.7h0m-3.5 .8h0m3.5 1.5h0m-.9 .3h0m5.7 .3h0m-3.4 2.9h0m.8 1.8h0m.5 4.3h0" stroke="#3cb44b" stroke-opacity="0.38" stroke-width="4.6" stroke-linecap="round" fill="none"/>
<path d="M265.1 453.1h0m3.4 4.9h0m-10 2.1h0m3.4 2.6h0m.9 2.9h0m6.5 .6h0m.4 2.6h0m-8.5 5.3h0m3.2 4.8h0m-5.9 1.4h0m8.6 .6h0m1.8 2.1h0m-10.4 .5h0m4.3 2.8h0m0 14.4h0" stroke="#3cb44b" stroke-opacity="0.38" stroke-width="4.6" stroke-linecap="round" fill="none"/>
<path d="M262.8 449.0h0m-3.6 1.7h0m1.3 3.2h0m4.6 1.9h0m-8 .6h0m3.1 5.6h0m9.1 2.1h0m-1.6 .6h0m-9.8 1.2h0m7.2 6.4h0m-1.5 .8h0m4.6 .6h0m1.1 1.6h0m-8.8 1h0m-4.2 2.1h0m13 .7h0m-5.5 9.1h0m.2 3.7h0m1.2 7h0" stroke="#3cb44b" stroke-opacity="0.38" stroke-width="4.6" stroke-linecap="round" fill="none"/>
<path d="M264.0 450.2h0m-5.9 3.1h0m.9 2.8h0m.7 3h0m8.3 .8h0m.9 2.3h0m-10.4 1.5h0m5.9 .7h0m0 2.6h0m-4.8 .1h0m2.4 1.1h0m-2.4 2h0m-.6 2.6h0m3 .1h0m7.7 1h0m-10.1 1.5h0m10.1 1.1h0m-3.1 1.1h0m-4.7 5.6h0m-2.9 2.7h0m10.7 4.1h0m-6.9 8.1h0m0 11.8h0" stroke="#3cb44b" stroke-opacity="0.38" stroke-width="4.6" stroke-linecap="round" fill="none"/>
<path d="M262.8 428.9h0m0 6.8h0m3.6 8.8h0m-3.6 7.7h0m4.7 2h0m-4.7 .7h0m-4.7 .6h0m4.7 1.3h0m1 1.8h0m1.6 3h0m4.3 7.5h0m-9.2 .2h0m3.9 5.4h0m-8.1 .1h0m13.4 2.4h0m-.8 3.3h0m-7 1h0m5.2 1.3h0m-10.4 1h0m.4 2.2h0m10.4 .9h0m-7.8 2.8h0m-.5 1.3h0m2.4 .2h0m1.2 15.9h0" stroke="#3cb44b" stroke-opacity="0.38" stroke-width="4.6" stroke-linecap="round" fill="none"/>
<path d="M291.4 544.8L290.9 543.1L290.5 541.5L290.1 539.8L289.8 538.2L289.5 536.5L289.2 534.9L288.9 533.2L288.6 531.6L288.2 530.0L287.9 528.3L287.6 526.7L287.3 525.0L286.9 523.4L286.7 521.7L286.7 520.1L286.7 518.4L286.7 516.8L286.7 515.2L286.7 513.5L286.7 511.9L286.7 510.2L286.7 508.6L286.7 506.9L286.7 505.3L286.7 503.6L286.7 502.0L286.7 500.4L286.7 498.7L286.7 497.1L286.7 495.4L286.7 493.8L286.7 492.1L286.7 490.5L286.7 488.8L286.7 487.2L286.7 485.5L286.7 483.9L286.7 482.3L286.7 480.6L286.7 479.0L286.7 477.3L286.7 475.7L286.7 474.0L287.0 472.4L287.2 470.7L287.6 469.1L287.9 467.5L288.2 465.8L288.5 464.2L288.8 462.5L289.1 460.9L289.4 459.2L289.6 457.6L289.9 455.9L290.1 454.3L290.3 452.6L290.5 451.0L290.7 449.4L290.9 447.7L291.3 446.1L293.9 446.9L294.2 448.5L294.4 450.2L294.6 451.8L294.8 453.5L295.0 455.1L295.2 456.8L295.5 458.4L295.8 460.1L296.1 461.7L296.4 463.3L296.7 465.0L297.0 466.6L297.3 468.3L297.6 469.9L297.9 471.6L298.2 473.2L298.3 474.9L298.3 476.5L298.3 478.1L298.3 479.8L298.3 481.4L298.3 483.1L298.3 484.7L298.3 486.4L298.3 488.0L298.3 489.7L298.3 491.3L298.3 492.9L298.3 494.6L298.3 496.2L298.3 497.9L298.3 499.5L298.3 501.2L298.3 502.8L298.3 504.5L298.3 506.1L298.3 507.8L298.3 509.4L298.3 511.0L298.3 512.7L298.3 514.3L298.3 516.0L298.3 517.6L298.3 519.3L298.3 520.9L298.2 522.6L297.9 524.2L297.6 525.8L297.3 527.5L296.9 529.1L296.6 530.8L296.3 532.4L296.0 534.1L295.7 535.7L295.3 537.4L295.0 539.0L294.7 540.7L294.3 542.3L293.9 543.9Z" fill="#2a2a2a" fill-opacity="0.4"/>
<path d="M293.7 447.4h0m-1.2 9.5h0m1.2 6.4h0m1.2 6.3h0m0 13.3h0m-.3 9.5h0m-5.6 1.5h0m-2.4 .3h0m11.8 .4h0m-8 1.5h0m-3.8 1.9h0m11.8 5.9h0m.5 5.2h0m0 2.4h0m-5.2 10.4h0m-4.8 1h0m4.8 7.5h0m-1.2 6h0" stroke="#2a2a2a" stroke-opacity="0.38" stroke-width="4.6" stroke-linecap="round" fill="none"/>
<path d="M292.5 458.8h0m1.2 2.5h0m2.4 13.2h0m-7.2 .4h0m7.2 1.7h0m-6 5.2h0m0 3.9h0m-1.9 5.7h0m10.7 1.6h0m-6.4 3.5h0m1.2 8.9h0m0 5.9h0m1.2 4.8h0m0 2.6h0m0 5.5h0m-2.4 1.1h0" stroke="#2a2a2a" stroke-opacity="0.38" stroke-width="4.6" stroke-linecap="round" fill="none"/>
<path d="M292.5 430.0h0m-2.4 42.3h0m-1.1 11h0m9.9 13.5h0m0 2.5h0m-5.2 3.4h0m.9 5.8h0m.3 .9h0m2.4 .4h0m0 5.1h0m-7.2 2.9h0" stroke="#2a2a2a" stroke-opacity="0.38" stroke-width="4.6" stroke-linecap="round" fill="none"/>
<path d="M296.1 447.9h0m0 16.3h0m-4.8 1.5h0m-1.2 1.7h0m3.6 9.7h0m4.8 2.5h0m-2.4 .2h0m-4.8 .9h0m7.6 6.8h0m-8.8 2.2h0m7.2 1h0m-3.6 4.2h0m-3.3 4.9h0m4.2 .7h0m4.3 4.1h0m-7.6 .3h0m7.1 .4h0m-9.4 .5h0m7.8 1.6h0m-4.3 .8h0m-4.8 8.2h0m6 3.2h0m2.4 2.7h0m-2.4 6.2h0m2.4 3.1h0" stroke="#2a2a2a" stroke-opacity="0.38" stroke-width="4.6" stroke-linecap="round" fill="none"/>
<path d="M292.5 460.2h0m0 10.6h0m0 .7h0m5.9 13.7h0m-3.5 .8h0m2.4 .7h0m-8.3 1h0m3.5 1.8h0m-6.4 2.7h0m8.5 3.7h0m3.8 1.5h0m-2.4 1.3h0m-9.4 7.4h0m3.5 4.4h0m0 6.3h0m1.2 3.8h0m-1.2 3.1h0m0 3.2h0m1.2 2.5h0" stroke="#2a2a2a" stroke-opacity="0.38" stroke-width="4.6" stroke-linecap="round" fill="none"/>
<path d="M293.7 455.1h0m-3.6 15.2h0m1.2 5.4h0m-2.4 1.9h0m7.9 17.7h0m-7.8 3.7h0m3.5 1.8h0m-4.3 8h0m4.3 1.5h0m0 4.9h0m4.8 .2h0m-3.6 17h0m-2.4 .9h0m1.2 14.3h0" stroke="#2a2a2a" stroke-opacity="0.38" stroke-width="4.6" stroke-linecap="round" fill="none"/>
<path d="M292.5 445.8h0m0 5.3h0m-1.2 11.7h0m1.2 5.3h0m-1.2 10h0m4.8 .4h0m-3.6 7.8h0m-4.8 .7h0m6 1.3h0m-6 1.8h0m4.8 2.6h0m-1.2 5h0m7.1 15.3h0m-10.7 .6h0m7.2 .7h0m-2.4 2.9h0m3.6 3.1h0m-4.8 1h0m3.6 4.9h0m-1.2 11.8h0m-2.4 1.2h0m1.2 2.1h0m0 2h0" stroke="#2a2a2a" stroke-opacity="0.38" stroke-width="4.6" stroke-linecap="round" fill="none"/>
<path d="M293.7 473.5h0m4.8 2.6h0m-10.8 5.8h0m11.2 2.3h0m-7.6 .6h0m-.9 7h0m6.4 7.9h0m-10.7 1.5h0m9.9 .5h0m2.4 .4h0m-11.8 .2h0m9.4 1.1h0m-7 .2h0m-2.9 4.2h0m12.4 11.4h0m-6 5.8h0" stroke="#2a2a2a" stroke-opacity="0.38" stroke-width="4.6" stroke-linecap="round" fill="none"/>
<path d="M291.3 453.7h0m2.4 25.2h0m0 1.5h0m2.3 3.2h0m-2.3 .9h0m2.3 3.6h0m2.4 .6h0m-3.5 1.8h0m1.1 3h0m-4.7 .2h0m-3.1 2h0m3.1 7.3h0m2.4 1.1h0m-2.4 2.7h0m-2.3 6h0m1.1 1.1h0m2.4 4.3h0m3.6 9.6h0m-2.4 7h0" stroke="#2a2a2a" stroke-opacity="0.38" stroke-width="4.6" stroke-linecap="round" fill="none"/>
<path d="M293.7 466.6h0m1.2 2.4h0m0 3.8h0m-3.6 1.1h0m6 7.3h0m-4.8 1.3h0m-1.2 6.7h0m5.5 2h0m-10.7 6h0m7.6 1.1h0m-5.5 2h0m.8 1.1h0m7 5.1h0m-5.6 .7h0m-2.7 3.6h0m3.6 1.1h0m4.7 .5h0" stroke="#2a2a2a" stroke-opacity="0.38" stroke-width="4.6" stroke-linecap="round" fill="none"/>
<path d="M312.4 538.8L311.9 537.0L311.5 535.2L311.1 533.4L310.7 531.6L310.4 529.9L310.1 528.1L309.8 526.3L309.4 524.5L309.1 522.7L308.8 521.0L308.5 519.2L308.2 517.4L307.9 515.6L307.6 513.8L307.6 512.1L307.6 510.3L307.6 508.5L307.6 506.7L307.6 504.9L307.6 503.2L307.6 501.4L307.6 499.6L307.6 497.8L307.6 496.0L307.6 494.3L307.6 492.5L307.6 490.7L307.6 488.9L307.6 487.1L307.6 485.4L307.6 483.6L307.6 481.8L307.6 480.0L307.6 478.2L307.6 476.4L307.6 474.7L307.6 472.9L307.6 471.1L307.6 469.3L307.6 467.5L307.6 465.8L307.6 464.0L307.6 462.2L307.9 460.4L308.2 458.6L308.5 456.9L308.8 455.1L309.1 453.3L309.4 451.5L309.7 449.7L310.0 448.0L310.3 446.2L310.6 444.4L310.9 442.6L311.3 440.8L311.6 439.1L311.9 437.3L312.3 435.5L314.6 435.8L314.9 437.6L315.3 439.4L315.6 441.1L315.9 442.9L316.3 444.7L316.6 446.5L316.9 448.3L317.2 450.0L317.5 451.8L317.8 453.6L318.1 455.4L318.4 457.2L318.7 458.9L319.0 460.7L319.2 462.5L319.2 464.3L319.2 466.1L319.2 467.8L319.2 469.6L319.2 471.4L319.2 473.2L319.2 475.0L319.2 476.7L319.2 478.5L319.2 480.3L319.2 482.1L319.2 483.9L319.2 485.6L319.2 487.4L319.2 489.2L319.2 491.0L319.2 492.8L319.2 494.6L319.2 496.3L319.2 498.1L319.2 499.9L319.2 501.7L319.2 503.5L319.2 505.2L319.2 507.0L319.2 508.8L319.2 510.6L319.2 512.4L319.2 514.1L318.9 515.9L318.6 517.7L318.2 519.5L317.9 521.3L317.6 523.0L317.3 524.8L317.0 526.6L316.7 528.4L316.3 530.2L316.0 531.9L315.7 533.7L315.3 535.5L314.8 537.3Z" fill="#7a7a7a" fill-opacity="0.4"/>
<path d="M317.0 443.3h0m-2.4 2.1h0m-6 26.2h0m4.8 1.3h0m4.8 5.2h0m-7.2 2.4h0m-1.1 5.9h0m9.9 .4h0m-9.9 .9h0m4.7 .4h0m2.3 .2h0m0 1.7h0m2.4 .6h0m-4.7 2.8h0m2.3 .6h0m-3.5 3.9h0m-3.6 10.7h0m0 4.6h0m6 3.3h0m-1.2 2.1h0m-1.2 5.9h0m0 17.5h0" stroke="#7a7a7a" stroke-opacity="0.38" stroke-width="4.6" stroke-linecap="round" fill="none"/>
<path d="M314.6 447.5h0m-2.4 4.2h0m4.8 2.2h0m-6 8.2h0m0 9h0m7.2 2.2h0m-9.6 .8h0m9.6 2.4h0m1.6 13.1h0m-9.9 .8h0m2.3 .5h0m-3.6 1.8h0m8.3 7.9h0m1.3 3.9h0m0 1.6h0m-4.8 .5h0m-1.2 .8h0m0 2.1h0" stroke="#7a7a7a" stroke-opacity="0.38" stroke-width="4.6" stroke-linecap="round" fill="none"/>
<path d="M313.4 428.7h0m3.6 32.1h0m-3.6 9.1h0m2.4 4.7h0m2.4 .4h0m-2.4 3.6h0m-.3 4h0m-.9 2h0m0 1.5h0m-4.7 14h0m-2.4 1.2h0m4.7 .2h0m2.4 1.1h0m1.2 18.8h0" stroke="#7a7a7a" stroke-opacity="0.38" stroke-width="4.6" stroke-linecap="round" fill="none"/>
<path d="M315.8 455.4h0m-1.2 3.2h0m-2.4 1h0m1.2 4.1h0m2.4 1.2h0m1.2 1.3h0m-7.2 2.8h0m-1.2 .4h0m4.8 7.5h0m2.4 4.1h0m1.1 6h0m-1.1 6.1h0m-3.6 2.4h0m-4.7 .5h0m2.4 1.3h0m5.9 1.6h0m3.6 3.1h0m-8.4 3.7h0m6 3.2h0m-4.8 3.4h0m-1.2 9.6h0m6 3.7h0" stroke="#7a7a7a" stroke-opacity="0.38" stroke-width="4.6" stroke-linecap="round" fill="none"/>
<path d="M309.8 459.9h0m2.4 5.6h0m7.2 1.4h0m-8.4 9.2h0m-2.4 1.2h0m4.8 2.8h0m6.4 1.2h0m-8.5 .3h0m8 5.7h0m-7.1 1.8h0m-4.7 .2h0m3.5 3.2h0m1.2 2h0m7.6 .2h0m-5.2 4.7h0m-6 4.7h0m4.8 .7h0m2.4 10.4h0m-1.2 13.9h0m-1.2 8.5h0" stroke="#7a7a7a" stroke-opacity="0.38" stroke-width="4.6" stroke-linecap="round" fill="none"/>
<path d="M313.4 439.6h0m1.2 2.2h0m2.4 5.2h0m-4.8 2.2h0m1.2 7.2h0m3.6 1.3h0m-2.4 3.5h0m-2.4 6.8h0m4.8 .5h0m-6 3.6h0m2.4 9.9h0m-5.9 2.1h0m9.4 .1h0m.1 34h0" stroke="#7a7a7a" stroke-opacity="0.38" stroke-width="4.6" stroke-linecap="round" fill="none"/>
<path d="M315.8 462.5h0m-2.4 .6h0m-2.4 1.4h0m2.4 9.3h0m2.4 2h0m2.4 3.7h0m-.5 3.4h0m-7.8 2h0m9.4 .4h0m-4.7 6h0m-3.6 6.9h0m-2.4 .4h0m10.7 1.1h0m-8.3 14h0m2.4 9.4h0m1.2 3.9h0m-2.4 .4h0" stroke="#7a7a7a" stroke-opacity="0.38" stroke-width="4.6" stroke-linecap="round" fill="none"/>
<path d="M313.4 436.0h0m-2.4 21.3h0m3.6 9.1h0m-3.6 11.2h0m-4 4.7h0m5.2 3.3h0m1.2 6h0m5.9 3.4h0m0 .8h0m-2.4 1h0m1.3 .8h0m-6 3.3h0m-1.2 2.4h0m4.8 .3h0m-1.2 4.4h0m2.4 1.9h0m-3.6 4.8h0m0 1.3h0m-1.2 15.5h0" stroke="#7a7a7a" stroke-opacity="0.38" stroke-width="4.6" stroke-linecap="round" fill="none"/>
<path d="M313.4 431.5h0m1.2 22.8h0m0 13.2h0m1.2 3.2h0m0 1.8h0m-4.8 2.8h0m-2.4 3.8h0m0 .8h0m.5 3.3h0m3.1 .5h0m6 8.2h0m-8.3 1.7h0m7.1 9.2h0m-8.4 2.6h0m10.8 5.2h0m-8.4 6.4h0m3.6 2.6h0m-2.4 1h0m1.2 14.2h0" stroke="#7a7a7a" stroke-opacity="0.38" stroke-width="4.6" stroke-linecap="round" fill="none"/>
<path d="M313.4 450.8h0m1.2 2.2h0m3.6 17.5h0m-4.8 7.9h0m5.9 10.4h0m-4.7 7.6h0m1.2 10.8h0m-1.2 3.8h0m2.4 .8h0m-2.4 .9h0m0 19.9h0" stroke="#7a7a7a" stroke-opacity="0.38" stroke-width="4.6" stroke-linecap="round" fill="none"/>
<path d="M332.6 541.5L332.2 539.6L331.9 537.8L331.6 535.9L331.3 534.1L331.0 532.2L330.7 530.3L330.3 528.5L330.0 526.6L329.7 524.8L329.3 522.9L329.0 521.1L328.7 519.2L328.4 517.3L328.1 515.5L327.9 513.6L327.9 511.8L327.9 509.9L327.9 508.1L327.9 506.2L327.9 504.3L327.9 502.5L327.9 500.6L327.9 498.8L327.9 496.9L327.9 495.0L327.9 493.2L327.9 491.3L327.9 489.5L327.9 487.6L327.9 485.8L327.9 483.9L327.9 482.0L327.9 480.2L327.9 478.3L327.9 476.5L327.9 474.6L327.9 472.8L327.9 470.9L327.9 469.0L327.9 467.2L327.9 465.3L327.9 463.5L327.9 461.6L328.2 459.7L328.5 457.9L328.8 456.0L329.1 454.2L329.4 452.3L329.7 450.5L330.1 448.6L330.4 446.7L330.7 444.9L331.0 443.0L331.3 441.2L331.6 439.3L331.9 437.5L332.2 435.6L332.6 433.7L335.0 434.7L335.3 436.5L335.6 438.4L335.9 440.2L336.2 442.1L336.5 444.0L336.8 445.8L337.2 447.7L337.5 449.5L337.8 451.4L338.1 453.2L338.5 455.1L338.8 457.0L339.1 458.8L339.4 460.7L339.5 462.5L339.5 464.4L339.5 466.3L339.5 468.1L339.5 470.0L339.5 471.8L339.5 473.7L339.5 475.5L339.5 477.4L339.5 479.3L339.5 481.1L339.5 483.0L339.5 484.8L339.5 486.7L339.5 488.5L339.5 490.4L339.5 492.3L339.5 494.1L339.5 496.0L339.5 497.8L339.5 499.7L339.5 501.5L339.5 503.4L339.5 505.3L339.5 507.1L339.5 509.0L339.5 510.8L339.5 512.7L339.5 514.6L339.2 516.4L338.9 518.3L338.6 520.1L338.2 522.0L337.9 523.8L337.6 525.7L337.2 527.6L336.9 529.4L336.6 531.3L336.3 533.1L336.0 535.0L335.7 536.8L335.4 538.7L335.0 540.6Z" fill="#1a72c4" fill-opacity="0.4"/>
<path d="M338.5 463.7h0m-3.6 2.9h0m-6 3.7h0m2.4 4.2h0m0 1.3h0m3.6 3h0m-2.4 7.7h0m-4.8 3.9h0m4.8 1.6h0m-2.4 .7h0m4.8 .3h0m-4.8 3.9h0m7.2 .3h0m-7.2 3.6h0m6 3.5h0m1.2 2h0m-4.8 2.2h0m-2.4 3.1h0m9.6 1h0m-6 8h0" stroke="#1a72c4" stroke-opacity="0.38" stroke-width="4.6" stroke-linecap="round" fill="none"/>
<path d="M336.1 457.7h0m1.2 8.4h0m2.8 18.5h0m-7.6 6.4h0m0 4.8h0m6 2.5h0m-7.2 .6h0m2.4 4.7h0m1.2 6.9h0m-3.6 7h0m2.4 26.9h0" stroke="#1a72c4" stroke-opacity="0.38" stroke-width="4.6" stroke-linecap="round" fill="none"/>
<path d="M337.3 449.0h0m-8.4 22.9h0m2.4 1.3h0m2.4 1.6h0m6 5.8h0m-7.2 .6h0m4.8 1.6h0m2.8 6.8h0m-7.6 4.8h0m-4.8 .5h0m12 5.6h0m.4 .8h0m-5.2 5.9h0m-4.8 .2h0m6 6.9h0m-1.2 3.7h0m-1.2 23.2h0" stroke="#1a72c4" stroke-opacity="0.38" stroke-width="4.6" stroke-linecap="round" fill="none"/>
<path d="M333.7 422.9h0m0 15.6h0m0 15.3h0m2.4 1.2h0m-2.4 5h0m-2.4 .6h0m4.8 1.1h0m-2.4 3.6h0m6 3.2h0m-6 1.3h0m-4.8 7.5h0m-1.2 1.2h0m2.4 6.8h0m2.4 2.9h0m-2.4 .4h0m9.6 .6h0m0 2.6h0m-10.8 12.3h0m6 3.8h0m-3.6 7.1h0m4.8 1.2h0" stroke="#1a72c4" stroke-opacity="0.38" stroke-width="4.6" stroke-linecap="round" fill="none"/>
<path d="M333.7 434.5h0m1.2 16.8h0m-3.6 4.3h0m3.6 .8h0m-2.4 11.6h0m3.6 3.2h0m1.2 8h0m-7.2 .3h0m7.2 1.2h0m-4.8 2.5h0m-2.4 3h0m4.8 9.2h0m5.2 1.2h0m-2.8 17h0m-3.6 2h0m3.6 9.9h0m-3.6 12.4h0" stroke="#1a72c4" stroke-opacity="0.38" stroke-width="4.6" stroke-linecap="round" fill="none"/>
<path d="M333.7 441.3h0m0 3.8h0m0 1.2h0m-2.4 18.4h0m1.2 2.5h0m2.4 2.2h0m3.6 7.7h0m1.2 .9h0m-4.8 2.2h0m-4.8 1.4h0m0 .5h0m4.8 1.4h0m2.4 .3h0m-2.4 6.9h0m5.2 1.6h0m-6.4 7h0m-2.4 5.5h0m3.6 7.1h0m-1.2 4.8h0m0 19.7h0" stroke="#1a72c4" stroke-opacity="0.38" stroke-width="4.6" stroke-linecap="round" fill="none"/>
<path d="M333.7 429.2h0m0 7.3h0m-2.4 22.9h0m-1.2 8.3h0m1.2 3.9h0m7.2 1.1h0m-9.6 1.3h0m9.6 1.5h0m-1.2 11.4h0m2.4 .6h0m-2.4 4h0m-7.2 2.3h0m7.2 6.4h0m-2.4 1.4h0m-6 .7h0m3.6 4.2h0m0 12.5h0m2.4 3.4h0m-2.4 .8h0m2.4 1.1h0" stroke="#1a72c4" stroke-opacity="0.38" stroke-width="4.6" stroke-linecap="round" fill="none"/>
<path d="M333.7 443.2h0m1.2 10.1h0m2.4 3.9h0m-3.6 1.5h0m2.4 2.4h0m-2.4 1.2h0m3.6 6.8h0m-1.2 4.6h0m3.6 8.1h0m-12 .7h0m4.8 2.4h0m2.4 2.2h0m4.8 3.1h0m-2.4 5.1h0m2.4 .9h0m-3.6 1.8h0m-7.2 .8h0m3.6 .9h0m3.6 2.3h0m2.4 3.2h0m-4.8 .4h0m6 3.3h0m-2.4 2h0m-1.2 8.9h0m-1.2 7.3h0m-1.2 1.6h0" stroke="#1a72c4" stroke-opacity="0.38" stroke-width="4.6" stroke-linecap="round" fill="none"/>
<path d="M332.5 450.0h0m-1.2 13h0m7.2 7.8h0m-2.4 4.4h0m4 4.7h0m-.4 4.2h0m-4.8 1.5h0m0 2.3h0m2.4 1h0m-2.4 8.8h0m3.6 5.6h0m-1.2 6.2h0m-4.8 .4h0m-1.2 11.3h0m2.4 9.6h0m1.2 1.3h0m2.4 1.4h0" stroke="#1a72c4" stroke-opacity="0.38" stroke-width="4.6" stroke-linecap="round" fill="none"/>
<path d="M334.9 447.7h0m2.4 4.7h0m-1.2 11.8h0m-7.2 1.4h0m4.8 6.9h0m0 3.7h0m2.4 .4h0m-3.6 1.2h0m-4.8 8.1h0m2.4 4h0m7.2 3.6h0m2.4 .6h0m-8.4 8.9h0m1.2 10.2h0m0 12.7h0" stroke="#1a72c4" stroke-opacity="0.38" stroke-width="4.6" stroke-linecap="round" fill="none"/>
<path d="M353.5 513.2L353.0 511.4L352.6 509.6L352.3 507.8L351.9 506.0L351.7 504.2L351.4 502.4L351.1 500.6L350.8 498.8L350.5 497.0L350.2 495.2L349.8 493.4L349.5 491.6L349.2 489.8L348.9 488.0L348.8 486.2L348.8 484.4L348.8 482.6L348.8 480.8L348.8 479.0L348.8 477.2L348.8 475.4L348.8 473.6L348.8 471.8L348.8 470.0L348.8 468.2L348.8 466.4L348.8 464.6L348.8 462.8L348.8 461.0L348.8 459.2L348.8 457.4L348.8 455.6L348.8 453.8L348.8 452.0L348.8 450.2L348.8 448.4L348.8 446.6L348.8 444.8L348.8 443.0L348.8 441.2L348.8 439.4L348.8 437.6L348.8 435.8L348.8 434.0L349.1 432.2L349.4 430.4L349.7 428.6L350.0 426.8L350.4 425.0L350.7 423.2L351.0 421.4L351.3 419.6L351.6 417.8L351.9 416.0L352.2 414.2L352.5 412.4L352.8 410.6L353.1 408.8L353.4 407.0L355.7 406.7L356.0 408.5L356.4 410.3L356.7 412.1L357.0 413.9L357.3 415.7L357.6 417.5L357.9 419.3L358.2 421.1L358.5 422.9L358.8 424.7L359.1 426.5L359.4 428.3L359.7 430.1L360.0 431.9L360.3 433.7L360.4 435.5L360.4 437.3L360.4 439.1L360.4 440.9L360.4 442.7L360.4 444.5L360.4 446.3L360.4 448.1L360.4 449.9L360.4 451.7L360.4 453.5L360.4 455.3L360.4 457.1L360.4 458.9L360.4 460.7L360.4 462.5L360.4 464.3L360.4 466.1L360.4 467.9L360.4 469.7L360.4 471.5L360.4 473.3L360.4 475.1L360.4 476.9L360.4 478.7L360.4 480.5L360.4 482.3L360.4 484.1L360.4 485.9L360.4 487.7L360.1 489.5L359.7 491.3L359.4 493.1L359.1 494.9L358.8 496.7L358.5 498.5L358.2 500.3L357.9 502.1L357.6 503.9L357.3 505.7L357.0 507.5L356.7 509.3L356.3 511.1L355.8 512.9Z" fill="#a8c8ee" fill-opacity="0.4"/>
<path d="M353.4 422.5h0m0 6.9h0m2.4 1.1h0m-2.4 7h0m2.4 1.1h0m-1.2 2.4h0m-2.4 6.4h0m7.2 .8h0m1.6 3.6h0m-.5 13.2h0m0 2h0m0 3.2h0m-9.4 .2h0m7 .5h0m-8.3 2.7h0m7.2 .5h0m-4.8 .4h0m4.8 5.4h0m-4.8 10.2h0m6 6.6h0m-4.8 .6h0" stroke="#a8c8ee" stroke-opacity="0.38" stroke-width="4.6" stroke-linecap="round" fill="none"/>
<path d="M354.6 389.4h0m6 42.3h0m-7.2 4.3h0m2.4 .8h0m0 3.7h0m3.6 2.8h0m-4.8 .5h0m-4.8 .4h0m4.8 5.5h0m-3.5 2.3h0m7 .5h0m0 6.5h0m1.3 12.2h0m-4.8 1.8h0m-3.5 3.8h0m4.7 1.7h0m2.4 3.6h0m2.4 1.7h0m-6 5.4h0" stroke="#a8c8ee" stroke-opacity="0.38" stroke-width="4.6" stroke-linecap="round" fill="none"/>
<path d="M354.6 419.2h0m1.2 2.2h0m0 3.9h0m4.8 9.7h0m-9.6 2.1h0m.1 21.1h0m9.9 2.8h0m-4.3 1.5h0m-6.4 .4h0m-1.6 2.5h0m2.4 2.5h0m4.7 .8h0m-2.4 1.1h0m-3.6 2.2h0m9.6 7h0m-7.2 1.8h0m3.6 12.8h0m-1.2 15.4h0" stroke="#a8c8ee" stroke-opacity="0.38" stroke-width="4.6" stroke-linecap="round" fill="none"/>
<path d="M354.6 403.8h0m6 35.2h0m-6 7.8h0m-4.8 3.5h0m6 3.1h0m0 3.3h0m4.7 .8h0m-2.4 1.2h0m2.9 1.8h0m-9.9 .2h0m3.5 .8h0m4.3 1.1h0m-10.2 6.5h0m5.9 2.5h0m3.6 13.1h0m-4.8 3.8h0m1.2 16.8h0" stroke="#a8c8ee" stroke-opacity="0.38" stroke-width="4.6" stroke-linecap="round" fill="none"/>
<path d="M355.8 415.0h0m2.4 1.3h0m-4.8 16.1h0m4.8 7.9h0m-1.2 2.1h0m-4.8 3.3h0m-2.4 .3h0m6 4.9h0m-3.3 11.1h0m2.1 2h0m-3.5 1.6h0m7 2h0m-5.9 4.6h0m8.8 3.9h0m-7.6 5h0m2.4 1.5h0m1.2 3.2h0" stroke="#a8c8ee" stroke-opacity="0.38" stroke-width="4.6" stroke-linecap="round" fill="none"/>
<path d="M358.2 411.0h0m-3.6 17.6h0m1.2 4.3h0m2.4 2.6h0m-1.2 11h0m-3.6 4.9h0m-2.3 2.6h0m2.3 .5h0m7.1 1.2h0m-2.4 .8h0m-4.7 .7h0m-3.6 7.1h0m6 1.7h0m0 18h0m1.2 6.6h0m-1.2 7.9h0m-1.2 5.5h0m0 10.8h0" stroke="#a8c8ee" stroke-opacity="0.38" stroke-width="4.6" stroke-linecap="round" fill="none"/>
<path d="M355.8 412.7h0m-3.6 15.2h0m0 14h0m1.2 14.1h0m0 10.3h0m4.7 9.3h0m-7.1 1.5h0m2.4 .6h0m4.8 .3h0m-3.6 1.2h0m0 7h0m1.2 2h0m1.2 4.7h0m-3.6 1.5h0m2.4 1.1h0" stroke="#a8c8ee" stroke-opacity="0.38" stroke-width="4.6" stroke-linecap="round" fill="none"/>
<path d="M354.6 396.2h0m2.4 30.8h0m1.2 11h0m-1.2 6.5h0m-2.4 3.9h0m2.4 .4h0m-8.3 5h0m9.4 1h0m-9.4 2.9h0m11.8 2h0m-3.5 3.6h0m-4.8 1.3h0m5.9 2.1h0m1.3 6.6h0m-3.6 1.6h0m-6 5.3h0m2.4 4.9h0m6 2.4h0" stroke="#a8c8ee" stroke-opacity="0.38" stroke-width="4.6" stroke-linecap="round" fill="none"/>
<path d="M354.6 398.4h0m3.6 25.1h0m-4.8 2.9h0m4.8 4.7h0m-4.8 8.6h0m6 1.9h0m-9.6 1.1h0m2.4 2.2h0m7.2 .4h0m-9.6 2.3h0m10.7 5.5h0m.5 2.4h0m-7.6 3.9h0m-5.2 2.3h0m11.2 1.9h0m-6 4.8h0m0 6.9h0m-2.4 6.5h0m9.6 5.1h0m-6 4.6h0m3.6 8.7h0m-3.6 7.2h0m0 4.6h0" stroke="#a8c8ee" stroke-opacity="0.38" stroke-width="4.6" stroke-linecap="round" fill="none"/>
<path d="M354.6 407.2h0m0 10.8h0m1.2 6h0m-2.4 9.6h0m2.4 .6h0m-3.6 15h0m7.2 .8h0m-2.4 .7h0m3.5 2h0m-9.4 2.4h0m4.7 3.3h0m0 1.7h0m5.2 7.3h0m-5.2 2h0m1.2 3.3h0m3.5 3.8h0m-7.1 6.6h0m-1.2 9.3h0m3.6 8.4h0m-1.2 1.9h0" stroke="#a8c8ee" stroke-opacity="0.38" stroke-width="4.6" stroke-linecap="round" fill="none"/>
<path d="M373.8 543.5L373.3 541.8L372.9 540.1L372.6 538.4L372.3 536.6L372.0 534.9L371.7 533.2L371.4 531.5L371.1 529.8L370.7 528.0L370.4 526.3L370.0 524.6L369.7 522.9L369.4 521.1L369.1 519.4L369.1 517.7L369.1 516.0L369.1 514.2L369.1 512.5L369.1 510.8L369.1 509.1L369.1 507.4L369.1 505.6L369.1 503.9L369.1 502.2L369.1 500.5L369.1 498.7L369.1 497.0L369.1 495.3L369.1 493.6L369.1 491.9L369.1 490.1L369.1 488.4L369.1 486.7L369.1 485.0L369.1 483.2L369.1 481.5L369.1 479.8L369.1 478.1L369.1 476.4L369.1 474.6L369.1 472.9L369.1 471.2L369.2 469.5L369.5 467.7L369.8 466.0L370.1 464.3L370.4 462.6L370.8 460.9L371.1 459.1L371.4 457.4L371.7 455.7L372.0 454.0L372.3 452.2L372.6 450.5L372.9 448.8L373.2 447.1L373.5 445.4L373.9 443.6L376.2 445.1L376.6 446.8L376.9 448.5L377.2 450.2L377.5 452.0L377.8 453.7L378.1 455.4L378.4 457.1L378.7 458.8L379.0 460.6L379.3 462.3L379.6 464.0L379.9 465.7L380.2 467.5L380.5 469.2L380.7 470.9L380.7 472.6L380.7 474.3L380.7 476.1L380.7 477.8L380.7 479.5L380.7 481.2L380.7 483.0L380.7 484.7L380.7 486.4L380.7 488.1L380.7 489.8L380.7 491.6L380.7 493.3L380.7 495.0L380.7 496.7L380.7 498.5L380.7 500.2L380.7 501.9L380.7 503.6L380.7 505.4L380.7 507.1L380.7 508.8L380.7 510.5L380.7 512.2L380.7 514.0L380.7 515.7L380.7 517.4L380.7 519.1L380.5 520.9L380.2 522.6L379.8 524.3L379.5 526.0L379.1 527.7L378.8 529.5L378.5 531.2L378.2 532.9L377.9 534.6L377.6 536.4L377.3 538.1L377.0 539.8L376.6 541.5L376.1 543.2Z" fill="#c0262c" fill-opacity="0.4"/>
<path d="M376.1 458.4h0m-3.6 11h0m2.4 2.7h0m-4.8 3h0m2.4 2.8h0m8.3 6.3h0m-2.4 .4h0m0 5h0m-7 .9h0m9.4 3.7h0m-11.8 7.3h0m3.8 2.9h0m-2.2 1.2h0m.8 1.6h0m8.3 2.4h0m-4.8 14.2h0m-2.4 3h0m2.4 2h0" stroke="#c0262c" stroke-opacity="0.38" stroke-width="4.6" stroke-linecap="round" fill="none"/>
<path d="M376.1 453.7h0m-2.4 3.4h0m4.8 2.3h0m-2.4 2.3h0m-3.6 2.2h0m8.4 7.3h0m-1.2 3.3h0m-7.2 2.3h0m2.4 2.8h0m4.8 1.7h0m-8.3 .5h0m2.3 .8h0m7.6 7.3h0m-.5 .9h0m-12.3 1.3h0m12.8 2.7h0m-6.4 .9h0m3.5 5.2h0m2.9 3.7h0m-5.2 3.1h0m-6 1.3h0m7.2 1.8h0m-7.2 1.3h0m4.8 .4h0m2.4 1.1h0m1.2 1h0m-1.2 7.2h0m-4.8 1.2h0" stroke="#c0262c" stroke-opacity="0.38" stroke-width="4.6" stroke-linecap="round" fill="none"/>
<path d="M374.9 413.6h0m0 24.7h0m-1.2 22.5h0m4.8 2.2h0m-3.6 5.6h0m2.4 8.9h0m-1.2 6h0m-2.4 2.2h0m7.6 .6h0m-7.6 3.8h0m2.4 5.3h0m-7.6 1.8h0m6.4 8.3h0m-4.8 4.6h0m3.6 5.2h0m0 1.1h0m-2.4 .4h0m3.6 5.5h0m0 14.4h0" stroke="#c0262c" stroke-opacity="0.38" stroke-width="4.6" stroke-linecap="round" fill="none"/>
<path d="M377.3 478.4h0m4 4.5h0m-5.2 8.2h0m.9 .6h0m-6.4 4.9h0m2.2 2.1h0m-.3 9.7h0m0 2.1h0m6 5.4h0" stroke="#c0262c" stroke-opacity="0.38" stroke-width="4.6" stroke-linecap="round" fill="none"/>
<path d="M378.5 455.0h0m-2.4 .7h0m-1.2 10.2h0m2.4 6.5h0m-2.4 4h0m-4.8 4.3h0m1.3 6.2h0m7.8 10h0m2.1 1.1h0m-9.9 2.6h0m8.3 12.1h0m-4.8 29.5h0" stroke="#c0262c" stroke-opacity="0.38" stroke-width="4.6" stroke-linecap="round" fill="none"/>
<path d="M373.7 448.1h0m3.6 20h0m-2.4 5.6h0m2.4 6.7h0m-2.4 .6h0m-3.5 4.3h0m7 1.3h0m0 4.8h0m.8 1h0m-4.3 .6h0m-1.2 1.4h0m7.6 2h0m-8.5 1.1h0m3.3 4.9h0m3.1 1.4h0m1.6 2.2h0m-3.5 3.3h0m1.2 8.5h0m-1.2 2.1h0" stroke="#c0262c" stroke-opacity="0.38" stroke-width="4.6" stroke-linecap="round" fill="none"/>
<path d="M374.9 445.1h0m4.8 30.9h0m-9.6 1.1h0m10.7 5.2h0m-7.1 5.4h0m-3.1 5h0m4.3 6.8h0m-1.2 .5h0m0 3h0m-5.2 1h0m8.5 1h0m-3.3 1.3h0m2.4 11.1h0m-2.4 1.5h0m7.2 .5h0m-7.2 14.1h0m1.2 1.4h0" stroke="#c0262c" stroke-opacity="0.38" stroke-width="4.6" stroke-linecap="round" fill="none"/>
<path d="M374.9 440.3h0m1.2 9.2h0m-1.2 15.4h0m2.4 10.7h0m-4.8 4.3h0m-3.5 5.1h0m7.1 2.4h0m-2.4 1.2h0m-.9 5h0m-4.3 4.2h0m10.7 .7h0m-7.8 4.3h0m3.5 5.4h0m0 3.3h0m6 3.6h0m-4.8 3.4h0m-3.6 2.1h0m0 3.7h0m4.8 .9h0m-1.2 4.5h0m2.4 .8h0" stroke="#c0262c" stroke-opacity="0.38" stroke-width="4.6" stroke-linecap="round" fill="none"/>
<path d="M374.9 418.4h0m0 33h0m1.2 11.1h0m-3.6 4.3h0m0 7.2h0m7.2 5.1h0m-3.6 4.9h0m4.7 1.9h0m-9.4 1.9h0m4.7 .5h0m-7.1 .7h0m8 7.1h0m-6.4 2.9h0m6.4 .3h0m-.9 1h0m5.2 3.2h0m-5.2 10.7h0m-1.2 7.2h0m0 4.5h0m2.4 1.8h0m-1.2 4.5h0m-1.2 7.5h0" stroke="#c0262c" stroke-opacity="0.38" stroke-width="4.6" stroke-linecap="round" fill="none"/>
<path d="M377.3 465.6h0m0 1.8h0m1.2 2.4h0m-4.8 .8h0m2.4 .9h0m-3.6 1.7h0m-2.4 5.6h0m8.3 4.4h0m2.4 6h0m.5 4h0m-9.9 .7h0m7 1.2h0m2.4 6.1h0m-2.4 .7h0m2.4 .3h0m-2.4 4.5h0m2.9 .7h0m-1.6 3.7h0m-7.2 2h0m2.4 24.8h0m0 6.9h0" stroke="#c0262c" stroke-opacity="0.38" stroke-width="4.6" stroke-linecap="round" fill="none"/>
<path d="M394.4 517.3L394.0 515.4L393.7 513.5L393.4 511.6L393.0 509.7L392.7 507.8L392.4 506.0L392.1 504.1L391.8 502.2L391.5 500.3L391.2 498.4L390.9 496.5L390.5 494.6L390.2 492.7L389.8 490.8L389.6 488.9L389.6 487.0L389.6 485.1L389.6 483.2L389.6 481.3L389.6 479.4L389.6 477.5L389.6 475.6L389.6 473.7L389.6 471.8L389.6 469.9L389.6 468.0L389.6 466.1L389.6 464.2L389.6 462.3L389.6 460.4L389.6 458.5L389.6 456.6L389.6 454.7L389.6 452.8L389.6 451.0L389.6 449.1L389.6 447.2L389.6 445.3L389.6 443.4L389.6 441.5L389.6 439.6L389.6 437.7L389.6 435.8L389.8 433.9L390.1 432.0L390.4 430.1L390.7 428.2L391.0 426.3L391.4 424.4L391.7 422.5L392.0 420.6L392.3 418.7L392.6 416.8L392.9 414.9L393.2 413.0L393.4 411.1L393.7 409.2L394.0 407.3L394.3 405.4L396.6 406.4L396.9 408.3L397.2 410.2L397.5 412.1L397.8 414.0L398.1 415.9L398.4 417.8L398.7 419.7L399.0 421.6L399.3 423.5L399.6 425.3L399.9 427.2L400.2 429.1L400.6 431.0L400.9 432.9L401.2 434.8L401.2 436.7L401.2 438.6L401.2 440.5L401.2 442.4L401.2 444.3L401.2 446.2L401.2 448.1L401.2 450.0L401.2 451.9L401.2 453.8L401.2 455.7L401.2 457.6L401.2 459.5L401.2 461.4L401.2 463.3L401.2 465.2L401.2 467.1L401.2 469.0L401.2 470.9L401.2 472.8L401.2 474.7L401.2 476.6L401.2 478.5L401.2 480.3L401.2 482.2L401.2 484.1L401.2 486.0L401.2 487.9L401.1 489.8L400.8 491.7L400.5 493.6L400.1 495.5L399.8 497.4L399.5 499.3L399.1 501.2L398.8 503.1L398.6 505.0L398.2 506.9L397.9 508.8L397.6 510.7L397.3 512.6L396.9 514.5L396.6 516.4Z" fill="#ff5a50" fill-opacity="0.4"/>
<path d="M395.4 385.6h0m6 50.1h0m-7.2 1.6h0m0 6.6h0m1.2 8.6h0m4.8 1.5h0m-3.6 1.5h0m-2.4 6.1h0m2.4 4.1h0m5.2 7.7h0m-4 2.8h0m2.4 .5h0m-3.6 6.3h0m3.6 4.3h0m-4.8 12.1h0m0 12.3h0" stroke="#ff5a50" stroke-opacity="0.38" stroke-width="4.6" stroke-linecap="round" fill="none"/>
<path d="M395.4 405.2h0m0 2h0m1.2 7.8h0m-1.2 1.2h0m0 2h0m-2.4 14.2h0m7.2 9h0m-3.6 .4h0m0 2.3h0m-3.6 1.9h0m1.2 5.4h0m-3.6 .8h0m7.2 .7h0m-1.2 8.3h0m0 .7h0m-2.4 10.7h0m-3.6 1.6h0m4.8 4.7h0m-2.4 4.7h0m0 10.3h0m2.4 10.4h0m3.6 4.8h0" stroke="#ff5a50" stroke-opacity="0.38" stroke-width="4.6" stroke-linecap="round" fill="none"/>
<path d="M393.0 434.2h0m0 3.6h0m4.8 1.7h0m-2.4 .6h0m4.8 7h0m1.2 2.5h0m-10.8 4.7h0m10.8 3.2h0m-4.8 .3h0m2.4 4.9h0m1.2 17.3h0m-4.8 37.4h0m0 4.8h0" stroke="#ff5a50" stroke-opacity="0.38" stroke-width="4.6" stroke-linecap="round" fill="none"/>
<path d="M395.4 419.7h0m1.2 7.1h0m-1.2 6.7h0m2.4 1.6h0m1.2 1.7h0m-3.6 1.6h0m-3.6 18.1h0m2.4 8.5h0m7.2 1.6h0m-7.2 1.3h0m-2.4 1.1h0m1.2 8.3h0m6 18.3h0m-3.6 5.3h0m0 14.4h0" stroke="#ff5a50" stroke-opacity="0.38" stroke-width="4.6" stroke-linecap="round" fill="none"/>
<path d="M395.4 398.1h0m0 11.8h0m1.2 12.5h0m-4.8 20.8h0m0 6.8h0m8.4 3.3h0m-6 5.5h0m4.8 7.1h0m-7.2 1.2h0m7.2 1.7h0m-3.6 5.5h0m2.4 .5h0m2.4 2.7h0m-9.6 .9h0m2.4 .9h0m1.2 2.9h0m3.6 4.6h0m-4.8 1.1h0" stroke="#ff5a50" stroke-opacity="0.38" stroke-width="4.6" stroke-linecap="round" fill="none"/>
<path d="M396.6 427.8h0m-3.6 2.2h0m3.6 6h0m-1.2 9.5h0m-4.8 .9h0m7.2 2h0m-4.8 3.5h0m2.4 3.2h0m-6 4h0m12.4 .8h0m-10 2.4h0m7.2 1.3h0m-8.4 12.2h0m0 3.8h0m0 6.8h0m6 15.7h0" stroke="#ff5a50" stroke-opacity="0.38" stroke-width="4.6" stroke-linecap="round" fill="none"/>
<path d="M394.2 413.5h0m0 8.1h0m0 3.9h0m4.8 2.6h0m-1.2 10.8h0m-7.2 1.4h0m0 7.4h0m8.4 3.1h0m-2.4 .2h0m2.4 6.2h0m-4.8 3.3h0m2.4 4.2h0m-2.4 1.6h0m2.4 2.1h0m-1.2 1.4h0m-3.6 2.2h0m3.6 12.7h0m0 .7h0m0 5h0m2.4 .6h0m-1.2 5.3h0" stroke="#ff5a50" stroke-opacity="0.38" stroke-width="4.6" stroke-linecap="round" fill="none"/>
<path d="M399.0 423.6h0m-1.2 9.3h0m1.2 11.8h0m2.4 .4h0m-3.6 1.7h0m-2.4 2h0m-1.2 7.4h0m4.8 2.1h0m2.4 5.1h0m-9.6 2h0m1.2 4.9h0m-2.4 .7h0m10.8 .5h0m-1.2 3.7h0m-2.4 2.9h0m0 2.8h0m-2.4 7.7h0m-2.4 1.3h0m3.6 1.8h0m-1.2 3h0m2.4 3.6h0m-3.6 5h0" stroke="#ff5a50" stroke-opacity="0.38" stroke-width="4.6" stroke-linecap="round" fill="none"/>
<path d="M395.4 397.0h0m2.4 32.4h0m-2.4 2.2h0m-2.4 9.4h0m1.2 1.5h0m4.8 .4h0m1.2 5.1h0m-10.8 2.5h0m12 6.3h0m-9.6 1.7h0m9.6 2.4h0m0 3.1h0m-3.6 6.1h0m-4.8 3.6h0m2.4 6.7h0m-2.4 .9h0m4.8 2.8h0m-4.8 1.8h0m4.8 7.6h0m-4.8 4.2h0m2.4 8.9h0m1.2 1h0" stroke="#ff5a50" stroke-opacity="0.38" stroke-width="4.6" stroke-linecap="round" fill="none"/>
<path d="M396.6 424.5h0m-1.2 6.5h0m-2.4 18.1h0m4.8 4.6h0m-4.8 1.1h0m8.8 1h0m-10 3.7h0m7.2 .7h0m-9.6 2.8h0m12.4 1.3h0m-12.4 2.9h0m12 .4h0m.4 1.7h0m-1.6 1.4h0m-3.6 1.6h0m2.4 .6h0m-3.6 2.6h0m-3.6 6.5h0m7.2 1.1h0m-1.2 6h0m1.2 3.4h0" stroke="#ff5a50" stroke-opacity="0.38" stroke-width="4.6" stroke-linecap="round" fill="none"/>
<path d="M414.5 546.9L414.1 545.3L413.7 543.6L413.4 542.0L413.0 540.4L412.7 538.7L412.4 537.1L412.1 535.4L411.7 533.8L411.4 532.2L411.1 530.5L410.7 528.9L410.4 527.3L410.1 525.6L409.8 524.0L409.8 522.4L409.8 520.7L409.8 519.1L409.8 517.5L409.8 515.8L409.8 514.2L409.8 512.6L409.8 510.9L409.8 509.3L409.8 507.7L409.8 506.0L409.8 504.4L409.8 502.7L409.8 501.1L409.8 499.5L409.8 497.8L409.8 496.2L409.8 494.6L409.8 492.9L409.8 491.3L409.8 489.7L409.8 488.0L409.8 486.4L409.8 484.8L409.8 483.1L409.8 481.5L409.8 479.9L410.0 478.2L410.3 476.6L410.6 474.9L411.0 473.3L411.3 471.7L411.6 470.0L412.0 468.4L412.3 466.8L412.7 465.1L413.1 463.5L413.4 461.9L413.8 460.2L414.2 458.6L414.6 457.0L416.9 458.3L417.3 460.0L417.7 461.6L418.1 463.2L418.5 464.9L418.8 466.5L419.2 468.1L419.5 469.8L419.8 471.4L420.2 473.0L420.5 474.7L420.8 476.3L421.1 477.9L421.4 479.6L421.4 481.2L421.4 482.8L421.4 484.5L421.4 486.1L421.4 487.8L421.4 489.4L421.4 491.0L421.4 492.7L421.4 494.3L421.4 495.9L421.4 497.6L421.4 499.2L421.4 500.8L421.4 502.5L421.4 504.1L421.4 505.7L421.4 507.4L421.4 509.0L421.4 510.6L421.4 512.3L421.4 513.9L421.4 515.6L421.4 517.2L421.4 518.8L421.4 520.5L421.4 522.1L421.4 523.7L421.2 525.4L420.9 527.0L420.5 528.6L420.2 530.3L419.9 531.9L419.5 533.5L419.2 535.2L418.9 536.8L418.5 538.4L418.2 540.1L417.9 541.7L417.6 543.4L417.2 545.0L416.8 546.6Z" fill="#0a6e32" fill-opacity="0.4"/>
<path d="M415.6 415.5h0m0 44.7h0m2.4 22.6h0m0 3.5h0m3.5 5.3h0m-7.9 8.5h0m2 .5h0m1.1 11.6h0m-2.3 6.2h0m3.6 10.3h0m1.2 5.4h0m-2.4 3.6h0" stroke="#0a6e32" stroke-opacity="0.38" stroke-width="4.6" stroke-linecap="round" fill="none"/>
<path d="M415.6 465.2h0m0 4.7h0m-5.5 22.8h0m-.4 4.1h0m3.9 .5h0m6.6 2h0m1.8 .4h0m-12.3 2.6h0m2.6 6.5h0m6.6 .6h0m.7 .5h0m-8 1.5h0m.7 4h0m4.5 3.6h0m1.2 2.6h0m-3.6 .8h0m-1.2 5h0" stroke="#0a6e32" stroke-opacity="0.38" stroke-width="4.6" stroke-linecap="round" fill="none"/>
<path d="M415.6 468.6h0m0 13.5h0m4.8 2.3h0m-9.6 .9h0m10.3 3.2h0m-4.4 5.2h0m-1.1 2.3h0m2 .5h0m-6 1.1h0m6.7 .7h0m-4.7 4.9h0m8.4 4.6h0m-.9 1.3h0m.9 4.9h0m-5.3 2.5h0m-2.3 15.7h0m2.4 .9h0m0 2.3h0m-1.2 5.5h0m1.2 1.2h0m-1.2 5.4h0m0 1.1h0" stroke="#0a6e32" stroke-opacity="0.38" stroke-width="4.6" stroke-linecap="round" fill="none"/>
<path d="M415.6 452.9h0m2.4 17.5h0m0 2.7h0m0 3.1h0m-2.4 1h0m1.2 .8h0m-2.4 1.7h0m0 1.3h0m-1.2 3.8h0m0 2h0m-3.1 2.2h0m3.5 1.2h0m7.5 2.1h0m-5.5 1.9h0m4 .5h0m-9.9 6.3h0m5.9 3.8h0m5.9 5.4h0m-9.2 2.9h0m6.6 1.9h0m-4.4 .8h0m-4.4 .4h0m5.5 4.4h0m-3.6 4.9h0m3.6 .6h0" stroke="#0a6e32" stroke-opacity="0.38" stroke-width="4.6" stroke-linecap="round" fill="none"/>
<path d="M413.2 472.4h0m6 6.2h0m0 1.4h0m-1.2 5.8h0m2.4 1.3h0m-4.8 .4h0m-5.9 2.5h0m9.9 .7h0m-4 1.1h0m-5.9 2.7h0m6.8 3.5h0m-5.5 .4h0m1.9 .6h0m4.7 1.4h0m3.9 2.5h0m-1.3 3h0m-10.5 4.7h0m11.4 2.9h0m-8.8 3.8h0m8.1 2.7h0m-6 3.9h0m-1.2 4.3h0m0 2.4h0m1.2 5.5h0" stroke="#0a6e32" stroke-opacity="0.38" stroke-width="4.6" stroke-linecap="round" fill="none"/>
<path d="M419.2 463.7h0m0 3h0m-3.6 6.9h0m2.4 1h0m-7.2 11.6h0m1.5 1.8h0m0 4h0m9.7 6.8h0m-11 7.7h0m5.5 .2h0m-.9 4.6h0m1.1 3.2h0m2.2 3.4h0m-5.7 2.6h0m8.4 1.6h0" stroke="#0a6e32" stroke-opacity="0.38" stroke-width="4.6" stroke-linecap="round" fill="none"/>
<path d="M415.6 423.2h0m0 26.4h0m0 7.2h0m1.2 5.5h0m-4.8 19.3h0m-1.2 2.2h0m5.9 4.5h0m-2.2 1.3h0m-2.9 11.6h0m9.9 .5h0m-5.9 .3h0m-4 1.3h0m9.9 2.1h0m-11.4 4.3h0m0 3.1h0m8.8 .9h0m-8.1 7.6h0m6 2.2h0m-1.2 5.7h0m3.6 14.3h0" stroke="#0a6e32" stroke-opacity="0.38" stroke-width="4.6" stroke-linecap="round" fill="none"/>
<path d="M416.8 467.6h0m3.6 15.6h0m-2.8 7.3h0m0 3.5h0m-4 1h0m7.9 .4h0m-9.9 .3h0m9.9 .6h0m-6.8 3.5h0m2.9 3.9h0m-6 .8h0m3.1 2.5h0m-1.1 3.9h0m.9 5.9h0m4.7 6.1h0m-1.2 7.1h0m-2.4 1.7h0" stroke="#0a6e32" stroke-opacity="0.38" stroke-width="4.6" stroke-linecap="round" fill="none"/>
<path d="M413.2 471.3h0m0 3.8h0m2.4 .6h0m-2.4 1.8h0m8.4 1.6h0m-4.8 1.5h0m-3.6 2h0m2.4 1.4h0m-4 7.1h0m7.3 2h0m-4.4 .3h0m5.1 9.2h0m-6 1.4h0m-3.9 .2h0m9.9 1.4h0m-5.1 2.6h0m3.1 3.6h0m3.5 3h0m0 2.8h0m.5 1.2h0m-2.4 .6h0" stroke="#0a6e32" stroke-opacity="0.38" stroke-width="4.6" stroke-linecap="round" fill="none"/>
<path d="M415.6 380.7h0m3.3 108.4h0m.7 7.9h0m0 4.6h0m-2 3.4h0m.7 1.2h0m-5.4 1.2h0m9.1 .3h0m-5.3 .7h0m-2.2 3.9h0m4.7 12.1h0m-2.4 .6h0m1.2 1.8h0m-2.4 11.8h0" stroke="#0a6e32" stroke-opacity="0.38" stroke-width="4.6" stroke-linecap="round" fill="none"/>
<path d="M435.4 524.0L435.0 522.0L434.6 520.0L434.3 518.1L434.0 516.1L433.7 514.1L433.4 512.2L433.0 510.2L432.7 508.2L432.3 506.3L432.0 504.3L431.7 502.3L431.3 500.4L431.0 498.4L430.7 496.5L430.6 494.5L430.6 492.5L430.6 490.6L430.6 488.6L430.6 486.6L430.6 484.7L430.6 482.7L430.6 480.7L430.6 478.8L430.6 476.8L430.6 474.8L430.6 472.9L430.6 470.9L430.6 469.0L430.6 467.0L430.6 465.0L430.6 463.1L430.6 461.1L430.6 459.1L430.6 457.2L430.6 455.2L430.6 453.2L430.6 451.3L430.6 449.3L430.6 447.3L430.6 445.4L430.6 443.4L430.7 441.5L431.0 439.5L431.3 437.5L431.6 435.6L431.9 433.6L432.3 431.6L432.6 429.7L432.9 427.7L433.3 425.7L433.6 423.8L433.9 421.8L434.2 419.8L434.5 417.9L434.8 415.9L435.1 414.0L435.4 412.0L437.7 413.6L438.0 415.6L438.3 417.6L438.6 419.5L438.9 421.5L439.2 423.5L439.5 425.4L439.8 427.4L440.1 429.3L440.5 431.3L440.8 433.3L441.1 435.2L441.5 437.2L441.8 439.2L442.1 441.1L442.2 443.1L442.2 445.1L442.2 447.0L442.2 449.0L442.2 450.9L442.2 452.9L442.2 454.9L442.2 456.8L442.2 458.8L442.2 460.8L442.2 462.7L442.2 464.7L442.2 466.7L442.2 468.6L442.2 470.6L442.2 472.6L442.2 474.5L442.2 476.5L442.2 478.4L442.2 480.4L442.2 482.4L442.2 484.3L442.2 486.3L442.2 488.3L442.2 490.2L442.2 492.2L442.2 494.2L442.2 496.1L441.8 498.1L441.5 500.1L441.2 502.0L440.9 504.0L440.5 505.9L440.2 507.9L439.8 509.9L439.5 511.8L439.2 513.8L438.9 515.8L438.6 517.7L438.3 519.7L437.9 521.7L437.5 523.6Z" fill="#3cb44b" fill-opacity="0.4"/>
<path d="M437.6 425.9h0m-1.2 4.4h0m3.6 5.5h0m-6 1.6h0m2.4 2.9h0m3.6 3.7h0m-1.2 1.5h0m0 2.3h0m-2.4 .8h0m1.2 13.3h0m4.7 8.8h0m-10.7 10.6h0m9.6 .4h0m-2.4 16.6h0m-4.8 2.4h0m6 6.5h0" stroke="#3cb44b" stroke-opacity="0.38" stroke-width="4.6" stroke-linecap="round" fill="none"/>
<path d="M437.6 433.6h0m-2.4 .6h0m-2.4 15.4h0m3.6 4.2h0m4.8 4.5h0m-4.8 .9h0m2.4 3.7h0m-2.4 1.2h0m-6.4 4.3h0m5.2 7h0m7.1 1.1h0m-11.8 .5h0m3.5 3.9h0m3.6 13.5h0m-2.4 7h0m4.8 1.6h0m-3.6 15.3h0m0 13.2h0" stroke="#3cb44b" stroke-opacity="0.38" stroke-width="4.6" stroke-linecap="round" fill="none"/>
<path d="M440.0 412.6h0m-3.6 9.1h0m-2.4 17.2h0m4.8 .9h0m0 1.4h0m2.4 6.1h0m-3.6 4.5h0m-3.6 1.4h0m5.9 3.4h0m0 4.3h0m-4.7 .2h0m-2.3 .5h0m8.3 1.8h0m-10.7 2.4h0m8 1.2h0m.3 3.3h0m-3.6 1.9h0m-2.3 3.6h0m1.1 7.8h0m-2.4 3h0m6 .8h0m-4.8 2.3h0m0 3.7h0m1.2 2.8h0" stroke="#3cb44b" stroke-opacity="0.38" stroke-width="4.6" stroke-linecap="round" fill="none"/>
<path d="M436.4 385.6h0m1.2 49.2h0m-1.2 1.9h0m0 4.9h0m1.2 29.6h0m2.3 1.1h0m-7 1.5h0m7 3.8h0m-2.3 .3h0m-6 1.9h0m9.6 .4h0m-2.4 3.1h0m-3.6 4.5h0m4.8 5.2h0m-6 4.5h0m4.8 1.5h0" stroke="#3cb44b" stroke-opacity="0.38" stroke-width="4.6" stroke-linecap="round" fill="none"/>
<path d="M436.4 401.6h0m0 2.3h0m1.2 6.9h0m0 6.3h0m-2.4 1.5h0m2.4 12.9h0m0 12.9h0m-3.6 3.9h0m3.6 1h0m2.4 1.1h0m-2.4 5.3h0m-4.7 .2h0m-1.3 1.5h0m10.7 4.9h0m0 3.7h0m-1.6 .7h0m-4.3 2.8h0m-4.8 .2h0m8.3 6.6h0m-3.5 6.6h0m2.4 2.7h0m-3.6 3.3h0m3.6 6.3h0m-2.4 1.7h0m0 15.4h0m0 1.9h0" stroke="#3cb44b" stroke-opacity="0.38" stroke-width="4.6" stroke-linecap="round" fill="none"/>
<path d="M437.6 428.6h0m2.4 4h0m-3.6 13.6h0m-4.8 .6h0m8.4 5.6h0m-.1 12.4h0m-3.5 2.5h0m-2.1 .3h0m8.5 1.1h0m-.5 5.8h0m-3.5 4.5h0m-2.4 1.6h0m-4.8 4h0m4.8 1.6h0m3.6 .8h0m-2.4 2.3h0m-2.4 1.6h0m7.2 .3h0m-4.8 .6h0m-1.2 24.1h0" stroke="#3cb44b" stroke-opacity="0.38" stroke-width="4.6" stroke-linecap="round" fill="none"/>
<path d="M436.4 422.9h0m3.6 4.6h0m-4.8 23.4h0m7.6 3.9h0m-11.2 8.8h0m1.3 1.7h0m2.3 7.9h0m-4.7 .9h0m12.3 .6h0m-9.9 2.5h0m9.4 1.2h0m.1 10h0m-6 7.4h0m0 3.9h0m1.2 4.3h0m-1.2 18.3h0" stroke="#3cb44b" stroke-opacity="0.38" stroke-width="4.6" stroke-linecap="round" fill="none"/>
<path d="M435.2 425.1h0m0 17.7h0m7.2 .4h0m-8.4 1.9h0m4.8 8.6h0m3.5 1.5h0m-10.2 12.9h0m10.7 3.7h0m-2.9 1.1h0m-1.1 9.5h0m-3.6 11.5h0m0 12.1h0m2.4 2h0m-1.2 11.7h0m0 9h0" stroke="#3cb44b" stroke-opacity="0.38" stroke-width="4.6" stroke-linecap="round" fill="none"/>
<path d="M438.8 438.5h0m-4.8 3.7h0m1.2 7.7h0m7.2 1.4h0m-7.2 5h0m-1.2 .8h0m7.2 1.9h0m-9.6 .7h0m7.2 .7h0m-8.3 2.2h0m10.7 6.5h0m-7.2 .9h0m3.6 3.5h0m-2.4 5.1h0m-1.2 .7h0m2.4 2.7h0m4.8 2.1h0m-7.2 .6h0m7.2 .6h0m-3.6 16.8h0m0 2.6h0" stroke="#3cb44b" stroke-opacity="0.38" stroke-width="4.6" stroke-linecap="round" fill="none"/>
<path d="M431.6 452.7h0m9.6 1.6h0m-4.8 3.5h0m2.4 .8h0m-4.8 1.4h0m0 4.3h0m1.2 .7h0m2.4 1.4h0m-4.7 5.1h0m4.7 3.6h0m2.4 15h0m0 2.2h0m-4.8 16.7h0m2.4 1.2h0" stroke="#3cb44b" stroke-opacity="0.38" stroke-width="4.6" stroke-linecap="round" fill="none"/>
<path d="M465.1 554.2L464.5 552.8L464.0 551.4L463.6 550.0L463.2 548.5L462.8 547.1L462.4 545.7L462.0 544.3L461.6 542.9L461.2 541.4L460.8 540.0L460.4 538.6L460.3 537.2L460.3 535.7L460.3 534.3L460.3 532.9L460.3 531.5L460.3 530.0L460.3 528.6L460.3 527.2L460.3 525.8L460.3 524.4L460.3 522.9L460.3 521.5L460.3 520.1L460.3 518.7L460.3 517.2L460.3 515.8L460.3 514.4L460.3 513.0L460.3 511.6L460.3 510.1L460.3 508.7L460.3 507.3L460.3 505.9L460.3 504.4L460.5 503.0L460.9 501.6L461.2 500.2L461.6 498.8L462.0 497.3L462.3 495.9L462.7 494.5L463.0 493.1L463.4 491.6L463.7 490.2L464.1 488.8L464.5 487.4L465.0 486.0L467.5 486.7L467.9 488.1L468.3 489.5L468.6 490.9L469.0 492.4L469.4 493.8L469.7 495.2L470.1 496.6L470.4 498.0L470.8 499.5L471.1 500.9L471.5 502.3L471.9 503.7L471.9 505.2L471.9 506.6L471.9 508.0L471.9 509.4L471.9 510.8L471.9 512.3L471.9 513.7L471.9 515.1L471.9 516.5L471.9 518.0L471.9 519.4L471.9 520.8L471.9 522.2L471.9 523.6L471.9 525.1L471.9 526.5L471.9 527.9L471.9 529.3L471.9 530.8L471.9 532.2L471.9 533.6L471.9 535.0L471.9 536.4L471.9 537.9L471.6 539.3L471.2 540.7L470.8 542.1L470.4 543.6L470.0 545.0L469.6 546.4L469.2 547.8L468.8 549.3L468.4 550.7L467.9 552.1L467.4 553.5Z" fill="#2a2a2a" fill-opacity="0.4"/>
<path d="M463.7 491.0h0m4.8 .6h0m0 5h0m.2 14.7h0m0 1.8h0m.6 2.8h0m-3.2 .7h0m-3.2 1.8h0m1.6 .8h0m-4.8 7h0m3.2 2.7h0m1.3 3.4h0m-1.2 1.1h0m8.2 1.9h0m-.5 2h0m-2.3 .6h0m-2.3 4.1h0m1.2 6.6h0" stroke="#2a2a2a" stroke-opacity="0.38" stroke-width="4.6" stroke-linecap="round" fill="none"/>
<path d="M466.1 467.7h0m0 18h0m0 9.3h0m-2.4 .8h0m3.6 1.8h0m-5.8 3.6h0m8.2 3.5h0m-4.6 .3h0m6.1 1.3h0m-2 2.2h0m-4.7 7.6h0m3.2 .3h0m1.6 2.4h0m-9.6 2.4h0m6.4 .9h0m4.8 1.8h0m-6.4 .2h0m1.6 1.3h0m-3.2 1.3h0m3.2 1.4h0m6.4 .2h0m-12.8 .4h0m9 .5h0m1.7 .4h0m-8.9 9h0m6.9 .4h0m-4.7 3.6h0m0 2.2h0m1.2 2.8h0" stroke="#2a2a2a" stroke-opacity="0.38" stroke-width="4.6" stroke-linecap="round" fill="none"/>
<path d="M462.4 509.0h0m-2.3 2h0m1.7 1h0m3.4 .6h0m7.3 3.2h0m0 2.2h0m-9.6 1.8h0m6.4 3h0m-8 3h0m3.2 .3h0m5.3 5.9h0m-7.4 .9h0m.6 2h0m2.1 1.1h0m-3.6 4.1h0m7 3.8h0m-1.2 7.6h0" stroke="#2a2a2a" stroke-opacity="0.38" stroke-width="4.6" stroke-linecap="round" fill="none"/>
<path d="M471.2 507.4h0m-11.5 9.7h0m4.8 .2h0m6.4 .3h0m-3.2 .2h0m3.2 1.3h0m-11.2 1.2h0m4.8 2.2h0m3.2 .4h0m-8 1.8h0m4.1 12.3h0m6.9 3.4h0m-1 5h0" stroke="#2a2a2a" stroke-opacity="0.38" stroke-width="4.6" stroke-linecap="round" fill="none"/>
<path d="M466.1 451.2h0m0 9.7h0m-1.2 42.5h0m2.4 .5h0m-.3 7.6h0m3.4 .9h0m-7.5 3.1h0m5.1 15.9h0m3.7 .4h0m-6.8 20.8h0" stroke="#2a2a2a" stroke-opacity="0.38" stroke-width="4.6" stroke-linecap="round" fill="none"/>
<path d="M466.1 489.7h0m0 4.7h0m3.6 3.6h0m-7.2 6.3h0m2.6 2.9h0m-.9 2.4h0m-2.4 4.5h0m7.5 6.2h0m-1.6 2h0m1.6 2h0m-1.6 1.3h0m-4.2 5h0m9 2.4h0m-6.4 5.3h0m2.4 3.4h0" stroke="#2a2a2a" stroke-opacity="0.38" stroke-width="4.6" stroke-linecap="round" fill="none"/>
<path d="M466.1 492.9h0m1.2 6.5h0m1.1 3h0m-1.3 3.6h0m.9 3.4h0m-6.7 5.6h0m-1.6 1.9h0m1.6 3.1h0m8 4.9h0m1.6 .2h0m-1.6 2h0m-1.6 .8h0m-2.5 2.2h0m6 4.5h0m-10.2 1.8h0m6.1 .4h0m-1 12.8h0" stroke="#2a2a2a" stroke-opacity="0.38" stroke-width="4.6" stroke-linecap="round" fill="none"/>
<path d="M462.5 498.9h0m7.2 1.5h0m-8.7 8.3h0m-.5 1.2h0m5.6 .6h0m6 2.3h0m.4 1.7h0m-11.2 3.8h0m11.2 2.2h0m-9.6 .5h0m8 .5h0m-9.6 2.1h0m3.2 3.4h0m.6 6.9h0m1 20.7h0" stroke="#2a2a2a" stroke-opacity="0.38" stroke-width="4.6" stroke-linecap="round" fill="none"/>
<path d="M466.1 487.7h0m3.1 17.5h0m-2.1 2.9h0m4.6 2.1h0m.4 3.1h0m-1.7 1h0m.5 .9h0m-9.6 6.5h0m11.2 .2h0m0 1.3h0m0 3.2h0m-1.6 1h0m1.2 3h0m-6 .7h0m3.1 2.6h0m0 1.8h0m-5.4 4.2h0m2.3 1.2h0m1.2 5.5h0" stroke="#2a2a2a" stroke-opacity="0.38" stroke-width="4.6" stroke-linecap="round" fill="none"/>
<path d="M466.1 475.5h0m0 5.4h0m-1.2 19h0m-1.1 1.7h0m2.3 .3h0m4.6 .9h0m1.8 2.9h0m-9.5 1.2h0m0 .9h0m6.8 3h0m-6.3 1h0m3.5 1.8h0m-1.8 .3h0m-1.7 .8h0m2.6 4h0m0 .8h0m1.6 1.3h0m-1.6 2.6h0m-3.2 1.1h0m-1.6 3.2h0m5.7 1.6h0m5.5 .5h0m-10.7 1h0m-1.3 1.6h0m6.6 1.9h0m-1 9.1h0" stroke="#2a2a2a" stroke-opacity="0.38" stroke-width="4.6" stroke-linecap="round" fill="none"/>
<path d="M485.5 551.0L485.0 549.5L484.6 548.0L484.2 546.6L483.8 545.1L483.5 543.6L483.1 542.2L482.8 540.7L482.4 539.3L482.1 537.8L481.7 536.3L481.4 534.9L481.0 533.4L480.7 532.0L480.7 530.5L480.7 529.0L480.7 527.6L480.7 526.1L480.7 524.7L480.7 523.2L480.7 521.7L480.7 520.3L480.7 518.8L480.7 517.3L480.7 515.9L480.7 514.4L480.7 513.0L480.7 511.5L480.7 510.0L480.7 508.6L480.7 507.1L480.7 505.7L480.7 504.2L480.7 502.7L480.7 501.3L480.7 499.8L480.7 498.4L480.7 496.9L480.7 495.4L480.7 494.0L480.8 492.5L481.1 491.0L481.5 489.6L481.8 488.1L482.1 486.7L482.5 485.2L482.8 483.7L483.2 482.3L483.5 480.8L483.8 479.4L484.1 477.9L484.5 476.4L484.8 475.0L485.1 473.5L487.5 472.3L487.9 473.8L488.3 475.2L488.6 476.7L488.9 478.1L489.2 479.6L489.6 481.1L489.9 482.5L490.2 484.0L490.6 485.4L490.9 486.9L491.3 488.4L491.6 489.8L491.9 491.3L492.2 492.8L492.3 494.2L492.3 495.7L492.3 497.1L492.3 498.6L492.3 500.1L492.3 501.5L492.3 503.0L492.3 504.4L492.3 505.9L492.3 507.4L492.3 508.8L492.3 510.3L492.3 511.7L492.3 513.2L492.3 514.7L492.3 516.1L492.3 517.6L492.3 519.1L492.3 520.5L492.3 522.0L492.3 523.4L492.3 524.9L492.3 526.4L492.3 527.8L492.3 529.3L492.3 530.7L492.3 532.2L491.9 533.7L491.6 535.1L491.2 536.6L490.9 538.0L490.5 539.5L490.2 541.0L489.8 542.4L489.5 543.9L489.1 545.3L488.8 546.8L488.4 548.3L488.0 549.7Z" fill="#7a7a7a" fill-opacity="0.4"/>
<path d="M486.5 462.8h0m0 10h0m0 9.6h0m3.6 7.5h0m-1.2 4.4h0m-3.5 3.9h0m-4.4 2.4h0m11 .5h0m.4 5.1h0m-5.9 .6h0m4.6 .9h0m-5.5 2.8h0m5.5 3.4h0m-1.9 2.4h0m3.3 17h0m-2.4 .8h0m-6 1.2h0m3.6 5.3h0" stroke="#7a7a7a" stroke-opacity="0.38" stroke-width="4.6" stroke-linecap="round" fill="none"/>
<path d="M486.5 469.4h0m0 5.1h0m-2.4 9.5h0m-.9 15.9h0m1.3 5.2h0m-.7 3.2h0m-1.9 1h0m5.5 2.2h0m-5.5 .5h0m11 .3h0m-9.1 .2h0m1.8 .3h0m7.3 1.9h0m-12.8 1.3h0m3.7 1.5h0m7.3 1.8h0m-5.7 3.1h0m1.1 1.8h0m-4 .5h0m1.6 3.8h0m2.4 9.6h0m3.6 4.3h0" stroke="#7a7a7a" stroke-opacity="0.38" stroke-width="4.6" stroke-linecap="round" fill="none"/>
<path d="M486.5 476.8h0m-1.2 3.3h0m3.6 5.1h0m3.6 4.1h0m-6 4h0m4.8 .5h0m-1.5 3.6h0m-3.3 5h0m-5.9 1.1h0m11.8 1.4h0m-8.6 5.9h0m5.4 .2h0m-3.6 5.7h0m-5 8.4h0m11.4 1.5h0m-3.1 1.2h0m-7.2 1h0" stroke="#7a7a7a" stroke-opacity="0.38" stroke-width="4.6" stroke-linecap="round" fill="none"/>
<path d="M490.1 485.8h0m-1.2 1.6h0m-4.8 1.2h0m3.6 3.5h0m2.1 8.7h0m-7.3 2.2h0m6 3.9h0m4.4 2.1h0m-1.8 .6h0m-1.9 3.5h0m0 2h0m-7.3 1.9h0m1.9 2.5h0m1.8 .4h0m3.6 1h0m3.7 5.4h0m-10 5h0m2.4 .4h0" stroke="#7a7a7a" stroke-opacity="0.38" stroke-width="4.6" stroke-linecap="round" fill="none"/>
<path d="M486.5 483.4h0m0 4.9h0m-1.2 2.1h0m2.4 .6h0m-2.4 1.5h0m-3.6 3.5h0m.8 8.4h0m10.4 5.6h0m-5.5 4.6h0m-5.5 3.2h0m7.3 1.1h0m-9.1 1.4h0m3.1 1.7h0m5.3 1.7h0m-.9 2h0m-3.5 3.7h0m2.4 19h0m0 1.5h0" stroke="#7a7a7a" stroke-opacity="0.38" stroke-width="4.6" stroke-linecap="round" fill="none"/>
<path d="M486.5 457.0h0m2.4 39.4h0m-2.4 .7h0m6.4 1.4h0m-8.4 3.3h0m7.9 .2h0m-1.9 1.2h0m-2 1.5h0m-7.9 1.8h0m6.8 1.5h0m5.5 1.8h0m-12.8 1.6h0m12.8 1.9h0m-9.1 .4h0m0 1.8h0m1.8 2.6h0m6.4 3.4h0m-4.4 1.1h0m2.9 .7h0m-6 1.1h0m.8 10.6h0m2.4 6.7h0" stroke="#7a7a7a" stroke-opacity="0.38" stroke-width="4.6" stroke-linecap="round" fill="none"/>
<path d="M481.7 494.6h0m5.9 5h0m-1.1 4.5h0m6.4 11.6h0m-5.5 4.4h0m5.5 1.1h0m0 1.8h0m-3.1 4.1h0m-2.1 5.7h0m1.2 3.1h0m-2.4 .8h0m0 9.6h0" stroke="#7a7a7a" stroke-opacity="0.38" stroke-width="4.6" stroke-linecap="round" fill="none"/>
<path d="M487.7 481.0h0m0 5.7h0m2.4 6.2h0m1.2 3.9h0m-3.7 1h0m2.9 6.1h0m-8 1.6h0m8 .1h0m-1.3 1.9h0m-7.3 1.3h0m5.5 1.5h0m3.7 1.6h0m-5.5 1.7h0m-3.7 .7h0m5.5 2.2h0m5.5 .8h0m0 1.8h0m-3.1 2.7h0m2.6 1.8h0m-7 1.8h0m5.9 5.2h0m-1.2 1.8h0m-6 4.8h0m1.2 2.2h0" stroke="#7a7a7a" stroke-opacity="0.38" stroke-width="4.6" stroke-linecap="round" fill="none"/>
<path d="M486.5 478.3h0m-2.4 16.8h0m0 .5h0m-.9 3.5h0m-2.6 2.4h0m10.5 13.8h0m-7.9 10.8h0m8.1 2h0m-4.8 1.5h0m1.2 4.1h0m-2.4 11.3h0" stroke="#7a7a7a" stroke-opacity="0.38" stroke-width="4.6" stroke-linecap="round" fill="none"/>
<path d="M486.5 451.2h0m-3.6 40.5h0m9.1 7.2h0m-6.6 1.2h0m3.1 2.4h0m-4 3.4h0m1.1 1.4h0m-5.5 1.3h0m11 9.7h0m-3.7 .2h0m-5.5 2.1h0m4.6 6.9h0m2.4 2.6h0m-7.2 .7h0m7.2 7.8h0m-1.2 4.8h0m-1.2 9.8h0" stroke="#7a7a7a" stroke-opacity="0.38" stroke-width="4.6" stroke-linecap="round" fill="none"/>
<path d="M506.2 550.7L505.8 549.2L505.4 547.7L505.1 546.3L504.7 544.8L504.4 543.4L504.0 541.9L503.7 540.4L503.3 539.0L502.9 537.5L502.6 536.1L502.2 534.6L501.9 533.1L501.5 531.7L501.4 530.2L501.4 528.8L501.4 527.3L501.4 525.8L501.4 524.4L501.4 522.9L501.4 521.4L501.4 520.0L501.4 518.5L501.4 517.1L501.4 515.6L501.4 514.1L501.4 512.7L501.4 511.2L501.4 509.8L501.4 508.3L501.4 506.8L501.4 505.4L501.4 503.9L501.4 502.5L501.4 501.0L501.4 499.5L501.4 498.1L501.4 496.6L501.4 495.1L501.4 493.7L501.4 492.2L501.7 490.8L502.0 489.3L502.3 487.8L502.7 486.4L503.0 484.9L503.3 483.5L503.7 482.0L504.1 480.5L504.4 479.1L504.8 477.6L505.2 476.2L505.7 474.7L508.4 474.0L508.9 475.4L509.4 476.9L509.8 478.3L510.2 479.8L510.5 481.3L510.9 482.7L511.2 484.2L511.6 485.6L511.9 487.1L512.2 488.6L512.6 490.0L512.9 491.5L513.0 493.0L513.0 494.4L513.0 495.9L513.0 497.3L513.0 498.8L513.0 500.3L513.0 501.7L513.0 503.2L513.0 504.6L513.0 506.1L513.0 507.6L513.0 509.0L513.0 510.5L513.0 511.9L513.0 513.4L513.0 514.9L513.0 516.3L513.0 517.8L513.0 519.3L513.0 520.7L513.0 522.2L513.0 523.6L513.0 525.1L513.0 526.6L513.0 528.0L513.0 529.5L513.0 530.9L512.7 532.4L512.3 533.9L512.0 535.3L511.6 536.8L511.3 538.2L510.9 539.7L510.5 541.2L510.2 542.6L509.8 544.1L509.5 545.6L509.2 547.0L508.8 548.5L508.4 549.9Z" fill="#1a72c4" fill-opacity="0.4"/>
<path d="M507.2 473.2h0m0 2.6h0m-2.4 5.1h0m2.4 4.3h0m1.2 6.7h0m-3.1 7.8h0m7.5 .2h0m-7.5 3.2h0m-2.4 3.8h0m10.3 4.8h0m0 3.3h0m-12 .2h0m10.3 1.5h0m-10.7 .2h0m4.8 .7h0m7.2 3.4h0m-5.6 6.1h0m-4.6 2.6h0m1 5.2h0m4.8 1.3h0m1.2 2.8h0m-2.4 6.8h0" stroke="#1a72c4" stroke-opacity="0.38" stroke-width="4.6" stroke-linecap="round" fill="none"/>
<path d="M507.2 464.8h0m1.2 18.9h0m-1.2 9.8h0m-2.3 2.6h0m-3.3 1.2h0m0 6h0m9.3 .9h0m.6 .9h0m-6.9 1h0m9 .5h0m-2.1 .6h0m-5.9 2.4h0m8 .9h0m-12.8 4.3h0m8 2.6h0m2.1 6.6h0m1.4 1h0m-2.8 2.8h0m1.3 6.6h0m-2.4 3h0m2.4 .6h0m-3.6 14.9h0" stroke="#1a72c4" stroke-opacity="0.38" stroke-width="4.6" stroke-linecap="round" fill="none"/>
<path d="M510.8 478.3h0m0 13h0m1 3.2h0m-9.2 2h0m4.6 3.7h0m.9 11.6h0m-2.5 2.3h0m6.4 4.5h0m-10.4 4h0m0 .5h0m5.6 .3h0m1.9 .9h0m2.7 3.8h0m-6.9 .8h0m4.6 1.7h0" stroke="#1a72c4" stroke-opacity="0.38" stroke-width="4.6" stroke-linecap="round" fill="none"/>
<path d="M507.2 479.6h0m3.6 8.9h0m-4.8 2.3h0m-4.4 10.6h0m5.6 3.3h0m2.6 1h0m-2.6 3.5h0m-3.2 .6h0m-3.2 .2h0m3.2 2.9h0m8 .7h0m-9.6 .2h0m.5 1.8h0m2.4 3.6h0m7.5 1.4h0m-9.3 1.1h0m9.3 1.2h0m-2.5 2.4h0m-7.7 3.1h0m4.6 .8h0m0 12.8h0m0 8.4h0" stroke="#1a72c4" stroke-opacity="0.38" stroke-width="4.6" stroke-linecap="round" fill="none"/>
<path d="M507.2 482.8h0m1.2 4.2h0m2.4 2.9h0m-4.8 2.8h0m-3.4 1.2h0m2.3 .8h0m2.3 .9h0m2.3 .3h0m-.4 2.9h0m-1.9 2.9h0m5.6 .8h0m0 1.4h0m.4 3.8h0m-10.8 3.1h0m3.9 5.3h0m4.6 5.2h0m-3.7 .2h0m1.2 10.4h0m-2.4 4.9h0" stroke="#1a72c4" stroke-opacity="0.38" stroke-width="4.6" stroke-linecap="round" fill="none"/>
<path d="M513.2 489.3h0m-9.7 10.1h0m0 3.4h0m6.3 5.8h0m2.2 .2h0m-7.4 3.8h0m0 2.8h0m-.6 1.7h0m6.4 .9h0m-6.9 1.5h0m1.8 5.2h0m.7 6.7h0m4.8 4.3h0" stroke="#1a72c4" stroke-opacity="0.38" stroke-width="4.6" stroke-linecap="round" fill="none"/>
<path d="M507.2 448.4h0m-1.2 35.9h0m3.6 2.2h0m-2.4 11.5h0m1.9 6.4h0m-6.2 2h0m5.2 1h0m.7 2.9h0m-6.4 7.6h0m4.8 .5h0m-5.6 1.2h0m5.6 .3h0m-3.1 5.9h0m.8 1.7h0m3.5 6.2h0m-1.2 6.1h0m1.2 4.9h0m-1.2 13.3h0" stroke="#1a72c4" stroke-opacity="0.38" stroke-width="4.6" stroke-linecap="round" fill="none"/>
<path d="M507.2 456.1h0m2.4 26.1h0m-3.6 5.8h0m-2.4 4.2h0m1.7 5.9h0m-1.8 .5h0m-1.9 .5h0m9.3 1.5h0m0 1.6h0m-4.6 2.8h0m-5.1 2.9h0m10.3 3.1h0m-10.3 1.1h0m12.4 1.2h0m-6.4 1.1h0m2.6 1.5h0m3.8 2.9h0m-2.7 1.4h0m-1.8 .3h0m-3.8 1.8h0m6.5 7.6h0m-4.6 18.2h0" stroke="#1a72c4" stroke-opacity="0.38" stroke-width="4.6" stroke-linecap="round" fill="none"/>
<path d="M508.4 477.1h0m-3.6 8.8h0m-1.2 2.9h0m8.2 6.4h0m-2.7 6h0m-3.8 .9h0m-1.8 1.5h0m9.7 1.9h0m-5.1 .5h0m-3.5 2.1h0m5.8 1.2h0m-.6 1.9h0m-3.5 .2h0m2.8 10.7h0m-5.6 1.7h0m4.7 2.9h0m-4.6 4.4h0m7.2 1.1h0m2.4 1.1h0m-8.4 7.5h0m1.2 2.6h0" stroke="#1a72c4" stroke-opacity="0.38" stroke-width="4.6" stroke-linecap="round" fill="none"/>
<path d="M508.4 490.6h0m1.1 2.4h0m3.3 3.9h0m-1.9 .7h0m-1.8 3.2h0m-2.8 7.6h0m-3.4 4h0m5.9 .7h0m1.6 1.2h0m-2.3 2.1h0m5.5 9.5h0m-7.4 .4h0m-.2 6.5h0" stroke="#1a72c4" stroke-opacity="0.38" stroke-width="4.6" stroke-linecap="round" fill="none"/>
<path d="M526.6 531.0L526.1 529.5L525.8 527.9L525.4 526.3L525.1 524.7L524.8 523.1L524.5 521.5L524.2 519.9L523.9 518.3L523.6 516.7L523.3 515.1L523.0 513.5L522.6 511.9L522.3 510.3L522.0 508.7L521.8 507.1L521.8 505.5L521.8 503.9L521.8 502.3L521.8 500.7L521.8 499.1L521.8 497.5L521.8 495.9L521.8 494.3L521.8 492.7L521.8 491.1L521.8 489.5L521.8 487.9L521.8 486.3L521.8 484.7L521.8 483.2L521.8 481.6L521.8 480.0L521.8 478.4L521.8 476.8L521.8 475.2L521.8 473.6L521.8 472.0L521.8 470.4L521.8 468.8L521.8 467.2L521.8 465.6L521.8 464.0L521.8 462.4L521.8 460.8L522.1 459.2L522.3 457.6L522.6 456.0L522.9 454.4L523.2 452.8L523.5 451.2L523.8 449.6L524.1 448.0L524.5 446.4L524.8 444.8L525.3 443.2L525.7 441.6L526.2 440.0L528.9 439.8L529.4 441.4L529.9 443.0L530.3 444.6L530.7 446.2L531.0 447.8L531.3 449.4L531.6 451.0L531.9 452.6L532.2 454.1L532.5 455.7L532.8 457.3L533.1 458.9L533.4 460.5L533.4 462.1L533.4 463.7L533.4 465.3L533.4 466.9L533.4 468.5L533.4 470.1L533.4 471.7L533.4 473.3L533.4 474.9L533.4 476.5L533.4 478.1L533.4 479.7L533.4 481.3L533.4 482.9L533.4 484.5L533.4 486.1L533.4 487.7L533.4 489.3L533.4 490.9L533.4 492.5L533.4 494.1L533.4 495.7L533.4 497.3L533.4 498.9L533.4 500.4L533.4 502.0L533.4 503.6L533.4 505.2L533.4 506.8L533.3 508.4L532.9 510.0L532.6 511.6L532.3 513.2L532.0 514.8L531.7 516.4L531.4 518.0L531.1 519.6L530.8 521.2L530.5 522.8L530.2 524.4L529.8 526.0L529.5 527.6L529.1 529.2L528.7 530.8Z" fill="#a8c8ee" fill-opacity="0.4"/>
<path d="M526.4 451.0h0m4.8 12.8h0m-8.4 5.6h0m.5 8.1h0m.8 1.9h0m-.8 3.9h0m-2.1 .6h0m9.9 11.7h0m-1.1 15.5h0m-1.2 2.3h0m-1.2 18.6h0m0 6h0" stroke="#a8c8ee" stroke-opacity="0.38" stroke-width="4.6" stroke-linecap="round" fill="none"/>
<path d="M527.6 415.5h0m1.2 32.4h0m1.2 7.5h0m-4.8 1h0m1.2 16.6h0m7.6 9.1h0m-2.1 .2h0m-2.2 4.4h0m-2.1 20.9h0m0 2.9h0m-1.2 9.3h0" stroke="#a8c8ee" stroke-opacity="0.38" stroke-width="4.6" stroke-linecap="round" fill="none"/>
<path d="M527.6 410.7h0m-1.2 35.6h0m4.8 6.1h0m-2.4 5.7h0m-2.4 4.4h0m-2.4 .5h0m1.2 1.8h0m-1.1 6.1h0m2.3 4h0m-.9 12.1h0m-4.3 5.3h0m4 19.3h0m2.4 15.3h0" stroke="#a8c8ee" stroke-opacity="0.38" stroke-width="4.6" stroke-linecap="round" fill="none"/>
<path d="M526.4 442.2h0m3.6 14.8h0m0 7.4h0m0 4h0m2.4 .4h0m1.1 1.5h0m-4.7 .2h0m-7.6 6.2h0m.5 2.2h0m8 2.4h0m0 8.5h0m0 4h0m-.9 2.7h0m-1.2 2h0m4.8 .9h0m-9.6 1.1h0m2.4 1.3h0m0 3.7h0m0 1.1h0m6 6.1h0m-2.4 5.7h0m-1.2 10.4h0" stroke="#a8c8ee" stroke-opacity="0.38" stroke-width="4.6" stroke-linecap="round" fill="none"/>
<path d="M527.6 439.2h0m-2.4 15.5h0m2.4 2.7h0m6 4.6h0m-10.8 3.5h0m4.8 1.8h0m-2.4 2.7h0m1.2 2.1h0m1.2 5.9h0m-2.1 6.3h0m8.5 1.6h0m-6.4 1.9h0m0 1.1h0m0 1.3h0m6.4 1.7h0m0 5.7h0m-6.4 3.8h0m0 3.4h0m2.4 9.9h0m-2.4 .9h0m1.2 4.7h0" stroke="#a8c8ee" stroke-opacity="0.38" stroke-width="4.6" stroke-linecap="round" fill="none"/>
<path d="M528.8 453.6h0m-1.2 .5h0m0 15h0m5.9 4.3h0m-11.8 1.1h0m10.2 1.6h0m2.1 1h0m-8.5 .6h0m8 .6h0m-12.3 2.6h0m10.7 6.6h0m-2.2 3.2h0m-8.5 .5h0m6.4 1.7h0m0 11h0m-4.8 2.2h0m6 2.2h0" stroke="#a8c8ee" stroke-opacity="0.38" stroke-width="4.6" stroke-linecap="round" fill="none"/>
<path d="M531.2 449.6h0m-2.4 1.8h0m-2.4 7.3h0m4.8 2.7h0m-2.4 1.9h0m3.6 4.3h0m-6 12.2h0m7.6 .3h0m-2.1 .2h0m-4.3 1.2h0m4.3 3.2h0m2.1 8.6h0m-9.9 2.1h0m2.3 2.6h0m-3.6 .8h0m7.2 1.5h0m0 2.5h0m0 1.4h0m-1.2 12.5h0" stroke="#a8c8ee" stroke-opacity="0.38" stroke-width="4.6" stroke-linecap="round" fill="none"/>
<path d="M527.6 420.3h0m1.2 23.5h0m-1.2 1.5h0m-3.6 14h0m2.4 1.5h0m-3.6 5.7h0m7.2 .4h0m-8.3 4.7h0m7.1 .9h0m-4.7 1.4h0m4.7 .4h0m-4.7 1.3h0m5.6 .9h0m-2.1 6.6h0m-6.4 1.1h0m8.5 .7h0m-8.5 1.2h0m2.1 .2h0m8.6 2.3h0m-6.4 1h0m-2.2 1.5h0m0 3h0m3.1 1.9h0m7.1 1.4h0m-8.3 1.8h0m4.8 .7h0m-7.2 2.6h0m9.6 2.8h0m-4.8 18h0" stroke="#a8c8ee" stroke-opacity="0.38" stroke-width="4.6" stroke-linecap="round" fill="none"/>
<path d="M531.2 459.8h0m-6 8.2h0m5.9 3.3h0m2.9 1.1h0m-2.9 6.2h0m-2.3 .6h0m-3.3 1.5h0m4.2 1.9h0m4.3 4.7h0m-12.8 1.1h0m10.7 3.1h0m0 1h0m-6.4 .7h0m3.3 1.5h0m-7.1 .2h0m9.4 1.4h0m1.3 5.8h0m-2.4 4.8h0m-3.6 2.2h0m-1.2 5h0m6 3.4h0m0 4.4h0m-3.6 3.9h0" stroke="#a8c8ee" stroke-opacity="0.38" stroke-width="4.6" stroke-linecap="round" fill="none"/>
<path d="M527.6 432.9h0m1.2 15.9h0m0 11.5h0m3.6 4.9h0m-4.8 .7h0m3.5 7.8h0m2.4 1.5h0m-2.4 .7h0m-7.8 6h0m2.2 1.6h0m-2.2 1.7h0m4.3 .4h0m-4.3 2.5h0m10.7 1.1h0m-8.5 1.3h0m8 3.8h0m-9.4 2.7h0m8.3 4h0m-7.2 2.3h0m8.4 5.6h0m-2.4 .8h0" stroke="#a8c8ee" stroke-opacity="0.38" stroke-width="4.6" stroke-linecap="round" fill="none"/>
<path d="M547.4 550.8L546.8 549.4L546.4 548.0L546.0 546.6L545.6 545.2L545.2 543.8L544.9 542.4L544.5 541.1L544.1 539.7L543.8 538.3L543.4 536.9L543.0 535.5L542.7 534.1L542.6 532.7L542.6 531.3L542.6 529.9L542.6 528.5L542.6 527.1L542.6 525.7L542.6 524.3L542.6 522.9L542.6 521.5L542.6 520.2L542.6 518.8L542.6 517.4L542.6 516.0L542.6 514.6L542.6 513.2L542.6 511.8L542.6 510.4L542.6 509.0L542.6 507.6L542.6 506.2L542.6 504.8L542.6 503.4L542.6 502.0L542.6 500.6L542.6 499.3L542.6 497.9L542.7 496.5L543.0 495.1L543.4 493.7L543.7 492.3L544.0 490.9L544.4 489.5L544.7 488.1L545.1 486.7L545.4 485.3L545.7 483.9L546.1 482.5L546.4 481.1L546.7 479.7L547.1 478.4L549.6 478.1L550.0 479.5L550.4 480.9L550.7 482.3L551.0 483.7L551.3 485.1L551.7 486.5L552.0 487.9L552.4 489.3L552.7 490.7L553.0 492.1L553.4 493.4L553.7 494.8L554.0 496.2L554.2 497.6L554.2 499.0L554.2 500.4L554.2 501.8L554.2 503.2L554.2 504.6L554.2 506.0L554.2 507.4L554.2 508.8L554.2 510.2L554.2 511.6L554.2 513.0L554.2 514.3L554.2 515.7L554.2 517.1L554.2 518.5L554.2 519.9L554.2 521.3L554.2 522.7L554.2 524.1L554.2 525.5L554.2 526.9L554.2 528.3L554.2 529.7L554.2 531.1L554.2 532.5L554.2 533.9L553.8 535.2L553.5 536.6L553.1 538.0L552.7 539.4L552.4 540.8L552.0 542.2L551.6 543.6L551.2 545.0L550.9 546.4L550.5 547.8L550.0 549.2L549.5 550.6Z" fill="#c0262c" fill-opacity="0.4"/>
<path d="M548.4 474.4h0m0 16.9h0m0 8.2h0m1.9 1.8h0m-5.6 .6h0m.5 10h0m8 2.2h0m-8 .4h0m9.2 7.1h0m-1.7 1.1h0m1.3 2.3h0m-7.5 1h0m-.7 2.7h0m-.5 .9h0m8.2 .6h0m-5.1 3h0m2.3 1.6h0" stroke="#c0262c" stroke-opacity="0.38" stroke-width="4.6" stroke-linecap="round" fill="none"/>
<path d="M549.6 486.6h0m0 7.4h0m-3.1 8.5h0m6.7 4.8h0m-1.6 .4h0m-7.5 1.5h0m10.7 .4h0m-7.3 .9h0m2.5 4.5h0m4.8 7.5h0m-12.4 .9h0m8.6 .2h0m-2.6 1.9h0m4.3 2h0m-5.2 .8h0m-3.7 4.1h0m4.6 4.9h0m3.6 4.7h0" stroke="#c0262c" stroke-opacity="0.38" stroke-width="4.6" stroke-linecap="round" fill="none"/>
<path d="M549.6 487.5h0m1.2 4.3h0m-2.4 4.1h0m2.3 1.8h0m-7.9 7.7h0m.8 10.9h0m8 3h0m-4.8 .8h0m-1 1h0m-1.7 1h0m8 4.3h0m2.3 1.6h0m-8.4 11.2h0m3.6 4.6h0m0 2.9h0" stroke="#c0262c" stroke-opacity="0.38" stroke-width="4.6" stroke-linecap="round" fill="none"/>
<path d="M543.8 496.6h0m9.2 .7h0m-6.9 1.5h0m2.3 3.9h0m-1.9 .9h0m3.8 2.9h0m-5.1 .5h0m4.1 2.8h0m.7 1.7h0m4.8 1.9h0m-12.8 .5h0m6.4 4h0m4.8 1.5h0m1.6 .4h0m-10.7 4.3h0m2 9.7h0m-.1 4.1h0m2.4 2.4h0m1.2 .8h0m-2.4 2.3h0" stroke="#c0262c" stroke-opacity="0.38" stroke-width="4.6" stroke-linecap="round" fill="none"/>
<path d="M548.4 458.0h0m0 8.7h0m-1.2 16.3h0m2.4 1.1h0m-2.4 4.5h0m5.8 11.6h0m-10.2 2h0m7.5 2.3h0m-5.6 .4h0m8 4.6h0m-1.7 .8h0m3.4 .5h0m-2.8 3.6h0m1.6 .9h0m1.6 .7h0m-8 .7h0m6.4 1.4h0m-1.6 .2h0m-6.4 2.3h0m5.8 .7h0m-3.5 1.7h0m5.2 1h0m-6.9 .7h0m-1.7 2.2h0m6.9 .8h0m-1.6 1.5h0m5.4 1.3h0m-4.1 1.1h0m-5.9 3.7h0m2.4 .4h0m2.4 1.1h0m-1.2 12.9h0" stroke="#c0262c" stroke-opacity="0.38" stroke-width="4.6" stroke-linecap="round" fill="none"/>
<path d="M548.4 479.7h0m-2.4 12.8h0m6 2h0m-1.3 .9h0m2.3 1.4h0m-8.3 8.2h0m-1.1 2.5h0m6.4 .9h0m-3.2 2.6h0m-4.8 .2h0m6.4 4.5h0m-3.2 3.1h0m4.8 .1h0m-2.5 3.4h0m-.1 7.6h0m4.6 6.2h0m-1.2 2.4h0" stroke="#c0262c" stroke-opacity="0.38" stroke-width="4.6" stroke-linecap="round" fill="none"/>
<path d="M548.4 478.2h0m-2.4 11.1h0m8.4 4.3h0m-8.3 1.6h0m-2.3 2.9h0m10.2 2.9h0m-5.6 2h0m3.7 2.7h0m-5.6 .4h0m.3 1.9h0m-4.8 .9h0m11.2 3.3h0m-1.6 3.9h0m3.2 1.4h0m-8 1.1h0m7.6 4.6h0m-9.7 3.4h0m-2.3 2.3h0m6 23.8h0" stroke="#c0262c" stroke-opacity="0.38" stroke-width="4.6" stroke-linecap="round" fill="none"/>
<path d="M548.4 498.5h0m3.7 5h0m-3.7 3.1h0m0 1.5h0m-2.6 2h0m-2.2 2.7h0m6.4 .2h0m-1.6 1.8h0m-3.2 1.8h0m-3.2 1h0m6.4 2.1h0m-6.4 1.1h0m4.1 11.9h0m6.9 1.7h0" stroke="#c0262c" stroke-opacity="0.38" stroke-width="4.6" stroke-linecap="round" fill="none"/>
<path d="M548.4 481.3h0m3.6 4.2h0m-3.6 4.4h0m-1.2 3.2h0m-3.4 6.1h0m6.9 .8h0m3.3 4.3h0m-2.4 7.3h0m3.2 1h0m-11.2 .7h0m-1.6 2.1h0m8 1.6h0m-6.4 .3h0m5.7 4.5h0m0 2.6h0m2.2 6.4h0m-3.1 .3h0m4.6 .9h0m-2.2 7.7h0" stroke="#c0262c" stroke-opacity="0.38" stroke-width="4.6" stroke-linecap="round" fill="none"/>
<path d="M548.4 448.4h0m2.4 42.2h0m-4.7 10.1h0m6 .9h0m-9.3 2.3h0m11.2 2h0m.8 2.7h0m-6.4 3.7h0m-1.6 1.4h0m-3.2 6.6h0m-.8 4.8h0m7.5 .7h0m-1 1.4h0m-5.5 6.4h0m8.2 11.6h0m-3.6 2.8h0" stroke="#c0262c" stroke-opacity="0.38" stroke-width="4.6" stroke-linecap="round" fill="none"/>
<path d="M567.8 536.3L567.4 534.6L567.0 532.9L566.7 531.2L566.3 529.5L566.0 527.8L565.7 526.1L565.4 524.4L565.0 522.7L564.7 521.0L564.3 519.3L564.0 517.6L563.7 515.9L563.3 514.2L563.0 512.5L563.0 510.7L563.0 509.0L563.0 507.3L563.0 505.6L563.0 503.9L563.0 502.2L563.0 500.5L563.0 498.8L563.0 497.1L563.0 495.4L563.0 493.7L563.0 492.0L563.0 490.3L563.0 488.6L563.0 486.9L563.0 485.2L563.0 483.5L563.0 481.8L563.0 480.1L563.0 478.4L563.0 476.7L563.0 475.0L563.0 473.3L563.0 471.6L563.0 469.9L563.0 468.2L563.0 466.5L563.1 464.8L563.4 463.1L563.7 461.4L564.0 459.7L564.4 458.0L564.7 456.3L565.0 454.6L565.4 452.8L565.7 451.1L566.0 449.4L566.3 447.7L566.6 446.0L566.9 444.3L567.2 442.6L567.6 440.9L570.0 440.6L570.3 442.3L570.6 444.0L570.9 445.8L571.2 447.5L571.5 449.2L571.9 450.9L572.2 452.6L572.5 454.3L572.8 456.0L573.2 457.7L573.5 459.4L573.8 461.1L574.1 462.8L574.5 464.5L574.6 466.2L574.6 467.9L574.6 469.6L574.6 471.3L574.6 473.0L574.6 474.7L574.6 476.4L574.6 478.1L574.6 479.8L574.6 481.5L574.6 483.2L574.6 484.9L574.6 486.6L574.6 488.3L574.6 490.0L574.6 491.7L574.6 493.4L574.6 495.1L574.6 496.8L574.6 498.5L574.6 500.2L574.6 502.0L574.6 503.7L574.6 505.4L574.6 507.1L574.6 508.8L574.6 510.5L574.6 512.2L574.3 513.9L574.0 515.6L573.7 517.3L573.3 519.0L573.0 520.7L572.6 522.4L572.3 524.1L572.0 525.8L571.6 527.5L571.3 529.2L571.0 530.9L570.7 532.6L570.3 534.3L569.9 536.0Z" fill="#ff5a50" fill-opacity="0.4"/>
<path d="M568.8 418.4h0m-3.6 48.1h0m5.7 14.1h0m-8.5 .5h0m4.3 .6h0m8.5 .2h0m-2.1 2.5h0m-6.4 .7h0m5.6 1.4h0m-3.5 2h0m-2.1 6.8h0m2.1 1.2h0m-3.5 3.5h0m3.5 .9h0m5.9 3.6h0m.5 .7h0m-2.8 2h0m-8.4 2.3h0m4.8 13.7h0m0 15.2h0m0 4.4h0" stroke="#ff5a50" stroke-opacity="0.38" stroke-width="4.6" stroke-linecap="round" fill="none"/>
<path d="M568.8 424.2h0m1.2 41.5h0m-2.4 1.8h0m-1.2 5.6h0m5.9 1.3h0m-9.4 12.4h0m8 3.7h0m-2.1 .6h0m-4.3 .4h0m4.3 1.1h0m-2.1 .2h0m.9 5.7h0m3.6 2.8h0m-5.9 2.5h0m3.5 6.9h0" stroke="#ff5a50" stroke-opacity="0.38" stroke-width="4.6" stroke-linecap="round" fill="none"/>
<path d="M570.0 468.0h0m-6 2.7h0m-1.1 4h0m7.1 .7h0m5.2 10.4h0m-.5 1.6h0m-1.6 2.7h0m0 6.7h0m-7.8 8.8h0m7.1 20.1h0m-2.4 4.9h0m-1.2 3.9h0" stroke="#ff5a50" stroke-opacity="0.38" stroke-width="4.6" stroke-linecap="round" fill="none"/>
<path d="M572.4 457.0h0m-6 3.7h0m6 4.3h0m-6 6.2h0m2.4 1.1h0m-3.5 5.5h0m-2.4 .7h0m11.8 1.5h0m-4.7 2.8h0m-4.7 1.3h0m-.8 2h0m-2.1 4.2h0m10.7 .6h0m-6.4 .8h0m8.5 5.4h0m-8.5 1.2h0m5.6 6.5h0m-4.7 1.1h0m2.4 .4h0m1.2 8.7h0m0 1.4h0m-4.8 1.5h0m3.6 6.5h0" stroke="#ff5a50" stroke-opacity="0.38" stroke-width="4.6" stroke-linecap="round" fill="none"/>
<path d="M568.8 447.5h0m1.2 7.7h0m1.2 7.6h0m-3.6 1.7h0m-3.6 8.3h0m6 6.3h0m3.1 1.3h0m-8.6 1.9h0m-1.6 .9h0m2.4 4.6h0m7.8 6.3h0m-8.6 1.8h0m-2.1 1.4h0m5.2 5.7h0m3.6 6.1h0m-3.6 3.3h0m4.8 1.5h0" stroke="#ff5a50" stroke-opacity="0.38" stroke-width="4.6" stroke-linecap="round" fill="none"/>
<path d="M570.0 454.0h0m1.2 5.3h0m1.2 9.6h0m2.4 .6h0m-6 2.1h0m4.8 2.2h0m1.1 1.3h0m-5.9 10.3h0m-1.2 1.7h0m7.6 2h0m-10.7 4.7h0m10.7 2.4h0m-.5 3h0m-4.7 .3h0m2.3 .7h0m-5.9 1.8h0m5.9 .6h0m2.4 1.4h0m-8.3 7.8h0m2.4 5.3h0" stroke="#ff5a50" stroke-opacity="0.38" stroke-width="4.6" stroke-linecap="round" fill="none"/>
<path d="M568.8 439.0h0m1.2 18.7h0m-3.6 2h0m4.8 12.4h0m-5.9 7.6h0m7 2.8h0m-4.7 .9h0m-5.2 2.3h0m8.5 2.6h0m-4.2 .6h0m4.2 4.5h0m-2.1 1.2h0m-6.4 1h0m2.1 2h0m-.5 4.1h0m6 1.6h0m0 3.4h0m-1.2 3.5h0m-2.4 4.5h0m2.4 12.2h0" stroke="#ff5a50" stroke-opacity="0.38" stroke-width="4.6" stroke-linecap="round" fill="none"/>
<path d="M568.8 442.5h0m0 2.1h0m2.4 17h0m-4.8 1.7h0m5.9 15.5h0m-3.5 2.6h0m1.2 6.5h0m-5.5 1.6h0m-1.6 12.9h0m10.7 7.4h0m-2.4 10.8h0m-2.4 8.3h0" stroke="#ff5a50" stroke-opacity="0.38" stroke-width="4.6" stroke-linecap="round" fill="none"/>
<path d="M568.8 451.5h0m3.6 1.2h0m-4.8 3h0m1.2 2.9h0m0 3.2h0m4.8 8.5h0m1.1 6.1h0m.5 .4h0m-5.2 .4h0m-2.4 .3h0m7.1 6.3h0m-3.8 .9h0m4.3 7.2h0m-4.3 2.4h0m2.2 .6h0m-2.2 3.2h0m-8 .9h0m10.7 1.6h0m-7.2 7.7h0m3.6 5.3h0m-2.4 5h0m-1.2 2.9h0" stroke="#ff5a50" stroke-opacity="0.38" stroke-width="4.6" stroke-linecap="round" fill="none"/>
<path d="M568.8 437.3h0m1.2 11.3h0m2.4 1.2h0m-3.6 14.3h0m6 1.8h0m-2.4 1.2h0m-4.8 1.4h0m2.4 1.2h0m1.2 3.7h0m-5.9 2.4h0m2.3 .3h0m4.7 2.1h0m-4.7 1.4h0m-5.2 10.1h0m0 2.6h0m12.8 .9h0m-10 14.5h0m2.4 .2h0m3.6 3.3h0m3.6 1.8h0m-6 2.8h0m1.2 3.8h0m-1.2 2.4h0m-1.2 10.1h0" stroke="#ff5a50" stroke-opacity="0.38" stroke-width="4.6" stroke-linecap="round" fill="none"/>
<path d="M588.4 552.7L587.9 551.2L587.5 549.7L587.1 548.2L586.7 546.7L586.4 545.2L586.0 543.7L585.7 542.3L585.3 540.8L585.0 539.3L584.6 537.8L584.3 536.3L583.9 534.8L583.7 533.3L583.7 531.8L583.7 530.3L583.7 528.8L583.7 527.4L583.7 525.9L583.7 524.4L583.7 522.9L583.7 521.4L583.7 519.9L583.7 518.4L583.7 516.9L583.7 515.4L583.7 513.9L583.7 512.5L583.7 511.0L583.7 509.5L583.7 508.0L583.7 506.5L583.7 505.0L583.7 503.5L583.7 502.0L583.7 500.5L583.7 499.0L583.7 497.5L583.7 496.1L583.8 494.6L584.1 493.1L584.5 491.6L584.8 490.1L585.1 488.6L585.5 487.1L585.8 485.6L586.2 484.1L586.5 482.6L586.8 481.2L587.1 479.7L587.5 478.2L587.8 476.7L588.2 475.2L590.6 474.5L591.0 475.9L591.4 477.4L591.7 478.9L592.0 480.4L592.3 481.9L592.7 483.4L593.0 484.9L593.3 486.4L593.7 487.9L594.0 489.4L594.4 490.8L594.7 492.3L595.0 493.8L595.3 495.3L595.3 496.8L595.3 498.3L595.3 499.8L595.3 501.3L595.3 502.8L595.3 504.3L595.3 505.7L595.3 507.2L595.3 508.7L595.3 510.2L595.3 511.7L595.3 513.2L595.3 514.7L595.3 516.2L595.3 517.7L595.3 519.2L595.3 520.6L595.3 522.1L595.3 523.6L595.3 525.1L595.3 526.6L595.3 528.1L595.3 529.6L595.3 531.1L595.3 532.6L595.3 534.1L594.9 535.5L594.6 537.0L594.2 538.5L593.9 540.0L593.5 541.5L593.1 543.0L592.8 544.5L592.4 546.0L592.1 547.5L591.7 549.0L591.3 550.4L590.8 551.9Z" fill="#0a6e32" fill-opacity="0.4"/>
<path d="M589.5 468.7h0m-1.2 16.5h0m3.6 5.9h0m2.2 6.8h0m-3.6 1.3h0m-4.7 4.1h0m5.6 .9h0m-6.2 1.9h0m5.9 2.6h0m4 3.1h0m-.8 4h0m-5.7 2.2h0m6.9 1.2h0m-3.4 1.5h0m3.4 .2h0m-10.3 .8h0m3.3 3h0" stroke="#0a6e32" stroke-opacity="0.38" stroke-width="4.6" stroke-linecap="round" fill="none"/>
<path d="M591.9 487.2h0m-4.8 2.3h0m-2.2 4.3h0m1.5 8.2h0m3.1 .4h0m-5.6 4.5h0m12 3.4h0m-8.3 1.2h0m1.9 1.1h0m3.2 1.6h0m-8 2h0m9.1 6.6h0m1.7 .1h0m-1.4 12.2h0m-7 1.8h0m4.8 1h0m0 1.9h0m0 .8h0m-2.4 9.8h0" stroke="#0a6e32" stroke-opacity="0.38" stroke-width="4.6" stroke-linecap="round" fill="none"/>
<path d="M589.5 462.8h0m0 13.5h0m-1.2 19.4h0m7.2 .3h0m-11.6 6.7h0m9.9 2h0m-4.3 2.7h0m-6.4 5.6h0m9 5.9h0m-5.2 .7h0m-1.7 .3h0m1.7 2.1h0m.7 4.4h0m3.8 .9h0m-4.3 14.9h0" stroke="#0a6e32" stroke-opacity="0.38" stroke-width="4.6" stroke-linecap="round" fill="none"/>
<path d="M590.7 482.3h0m0 2.1h0m-1.2 5.5h0m2.3 7.3h0m-7.4 3.9h0m10.7 2.4h0m.4 1.6h0m-.4 3.1h0m-12 .9h0m9.6 1h0m-3.2 .6h0m1.9 1.4h0m-5.1 1.6h0m9.6 .7h0m-8 .5h0m-4.8 .2h0m10.7 7.1h0m-8.6 1.9h0m1.2 5h0m3.1 5.2h0m-4.6 1.3h0" stroke="#0a6e32" stroke-opacity="0.38" stroke-width="4.6" stroke-linecap="round" fill="none"/>
<path d="M589.5 433.9h0m0 22.2h0m0 23.2h0m0 4.3h0m-2.3 8.9h0m1.4 11.9h0m-1.7 .8h0m5.2 1h0m-1 6.5h0m3.2 .8h0m-2.2 3.5h0m-1.7 2.5h0m5.5 4.8h0m-6.4 6.4h0m2.3 1.5h0m-2.3 5h0m0 1.4h0m1.2 5.3h0" stroke="#0a6e32" stroke-opacity="0.38" stroke-width="4.6" stroke-linecap="round" fill="none"/>
<path d="M594.1 493.4h0m-3.4 1.3h0m-3.5 3h0m-.8 1h0m6.2 1.5h0m-9.1 5.6h0m4.1 1.4h0m-1.8 .8h0m2.1 1.7h0m-4 1.7h0m8.2 12.2h0m-6.3 3.4h0m-1.9 .5h0m.5 2h0m9.7 1.9h0m-9.2 .4h0m2.3 2.9h0m2.3 6.5h0m3.6 1.9h0m-4.8 1.9h0m1.2 8.2h0m0 4.5h0" stroke="#0a6e32" stroke-opacity="0.38" stroke-width="4.6" stroke-linecap="round" fill="none"/>
<path d="M589.5 473.8h0m-1.2 7h0m3.6 7.8h0m-2.4 3.1h0m-1 10h0m-2.2 7.7h0m-.5 1.5h0m3.7 5.4h0m6 1.2h0m-12 .8h0m5.1 4.2h0m-1.7 1.4h0m8.2 2.7h0m-2 7.3h0m-1.3 2.1h0m-4.7 3h0" stroke="#0a6e32" stroke-opacity="0.38" stroke-width="4.6" stroke-linecap="round" fill="none"/>
<path d="M589.5 486.4h0m0 7.7h0m3.6 1h0m-8.2 1.2h0m5.6 4.4h0m-2.9 3.2h0m6.7 4.6h0m-9.6 .3h0m8.5 2.4h0m-8.5 2.1h0m8 2.2h0m-2.3 1.8h0m-3.5 .5h0m3.5 5.5h0m4.2 5.3h0m-7.4 2.2h0" stroke="#0a6e32" stroke-opacity="0.38" stroke-width="4.6" stroke-linecap="round" fill="none"/>
<path d="M589.5 477.5h0m0 19.4h0m-1 1.6h0m6.1 1.9h0m-2 1h0m.6 1.6h0m-2.8 2.5h0m1 2.1h0m-1.9 2.4h0m6.4 2.3h0m-8 1.7h0m-2.7 2.5h0m8.6 .4h0m-5.2 1.6h0m7.3 .1h0m-2.1 1.7h0m-5.2 .2h0m-4.2 4.3h0m2 1.3h0m6.8 1.7h0m-3.7 .4h0m3.1 2h0m-1.9 2.6h0m-2.4 .5h0m1.2 15.3h0" stroke="#0a6e32" stroke-opacity="0.38" stroke-width="4.6" stroke-linecap="round" fill="none"/>
<path d="M587.1 487.8h0m0 2.9h0m4.7 2.2h0m2.8 6.6h0m1.3 .2h0m-2.7 6.9h0m-2.1 8.2h0m-4.8 .9h0m4.1 5.6h0m-6.9 .1h0m7 3.7h0m2.1 .4h0m2 .3h0m-4.1 3h0m-2 1.1h0m-2.6 2.7h0m4.8 13.4h0m-1.2 1.6h0" stroke="#0a6e32" stroke-opacity="0.38" stroke-width="4.6" stroke-linecap="round" fill="none"/>
<path d="M609.2 544.8L608.8 542.9L608.4 541.1L608.1 539.2L607.7 537.4L607.3 535.5L606.9 533.7L606.5 531.8L606.1 530.0L605.7 528.1L605.3 526.3L605.0 524.4L604.6 522.6L604.4 520.7L604.4 518.9L604.4 517.0L604.4 515.2L604.4 513.3L604.4 511.5L604.4 509.6L604.4 507.8L604.4 505.9L604.4 504.1L604.4 502.2L604.4 500.4L604.4 498.5L604.4 496.7L604.4 494.9L604.4 493.0L604.4 491.2L604.4 489.3L604.4 487.5L604.4 485.6L604.4 483.8L604.4 481.9L604.4 480.1L604.4 478.2L604.4 476.4L604.4 474.5L604.6 472.7L605.0 470.8L605.3 469.0L605.7 467.1L606.0 465.3L606.4 463.4L606.7 461.6L607.1 459.7L607.4 457.9L607.8 456.0L608.1 454.2L608.5 452.3L608.9 450.5L611.2 449.0L611.6 450.8L612.0 452.7L612.3 454.5L612.7 456.3L613.0 458.2L613.4 460.0L613.7 461.9L614.1 463.7L614.4 465.6L614.8 467.4L615.1 469.3L615.5 471.1L615.8 473.0L616.0 474.8L616.0 476.7L616.0 478.5L616.0 480.4L616.0 482.2L616.0 484.1L616.0 485.9L616.0 487.8L616.0 489.6L616.0 491.5L616.0 493.3L616.0 495.2L616.0 497.0L616.0 498.9L616.0 500.7L616.0 502.6L616.0 504.4L616.0 506.2L616.0 508.1L616.0 509.9L616.0 511.8L616.0 513.6L616.0 515.5L616.0 517.3L616.0 519.2L616.0 521.0L615.7 522.9L615.4 524.7L615.0 526.6L614.6 528.4L614.2 530.3L613.8 532.1L613.4 534.0L613.0 535.8L612.7 537.7L612.3 539.5L611.9 541.4L611.5 543.2Z" fill="#3cb44b" fill-opacity="0.4"/>
<path d="M610.2 420.3h0m0 33.5h0m-3.6 19.9h0m7.2 3.8h0m-6 1.2h0m7.2 3.5h0m-2.8 13.7h0m3.5 .3h0m-4.4 .8h0m-5.7 1h0m9.2 .7h0m-10.5 3.4h0m7 3.4h0m4.4 3h0m-2.2 2h0" stroke="#3cb44b" stroke-opacity="0.38" stroke-width="4.6" stroke-linecap="round" fill="none"/>
<path d="M610.2 480.0h0m5.5 5.6h0m-5.5 4h0m5.9 2.8h0m-11.4 5.2h0m11.9 1.6h0m-9.1 .4h0m9.1 .3h0m-11.9 1.8h0m11.4 1.5h0m-3.9 .6h0m3.5 .6h0m-11 3.9h0m6.7 8.8h0m-4.8 3.9h0m6 7.1h0m1.2 3.6h0m-3.6 15.1h0" stroke="#3cb44b" stroke-opacity="0.38" stroke-width="4.6" stroke-linecap="round" fill="none"/>
<path d="M613.8 462.8h0m-2.4 4.3h0m-4.8 1h0m-1.2 12.7h0m2.4 3h0m-3.1 2.1h0m7.9 1.7h0m-8.3 1.2h0m2.6 2.9h0m5.3 .3h0m-6 2.8h0m2 .9h0m-1.3 5.2h0m1.3 5.4h0m.8 11.1h0m1.2 15.3h0" stroke="#3cb44b" stroke-opacity="0.38" stroke-width="4.6" stroke-linecap="round" fill="none"/>
<path d="M609.0 460.2h0m1.2 22.9h0m3.3 1.7h0m-5.3 4.5h0m.9 1.5h0m-2.9 2.2h0m-1.9 1.5h0m6.8 3.7h0m-4.9 5.3h0m.7 1.6h0m2.2 .3h0m0 4.2h0m2.2 1.2h0m-5.9 3.3h0m8.4 4.9h0m-2.4 3.2h0m0 4.3h0m0 4.2h0" stroke="#3cb44b" stroke-opacity="0.38" stroke-width="4.6" stroke-linecap="round" fill="none"/>
<path d="M610.2 456.7h0m3.6 9.4h0m-2.4 4.5h0m2.4 .8h0m-4.8 1h0m1.2 8.7h0m2.4 1.6h0m-4.8 3.5h0m7.2 .5h0m-2.8 1.3h0m-3.1 8.8h0m-2.2 .5h0m6 2.1h0m1.3 3.6h0m1.5 8.2h0m-.7 2.7h0m-2.4 .6h0m-6 2.2h0m7.2 10.4h0" stroke="#3cb44b" stroke-opacity="0.38" stroke-width="4.6" stroke-linecap="round" fill="none"/>
<path d="M610.2 424.2h0m0 20.1h0m1.2 25.1h0m2.4 .5h0m-6 10.4h0m-2.4 3h0m3.7 1.3h0m1.1 2.4h0m4 1.5h0m1.9 1.3h0m-2.6 1.2h0m-3.3 1.6h0m4 .9h0m0 .5h0m-6 8.3h0m4 5.5h0m-5.3 2.1h0m2.2 1.9h0m1.1 3.6h0m-1.2 6.2h0m4.8 2.1h0m-3.6 5.1h0" stroke="#3cb44b" stroke-opacity="0.38" stroke-width="4.6" stroke-linecap="round" fill="none"/>
<path d="M610.2 455.9h0m0 2.7h0m1.2 5.1h0m0 11.6h0m3.6 3.6h0m-9.6 .5h0m7.2 2.2h0m-7.2 5.6h0m4.8 7.7h0m3.3 1.6h0m2.2 4.7h0m-2.2 3h0m.7 1.8h0m-9.9 1.5h0m7 1.7h0m5.3 1.1h0m-11.2 1.9h0m7.2 1.1h0m1.2 3.1h0m2.4 1.7h0m-4.8 2.5h0m-1.2 3.9h0m-2.4 .7h0m4.8 .5h0m-1.2 9.8h0m-1.2 5.2h0m0 3.7h0" stroke="#3cb44b" stroke-opacity="0.38" stroke-width="4.6" stroke-linecap="round" fill="none"/>
<path d="M610.2 450.9h0m1.2 10.5h0m0 10.6h0m2.4 1h0m-4.8 3.3h0m2.4 .4h0m-4.5 7.6h0m4.4 .9h0m5.3 5h0m-8.4 3.6h0m.9 6.8h0m-4.4 4.1h0m2.2 6.8h0m2.1 6.9h0m2.4 1.1h0m-2.4 3.8h0m1.2 13.5h0" stroke="#3cb44b" stroke-opacity="0.38" stroke-width="4.6" stroke-linecap="round" fill="none"/>
<path d="M610.2 447.7h0m1.2 17.7h0m-2.4 8.8h0m2.3 17.1h0m4.8 4h0m-6.8 3.2h0m2 1.8h0m-5.1 6.2h0m4 .6h0m-2.4 5.7h0m6 7.3h0m0 14.2h0m-3.6 18.8h0m0 6h0" stroke="#3cb44b" stroke-opacity="0.38" stroke-width="4.6" stroke-linecap="round" fill="none"/>
<path d="M609.0 464.7h0m0 4h0m4.8 6.2h0m2.4 .8h0m-9.6 1.6h0m6 .9h0m2.4 3.7h0m-8.8 6.3h0m9.5 2.3h0m-11.4 2.6h0m9.2 8.4h0m-3.3 1h0m5.9 4.4h0m-2.6 1.9h0m-3.3 4.2h0m-2.4 1.9h0m7.2 1.1h0m1.2 6.6h0m-8.4 7.1h0m2.4 9.9h0" stroke="#3cb44b" stroke-opacity="0.38" stroke-width="4.6" stroke-linecap="round" fill="none"/>
<line x1="111.9" y1="472.5" x2="125.5" y2="472.5" stroke="#111" stroke-width="1.1"/>
<circle cx="114.4" cy="472.5" r="2.35" fill="#333" stroke="#111" stroke-width="0.9"/>
<circle cx="118.7" cy="472.5" r="2.35" fill="#333" stroke="#111" stroke-width="0.9"/>
<circle cx="123.0" cy="472.5" r="2.35" fill="#333" stroke="#111" stroke-width="0.9"/>
<line x1="132.5" y1="472.5" x2="146.1" y2="472.5" stroke="#111" stroke-width="1.1"/>
<circle cx="135.0" cy="472.5" r="2.35" fill="#888" stroke="#111" stroke-width="0.9"/>
<circle cx="139.3" cy="472.5" r="2.35" fill="#888" stroke="#111" stroke-width="0.9"/>
<circle cx="143.6" cy="472.5" r="2.35" fill="#888" stroke="#111" stroke-width="0.9"/>
<line x1="152.9" y1="472.5" x2="166.5" y2="472.5" stroke="#111" stroke-width="1.1"/>
<circle cx="155.4" cy="472.5" r="2.35" fill="#1a72c4" stroke="#111" stroke-width="0.9"/>
<circle cx="159.7" cy="472.5" r="2.35" fill="#1a72c4" stroke="#111" stroke-width="0.9"/>
<circle cx="164.0" cy="472.5" r="2.35" fill="#1a72c4" stroke="#111" stroke-width="0.9"/>
<line x1="173.8" y1="472.5" x2="187.4" y2="472.5" stroke="#111" stroke-width="1.1"/>
<circle cx="176.3" cy="472.5" r="2.35" fill="#a8c8ee" stroke="#111" stroke-width="0.9"/>
<circle cx="180.6" cy="472.5" r="2.35" fill="#a8c8ee" stroke="#111" stroke-width="0.9"/>
<circle cx="184.9" cy="472.5" r="2.35" fill="#a8c8ee" stroke="#111" stroke-width="0.9"/>
<line x1="194.2" y1="472.5" x2="207.8" y2="472.5" stroke="#111" stroke-width="1.1"/>
<circle cx="196.7" cy="472.5" r="2.35" fill="#c0262c" stroke="#111" stroke-width="0.9"/>
<circle cx="201.0" cy="472.5" r="2.35" fill="#c0262c" stroke="#111" stroke-width="0.9"/>
<circle cx="205.3" cy="472.5" r="2.35" fill="#c0262c" stroke="#111" stroke-width="0.9"/>
<line x1="214.7" y1="472.5" x2="228.3" y2="472.5" stroke="#111" stroke-width="1.1"/>
<circle cx="217.2" cy="472.5" r="2.35" fill="#ff5a50" stroke="#111" stroke-width="0.9"/>
<circle cx="221.5" cy="472.5" r="2.35" fill="#ff5a50" stroke="#111" stroke-width="0.9"/>
<circle cx="225.8" cy="472.5" r="2.35" fill="#ff5a50" stroke="#111" stroke-width="0.9"/>
<line x1="235.5" y1="472.5" x2="249.1" y2="472.5" stroke="#111" stroke-width="1.1"/>
<circle cx="238.0" cy="472.5" r="2.35" fill="#0a6e32" stroke="#111" stroke-width="0.9"/>
<circle cx="242.3" cy="472.5" r="2.35" fill="#0a6e32" stroke="#111" stroke-width="0.9"/>
<circle cx="246.6" cy="472.5" r="2.35" fill="#0a6e32" stroke="#111" stroke-width="0.9"/>
<line x1="256.0" y1="472.5" x2="269.6" y2="472.5" stroke="#111" stroke-width="1.1"/>
<circle cx="258.5" cy="472.5" r="2.35" fill="#3cb44b" stroke="#111" stroke-width="0.9"/>
<circle cx="262.8" cy="472.5" r="2.35" fill="#3cb44b" stroke="#111" stroke-width="0.9"/>
<circle cx="267.1" cy="472.5" r="2.35" fill="#3cb44b" stroke="#111" stroke-width="0.9"/>
<line x1="285.7" y1="499.5" x2="299.3" y2="499.5" stroke="#111" stroke-width="1.1"/>
<circle cx="289.0" cy="505.7" r="2.35" fill="#333" stroke="#111" stroke-width="0.9"/>
<circle cx="292.5" cy="510.0" r="2.35" fill="#333" stroke="#111" stroke-width="0.9"/>
<circle cx="296.0" cy="488.0" r="2.35" fill="#333" stroke="#111" stroke-width="0.9"/>
<line x1="306.6" y1="488.9" x2="320.2" y2="488.9" stroke="#111" stroke-width="1.1"/>
<circle cx="309.0" cy="498.7" r="2.35" fill="#888" stroke="#111" stroke-width="0.9"/>
<circle cx="313.0" cy="499.0" r="2.35" fill="#888" stroke="#111" stroke-width="0.9"/>
<circle cx="316.5" cy="475.3" r="2.35" fill="#888" stroke="#111" stroke-width="0.9"/>
<line x1="326.9" y1="488.0" x2="340.5" y2="488.0" stroke="#111" stroke-width="1.1"/>
<circle cx="329.5" cy="492.3" r="2.35" fill="#1a72c4" stroke="#111" stroke-width="0.9"/>
<circle cx="333.7" cy="507.7" r="2.35" fill="#1a72c4" stroke="#111" stroke-width="0.9"/>
<circle cx="337.5" cy="470.7" r="2.35" fill="#1a72c4" stroke="#111" stroke-width="0.9"/>
<line x1="347.8" y1="460.9" x2="361.4" y2="460.9" stroke="#111" stroke-width="1.1"/>
<circle cx="350.5" cy="461.3" r="2.35" fill="#a8c8ee" stroke="#111" stroke-width="0.9"/>
<circle cx="354.5" cy="473.0" r="2.35" fill="#a8c8ee" stroke="#111" stroke-width="0.9"/>
<circle cx="358.5" cy="453.0" r="2.35" fill="#a8c8ee" stroke="#111" stroke-width="0.9"/>
<line x1="368.1" y1="495.7" x2="381.7" y2="495.7" stroke="#111" stroke-width="1.1"/>
<circle cx="370.5" cy="504.7" r="2.35" fill="#c0262c" stroke="#111" stroke-width="0.9"/>
<circle cx="375.0" cy="505.0" r="2.35" fill="#c0262c" stroke="#111" stroke-width="0.9"/>
<circle cx="378.5" cy="476.3" r="2.35" fill="#c0262c" stroke="#111" stroke-width="0.9"/>
<line x1="388.6" y1="462.8" x2="402.2" y2="462.8" stroke="#111" stroke-width="1.1"/>
<circle cx="391.0" cy="463.0" r="2.35" fill="#ff5a50" stroke="#111" stroke-width="0.9"/>
<circle cx="395.0" cy="468.7" r="2.35" fill="#ff5a50" stroke="#111" stroke-width="0.9"/>
<circle cx="399.0" cy="460.7" r="2.35" fill="#ff5a50" stroke="#111" stroke-width="0.9"/>
<line x1="408.8" y1="501.5" x2="422.4" y2="501.5" stroke="#111" stroke-width="1.1"/>
<circle cx="411.5" cy="502.0" r="2.35" fill="#0a6e32" stroke="#111" stroke-width="0.9"/>
<circle cx="415.5" cy="509.7" r="2.35" fill="#0a6e32" stroke="#111" stroke-width="0.9"/>
<circle cx="420.0" cy="490.0" r="2.35" fill="#0a6e32" stroke="#111" stroke-width="0.9"/>
<line x1="429.6" y1="469.6" x2="443.2" y2="469.6" stroke="#111" stroke-width="1.1"/>
<circle cx="432.5" cy="472.3" r="2.35" fill="#3cb44b" stroke="#111" stroke-width="0.9"/>
<circle cx="436.5" cy="477.0" r="2.35" fill="#3cb44b" stroke="#111" stroke-width="0.9"/>
<circle cx="440.5" cy="459.0" r="2.35" fill="#3cb44b" stroke="#111" stroke-width="0.9"/>
<line x1="459.3" y1="521.8" x2="472.9" y2="521.8" stroke="#111" stroke-width="1.1"/>
<circle cx="462.5" cy="523.3" r="2.35" fill="#333" stroke="#111" stroke-width="0.9"/>
<circle cx="466.0" cy="527.3" r="2.35" fill="#333" stroke="#111" stroke-width="0.9"/>
<circle cx="470.0" cy="518.7" r="2.35" fill="#333" stroke="#111" stroke-width="0.9"/>
<line x1="479.7" y1="513.1" x2="493.3" y2="513.1" stroke="#111" stroke-width="1.1"/>
<circle cx="482.5" cy="513.7" r="2.35" fill="#888" stroke="#111" stroke-width="0.9"/>
<circle cx="486.5" cy="519.7" r="2.35" fill="#888" stroke="#111" stroke-width="0.9"/>
<circle cx="490.5" cy="507.7" r="2.35" fill="#888" stroke="#111" stroke-width="0.9"/>
<line x1="500.4" y1="512.1" x2="514.0" y2="512.1" stroke="#111" stroke-width="1.1"/>
<circle cx="503.0" cy="514.0" r="2.35" fill="#1a72c4" stroke="#111" stroke-width="0.9"/>
<circle cx="507.0" cy="518.7" r="2.35" fill="#1a72c4" stroke="#111" stroke-width="0.9"/>
<circle cx="510.5" cy="502.3" r="2.35" fill="#1a72c4" stroke="#111" stroke-width="0.9"/>
<line x1="520.8" y1="485.1" x2="534.4" y2="485.1" stroke="#111" stroke-width="1.1"/>
<circle cx="523.5" cy="488.3" r="2.35" fill="#a8c8ee" stroke="#111" stroke-width="0.9"/>
<circle cx="528.0" cy="493.3" r="2.35" fill="#a8c8ee" stroke="#111" stroke-width="0.9"/>
<circle cx="531.5" cy="479.0" r="2.35" fill="#a8c8ee" stroke="#111" stroke-width="0.9"/>
<line x1="541.6" y1="516.0" x2="555.2" y2="516.0" stroke="#111" stroke-width="1.1"/>
<circle cx="544.0" cy="516.7" r="2.35" fill="#c0262c" stroke="#111" stroke-width="0.9"/>
<circle cx="548.5" cy="523.3" r="2.35" fill="#c0262c" stroke="#111" stroke-width="0.9"/>
<circle cx="552.5" cy="507.3" r="2.35" fill="#c0262c" stroke="#111" stroke-width="0.9"/>
<line x1="562.0" y1="489.9" x2="575.6" y2="489.9" stroke="#111" stroke-width="1.1"/>
<circle cx="565.0" cy="490.3" r="2.35" fill="#ff5a50" stroke="#111" stroke-width="0.9"/>
<circle cx="569.0" cy="496.7" r="2.35" fill="#ff5a50" stroke="#111" stroke-width="0.9"/>
<circle cx="573.0" cy="483.0" r="2.35" fill="#ff5a50" stroke="#111" stroke-width="0.9"/>
<line x1="582.7" y1="515.0" x2="596.3" y2="515.0" stroke="#111" stroke-width="1.1"/>
<circle cx="585.5" cy="515.0" r="2.35" fill="#0a6e32" stroke="#111" stroke-width="0.9"/>
<circle cx="589.5" cy="521.0" r="2.35" fill="#0a6e32" stroke="#111" stroke-width="0.9"/>
<circle cx="593.5" cy="509.0" r="2.35" fill="#0a6e32" stroke="#111" stroke-width="0.9"/>
<line x1="603.4" y1="498.6" x2="617.0" y2="498.6" stroke="#111" stroke-width="1.1"/>
<circle cx="607.0" cy="500.3" r="2.35" fill="#3cb44b" stroke="#111" stroke-width="0.9"/>
<circle cx="610.5" cy="504.0" r="2.35" fill="#3cb44b" stroke="#111" stroke-width="0.9"/>
<circle cx="614.5" cy="487.3" r="2.35" fill="#3cb44b" stroke="#111" stroke-width="0.9"/>
<path d="M106.8 350.4H625.6V569.1H106.8" fill="none" stroke="#333" stroke-width="1.2"/>
<line x1="106.8" y1="350.4" x2="106.8" y2="569.1" stroke="#8a8a8a" stroke-width="1.6"/>
<line x1="278.4" y1="350.4" x2="278.4" y2="569.1" stroke="#444" stroke-width="1.2"/>
<line x1="451.5" y1="350.4" x2="451.5" y2="569.1" stroke="#444" stroke-width="1.2"/>
<text x="103.8" y="359.5" font-size="9.5" text-anchor="end" fill="#222" >post UV</text>
<text x="109.3" y="359.5" font-size="9.5" text-anchor="start" fill="#222" >0 h</text>
<text x="283.1" y="359.2" font-size="9.5" text-anchor="start" fill="#222" >1 h</text>
<text x="455.5" y="359.2" font-size="9.5" text-anchor="start" fill="#222" >2 h</text>
<line x1="103.3" y1="569.1" x2="106.8" y2="569.1" stroke="#333" stroke-width="1"/>
<text x="101.6" y="569.4" font-size="9.5" text-anchor="end" fill="#222" >0.0</text>
<line x1="103.3" y1="520.8" x2="106.8" y2="520.8" stroke="#333" stroke-width="1"/>
<text x="101.6" y="524.1" font-size="9.5" text-anchor="end" fill="#222" >0.5</text>
<line x1="103.3" y1="472.5" x2="106.8" y2="472.5" stroke="#333" stroke-width="1"/>
<text x="101.6" y="475.8" font-size="9.5" text-anchor="end" fill="#222" >1.0</text>
<line x1="103.3" y1="424.2" x2="106.8" y2="424.2" stroke="#333" stroke-width="1"/>
<text x="101.6" y="427.5" font-size="9.5" text-anchor="end" fill="#222" >1.5</text>
<line x1="103.3" y1="375.9" x2="106.8" y2="375.9" stroke="#333" stroke-width="1"/>
<text x="101.6" y="379.2" font-size="9.5" text-anchor="end" fill="#222" >2.0</text>
<text transform="translate(83.6,460) rotate(-90)" font-size="9.4" text-anchor="middle" fill="#222">RNAPIIS2P ratio (in / outside damage)</text>
<line x1="118.7" y1="569.1" x2="118.7" y2="572.6" stroke="#333" stroke-width="1"/>
<line x1="139.3" y1="569.1" x2="139.3" y2="572.6" stroke="#333" stroke-width="1"/>
<circle cx="139.3" cy="580.3" r="2.4" fill="#111"/>
<line x1="159.7" y1="569.1" x2="159.7" y2="572.6" stroke="#333" stroke-width="1"/>
<line x1="180.6" y1="569.1" x2="180.6" y2="572.6" stroke="#333" stroke-width="1"/>
<circle cx="180.6" cy="580.3" r="2.4" fill="#111"/>
<line x1="201.0" y1="569.1" x2="201.0" y2="572.6" stroke="#333" stroke-width="1"/>
<line x1="221.5" y1="569.1" x2="221.5" y2="572.6" stroke="#333" stroke-width="1"/>
<circle cx="221.5" cy="580.3" r="2.4" fill="#111"/>
<line x1="242.3" y1="569.1" x2="242.3" y2="572.6" stroke="#333" stroke-width="1"/>
<line x1="262.8" y1="569.1" x2="262.8" y2="572.6" stroke="#333" stroke-width="1"/>
<circle cx="262.8" cy="580.3" r="2.4" fill="#111"/>
<line x1="292.5" y1="569.1" x2="292.5" y2="572.6" stroke="#333" stroke-width="1"/>
<line x1="313.4" y1="569.1" x2="313.4" y2="572.6" stroke="#333" stroke-width="1"/>
<circle cx="313.4" cy="580.3" r="2.4" fill="#111"/>
<line x1="333.7" y1="569.1" x2="333.7" y2="572.6" stroke="#333" stroke-width="1"/>
<line x1="354.6" y1="569.1" x2="354.6" y2="572.6" stroke="#333" stroke-width="1"/>
<circle cx="354.6" cy="580.3" r="2.4" fill="#111"/>
<line x1="374.9" y1="569.1" x2="374.9" y2="572.6" stroke="#333" stroke-width="1"/>
<line x1="395.4" y1="569.1" x2="395.4" y2="572.6" stroke="#333" stroke-width="1"/>
<circle cx="395.4" cy="580.3" r="2.4" fill="#111"/>
<line x1="415.6" y1="569.1" x2="415.6" y2="572.6" stroke="#333" stroke-width="1"/>
<line x1="436.4" y1="569.1" x2="436.4" y2="572.6" stroke="#333" stroke-width="1"/>
<circle cx="436.4" cy="580.3" r="2.4" fill="#111"/>
<line x1="466.1" y1="569.1" x2="466.1" y2="572.6" stroke="#333" stroke-width="1"/>
<line x1="486.5" y1="569.1" x2="486.5" y2="572.6" stroke="#333" stroke-width="1"/>
<circle cx="486.5" cy="580.3" r="2.4" fill="#111"/>
<line x1="507.2" y1="569.1" x2="507.2" y2="572.6" stroke="#333" stroke-width="1"/>
<line x1="527.6" y1="569.1" x2="527.6" y2="572.6" stroke="#333" stroke-width="1"/>
<circle cx="527.6" cy="580.3" r="2.4" fill="#111"/>
<line x1="548.4" y1="569.1" x2="548.4" y2="572.6" stroke="#333" stroke-width="1"/>
<line x1="568.8" y1="569.1" x2="568.8" y2="572.6" stroke="#333" stroke-width="1"/>
<circle cx="568.8" cy="580.3" r="2.4" fill="#111"/>
<line x1="589.5" y1="569.1" x2="589.5" y2="572.6" stroke="#333" stroke-width="1"/>
<line x1="610.2" y1="569.1" x2="610.2" y2="572.6" stroke="#333" stroke-width="1"/>
<circle cx="610.2" cy="580.3" r="2.4" fill="#111"/>
<text x="100.3" y="581.6" font-size="9.5" text-anchor="end" fill="#222" >VCPi</text>
<line x1="112.2" y1="586.4" x2="145.8" y2="586.4" stroke="#999" stroke-width="1"/>
<text x="129.0" y="598.8" font-size="9.5" text-anchor="middle" fill="#222" >WT</text>
<line x1="153.3" y1="586.4" x2="186.9" y2="586.4" stroke="#999" stroke-width="1"/>
<text x="171.3" y="598.8" font-size="9.5" text-anchor="middle" fill="#222" >XPA<tspan font-size="5.5" dy="-3.2">KO</tspan></text>
<line x1="194.4" y1="586.4" x2="228.1" y2="586.4" stroke="#999" stroke-width="1"/>
<text x="212.4" y="598.8" font-size="9.5" text-anchor="middle" fill="#222" >XPG<tspan font-size="5.5" dy="-3.2">KO</tspan></text>
<line x1="235.8" y1="586.4" x2="269.4" y2="586.4" stroke="#999" stroke-width="1"/>
<text x="253.8" y="598.8" font-size="9.5" text-anchor="middle" fill="#222" >ERCC1<tspan font-size="5.5" dy="-3.2">KO</tspan></text>
<line x1="286.1" y1="586.4" x2="319.8" y2="586.4" stroke="#444" stroke-width="1"/>
<text x="302.9" y="598.8" font-size="9.5" text-anchor="middle" fill="#222" >WT</text>
<line x1="327.3" y1="586.4" x2="360.9" y2="586.4" stroke="#444" stroke-width="1"/>
<text x="345.3" y="598.8" font-size="9.5" text-anchor="middle" fill="#222" >XPA<tspan font-size="5.5" dy="-3.2">KO</tspan></text>
<line x1="368.3" y1="586.4" x2="401.9" y2="586.4" stroke="#444" stroke-width="1"/>
<text x="386.3" y="598.8" font-size="9.5" text-anchor="middle" fill="#222" >XPG<tspan font-size="5.5" dy="-3.2">KO</tspan></text>
<line x1="409.2" y1="586.4" x2="442.8" y2="586.4" stroke="#444" stroke-width="1"/>
<text x="427.2" y="598.8" font-size="9.5" text-anchor="middle" fill="#222" >ERCC1<tspan font-size="5.5" dy="-3.2">KO</tspan></text>
<line x1="459.5" y1="586.4" x2="493.1" y2="586.4" stroke="#444" stroke-width="1"/>
<text x="476.3" y="598.8" font-size="9.5" text-anchor="middle" fill="#222" >WT</text>
<line x1="500.6" y1="586.4" x2="534.2" y2="586.4" stroke="#444" stroke-width="1"/>
<text x="518.6" y="598.8" font-size="9.5" text-anchor="middle" fill="#222" >XPA<tspan font-size="5.5" dy="-3.2">KO</tspan></text>
<line x1="541.8" y1="586.4" x2="575.4" y2="586.4" stroke="#444" stroke-width="1"/>
<text x="559.8" y="598.8" font-size="9.5" text-anchor="middle" fill="#222" >XPG<tspan font-size="5.5" dy="-3.2">KO</tspan></text>
<line x1="583.1" y1="586.4" x2="616.6" y2="586.4" stroke="#444" stroke-width="1"/>
<text x="601.1" y="598.8" font-size="9.5" text-anchor="middle" fill="#222" >ERCC1<tspan font-size="5.5" dy="-3.2">KO</tspan></text>
<line x1="288.5" y1="372.5" x2="310.1" y2="372.5" stroke="#444" stroke-width="1"/>
<text x="299.3" y="370.4" font-size="8.5" text-anchor="middle" fill="#222" >ns</text>
<line x1="331.3" y1="372.5" x2="352.9" y2="372.5" stroke="#444" stroke-width="1"/>
<text x="342.1" y="373.3" font-size="9.5" text-anchor="middle" fill="#222" >**</text>
<line x1="372.1" y1="372.5" x2="392.9" y2="372.5" stroke="#444" stroke-width="1"/>
<text x="382.5" y="373.3" font-size="9.5" text-anchor="middle" fill="#222" >***</text>
<line x1="415.1" y1="372.5" x2="436.4" y2="372.5" stroke="#444" stroke-width="1"/>
<text x="425.8" y="373.3" font-size="9.5" text-anchor="middle" fill="#222" >***</text>
<line x1="461.1" y1="372.5" x2="483.0" y2="372.5" stroke="#444" stroke-width="1"/>
<text x="472.1" y="370.4" font-size="8.5" text-anchor="middle" fill="#222" >ns</text>
<line x1="503.3" y1="372.5" x2="525.4" y2="372.5" stroke="#444" stroke-width="1"/>
<text x="514.4" y="373.3" font-size="9.5" text-anchor="middle" fill="#222" >**</text>
<line x1="544.9" y1="372.5" x2="567.0" y2="372.5" stroke="#444" stroke-width="1"/>
<text x="556.0" y="373.3" font-size="9.5" text-anchor="middle" fill="#222" >**</text>
<line x1="587.9" y1="372.5" x2="610.6" y2="372.5" stroke="#444" stroke-width="1"/>
<text x="599.2" y="370.4" font-size="8.5" text-anchor="middle" fill="#222" >ns</text>
</svg></body></html>
